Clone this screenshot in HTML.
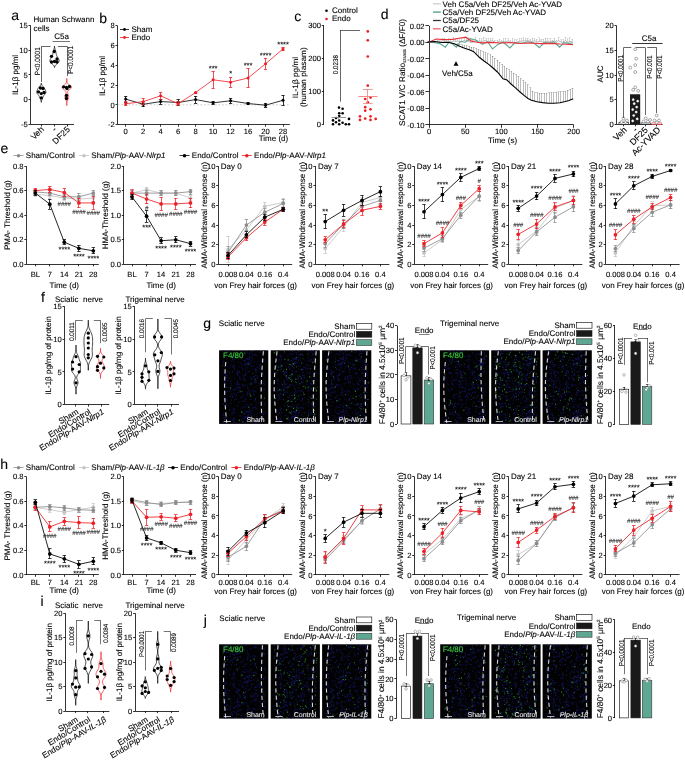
<!DOCTYPE html>
<html><head><meta charset="utf-8"><title>Figure</title>
<style>
html,body{margin:0;padding:0;background:#fff;}
body{width:685px;height:763px;overflow:hidden;}
svg{display:block;font-family:"Liberation Sans",sans-serif;will-change:transform;text-rendering:geometricPrecision;}
text{stroke-width:0.1px;}
</style></head><body>
<svg width="685" height="763" viewBox="0 0 685 763">
<rect width="685" height="763" fill="#fff"/>
<defs><pattern id="nz" width="47" height="53" patternUnits="userSpaceOnUse"><path d="M18.99 10.6h1v1h-1zM11.68 40.27h1v1h-1zM44.1 25.93h1v1h-1zM36.4 24.86h1v1h-1zM12.66 0.4h1v1h-1zM46.51 28.32h1v1h-1zM1.74 1.24h1v1h-1zM38.52 4.3h1v1h-1zM4.04 16.42h1v1h-1zM15.5 27.74h1v1h-1zM37 2.94h1v1h-1zM35.12 32.23h1v1h-1zM4.53 7.61h1v1h-1zM8.35 7.71h1v1h-1zM8.74 3.84h1v1h-1zM27.53 2.53h1v1h-1zM18.76 43.59h1v1h-1zM19.46 19.66h1v1h-1zM18.73 23.53h1v1h-1zM30.75 34.63h1v1h-1zM41.09 38.2h1v1h-1zM38.04 35.74h1v1h-1zM13.93 39.83h1v1h-1zM20.58 51.08h1v1h-1zM12.07 46.72h1v1h-1zM30.94 32.38h1v1h-1zM31.34 23.32h1v1h-1zM32.63 51.13h1v1h-1zM10.87 45.61h1v1h-1zM36.14 10.62h1v1h-1zM45.17 22.09h1v1h-1zM37.3 21.12h1v1h-1zM21.66 6.81h1v1h-1zM19.65 50.58h1v1h-1zM41.8 25.25h1v1h-1zM3.51 12.7h1v1h-1zM0.72 17.48h1v1h-1zM2.23 1.92h1v1h-1zM10.81 40.04h1v1h-1zM20.64 36.86h1v1h-1zM37.85 6.21h1v1h-1zM30.67 43.21h1v1h-1zM28.72 18.02h1v1h-1zM16.09 33.13h1v1h-1zM8.44 5.89h1v1h-1zM45.43 38.73h1v1h-1zM17.71 36.15h1v1h-1zM37.36 12.47h1v1h-1zM37.27 46.33h1v1h-1zM36.38 19.78h1v1h-1zM2.14 21.02h1v1h-1zM38.06 15.67h1v1h-1zM20.09 3.83h1v1h-1zM28.5 16.82h1v1h-1zM15.37 43.94h1v1h-1zM7.7 30.06h1v1h-1zM26.58 1.52h1v1h-1zM42.33 9.53h1v1h-1zM3.48 31.18h1v1h-1zM6.21 48.6h1v1h-1zM9.79 45.3h1v1h-1zM9.48 42.43h1v1h-1zM19.79 27.79h1v1h-1zM11.77 40.66h1v1h-1zM8.89 42.05h1v1h-1zM1.8 3.29h1v1h-1zM2.35 15.52h1v1h-1zM13.88 38.46h1v1h-1zM16.19 7.54h1v1h-1zM39.24 20.12h1v1h-1zM36.65 1.14h1v1h-1zM3.31 0.04h1v1h-1zM36.08 47.93h1v1h-1zM33.47 42.85h1v1h-1zM11.44 49.31h1v1h-1zM29.2 12.88h1v1h-1zM25.13 46.19h1v1h-1zM13.47 41.08h1v1h-1zM43.49 24.05h1v1h-1zM46.82 4.51h1v1h-1zM18.15 5.1h1v1h-1zM7.44 14.53h1v1h-1zM35.18 43.91h1v1h-1zM29.82 24.35h1v1h-1zM28.84 31.9h1v1h-1zM15.87 41.63h1v1h-1zM37.29 0.56h1v1h-1zM21.52 4.43h1v1h-1zM43.86 41.16h1v1h-1zM4.18 5.91h1v1h-1zM39.36 15.78h1v1h-1zM2.01 34.38h1v1h-1zM25.49 18.52h1v1h-1zM16.17 6.8h1v1h-1zM39.2 9.17h1v1h-1zM13.89 35.4h1v1h-1zM9.34 8.35h1v1h-1zM46.14 18.64h1v1h-1zM32.01 48.71h1v1h-1zM14.73 12.56h1v1h-1zM25.76 28.36h1v1h-1zM19.33 29.28h1v1h-1zM16.24 47.5h1v1h-1zM30.61 26.49h1v1h-1zM36.64 52.41h1v1h-1zM38.13 3.7h1v1h-1zM10.18 2.37h1v1h-1zM33.95 1.73h1v1h-1zM1.53 13.21h1v1h-1zM32.5 1.69h1v1h-1zM38.7 28.42h1v1h-1zM19.5 35.86h1v1h-1zM11.94 44.56h1v1h-1zM14.26 0.01h1v1h-1zM45.85 37.23h1v1h-1zM0.84 28.01h1v1h-1zM12.02 20.85h1v1h-1zM41.56 19.85h1v1h-1zM7.32 24.57h1v1h-1zM7.21 50.73h1v1h-1zM36.34 28.19h1v1h-1zM10.13 3.41h1v1h-1zM7.37 12.96h1v1h-1zM44.83 18.08h1v1h-1zM34.06 4.57h1v1h-1zM10.12 51.72h1v1h-1zM32.48 7.2h1v1h-1zM28.89 41.29h1v1h-1zM45.35 47.82h1v1h-1zM5.7 25.96h1v1h-1zM41.77 16.66h1v1h-1zM9.18 46.53h1v1h-1zM35.47 45.98h1v1h-1zM36.26 13.45h1v1h-1zM9.71 27.4h1v1h-1zM16.3 47.71h1v1h-1zM0.82 23.95h1v1h-1zM13.27 43.19h1v1h-1zM8.75 35.85h1v1h-1zM32.43 49.1h1v1h-1zM17.52 19.37h1v1h-1zM44.62 48.87h1v1h-1zM28.34 12.23h1v1h-1zM42.84 28.54h1v1h-1zM5.24 20.6h1v1h-1zM26.01 42.56h1v1h-1zM39.58 0.38h1v1h-1zM41.16 1.21h1v1h-1zM1.55 52.31h1v1h-1zM2.81 15.24h1v1h-1zM12.17 16.7h1v1h-1zM11.67 22.87h1v1h-1zM28.12 42.78h1v1h-1zM29.94 36.35h1v1h-1zM45.98 41.16h1v1h-1zM20.12 27.01h1v1h-1zM45.27 46.54h1v1h-1zM12.79 44.97h1v1h-1zM4.09 0.83h1v1h-1zM36.62 9.23h1v1h-1zM2.2 9.52h1v1h-1zM21.77 48.94h1v1h-1zM32.38 34.95h1v1h-1zM2.01 11.47h1v1h-1zM19.57 11.2h1v1h-1zM9.48 9.08h1v1h-1zM30.19 9.08h1v1h-1zM35.74 15.43h1v1h-1z" fill="#16167c"/><path d="M18 36.27h1v1h-1zM28.82 11.48h1v1h-1zM17.58 20.57h1v1h-1zM7.16 35.01h1v1h-1zM15.92 50.18h1v1h-1zM42.31 32.09h1v1h-1zM16.8 11.44h1v1h-1zM7.56 41.97h1v1h-1zM46.2 50.03h1v1h-1zM12.11 21.42h1v1h-1zM16.63 36.83h1v1h-1zM6.15 45.79h1v1h-1zM26.37 40.84h1v1h-1zM39.77 6.21h1v1h-1zM41.34 48.92h1v1h-1zM23.65 48.08h1v1h-1zM37.05 28.26h1v1h-1zM31.88 32.03h1v1h-1zM41.71 18.31h1v1h-1zM31.26 9.1h1v1h-1zM30.89 39.38h1v1h-1zM18.8 5.95h1v1h-1zM0.06 16.46h1v1h-1zM35.13 8.87h1v1h-1zM20.87 10.88h1v1h-1zM34.73 24.81h1v1h-1zM29.13 33.48h1v1h-1zM4.94 16.3h1v1h-1zM26.19 50.26h1v1h-1zM13.87 40.1h1v1h-1zM20.99 45.06h1v1h-1zM11.76 14.5h1v1h-1zM41.82 20.28h1v1h-1zM44.04 25.4h1v1h-1zM15.78 38.89h1v1h-1zM25.05 33.58h1v1h-1zM19.46 8.8h1v1h-1zM12.95 19.35h1v1h-1zM9.32 29.63h1v1h-1zM31.86 38.41h1v1h-1zM7.06 4.58h1v1h-1zM30.39 8.83h1v1h-1zM33.7 32.59h1v1h-1zM38.41 46.4h1v1h-1zM7.46 50.01h1v1h-1zM38.25 32.34h1v1h-1zM32.6 0.98h1v1h-1zM13.57 21.18h1v1h-1zM42.36 12.07h1v1h-1zM46.61 11.24h1v1h-1zM46.49 13.49h1v1h-1zM20.24 0.17h1v1h-1zM23.64 49.66h1v1h-1zM23.59 12.33h1v1h-1zM34.69 13.17h1v1h-1zM12.06 34.53h1v1h-1zM23.71 46.15h1v1h-1zM11.03 27.8h1v1h-1zM43.39 13.51h1v1h-1zM12.24 23.98h1v1h-1zM1.28 12.27h1v1h-1zM14.94 19.89h1v1h-1zM10.44 32.9h1v1h-1zM20.48 36.67h1v1h-1zM17.38 22.46h1v1h-1zM15.32 5.43h1v1h-1zM20.9 0.89h1v1h-1zM3.65 20.32h1v1h-1zM13.27 40.52h1v1h-1zM33.09 22.57h1v1h-1zM15.08 52.81h1v1h-1zM26.47 33.61h1v1h-1zM9.04 46.81h1v1h-1zM27.2 1.04h1v1h-1zM10.25 35.39h1v1h-1zM0.6 22.77h1v1h-1zM13.48 44.41h1v1h-1zM32.46 52.91h1v1h-1zM4.92 44.62h1v1h-1zM24.74 13.26h1v1h-1zM18.38 47.09h1v1h-1zM10.22 52.83h1v1h-1zM14.41 23.74h1v1h-1zM15.47 6.82h1v1h-1zM26.12 41.41h1v1h-1zM5.38 38.76h1v1h-1zM8.14 29.41h1v1h-1zM2.02 17.23h1v1h-1zM44.33 48.44h1v1h-1zM38.12 33.29h1v1h-1zM33.76 50.91h1v1h-1zM26.2 38.61h1v1h-1zM25.09 1.09h1v1h-1zM25.09 50.62h1v1h-1zM44.9 36.5h1v1h-1zM4.35 20.72h1v1h-1zM25.61 19.75h1v1h-1zM43.34 13.73h1v1h-1zM31.21 15.33h1v1h-1zM19.17 6.83h1v1h-1zM46.13 6.87h1v1h-1zM31.09 40.69h1v1h-1zM20.41 20.35h1v1h-1zM44.98 51.15h1v1h-1zM16.7 39.24h1v1h-1zM3.04 43.9h1v1h-1zM43.81 23.9h1v1h-1zM35.81 26.32h1v1h-1zM46.31 22.87h1v1h-1zM45.6 48.59h1v1h-1zM13.56 32.27h1v1h-1zM17.46 40.27h1v1h-1zM13.36 18.48h1v1h-1zM19.39 52.45h1v1h-1zM42.5 46.48h1v1h-1zM39.45 33.38h1v1h-1zM8.34 30.04h1v1h-1zM2.27 21.14h1v1h-1zM5.53 36.45h1v1h-1zM29.55 13.11h1v1h-1zM23.77 50.67h1v1h-1zM46.65 22.72h1v1h-1zM20.42 14.68h1v1h-1zM29.28 7.6h1v1h-1zM20.87 9.71h1v1h-1zM22.9 31.58h1v1h-1zM42.75 22.77h1v1h-1zM27.67 10.01h1v1h-1zM45.86 50.78h1v1h-1zM1.83 11.65h1v1h-1zM21.68 25.24h1v1h-1zM44.89 43.57h1v1h-1zM10.03 46.37h1v1h-1zM14.18 34.16h1v1h-1zM0.68 1.52h1v1h-1zM4.24 5.73h1v1h-1zM44.74 37.72h1v1h-1zM12.67 16.96h1v1h-1zM22.64 41.82h1v1h-1zM10.38 13.02h1v1h-1zM8.96 14.23h1v1h-1zM8.4 46.53h1v1h-1zM18.07 7.41h1v1h-1zM10.66 39.89h1v1h-1zM33.6 46.35h1v1h-1zM36.89 10.88h1v1h-1zM33.73 9.26h1v1h-1zM3.5 4.19h1v1h-1zM43.27 42.25h1v1h-1zM24.22 16.76h1v1h-1zM28.77 5.87h1v1h-1zM22.58 6.32h1v1h-1zM3.64 48.22h1v1h-1zM3.78 12.83h1v1h-1zM36.09 28.39h1v1h-1zM20.71 32.24h1v1h-1zM34.97 51.51h1v1h-1zM6.11 40.84h1v1h-1zM25.25 49.49h1v1h-1zM35.28 42.02h1v1h-1zM5.11 7.16h1v1h-1zM41.11 6.64h1v1h-1z" fill="#0c0c4a"/></pattern></defs>
<text x="11.2" y="20.2" font-size="14" text-anchor="start" fill="#000" stroke="#000">a</text>
<text x="33.5" y="22.2" font-size="8" text-anchor="start" fill="#000" stroke="#000">Human Schwann</text>
<text x="33.5" y="30.8" font-size="8" text-anchor="start" fill="#000" stroke="#000">cells</text>
<line x1="30.5" y1="25.3" x2="30.5" y2="124.5" stroke="#000" stroke-width="0.8"/>
<line x1="28.5" y1="25.5" x2="30.5" y2="25.5" stroke="#000" stroke-width="0.8"/>
<text x="27.7" y="28.04" font-size="7.6" text-anchor="end" fill="#000" stroke="#000">15</text>
<line x1="28.5" y1="50.5" x2="30.5" y2="50.5" stroke="#000" stroke-width="0.8"/>
<text x="27.7" y="52.84" font-size="7.6" text-anchor="end" fill="#000" stroke="#000">10</text>
<line x1="28.5" y1="74.5" x2="30.5" y2="74.5" stroke="#000" stroke-width="0.8"/>
<text x="27.7" y="77.64" font-size="7.6" text-anchor="end" fill="#000" stroke="#000">5</text>
<line x1="28.5" y1="99.5" x2="30.5" y2="99.5" stroke="#000" stroke-width="0.8"/>
<text x="27.7" y="102.44" font-size="7.6" text-anchor="end" fill="#000" stroke="#000">0</text>
<line x1="28.5" y1="124.5" x2="30.5" y2="124.5" stroke="#000" stroke-width="0.8"/>
<text x="27.7" y="127.24" font-size="7.6" text-anchor="end" fill="#000" stroke="#000">-5</text>
<line x1="30.5" y1="124.5" x2="74" y2="124.5" stroke="#000" stroke-width="0.8"/>
<line x1="41.5" y1="124.5" x2="41.5" y2="126.5" stroke="#000" stroke-width="0.8"/>
<line x1="54.5" y1="124.5" x2="54.5" y2="126.5" stroke="#000" stroke-width="0.8"/>
<line x1="67.5" y1="124.5" x2="67.5" y2="126.5" stroke="#000" stroke-width="0.8"/>
<text x="17.8" y="75" font-size="8" text-anchor="middle" fill="#000" stroke="#000" transform="rotate(-90 17.8 75)">IL-1β pg/ml</text>
<text x="61.5" y="39.2" font-size="8" text-anchor="middle" fill="#000" stroke="#000">C5a</text>
<line x1="52.5" y1="41.5" x2="70" y2="41.5" stroke="#666" stroke-width="0.9"/>
<line x1="41.3" y1="46.5" x2="50.5" y2="46.5" stroke="#000" stroke-width="0.6"/>
<line x1="58" y1="46.5" x2="67.2" y2="46.5" stroke="#000" stroke-width="0.6"/>
<line x1="41.5" y1="46.4" x2="41.5" y2="82" stroke="#000" stroke-width="0.6"/>
<line x1="67.5" y1="46.4" x2="67.5" y2="76" stroke="#000" stroke-width="0.6"/>
<text x="0" y="0" font-size="7.5" text-anchor="middle" fill="#000" stroke="#000" transform="translate(39.7 61.3) rotate(-90) scale(0.87 1)">P&lt;0.0001</text>
<text x="0" y="0" font-size="7.5" text-anchor="middle" fill="#000" stroke="#000" transform="translate(73.3 60) rotate(-90) scale(0.87 1)">P&lt;0.0001</text>
<polyline points="41.3,83.1 41.23,83.58 41.12,84.06 40.95,84.55 40.72,85.03 40.41,85.51 40.05,85.99 39.64,86.48 39.21,86.96 38.79,87.44 38.41,87.92 38.07,88.41 37.78,88.89 37.54,89.37 37.32,89.86 37.13,90.34 36.95,90.82 36.81,91.3 36.72,91.78 36.72,92.27 36.82,92.75 37.03,93.23 37.34,93.72 37.71,94.2 38.11,94.68 38.49,95.16 38.83,95.64 39.12,96.13 39.36,96.61 39.57,97.09 39.75,97.58 39.94,98.06 40.14,98.54 40.34,99.02 40.55,99.5 40.75,99.99 40.92,100.47 41.07,100.95 41.18,101.44 41.26,101.92 41.3,102.4 41.3,102.4 41.34,101.92 41.42,101.44 41.53,100.95 41.68,100.47 41.85,99.99 42.05,99.5 42.26,99.02 42.46,98.54 42.66,98.06 42.85,97.58 43.03,97.09 43.24,96.61 43.48,96.13 43.77,95.64 44.11,95.16 44.49,94.68 44.89,94.2 45.26,93.72 45.57,93.23 45.78,92.75 45.88,92.27 45.88,91.78 45.79,91.3 45.65,90.82 45.47,90.34 45.28,89.86 45.06,89.37 44.82,88.89 44.53,88.41 44.19,87.92 43.81,87.44 43.39,86.96 42.96,86.48 42.55,85.99 42.19,85.51 41.88,85.03 41.65,84.55 41.48,84.06 41.37,83.58 41.3,83.1 41.3,83.1" stroke="#000" stroke-width="0.7" fill="#fff"/>
<circle cx="40.4" cy="88" r="1.65" fill="#000" stroke="none" stroke-width="0.6"/>
<circle cx="43" cy="88.5" r="1.65" fill="#000" stroke="none" stroke-width="0.6"/>
<circle cx="38.5" cy="91.8" r="1.65" fill="#000" stroke="none" stroke-width="0.6"/>
<circle cx="44" cy="92.5" r="1.65" fill="#000" stroke="none" stroke-width="0.6"/>
<circle cx="41.3" cy="93.6" r="1.65" fill="#000" stroke="none" stroke-width="0.6"/>
<circle cx="41.3" cy="97.8" r="1.65" fill="#000" stroke="none" stroke-width="0.6"/>
<polyline points="54.5,46 54.47,46.54 54.41,47.08 54.33,47.61 54.21,48.15 54.06,48.69 53.88,49.23 53.69,49.76 53.51,50.3 53.34,50.84 53.19,51.38 53.09,51.91 53,52.45 52.93,52.99 52.86,53.52 52.77,54.06 52.64,54.6 52.47,55.14 52.26,55.67 52.02,56.21 51.76,56.75 51.47,57.29 51.16,57.83 50.83,58.36 50.51,58.9 50.22,59.44 49.99,59.98 49.85,60.51 49.86,61.05 50.02,61.59 50.34,62.12 50.81,62.66 51.38,63.2 51.99,63.74 52.59,64.28 53.13,64.81 53.58,65.35 53.93,65.89 54.19,66.42 54.36,66.96 54.5,67.5 54.5,67.5 54.64,66.96 54.81,66.42 55.07,65.89 55.42,65.35 55.87,64.81 56.41,64.28 57.01,63.74 57.62,63.2 58.19,62.66 58.66,62.12 58.98,61.59 59.14,61.05 59.15,60.51 59.01,59.98 58.78,59.44 58.49,58.9 58.17,58.36 57.84,57.83 57.53,57.29 57.24,56.75 56.98,56.21 56.74,55.67 56.53,55.14 56.36,54.6 56.23,54.06 56.14,53.52 56.07,52.99 56,52.45 55.91,51.91 55.81,51.38 55.66,50.84 55.49,50.3 55.31,49.76 55.12,49.23 54.94,48.69 54.79,48.15 54.67,47.61 54.59,47.08 54.53,46.54 54.5,46 54.5,46" stroke="#000" stroke-width="0.7" fill="#fff"/>
<circle cx="54.3" cy="51.5" r="1.65" fill="#000" stroke="none" stroke-width="0.6"/>
<circle cx="51.5" cy="56.3" r="1.65" fill="#000" stroke="none" stroke-width="0.6"/>
<circle cx="57" cy="59" r="1.65" fill="#000" stroke="none" stroke-width="0.6"/>
<circle cx="51.5" cy="62" r="1.65" fill="#000" stroke="none" stroke-width="0.6"/>
<circle cx="54.5" cy="61.5" r="1.65" fill="#000" stroke="none" stroke-width="0.6"/>
<circle cx="57" cy="62" r="1.65" fill="#000" stroke="none" stroke-width="0.6"/>
<polyline points="66.8,78.5 66.8,79.18 66.8,79.86 66.78,80.53 66.75,81.21 66.66,81.89 66.48,82.56 66.15,83.24 65.61,83.92 64.86,84.6 63.96,85.28 63.06,85.95 62.37,86.63 62.07,87.31 62.24,87.98 62.82,88.66 63.65,89.34 64.52,90.02 65.27,90.69 65.79,91.37 66.04,92.05 66.05,92.73 65.88,93.41 65.61,94.08 65.33,94.76 65.09,95.44 64.94,96.11 64.89,96.79 64.94,97.47 65.09,98.15 65.33,98.82 65.63,99.5 65.94,100.18 66.24,100.86 66.47,101.53 66.63,102.21 66.72,102.89 66.77,103.57 66.79,104.24 66.8,104.92 66.8,105.6 66.8,105.6 66.8,104.92 66.81,104.24 66.83,103.57 66.88,102.89 66.97,102.21 67.13,101.53 67.36,100.86 67.66,100.18 67.97,99.5 68.27,98.82 68.51,98.15 68.66,97.47 68.71,96.79 68.66,96.11 68.51,95.44 68.27,94.76 67.99,94.08 67.72,93.41 67.55,92.73 67.56,92.05 67.81,91.37 68.33,90.69 69.08,90.02 69.95,89.34 70.78,88.66 71.36,87.98 71.53,87.31 71.23,86.63 70.54,85.95 69.64,85.28 68.74,84.6 67.99,83.92 67.45,83.24 67.12,82.56 66.94,81.89 66.85,81.21 66.82,80.53 66.8,79.86 66.8,79.18 66.8,78.5 66.8,78.5" stroke="#ec1f26" stroke-width="0.7" fill="#fff"/>
<circle cx="63.6" cy="86.8" r="1.65" fill="#000" stroke="none" stroke-width="0.6"/>
<circle cx="66.5" cy="87.5" r="1.65" fill="#000" stroke="none" stroke-width="0.6"/>
<circle cx="69.5" cy="86.5" r="1.65" fill="#000" stroke="none" stroke-width="0.6"/>
<circle cx="67" cy="88.5" r="1.65" fill="#000" stroke="none" stroke-width="0.6"/>
<circle cx="66.5" cy="95.5" r="1.65" fill="#000" stroke="none" stroke-width="0.6"/>
<circle cx="66.5" cy="98.5" r="1.65" fill="#000" stroke="none" stroke-width="0.6"/>
<text x="44.5" y="130" font-size="8.5" text-anchor="end" fill="#000" stroke="#000" transform="rotate(-45 44.5 130)">Veh</text>
<text x="57" y="130" font-size="8.5" text-anchor="end" fill="#000" stroke="#000" transform="rotate(-45 57 130)">-</text>
<text x="70.5" y="130" font-size="8.5" text-anchor="end" fill="#000" stroke="#000" transform="rotate(-45 70.5 130)">DF25</text>
<text x="99.2" y="22.5" font-size="14" text-anchor="start" fill="#000" stroke="#000">b</text>
<line x1="117.5" y1="25.7" x2="117.5" y2="124.7" stroke="#000" stroke-width="0.8"/>
<line x1="115.5" y1="25.5" x2="117.5" y2="25.5" stroke="#000" stroke-width="0.8"/>
<text x="114.7" y="28.44" font-size="7.6" text-anchor="end" fill="#000" stroke="#000">8</text>
<line x1="115.5" y1="45.5" x2="117.5" y2="45.5" stroke="#000" stroke-width="0.8"/>
<text x="114.7" y="48.21" font-size="7.6" text-anchor="end" fill="#000" stroke="#000">6</text>
<line x1="115.5" y1="65.5" x2="117.5" y2="65.5" stroke="#000" stroke-width="0.8"/>
<text x="114.7" y="67.99" font-size="7.6" text-anchor="end" fill="#000" stroke="#000">4</text>
<line x1="115.5" y1="85.5" x2="117.5" y2="85.5" stroke="#000" stroke-width="0.8"/>
<text x="114.7" y="87.76" font-size="7.6" text-anchor="end" fill="#000" stroke="#000">2</text>
<line x1="115.5" y1="104.5" x2="117.5" y2="104.5" stroke="#000" stroke-width="0.8"/>
<text x="114.7" y="107.54" font-size="7.6" text-anchor="end" fill="#000" stroke="#000">0</text>
<line x1="115.5" y1="124.5" x2="117.5" y2="124.5" stroke="#000" stroke-width="0.8"/>
<text x="114.7" y="127.31" font-size="7.6" text-anchor="end" fill="#000" stroke="#000">-2</text>
<line x1="117.5" y1="124.5" x2="289.8" y2="124.5" stroke="#000" stroke-width="0.8"/>
<line x1="125.5" y1="124.7" x2="125.5" y2="126.7" stroke="#000" stroke-width="0.8"/>
<line x1="143.5" y1="124.7" x2="143.5" y2="126.7" stroke="#000" stroke-width="0.8"/>
<line x1="160.5" y1="124.7" x2="160.5" y2="126.7" stroke="#000" stroke-width="0.8"/>
<line x1="178.5" y1="124.7" x2="178.5" y2="126.7" stroke="#000" stroke-width="0.8"/>
<line x1="195.5" y1="124.7" x2="195.5" y2="126.7" stroke="#000" stroke-width="0.8"/>
<line x1="213.5" y1="124.7" x2="213.5" y2="126.7" stroke="#000" stroke-width="0.8"/>
<line x1="230.5" y1="124.7" x2="230.5" y2="126.7" stroke="#000" stroke-width="0.8"/>
<line x1="248.5" y1="124.7" x2="248.5" y2="126.7" stroke="#000" stroke-width="0.8"/>
<line x1="265.5" y1="124.7" x2="265.5" y2="126.7" stroke="#000" stroke-width="0.8"/>
<line x1="283.5" y1="124.7" x2="283.5" y2="126.7" stroke="#000" stroke-width="0.8"/>
<text x="125.7" y="134.2" font-size="7.6" text-anchor="middle" fill="#000" stroke="#000">0</text>
<text x="143.18" y="134.2" font-size="7.6" text-anchor="middle" fill="#000" stroke="#000">2</text>
<text x="160.66" y="134.2" font-size="7.6" text-anchor="middle" fill="#000" stroke="#000">4</text>
<text x="178.14" y="134.2" font-size="7.6" text-anchor="middle" fill="#000" stroke="#000">6</text>
<text x="195.62" y="134.2" font-size="7.6" text-anchor="middle" fill="#000" stroke="#000">8</text>
<text x="213.1" y="134.2" font-size="7.6" text-anchor="middle" fill="#000" stroke="#000">10</text>
<text x="230.58" y="134.2" font-size="7.6" text-anchor="middle" fill="#000" stroke="#000">12</text>
<text x="248.06" y="134.2" font-size="7.6" text-anchor="middle" fill="#000" stroke="#000">16</text>
<text x="265.54" y="134.2" font-size="7.6" text-anchor="middle" fill="#000" stroke="#000">20</text>
<text x="283.02" y="134.2" font-size="7.6" text-anchor="middle" fill="#000" stroke="#000">28</text>
<text x="273.5" y="141" font-size="8" text-anchor="middle" fill="#000" stroke="#000">Time (d)</text>
<text x="105.3" y="76" font-size="8" text-anchor="middle" fill="#000" stroke="#000" transform="rotate(-90 105.3 76)">IL-1β pg/ml</text>
<line x1="117.5" y1="104.8" x2="289.8" y2="104.8" stroke="#bdbdbd" stroke-width="0.7" stroke-dasharray="2,1.6"/>
<line x1="125.5" y1="96.11" x2="125.5" y2="102.04" stroke="#000" stroke-width="0.8"/>
<line x1="124.1" y1="96.5" x2="127.3" y2="96.5" stroke="#000" stroke-width="0.8"/>
<line x1="124.1" y1="102.5" x2="127.3" y2="102.5" stroke="#000" stroke-width="0.8"/>
<line x1="143.5" y1="101.84" x2="143.5" y2="106.79" stroke="#000" stroke-width="0.8"/>
<line x1="141.58" y1="101.5" x2="144.78" y2="101.5" stroke="#000" stroke-width="0.8"/>
<line x1="141.58" y1="106.5" x2="144.78" y2="106.5" stroke="#000" stroke-width="0.8"/>
<line x1="160.5" y1="99.07" x2="160.5" y2="104.02" stroke="#000" stroke-width="0.8"/>
<line x1="159.06" y1="99.5" x2="162.26" y2="99.5" stroke="#000" stroke-width="0.8"/>
<line x1="159.06" y1="104.5" x2="162.26" y2="104.5" stroke="#000" stroke-width="0.8"/>
<line x1="178.5" y1="99.57" x2="178.5" y2="105.5" stroke="#000" stroke-width="0.8"/>
<line x1="176.54" y1="99.5" x2="179.74" y2="99.5" stroke="#000" stroke-width="0.8"/>
<line x1="176.54" y1="105.5" x2="179.74" y2="105.5" stroke="#000" stroke-width="0.8"/>
<line x1="195.5" y1="96.11" x2="195.5" y2="103.03" stroke="#000" stroke-width="0.8"/>
<line x1="194.02" y1="96.5" x2="197.22" y2="96.5" stroke="#000" stroke-width="0.8"/>
<line x1="194.02" y1="103.5" x2="197.22" y2="103.5" stroke="#000" stroke-width="0.8"/>
<line x1="213.5" y1="101.64" x2="213.5" y2="104.02" stroke="#000" stroke-width="0.8"/>
<line x1="211.5" y1="101.5" x2="214.7" y2="101.5" stroke="#000" stroke-width="0.8"/>
<line x1="211.5" y1="104.5" x2="214.7" y2="104.5" stroke="#000" stroke-width="0.8"/>
<line x1="230.5" y1="98.28" x2="230.5" y2="103.23" stroke="#000" stroke-width="0.8"/>
<line x1="228.98" y1="98.5" x2="232.18" y2="98.5" stroke="#000" stroke-width="0.8"/>
<line x1="228.98" y1="103.5" x2="232.18" y2="103.5" stroke="#000" stroke-width="0.8"/>
<line x1="248.5" y1="102.73" x2="248.5" y2="104.31" stroke="#000" stroke-width="0.8"/>
<line x1="246.46" y1="102.5" x2="249.66" y2="102.5" stroke="#000" stroke-width="0.8"/>
<line x1="246.46" y1="104.5" x2="249.66" y2="104.5" stroke="#000" stroke-width="0.8"/>
<line x1="265.5" y1="103.23" x2="265.5" y2="107.18" stroke="#000" stroke-width="0.8"/>
<line x1="263.94" y1="103.5" x2="267.14" y2="103.5" stroke="#000" stroke-width="0.8"/>
<line x1="263.94" y1="107.5" x2="267.14" y2="107.5" stroke="#000" stroke-width="0.8"/>
<line x1="283.5" y1="95.32" x2="283.5" y2="105.2" stroke="#000" stroke-width="0.8"/>
<line x1="281.42" y1="95.5" x2="284.62" y2="95.5" stroke="#000" stroke-width="0.8"/>
<line x1="281.42" y1="105.5" x2="284.62" y2="105.5" stroke="#000" stroke-width="0.8"/>
<polyline points="125.7,99.07 143.18,104.31 160.66,101.55 178.14,102.53 195.62,99.57 213.1,102.83 230.58,100.75 248.06,103.52 265.54,105.2 283.02,100.26" stroke="#000" stroke-width="0.8" fill="none"/>
<circle cx="125.7" cy="99.07" r="1.5" fill="#000" stroke="none" stroke-width="0.6"/>
<circle cx="143.18" cy="104.31" r="1.5" fill="#000" stroke="none" stroke-width="0.6"/>
<circle cx="160.66" cy="101.55" r="1.5" fill="#000" stroke="none" stroke-width="0.6"/>
<circle cx="178.14" cy="102.53" r="1.5" fill="#000" stroke="none" stroke-width="0.6"/>
<circle cx="195.62" cy="99.57" r="1.5" fill="#000" stroke="none" stroke-width="0.6"/>
<circle cx="213.1" cy="102.83" r="1.5" fill="#000" stroke="none" stroke-width="0.6"/>
<circle cx="230.58" cy="100.75" r="1.5" fill="#000" stroke="none" stroke-width="0.6"/>
<circle cx="248.06" cy="103.52" r="1.5" fill="#000" stroke="none" stroke-width="0.6"/>
<circle cx="265.54" cy="105.2" r="1.5" fill="#000" stroke="none" stroke-width="0.6"/>
<circle cx="283.02" cy="100.26" r="1.5" fill="#000" stroke="none" stroke-width="0.6"/>
<line x1="125.5" y1="101.74" x2="125.5" y2="105.7" stroke="#ec1f26" stroke-width="0.8"/>
<line x1="124.1" y1="101.5" x2="127.3" y2="101.5" stroke="#ec1f26" stroke-width="0.8"/>
<line x1="124.1" y1="105.5" x2="127.3" y2="105.5" stroke="#ec1f26" stroke-width="0.8"/>
<line x1="143.5" y1="98.68" x2="143.5" y2="104.61" stroke="#ec1f26" stroke-width="0.8"/>
<line x1="141.58" y1="98.5" x2="144.78" y2="98.5" stroke="#ec1f26" stroke-width="0.8"/>
<line x1="141.58" y1="104.5" x2="144.78" y2="104.5" stroke="#ec1f26" stroke-width="0.8"/>
<line x1="160.5" y1="92.35" x2="160.5" y2="99.27" stroke="#ec1f26" stroke-width="0.8"/>
<line x1="159.06" y1="92.5" x2="162.26" y2="92.5" stroke="#ec1f26" stroke-width="0.8"/>
<line x1="159.06" y1="99.5" x2="162.26" y2="99.5" stroke="#ec1f26" stroke-width="0.8"/>
<line x1="178.5" y1="101.74" x2="178.5" y2="105.7" stroke="#ec1f26" stroke-width="0.8"/>
<line x1="176.54" y1="101.5" x2="179.74" y2="101.5" stroke="#ec1f26" stroke-width="0.8"/>
<line x1="176.54" y1="105.5" x2="179.74" y2="105.5" stroke="#ec1f26" stroke-width="0.8"/>
<line x1="195.5" y1="92.05" x2="195.5" y2="93.04" stroke="#ec1f26" stroke-width="0.8"/>
<line x1="194.02" y1="92.5" x2="197.22" y2="92.5" stroke="#ec1f26" stroke-width="0.8"/>
<line x1="194.02" y1="93.5" x2="197.22" y2="93.5" stroke="#ec1f26" stroke-width="0.8"/>
<line x1="213.5" y1="71.39" x2="213.5" y2="88.2" stroke="#ec1f26" stroke-width="0.8"/>
<line x1="211.5" y1="71.5" x2="214.7" y2="71.5" stroke="#ec1f26" stroke-width="0.8"/>
<line x1="211.5" y1="88.5" x2="214.7" y2="88.5" stroke="#ec1f26" stroke-width="0.8"/>
<line x1="230.5" y1="77.22" x2="230.5" y2="87.11" stroke="#ec1f26" stroke-width="0.8"/>
<line x1="228.98" y1="77.5" x2="232.18" y2="77.5" stroke="#ec1f26" stroke-width="0.8"/>
<line x1="228.98" y1="87.5" x2="232.18" y2="87.5" stroke="#ec1f26" stroke-width="0.8"/>
<line x1="248.5" y1="68.62" x2="248.5" y2="87.41" stroke="#ec1f26" stroke-width="0.8"/>
<line x1="246.46" y1="68.5" x2="249.66" y2="68.5" stroke="#ec1f26" stroke-width="0.8"/>
<line x1="246.46" y1="87.5" x2="249.66" y2="87.5" stroke="#ec1f26" stroke-width="0.8"/>
<line x1="265.5" y1="58.34" x2="265.5" y2="69.21" stroke="#ec1f26" stroke-width="0.8"/>
<line x1="263.94" y1="58.5" x2="267.14" y2="58.5" stroke="#ec1f26" stroke-width="0.8"/>
<line x1="263.94" y1="69.5" x2="267.14" y2="69.5" stroke="#ec1f26" stroke-width="0.8"/>
<line x1="283.5" y1="47.46" x2="283.5" y2="50.43" stroke="#ec1f26" stroke-width="0.8"/>
<line x1="281.42" y1="47.5" x2="284.62" y2="47.5" stroke="#ec1f26" stroke-width="0.8"/>
<line x1="281.42" y1="50.5" x2="284.62" y2="50.5" stroke="#ec1f26" stroke-width="0.8"/>
<polyline points="125.7,103.72 143.18,101.64 160.66,95.81 178.14,103.72 195.62,92.55 213.1,79.79 230.58,82.17 248.06,78.01 265.54,63.77 283.02,48.94" stroke="#ec1f26" stroke-width="0.8" fill="none"/>
<circle cx="125.7" cy="103.72" r="1.5" fill="#ec1f26" stroke="none" stroke-width="0.6"/>
<circle cx="143.18" cy="101.64" r="1.5" fill="#ec1f26" stroke="none" stroke-width="0.6"/>
<circle cx="160.66" cy="95.81" r="1.5" fill="#ec1f26" stroke="none" stroke-width="0.6"/>
<circle cx="178.14" cy="103.72" r="1.5" fill="#ec1f26" stroke="none" stroke-width="0.6"/>
<circle cx="195.62" cy="92.55" r="1.5" fill="#ec1f26" stroke="none" stroke-width="0.6"/>
<circle cx="213.1" cy="79.79" r="1.5" fill="#ec1f26" stroke="none" stroke-width="0.6"/>
<circle cx="230.58" cy="82.17" r="1.5" fill="#ec1f26" stroke="none" stroke-width="0.6"/>
<circle cx="248.06" cy="78.01" r="1.5" fill="#ec1f26" stroke="none" stroke-width="0.6"/>
<circle cx="265.54" cy="63.77" r="1.5" fill="#ec1f26" stroke="none" stroke-width="0.6"/>
<circle cx="283.02" cy="48.94" r="1.5" fill="#ec1f26" stroke="none" stroke-width="0.6"/>
<text x="213.1" y="70.56" font-size="7.4" text-anchor="middle" fill="#000" stroke="#000">***</text>
<text x="230.58" y="76.4" font-size="7.4" text-anchor="middle" fill="#000" stroke="#000">*</text>
<text x="248.06" y="67.79" font-size="7.4" text-anchor="middle" fill="#000" stroke="#000">***</text>
<text x="265.54" y="57.51" font-size="7.4" text-anchor="middle" fill="#000" stroke="#000">****</text>
<text x="283.02" y="46.63" font-size="7.4" text-anchor="middle" fill="#000" stroke="#000">****</text>
<line x1="120" y1="29.5" x2="129" y2="29.5" stroke="#000" stroke-width="0.8"/>
<circle cx="124.5" cy="29.5" r="1.4" fill="#000" stroke="none" stroke-width="0.6"/>
<text x="131.5" y="31.8" font-size="8" text-anchor="start" fill="#000" stroke="#000">Sham</text>
<line x1="120" y1="37.5" x2="129" y2="37.5" stroke="#ec1f26" stroke-width="0.8"/>
<circle cx="124.5" cy="37.5" r="1.4" fill="#ec1f26" stroke="none" stroke-width="0.6"/>
<text x="131.5" y="39.8" font-size="8" text-anchor="start" fill="#000" stroke="#000">Endo</text>
<text x="294.3" y="21.2" font-size="14" text-anchor="start" fill="#000" stroke="#000">c</text>
<line x1="323.5" y1="25.3" x2="323.5" y2="124.5" stroke="#000" stroke-width="0.8"/>
<line x1="321.8" y1="25.5" x2="323.8" y2="25.5" stroke="#000" stroke-width="0.8"/>
<text x="321" y="28.04" font-size="7.6" text-anchor="end" fill="#000" stroke="#000">300</text>
<line x1="321.8" y1="58.5" x2="323.8" y2="58.5" stroke="#000" stroke-width="0.8"/>
<text x="321" y="61.1" font-size="7.6" text-anchor="end" fill="#000" stroke="#000">200</text>
<line x1="321.8" y1="91.5" x2="323.8" y2="91.5" stroke="#000" stroke-width="0.8"/>
<text x="321" y="94.17" font-size="7.6" text-anchor="end" fill="#000" stroke="#000">100</text>
<line x1="321.8" y1="124.5" x2="323.8" y2="124.5" stroke="#000" stroke-width="0.8"/>
<text x="321" y="127.24" font-size="7.6" text-anchor="end" fill="#000" stroke="#000">0</text>
<text x="0" y="0" font-size="7.8" text-anchor="middle" fill="#000" stroke="#000" transform="translate(298.1 77.6) rotate(-90) scale(1.06 1)">IL-1β pg/ml</text>
<text x="0" y="0" font-size="7.8" text-anchor="middle" fill="#000" stroke="#000" transform="translate(305.5 77.2) rotate(-90) scale(1.06 1)">(human plasam)</text>
<circle cx="326.5" cy="10.8" r="1.3" fill="#000" stroke="none" stroke-width="0.6"/>
<text x="332" y="13.2" font-size="8" text-anchor="start" fill="#000" stroke="#000">Control</text>
<circle cx="326.5" cy="19" r="1.3" fill="#ec1f26" stroke="none" stroke-width="0.6"/>
<text x="332" y="21.4" font-size="8" text-anchor="start" fill="#000" stroke="#000">Endo</text>
<line x1="340.5" y1="30" x2="340.5" y2="101.7" stroke="#000" stroke-width="0.6"/>
<line x1="340.4" y1="30.5" x2="360" y2="30.5" stroke="#000" stroke-width="0.6"/>
<text x="0" y="0" font-size="7.2" text-anchor="middle" fill="#000" stroke="#000" transform="translate(337.7 64.6) rotate(-90) scale(0.86 1)">0.0238</text>
<circle cx="339" cy="107.6" r="1.3" fill="#000" stroke="none" stroke-width="0.6"/>
<circle cx="342.6" cy="108.8" r="1.3" fill="#000" stroke="none" stroke-width="0.6"/>
<circle cx="339.2" cy="113.2" r="1.3" fill="#000" stroke="none" stroke-width="0.6"/>
<circle cx="342.6" cy="113.2" r="1.3" fill="#000" stroke="none" stroke-width="0.6"/>
<circle cx="339.2" cy="116" r="1.3" fill="#000" stroke="none" stroke-width="0.6"/>
<circle cx="336" cy="118" r="1.3" fill="#000" stroke="none" stroke-width="0.6"/>
<circle cx="349" cy="118.9" r="1.3" fill="#000" stroke="none" stroke-width="0.6"/>
<circle cx="333" cy="120.4" r="1.3" fill="#000" stroke="none" stroke-width="0.6"/>
<circle cx="339.2" cy="120.5" r="1.3" fill="#000" stroke="none" stroke-width="0.6"/>
<circle cx="336" cy="122.3" r="1.3" fill="#000" stroke="none" stroke-width="0.6"/>
<circle cx="342.6" cy="122.7" r="1.3" fill="#000" stroke="none" stroke-width="0.6"/>
<circle cx="333" cy="124.3" r="1.3" fill="#000" stroke="none" stroke-width="0.6"/>
<circle cx="339.2" cy="124.3" r="1.3" fill="#000" stroke="none" stroke-width="0.6"/>
<circle cx="345.8" cy="124.3" r="1.3" fill="#000" stroke="none" stroke-width="0.6"/>
<circle cx="349" cy="124.3" r="1.3" fill="#000" stroke="none" stroke-width="0.6"/>
<line x1="331.6" y1="117.5" x2="346" y2="117.5" stroke="#888" stroke-width="0.9"/>
<line x1="338.5" y1="116.2" x2="338.5" y2="119.4" stroke="#888" stroke-width="0.6"/>
<circle cx="367.8" cy="31.4" r="1.35" fill="#ec1f26" stroke="none" stroke-width="0.6"/>
<circle cx="367.8" cy="40.3" r="1.35" fill="#ec1f26" stroke="none" stroke-width="0.6"/>
<circle cx="367.8" cy="56.5" r="1.35" fill="#ec1f26" stroke="none" stroke-width="0.6"/>
<circle cx="367.8" cy="85.7" r="1.35" fill="#ec1f26" stroke="none" stroke-width="0.6"/>
<circle cx="365.2" cy="99" r="1.35" fill="#ec1f26" stroke="none" stroke-width="0.6"/>
<circle cx="370.5" cy="97.6" r="1.35" fill="#ec1f26" stroke="none" stroke-width="0.6"/>
<circle cx="367.8" cy="102.3" r="1.35" fill="#ec1f26" stroke="none" stroke-width="0.6"/>
<circle cx="365.2" cy="107.2" r="1.35" fill="#ec1f26" stroke="none" stroke-width="0.6"/>
<circle cx="365.2" cy="110.7" r="1.35" fill="#ec1f26" stroke="none" stroke-width="0.6"/>
<circle cx="370.5" cy="109.3" r="1.35" fill="#ec1f26" stroke="none" stroke-width="0.6"/>
<circle cx="360" cy="116.3" r="1.35" fill="#ec1f26" stroke="none" stroke-width="0.6"/>
<circle cx="360" cy="119.9" r="1.35" fill="#ec1f26" stroke="none" stroke-width="0.6"/>
<circle cx="365.2" cy="118.6" r="1.35" fill="#ec1f26" stroke="none" stroke-width="0.6"/>
<circle cx="370.5" cy="116.3" r="1.35" fill="#ec1f26" stroke="none" stroke-width="0.6"/>
<circle cx="370.5" cy="119.9" r="1.35" fill="#ec1f26" stroke="none" stroke-width="0.6"/>
<circle cx="375.7" cy="118.9" r="1.35" fill="#ec1f26" stroke="none" stroke-width="0.6"/>
<line x1="358.3" y1="96.5" x2="377.5" y2="96.5" stroke="#f08080" stroke-width="0.9"/>
<line x1="367.5" y1="89.2" x2="367.5" y2="103.8" stroke="#f08080" stroke-width="0.8"/>
<line x1="363" y1="89.5" x2="372.7" y2="89.5" stroke="#f08080" stroke-width="0.8"/>
<line x1="363" y1="103.5" x2="372.7" y2="103.5" stroke="#f08080" stroke-width="0.8"/>
<text x="380.8" y="19.3" font-size="14" text-anchor="start" fill="#000" stroke="#000">d</text>
<line x1="429.5" y1="25.8" x2="429.5" y2="124.8" stroke="#000" stroke-width="0.8"/>
<line x1="425.4" y1="25.5" x2="429" y2="25.5" stroke="#000" stroke-width="0.8"/>
<text x="424.6" y="28.54" font-size="7.6" text-anchor="end" fill="#000" stroke="#000">0.02</text>
<line x1="425.4" y1="42.5" x2="429" y2="42.5" stroke="#000" stroke-width="0.8"/>
<text x="424.6" y="45.04" font-size="7.6" text-anchor="end" fill="#000" stroke="#000">0.00</text>
<line x1="425.4" y1="58.5" x2="429" y2="58.5" stroke="#000" stroke-width="0.8"/>
<text x="424.6" y="61.54" font-size="7.6" text-anchor="end" fill="#000" stroke="#000">-0.02</text>
<line x1="425.4" y1="75.5" x2="429" y2="75.5" stroke="#000" stroke-width="0.8"/>
<text x="424.6" y="78.04" font-size="7.6" text-anchor="end" fill="#000" stroke="#000">-0.04</text>
<line x1="425.4" y1="91.5" x2="429" y2="91.5" stroke="#000" stroke-width="0.8"/>
<text x="424.6" y="94.54" font-size="7.6" text-anchor="end" fill="#000" stroke="#000">-0.06</text>
<line x1="425.4" y1="108.5" x2="429" y2="108.5" stroke="#000" stroke-width="0.8"/>
<text x="424.6" y="111.04" font-size="7.6" text-anchor="end" fill="#000" stroke="#000">-0.08</text>
<line x1="425.4" y1="124.5" x2="429" y2="124.5" stroke="#000" stroke-width="0.8"/>
<text x="424.6" y="127.54" font-size="7.6" text-anchor="end" fill="#000" stroke="#000">-0.10</text>
<line x1="429" y1="124.5" x2="573.7" y2="124.5" stroke="#000" stroke-width="0.8"/>
<line x1="429.5" y1="124.8" x2="429.5" y2="127.8" stroke="#000" stroke-width="0.8"/>
<line x1="465.5" y1="124.8" x2="465.5" y2="127.8" stroke="#000" stroke-width="0.8"/>
<line x1="501.5" y1="124.8" x2="501.5" y2="127.8" stroke="#000" stroke-width="0.8"/>
<line x1="537.5" y1="124.8" x2="537.5" y2="127.8" stroke="#000" stroke-width="0.8"/>
<line x1="573.5" y1="124.8" x2="573.5" y2="127.8" stroke="#000" stroke-width="0.8"/>
<text x="429" y="134" font-size="7.6" text-anchor="middle" fill="#000" stroke="#000">0</text>
<text x="465.18" y="134" font-size="7.6" text-anchor="middle" fill="#000" stroke="#000">50</text>
<text x="501.35" y="134" font-size="7.6" text-anchor="middle" fill="#000" stroke="#000">100</text>
<text x="537.52" y="134" font-size="7.6" text-anchor="middle" fill="#000" stroke="#000">150</text>
<text x="573.7" y="134" font-size="7.6" text-anchor="middle" fill="#000" stroke="#000">200</text>
<text x="502.6" y="143" font-size="8" text-anchor="middle" fill="#000" stroke="#000">Time (s)</text>
<text x="405.0" y="72.5" font-size="8.2" stroke="#000" text-anchor="middle" transform="rotate(-90 405.0 72.5)">SCAT1 V/C Ratio<tspan font-size="3.8" dy="1.3">525/435</tspan><tspan dy="-1.3"> (ΔF/F0)</tspan></text>
<line x1="433" y1="3.8" x2="440.8" y2="3.8" stroke="#cfcfcf" stroke-width="1.3"/>
<text x="442.6" y="6.6" font-size="8" text-anchor="start" fill="#000" stroke="#000">Veh C5a/Veh DF25/Veh Ac-YVAD</text>
<line x1="433" y1="12.1" x2="440.8" y2="12.1" stroke="#4a9e86" stroke-width="1.3"/>
<text x="442.6" y="14.9" font-size="8" text-anchor="start" fill="#000" stroke="#000">C5a/Veh DF25/Veh Ac-YVAD</text>
<line x1="433" y1="20.5" x2="440.8" y2="20.5" stroke="#333" stroke-width="1.3"/>
<text x="442.6" y="23.3" font-size="8" text-anchor="start" fill="#000" stroke="#000">C5a/DF25</text>
<line x1="433" y1="28.8" x2="440.8" y2="28.8" stroke="#f0606c" stroke-width="1.3"/>
<text x="442.6" y="31.6" font-size="8" text-anchor="start" fill="#000" stroke="#000">C5a/Ac-YVAD</text>
<line x1="457.5" y1="45.21" x2="457.5" y2="43.99" stroke="#444" stroke-width="0.35"/>
<line x1="456.55" y1="43.5" x2="458.15" y2="43.5" stroke="#444" stroke-width="0.35"/>
<line x1="459.5" y1="46.29" x2="459.5" y2="44.48" stroke="#444" stroke-width="0.35"/>
<line x1="458.9" y1="44.5" x2="460.5" y2="44.5" stroke="#444" stroke-width="0.35"/>
<line x1="462.5" y1="47.25" x2="462.5" y2="44.97" stroke="#444" stroke-width="0.35"/>
<line x1="461.25" y1="44.5" x2="462.85" y2="44.5" stroke="#444" stroke-width="0.35"/>
<line x1="464.5" y1="48.22" x2="464.5" y2="45.47" stroke="#444" stroke-width="0.35"/>
<line x1="463.6" y1="45.5" x2="465.2" y2="45.5" stroke="#444" stroke-width="0.35"/>
<line x1="466.5" y1="48.98" x2="466.5" y2="45.96" stroke="#444" stroke-width="0.35"/>
<line x1="465.95" y1="45.5" x2="467.55" y2="45.5" stroke="#444" stroke-width="0.35"/>
<line x1="469.5" y1="49.72" x2="469.5" y2="46.45" stroke="#444" stroke-width="0.35"/>
<line x1="468.3" y1="46.5" x2="469.9" y2="46.5" stroke="#444" stroke-width="0.35"/>
<line x1="471.5" y1="50.67" x2="471.5" y2="47.09" stroke="#444" stroke-width="0.35"/>
<line x1="470.65" y1="47.5" x2="472.25" y2="47.5" stroke="#444" stroke-width="0.35"/>
<line x1="473.5" y1="51.8" x2="473.5" y2="47.89" stroke="#444" stroke-width="0.35"/>
<line x1="473" y1="47.5" x2="474.6" y2="47.5" stroke="#444" stroke-width="0.35"/>
<line x1="476.5" y1="54.15" x2="476.5" y2="48.69" stroke="#444" stroke-width="0.35"/>
<line x1="475.35" y1="48.5" x2="476.95" y2="48.5" stroke="#444" stroke-width="0.35"/>
<line x1="478.5" y1="56.5" x2="478.5" y2="49.49" stroke="#444" stroke-width="0.35"/>
<line x1="477.7" y1="49.5" x2="479.3" y2="49.5" stroke="#444" stroke-width="0.35"/>
<line x1="480.5" y1="58.52" x2="480.5" y2="50.41" stroke="#444" stroke-width="0.35"/>
<line x1="480.05" y1="50.5" x2="481.65" y2="50.5" stroke="#444" stroke-width="0.35"/>
<line x1="483.5" y1="60.37" x2="483.5" y2="51.54" stroke="#444" stroke-width="0.35"/>
<line x1="482.4" y1="51.5" x2="484" y2="51.5" stroke="#444" stroke-width="0.35"/>
<line x1="485.5" y1="62.09" x2="485.5" y2="52.67" stroke="#444" stroke-width="0.35"/>
<line x1="484.75" y1="52.5" x2="486.35" y2="52.5" stroke="#444" stroke-width="0.35"/>
<line x1="487.5" y1="63.75" x2="487.5" y2="53.8" stroke="#444" stroke-width="0.35"/>
<line x1="487.1" y1="53.5" x2="488.7" y2="53.5" stroke="#444" stroke-width="0.35"/>
<line x1="490.5" y1="65.67" x2="490.5" y2="54.93" stroke="#444" stroke-width="0.35"/>
<line x1="489.45" y1="54.5" x2="491.05" y2="54.5" stroke="#444" stroke-width="0.35"/>
<line x1="492.5" y1="67.66" x2="492.5" y2="56.06" stroke="#444" stroke-width="0.35"/>
<line x1="491.8" y1="56.5" x2="493.4" y2="56.5" stroke="#444" stroke-width="0.35"/>
<line x1="494.5" y1="69.77" x2="494.5" y2="58.05" stroke="#444" stroke-width="0.35"/>
<line x1="494.15" y1="58.5" x2="495.75" y2="58.5" stroke="#444" stroke-width="0.35"/>
<line x1="497.5" y1="71.91" x2="497.5" y2="60.17" stroke="#444" stroke-width="0.35"/>
<line x1="496.5" y1="60.5" x2="498.1" y2="60.5" stroke="#444" stroke-width="0.35"/>
<line x1="499.5" y1="74.73" x2="499.5" y2="62.29" stroke="#444" stroke-width="0.35"/>
<line x1="498.85" y1="62.5" x2="500.45" y2="62.5" stroke="#444" stroke-width="0.35"/>
<line x1="502.5" y1="77.59" x2="502.5" y2="64.41" stroke="#444" stroke-width="0.35"/>
<line x1="501.2" y1="64.5" x2="502.8" y2="64.5" stroke="#444" stroke-width="0.35"/>
<line x1="504.5" y1="79.21" x2="504.5" y2="66.5" stroke="#444" stroke-width="0.35"/>
<line x1="503.55" y1="66.5" x2="505.15" y2="66.5" stroke="#444" stroke-width="0.35"/>
<line x1="506.5" y1="79.91" x2="506.5" y2="68.15" stroke="#444" stroke-width="0.35"/>
<line x1="505.9" y1="68.5" x2="507.5" y2="68.5" stroke="#444" stroke-width="0.35"/>
<line x1="509.5" y1="82.05" x2="509.5" y2="69.79" stroke="#444" stroke-width="0.35"/>
<line x1="508.25" y1="69.5" x2="509.85" y2="69.5" stroke="#444" stroke-width="0.35"/>
<line x1="511.5" y1="84.35" x2="511.5" y2="71.43" stroke="#444" stroke-width="0.35"/>
<line x1="510.6" y1="71.5" x2="512.2" y2="71.5" stroke="#444" stroke-width="0.35"/>
<line x1="513.5" y1="86.38" x2="513.5" y2="73.08" stroke="#444" stroke-width="0.35"/>
<line x1="512.95" y1="73.5" x2="514.55" y2="73.5" stroke="#444" stroke-width="0.35"/>
<line x1="516.5" y1="88.45" x2="516.5" y2="74.78" stroke="#444" stroke-width="0.35"/>
<line x1="515.3" y1="74.5" x2="516.9" y2="74.5" stroke="#444" stroke-width="0.35"/>
<line x1="518.5" y1="90.59" x2="518.5" y2="76.68" stroke="#444" stroke-width="0.35"/>
<line x1="517.65" y1="76.5" x2="519.25" y2="76.5" stroke="#444" stroke-width="0.35"/>
<line x1="520.5" y1="92.66" x2="520.5" y2="78.57" stroke="#444" stroke-width="0.35"/>
<line x1="520" y1="78.5" x2="521.6" y2="78.5" stroke="#444" stroke-width="0.35"/>
<line x1="523.5" y1="94.6" x2="523.5" y2="80.46" stroke="#444" stroke-width="0.35"/>
<line x1="522.35" y1="80.5" x2="523.95" y2="80.5" stroke="#444" stroke-width="0.35"/>
<line x1="525.5" y1="96.51" x2="525.5" y2="82.35" stroke="#444" stroke-width="0.35"/>
<line x1="524.7" y1="82.5" x2="526.3" y2="82.5" stroke="#444" stroke-width="0.35"/>
<line x1="527.5" y1="98.38" x2="527.5" y2="84.79" stroke="#444" stroke-width="0.35"/>
<line x1="527.05" y1="84.5" x2="528.65" y2="84.5" stroke="#444" stroke-width="0.35"/>
<line x1="530.5" y1="99.66" x2="530.5" y2="87.9" stroke="#444" stroke-width="0.35"/>
<line x1="529.4" y1="87.5" x2="531" y2="87.5" stroke="#444" stroke-width="0.35"/>
<line x1="532.5" y1="100.61" x2="532.5" y2="91.01" stroke="#444" stroke-width="0.35"/>
<line x1="531.75" y1="91.5" x2="533.35" y2="91.5" stroke="#444" stroke-width="0.35"/>
<line x1="534.5" y1="101.24" x2="534.5" y2="92.56" stroke="#444" stroke-width="0.35"/>
<line x1="534.1" y1="92.5" x2="535.7" y2="92.5" stroke="#444" stroke-width="0.35"/>
<line x1="537.5" y1="101.84" x2="537.5" y2="92.84" stroke="#444" stroke-width="0.35"/>
<line x1="536.45" y1="92.5" x2="538.05" y2="92.5" stroke="#444" stroke-width="0.35"/>
<line x1="539.5" y1="102.16" x2="539.5" y2="93.13" stroke="#444" stroke-width="0.35"/>
<line x1="538.8" y1="93.5" x2="540.4" y2="93.5" stroke="#444" stroke-width="0.35"/>
<line x1="541.5" y1="102.49" x2="541.5" y2="93.41" stroke="#444" stroke-width="0.35"/>
<line x1="541.15" y1="93.5" x2="542.75" y2="93.5" stroke="#444" stroke-width="0.35"/>
<line x1="544.5" y1="102.78" x2="544.5" y2="93.34" stroke="#444" stroke-width="0.35"/>
<line x1="543.5" y1="93.5" x2="545.1" y2="93.5" stroke="#444" stroke-width="0.35"/>
<line x1="546.5" y1="103.05" x2="546.5" y2="93.12" stroke="#444" stroke-width="0.35"/>
<line x1="545.85" y1="93.5" x2="547.45" y2="93.5" stroke="#444" stroke-width="0.35"/>
<line x1="549.5" y1="103.22" x2="549.5" y2="92.89" stroke="#444" stroke-width="0.35"/>
<line x1="548.2" y1="92.5" x2="549.8" y2="92.5" stroke="#444" stroke-width="0.35"/>
<line x1="551.5" y1="103.26" x2="551.5" y2="92.66" stroke="#444" stroke-width="0.35"/>
<line x1="550.55" y1="92.5" x2="552.15" y2="92.5" stroke="#444" stroke-width="0.35"/>
<line x1="553.5" y1="103.3" x2="553.5" y2="92.43" stroke="#444" stroke-width="0.35"/>
<line x1="552.9" y1="92.5" x2="554.5" y2="92.5" stroke="#444" stroke-width="0.35"/>
<line x1="556.5" y1="103.13" x2="556.5" y2="92.2" stroke="#444" stroke-width="0.35"/>
<line x1="555.25" y1="92.5" x2="556.85" y2="92.5" stroke="#444" stroke-width="0.35"/>
<line x1="558.5" y1="102.93" x2="558.5" y2="91.97" stroke="#444" stroke-width="0.35"/>
<line x1="557.6" y1="91.5" x2="559.2" y2="91.5" stroke="#444" stroke-width="0.35"/>
<line x1="560.5" y1="102.62" x2="560.5" y2="91.74" stroke="#444" stroke-width="0.35"/>
<line x1="559.95" y1="91.5" x2="561.55" y2="91.5" stroke="#444" stroke-width="0.35"/>
<line x1="563.5" y1="102.04" x2="563.5" y2="91.51" stroke="#444" stroke-width="0.35"/>
<line x1="562.3" y1="91.5" x2="563.9" y2="91.5" stroke="#444" stroke-width="0.35"/>
<line x1="565.5" y1="101.46" x2="565.5" y2="91.24" stroke="#444" stroke-width="0.35"/>
<line x1="564.65" y1="91.5" x2="566.25" y2="91.5" stroke="#444" stroke-width="0.35"/>
<line x1="567.5" y1="100.82" x2="567.5" y2="90.22" stroke="#444" stroke-width="0.35"/>
<line x1="567" y1="90.5" x2="568.6" y2="90.5" stroke="#444" stroke-width="0.35"/>
<line x1="570.5" y1="100.03" x2="570.5" y2="89.21" stroke="#444" stroke-width="0.35"/>
<line x1="569.35" y1="89.5" x2="570.95" y2="89.5" stroke="#444" stroke-width="0.35"/>
<line x1="572.5" y1="99.08" x2="572.5" y2="88.2" stroke="#444" stroke-width="0.35"/>
<line x1="571.7" y1="88.5" x2="573.3" y2="88.5" stroke="#444" stroke-width="0.35"/>
<line x1="437.5" y1="42.08" x2="437.5" y2="40.26" stroke="#8a8a8a" stroke-width="0.35"/>
<line x1="437.1" y1="40.5" x2="438.5" y2="40.5" stroke="#8a8a8a" stroke-width="0.35"/>
<line x1="439.5" y1="42.44" x2="439.5" y2="40.56" stroke="#8a8a8a" stroke-width="0.35"/>
<line x1="439.3" y1="40.5" x2="440.7" y2="40.5" stroke="#8a8a8a" stroke-width="0.35"/>
<line x1="442.5" y1="40.66" x2="442.5" y2="38.53" stroke="#8a8a8a" stroke-width="0.35"/>
<line x1="441.5" y1="38.5" x2="442.9" y2="38.5" stroke="#8a8a8a" stroke-width="0.35"/>
<line x1="444.5" y1="41.53" x2="444.5" y2="38.01" stroke="#8a8a8a" stroke-width="0.35"/>
<line x1="443.7" y1="38.5" x2="445.1" y2="38.5" stroke="#8a8a8a" stroke-width="0.35"/>
<line x1="446.5" y1="42.49" x2="446.5" y2="40.33" stroke="#8a8a8a" stroke-width="0.35"/>
<line x1="445.9" y1="40.5" x2="447.3" y2="40.5" stroke="#8a8a8a" stroke-width="0.35"/>
<line x1="448.5" y1="41.9" x2="448.5" y2="38.74" stroke="#8a8a8a" stroke-width="0.35"/>
<line x1="448.1" y1="38.5" x2="449.5" y2="38.5" stroke="#8a8a8a" stroke-width="0.35"/>
<line x1="450.5" y1="42.4" x2="450.5" y2="38.93" stroke="#8a8a8a" stroke-width="0.35"/>
<line x1="450.3" y1="38.5" x2="451.7" y2="38.5" stroke="#8a8a8a" stroke-width="0.35"/>
<line x1="453.5" y1="40.83" x2="453.5" y2="37.33" stroke="#8a8a8a" stroke-width="0.35"/>
<line x1="452.5" y1="37.5" x2="453.9" y2="37.5" stroke="#8a8a8a" stroke-width="0.35"/>
<line x1="455.5" y1="41.54" x2="455.5" y2="39.12" stroke="#8a8a8a" stroke-width="0.35"/>
<line x1="454.7" y1="39.5" x2="456.1" y2="39.5" stroke="#8a8a8a" stroke-width="0.35"/>
<line x1="457.5" y1="41.09" x2="457.5" y2="38.65" stroke="#8a8a8a" stroke-width="0.35"/>
<line x1="456.9" y1="38.5" x2="458.3" y2="38.5" stroke="#8a8a8a" stroke-width="0.35"/>
<line x1="459.5" y1="41.69" x2="459.5" y2="38.94" stroke="#8a8a8a" stroke-width="0.35"/>
<line x1="459.1" y1="38.5" x2="460.5" y2="38.5" stroke="#8a8a8a" stroke-width="0.35"/>
<line x1="461.5" y1="41.75" x2="461.5" y2="38.55" stroke="#8a8a8a" stroke-width="0.35"/>
<line x1="461.3" y1="38.5" x2="462.7" y2="38.5" stroke="#8a8a8a" stroke-width="0.35"/>
<line x1="464.5" y1="40.63" x2="464.5" y2="38.63" stroke="#8a8a8a" stroke-width="0.35"/>
<line x1="463.5" y1="38.5" x2="464.9" y2="38.5" stroke="#8a8a8a" stroke-width="0.35"/>
<line x1="466.5" y1="41.03" x2="466.5" y2="37.89" stroke="#8a8a8a" stroke-width="0.35"/>
<line x1="465.7" y1="37.5" x2="467.1" y2="37.5" stroke="#8a8a8a" stroke-width="0.35"/>
<line x1="468.5" y1="41.16" x2="468.5" y2="37.92" stroke="#8a8a8a" stroke-width="0.35"/>
<line x1="467.9" y1="37.5" x2="469.3" y2="37.5" stroke="#8a8a8a" stroke-width="0.35"/>
<line x1="470.5" y1="42.43" x2="470.5" y2="39.09" stroke="#8a8a8a" stroke-width="0.35"/>
<line x1="470.1" y1="39.5" x2="471.5" y2="39.5" stroke="#8a8a8a" stroke-width="0.35"/>
<line x1="472.5" y1="42.13" x2="472.5" y2="40.27" stroke="#8a8a8a" stroke-width="0.35"/>
<line x1="472.3" y1="40.5" x2="473.7" y2="40.5" stroke="#8a8a8a" stroke-width="0.35"/>
<line x1="475.5" y1="40.92" x2="475.5" y2="37.42" stroke="#8a8a8a" stroke-width="0.35"/>
<line x1="474.5" y1="37.5" x2="475.9" y2="37.5" stroke="#8a8a8a" stroke-width="0.35"/>
<line x1="477.5" y1="42.19" x2="477.5" y2="40.23" stroke="#8a8a8a" stroke-width="0.35"/>
<line x1="476.7" y1="40.5" x2="478.1" y2="40.5" stroke="#8a8a8a" stroke-width="0.35"/>
<line x1="479.5" y1="40.88" x2="479.5" y2="38.46" stroke="#8a8a8a" stroke-width="0.35"/>
<line x1="478.9" y1="38.5" x2="480.3" y2="38.5" stroke="#8a8a8a" stroke-width="0.35"/>
<line x1="481.5" y1="41.83" x2="481.5" y2="38.94" stroke="#8a8a8a" stroke-width="0.35"/>
<line x1="481.1" y1="38.5" x2="482.5" y2="38.5" stroke="#8a8a8a" stroke-width="0.35"/>
<line x1="483.5" y1="40.85" x2="483.5" y2="37.4" stroke="#8a8a8a" stroke-width="0.35"/>
<line x1="483.3" y1="37.5" x2="484.7" y2="37.5" stroke="#8a8a8a" stroke-width="0.35"/>
<line x1="486.5" y1="40.6" x2="486.5" y2="38.19" stroke="#8a8a8a" stroke-width="0.35"/>
<line x1="485.5" y1="38.5" x2="486.9" y2="38.5" stroke="#8a8a8a" stroke-width="0.35"/>
<line x1="488.5" y1="42.34" x2="488.5" y2="38.88" stroke="#8a8a8a" stroke-width="0.35"/>
<line x1="487.7" y1="38.5" x2="489.1" y2="38.5" stroke="#8a8a8a" stroke-width="0.35"/>
<line x1="490.5" y1="41.02" x2="490.5" y2="38.24" stroke="#8a8a8a" stroke-width="0.35"/>
<line x1="489.9" y1="38.5" x2="491.3" y2="38.5" stroke="#8a8a8a" stroke-width="0.35"/>
<line x1="492.5" y1="41.03" x2="492.5" y2="38.67" stroke="#8a8a8a" stroke-width="0.35"/>
<line x1="492.1" y1="38.5" x2="493.5" y2="38.5" stroke="#8a8a8a" stroke-width="0.35"/>
<line x1="494.5" y1="42.56" x2="494.5" y2="40.19" stroke="#8a8a8a" stroke-width="0.35"/>
<line x1="494.3" y1="40.5" x2="495.7" y2="40.5" stroke="#8a8a8a" stroke-width="0.35"/>
<line x1="497.5" y1="42.34" x2="497.5" y2="40.23" stroke="#8a8a8a" stroke-width="0.35"/>
<line x1="496.5" y1="40.5" x2="497.9" y2="40.5" stroke="#8a8a8a" stroke-width="0.35"/>
<line x1="499.5" y1="41.18" x2="499.5" y2="39.24" stroke="#8a8a8a" stroke-width="0.35"/>
<line x1="498.7" y1="39.5" x2="500.1" y2="39.5" stroke="#8a8a8a" stroke-width="0.35"/>
<line x1="501.5" y1="42.52" x2="501.5" y2="40.45" stroke="#8a8a8a" stroke-width="0.35"/>
<line x1="500.9" y1="40.5" x2="502.3" y2="40.5" stroke="#8a8a8a" stroke-width="0.35"/>
<line x1="503.5" y1="41.68" x2="503.5" y2="38.64" stroke="#8a8a8a" stroke-width="0.35"/>
<line x1="503.1" y1="38.5" x2="504.5" y2="38.5" stroke="#8a8a8a" stroke-width="0.35"/>
<line x1="505.5" y1="41.96" x2="505.5" y2="38.36" stroke="#8a8a8a" stroke-width="0.35"/>
<line x1="505.3" y1="38.5" x2="506.7" y2="38.5" stroke="#8a8a8a" stroke-width="0.35"/>
<line x1="508.5" y1="41.01" x2="508.5" y2="38.92" stroke="#8a8a8a" stroke-width="0.35"/>
<line x1="507.5" y1="38.5" x2="508.9" y2="38.5" stroke="#8a8a8a" stroke-width="0.35"/>
<line x1="510.5" y1="42.48" x2="510.5" y2="40.59" stroke="#8a8a8a" stroke-width="0.35"/>
<line x1="509.7" y1="40.5" x2="511.1" y2="40.5" stroke="#8a8a8a" stroke-width="0.35"/>
<line x1="512.5" y1="41.98" x2="512.5" y2="38.41" stroke="#8a8a8a" stroke-width="0.35"/>
<line x1="511.9" y1="38.5" x2="513.3" y2="38.5" stroke="#8a8a8a" stroke-width="0.35"/>
<line x1="514.5" y1="42.53" x2="514.5" y2="39.77" stroke="#8a8a8a" stroke-width="0.35"/>
<line x1="514.1" y1="39.5" x2="515.5" y2="39.5" stroke="#8a8a8a" stroke-width="0.35"/>
<line x1="516.5" y1="42.39" x2="516.5" y2="39.86" stroke="#8a8a8a" stroke-width="0.35"/>
<line x1="516.3" y1="39.5" x2="517.7" y2="39.5" stroke="#8a8a8a" stroke-width="0.35"/>
<line x1="519.5" y1="41.2" x2="519.5" y2="38.97" stroke="#8a8a8a" stroke-width="0.35"/>
<line x1="518.5" y1="38.5" x2="519.9" y2="38.5" stroke="#8a8a8a" stroke-width="0.35"/>
<line x1="521.5" y1="41.32" x2="521.5" y2="38.45" stroke="#8a8a8a" stroke-width="0.35"/>
<line x1="520.7" y1="38.5" x2="522.1" y2="38.5" stroke="#8a8a8a" stroke-width="0.35"/>
<line x1="523.5" y1="40.93" x2="523.5" y2="37.64" stroke="#8a8a8a" stroke-width="0.35"/>
<line x1="522.9" y1="37.5" x2="524.3" y2="37.5" stroke="#8a8a8a" stroke-width="0.35"/>
<line x1="525.5" y1="40.89" x2="525.5" y2="38.27" stroke="#8a8a8a" stroke-width="0.35"/>
<line x1="525.1" y1="38.5" x2="526.5" y2="38.5" stroke="#8a8a8a" stroke-width="0.35"/>
<line x1="527.5" y1="40.73" x2="527.5" y2="38.17" stroke="#8a8a8a" stroke-width="0.35"/>
<line x1="527.3" y1="38.5" x2="528.7" y2="38.5" stroke="#8a8a8a" stroke-width="0.35"/>
<line x1="530.5" y1="41.2" x2="530.5" y2="39.3" stroke="#8a8a8a" stroke-width="0.35"/>
<line x1="529.5" y1="39.5" x2="530.9" y2="39.5" stroke="#8a8a8a" stroke-width="0.35"/>
<line x1="532.5" y1="41.81" x2="532.5" y2="38.36" stroke="#8a8a8a" stroke-width="0.35"/>
<line x1="531.7" y1="38.5" x2="533.1" y2="38.5" stroke="#8a8a8a" stroke-width="0.35"/>
<line x1="534.5" y1="40.61" x2="534.5" y2="38.75" stroke="#8a8a8a" stroke-width="0.35"/>
<line x1="533.9" y1="38.5" x2="535.3" y2="38.5" stroke="#8a8a8a" stroke-width="0.35"/>
<line x1="536.5" y1="41.96" x2="536.5" y2="39.27" stroke="#8a8a8a" stroke-width="0.35"/>
<line x1="536.1" y1="39.5" x2="537.5" y2="39.5" stroke="#8a8a8a" stroke-width="0.35"/>
<line x1="539.5" y1="41.28" x2="539.5" y2="37.97" stroke="#8a8a8a" stroke-width="0.35"/>
<line x1="538.3" y1="37.5" x2="539.7" y2="37.5" stroke="#8a8a8a" stroke-width="0.35"/>
<line x1="541.5" y1="41.22" x2="541.5" y2="39.18" stroke="#8a8a8a" stroke-width="0.35"/>
<line x1="540.5" y1="39.5" x2="541.9" y2="39.5" stroke="#8a8a8a" stroke-width="0.35"/>
<line x1="543.5" y1="42.24" x2="543.5" y2="39.12" stroke="#8a8a8a" stroke-width="0.35"/>
<line x1="542.7" y1="39.5" x2="544.1" y2="39.5" stroke="#8a8a8a" stroke-width="0.35"/>
<line x1="545.5" y1="41.56" x2="545.5" y2="38.05" stroke="#8a8a8a" stroke-width="0.35"/>
<line x1="544.9" y1="38.5" x2="546.3" y2="38.5" stroke="#8a8a8a" stroke-width="0.35"/>
<line x1="547.5" y1="41.23" x2="547.5" y2="38.3" stroke="#8a8a8a" stroke-width="0.35"/>
<line x1="547.1" y1="38.5" x2="548.5" y2="38.5" stroke="#8a8a8a" stroke-width="0.35"/>
<line x1="550.5" y1="41.56" x2="550.5" y2="38.34" stroke="#8a8a8a" stroke-width="0.35"/>
<line x1="549.3" y1="38.5" x2="550.7" y2="38.5" stroke="#8a8a8a" stroke-width="0.35"/>
<line x1="552.5" y1="42.01" x2="552.5" y2="40.02" stroke="#8a8a8a" stroke-width="0.35"/>
<line x1="551.5" y1="40.5" x2="552.9" y2="40.5" stroke="#8a8a8a" stroke-width="0.35"/>
<line x1="554.5" y1="40.71" x2="554.5" y2="38.13" stroke="#8a8a8a" stroke-width="0.35"/>
<line x1="553.7" y1="38.5" x2="555.1" y2="38.5" stroke="#8a8a8a" stroke-width="0.35"/>
<line x1="556.5" y1="42.55" x2="556.5" y2="40.48" stroke="#8a8a8a" stroke-width="0.35"/>
<line x1="555.9" y1="40.5" x2="557.3" y2="40.5" stroke="#8a8a8a" stroke-width="0.35"/>
<line x1="558.5" y1="40.65" x2="558.5" y2="37.33" stroke="#8a8a8a" stroke-width="0.35"/>
<line x1="558.1" y1="37.5" x2="559.5" y2="37.5" stroke="#8a8a8a" stroke-width="0.35"/>
<line x1="561.5" y1="42.1" x2="561.5" y2="39.77" stroke="#8a8a8a" stroke-width="0.35"/>
<line x1="560.3" y1="39.5" x2="561.7" y2="39.5" stroke="#8a8a8a" stroke-width="0.35"/>
<line x1="563.5" y1="42.29" x2="563.5" y2="39.67" stroke="#8a8a8a" stroke-width="0.35"/>
<line x1="562.5" y1="39.5" x2="563.9" y2="39.5" stroke="#8a8a8a" stroke-width="0.35"/>
<line x1="565.5" y1="40.64" x2="565.5" y2="37.04" stroke="#8a8a8a" stroke-width="0.35"/>
<line x1="564.7" y1="37.5" x2="566.1" y2="37.5" stroke="#8a8a8a" stroke-width="0.35"/>
<line x1="567.5" y1="42.18" x2="567.5" y2="38.84" stroke="#8a8a8a" stroke-width="0.35"/>
<line x1="566.9" y1="38.5" x2="568.3" y2="38.5" stroke="#8a8a8a" stroke-width="0.35"/>
<line x1="569.5" y1="41.33" x2="569.5" y2="37.78" stroke="#8a8a8a" stroke-width="0.35"/>
<line x1="569.1" y1="37.5" x2="570.5" y2="37.5" stroke="#8a8a8a" stroke-width="0.35"/>
<line x1="572.5" y1="41.76" x2="572.5" y2="39.14" stroke="#8a8a8a" stroke-width="0.35"/>
<line x1="571.3" y1="39.5" x2="572.7" y2="39.5" stroke="#8a8a8a" stroke-width="0.35"/>
<polyline points="429,41.85 431.2,42.08 433.4,42.19 435.6,42.48 437.8,42.08 440,42.44 442.2,40.66 444.4,41.53 446.6,42.49 448.8,41.9 451,42.4 453.2,40.83 455.4,41.54 457.6,41.09 459.8,41.69 462,41.75 464.2,40.63 466.4,41.03 468.6,41.16 470.8,42.43 473,42.13 475.2,40.92 477.4,42.19 479.6,40.88 481.8,41.83 484,40.85 486.2,40.6 488.4,42.34 490.6,41.02 492.8,41.03 495,42.56 497.2,42.34 499.4,41.18 501.6,42.52 503.8,41.68 506,41.96 508.2,41.01 510.4,42.48 512.6,41.98 514.8,42.53 517,42.39 519.2,41.2 521.4,41.32 523.6,40.93 525.8,40.89 528,40.73 530.2,41.2 532.4,41.81 534.6,40.61 536.8,41.96 539,41.28 541.2,41.22 543.4,42.24 545.6,41.56 547.8,41.23 550,41.56 552.2,42.01 554.4,40.71 556.6,42.55 558.8,40.65 561,42.1 563.2,42.29 565.4,40.64 567.6,42.18 569.8,41.33 572,41.76" stroke="#9a9a9a" stroke-width="0.7" fill="none"/>
<polyline points="429,42.3 435,42.8 440,43.6 445.3,47.2 449.2,42 452,43.5 456.4,47.2 460.3,41.5 465.3,42.2 470.3,38.6 475.8,40 482.5,44.4 487.5,41.5 492.5,49 498,44.4 503,42 509.9,48 515,42.5 522,43.2 528,41.8 534,43 539.3,47.8 544,42.5 550,43 554,42 559.6,47.2 564,42.6 569,43.4 573,42.8" stroke="#5ea893" stroke-width="1.15" fill="none"/>
<polyline points="429,42.3 436,39 444,39.6 452.5,39.4 459,38.2 465.8,37.2 471.4,41.1 477,42.2 482.5,42.8 490,42.4 500,43 510,42.6 520,43.5 530,43 540,43.6 550,43.4 560,44 566,44.2 573,44.6" stroke="#e8323a" stroke-width="1.15" fill="none"/>
<polyline points="427.3,42 435,41.5 442,42.5 448,42.2 454.4,43.8 459,46 464.6,48.3 470,50 473.7,51.7 479.3,57.3 484,61 488.4,64.1 493,68 497.4,72 503,78.8 507,80 511,84 515.5,87.9 520,92 524.6,95.8 528,98.5 531.4,100.3 537,101.8 542.7,102.6 548,103.2 554,103.3 560,102.8 565.3,101.5 569,100.5 573.2,98.8" stroke="#000" stroke-width="1.1" fill="none"/>
<polygon points="456,61.2 458.5,65.8 453.5,65.8" fill="#000"/>
<text x="457.4" y="76" font-size="8" text-anchor="middle" fill="#000" stroke="#000">Veh/C5a</text>
<line x1="616.5" y1="25.6" x2="616.5" y2="124.4" stroke="#000" stroke-width="0.8"/>
<line x1="614.5" y1="25.5" x2="616.5" y2="25.5" stroke="#000" stroke-width="0.8"/>
<text x="613.7" y="28.34" font-size="7.6" text-anchor="end" fill="#000" stroke="#000">20</text>
<line x1="614.5" y1="50.5" x2="616.5" y2="50.5" stroke="#000" stroke-width="0.8"/>
<text x="613.7" y="53.04" font-size="7.6" text-anchor="end" fill="#000" stroke="#000">15</text>
<line x1="614.5" y1="75.5" x2="616.5" y2="75.5" stroke="#000" stroke-width="0.8"/>
<text x="613.7" y="77.74" font-size="7.6" text-anchor="end" fill="#000" stroke="#000">10</text>
<line x1="614.5" y1="99.5" x2="616.5" y2="99.5" stroke="#000" stroke-width="0.8"/>
<text x="613.7" y="102.44" font-size="7.6" text-anchor="end" fill="#000" stroke="#000">5</text>
<line x1="614.5" y1="124.5" x2="616.5" y2="124.5" stroke="#000" stroke-width="0.8"/>
<text x="613.7" y="127.14" font-size="7.6" text-anchor="end" fill="#000" stroke="#000">0</text>
<line x1="616.5" y1="124.5" x2="662.6" y2="124.5" stroke="#000" stroke-width="0.8"/>
<line x1="623.5" y1="124.4" x2="623.5" y2="126.4" stroke="#000" stroke-width="0.8"/>
<line x1="635.5" y1="124.4" x2="635.5" y2="126.4" stroke="#000" stroke-width="0.8"/>
<line x1="645.5" y1="124.4" x2="645.5" y2="126.4" stroke="#000" stroke-width="0.8"/>
<line x1="656.5" y1="124.4" x2="656.5" y2="126.4" stroke="#000" stroke-width="0.8"/>
<text x="603" y="74" font-size="8" text-anchor="middle" fill="#000" stroke="#000" transform="rotate(-90 603 74)">AUC</text>
<text x="649" y="41" font-size="8" text-anchor="middle" fill="#000" stroke="#000">C5a</text>
<line x1="632.2" y1="43.5" x2="662.6" y2="43.5" stroke="#000" stroke-width="0.8"/>
<rect x="619" y="122.42" width="9.4" height="1.98" fill="#fff" stroke="#000" stroke-width="0.6"/>
<rect x="630" y="94.27" width="10.2" height="30.13" fill="#1a1a1a" stroke="none" stroke-width="0.8"/>
<rect x="641" y="122.92" width="9.6" height="1.48" fill="#fff" stroke="#000" stroke-width="0.6"/>
<rect x="651.8" y="122.92" width="9.8" height="1.48" fill="#fff" stroke="#ec1f26" stroke-width="0.6"/>
<circle cx="623.5" cy="118.5" r="1.45" fill="#fff" stroke="#666" stroke-width="0.55"/>
<circle cx="621.5" cy="122" r="1.45" fill="#fff" stroke="#666" stroke-width="0.55"/>
<circle cx="625.5" cy="122" r="1.45" fill="#fff" stroke="#666" stroke-width="0.55"/>
<circle cx="627" cy="120.5" r="1.45" fill="#fff" stroke="#666" stroke-width="0.55"/>
<circle cx="635.2" cy="49.31" r="1.45" fill="#fff" stroke="#666" stroke-width="0.55"/>
<circle cx="636.2" cy="58.7" r="1.45" fill="#fff" stroke="#666" stroke-width="0.55"/>
<circle cx="635.2" cy="65.12" r="1.45" fill="#fff" stroke="#666" stroke-width="0.55"/>
<circle cx="630.2" cy="67.59" r="1.45" fill="#fff" stroke="#666" stroke-width="0.55"/>
<circle cx="635.2" cy="72.04" r="1.45" fill="#fff" stroke="#666" stroke-width="0.55"/>
<circle cx="635.2" cy="87.35" r="1.45" fill="#fff" stroke="#666" stroke-width="0.55"/>
<circle cx="633.2" cy="89.82" r="1.45" fill="#fff" stroke="#666" stroke-width="0.55"/>
<circle cx="638.2" cy="90.81" r="1.45" fill="#fff" stroke="#666" stroke-width="0.55"/>
<circle cx="633.2" cy="99.7" r="1.1" fill="#fff" stroke="#fff" stroke-width="0.4"/>
<circle cx="637.7" cy="101.18" r="1.1" fill="#fff" stroke="#fff" stroke-width="0.4"/>
<circle cx="634.2" cy="103.65" r="1.1" fill="#fff" stroke="#fff" stroke-width="0.4"/>
<circle cx="636.7" cy="107.11" r="1.1" fill="#fff" stroke="#fff" stroke-width="0.4"/>
<circle cx="632.7" cy="109.58" r="1.1" fill="#fff" stroke="#fff" stroke-width="0.4"/>
<circle cx="636.2" cy="112.05" r="1.1" fill="#fff" stroke="#fff" stroke-width="0.4"/>
<circle cx="633.7" cy="115.51" r="1.1" fill="#fff" stroke="#fff" stroke-width="0.4"/>
<circle cx="637.2" cy="118.97" r="1.1" fill="#fff" stroke="#fff" stroke-width="0.4"/>
<circle cx="632.7" cy="120.94" r="1.1" fill="#fff" stroke="#fff" stroke-width="0.4"/>
<circle cx="645.8" cy="118.3" r="1.45" fill="#fff" stroke="#666" stroke-width="0.55"/>
<circle cx="643.5" cy="121.5" r="1.45" fill="#fff" stroke="#666" stroke-width="0.55"/>
<circle cx="648" cy="121.5" r="1.45" fill="#fff" stroke="#666" stroke-width="0.55"/>
<circle cx="650" cy="120" r="1.45" fill="#fff" stroke="#666" stroke-width="0.55"/>
<circle cx="656.7" cy="115.5" r="1.45" fill="#fff" stroke="#666" stroke-width="0.55"/>
<circle cx="654.5" cy="120.5" r="1.45" fill="#fff" stroke="#666" stroke-width="0.55"/>
<circle cx="659" cy="120.5" r="1.45" fill="#fff" stroke="#666" stroke-width="0.55"/>
<circle cx="656.7" cy="122.5" r="1.45" fill="#fff" stroke="#666" stroke-width="0.55"/>
<line x1="623.7" y1="47.5" x2="631.3" y2="47.5" stroke="#000" stroke-width="0.6"/>
<line x1="623.5" y1="47.5" x2="623.5" y2="118" stroke="#000" stroke-width="0.6"/>
<line x1="635.7" y1="47.5" x2="645.1" y2="47.5" stroke="#000" stroke-width="0.6"/>
<line x1="645.5" y1="47.5" x2="645.5" y2="115" stroke="#000" stroke-width="0.6"/>
<line x1="647.2" y1="47.5" x2="656.6" y2="47.5" stroke="#000" stroke-width="0.6"/>
<line x1="656.5" y1="47.5" x2="656.5" y2="113" stroke="#000" stroke-width="0.6"/>
<text x="0" y="0" font-size="7.2" text-anchor="middle" fill="#000" stroke="#000" transform="translate(622.6 68.4) rotate(-90) scale(0.86 1)">P&lt;0.0001</text>
<text x="0" y="0" font-size="7.2" text-anchor="middle" fill="#000" stroke="#000" transform="translate(651.7 67.1) rotate(-90) scale(0.86 1)">P&lt;0.001</text>
<text x="0" y="0" font-size="7.2" text-anchor="middle" fill="#000" stroke="#000" transform="translate(662.3 67.1) rotate(-90) scale(0.86 1)">P&lt;0.001</text>
<text x="627.5" y="130.5" font-size="8.8" text-anchor="end" fill="#000" stroke="#000" transform="rotate(-45 627.5 130.5)">Veh</text>
<text x="638" y="130.5" font-size="8.8" text-anchor="end" fill="#000" stroke="#000" transform="rotate(-45 638 130.5)">-</text>
<text x="648.5" y="130.5" font-size="8.8" text-anchor="end" fill="#000" stroke="#000" transform="rotate(-45 648.5 130.5)">DF25</text>
<text x="661" y="130.5" font-size="8.8" text-anchor="end" fill="#000" stroke="#000" transform="rotate(-45 661 130.5)">Ac-YVAD</text>
<text x="0.6" y="152.6" font-size="14" text-anchor="start" fill="#000" stroke="#000">e</text>
<line x1="13.5" y1="155.5" x2="23.5" y2="155.5" stroke="#8c8c8c" stroke-width="0.8"/>
<circle cx="18.5" cy="155.8" r="1.75" fill="#8c8c8c" stroke="none" stroke-width="0.6"/>
<text x="25.8" y="158.3" font-size="8" text-anchor="start" fill="#000" stroke="#000">Sham/Control</text>
<line x1="79" y1="155.5" x2="89" y2="155.5" stroke="#c4c4c4" stroke-width="0.8"/>
<circle cx="84" cy="155.8" r="1.75" fill="#c4c4c4" stroke="none" stroke-width="0.6"/>
<text x="91.3" y="158.3" font-size="8" text-anchor="start" fill="#000" stroke="#000">Sham/<tspan font-style="italic">Plp</tspan>-AAV-<tspan font-style="italic">Nlrp1</tspan></text>
<line x1="179.5" y1="155.5" x2="189.5" y2="155.5" stroke="#000" stroke-width="0.8"/>
<circle cx="184.5" cy="155.8" r="1.75" fill="#000" stroke="none" stroke-width="0.6"/>
<text x="191.8" y="158.3" font-size="8" text-anchor="start" fill="#000" stroke="#000">Endo/Control</text>
<line x1="241.8" y1="155.5" x2="251.8" y2="155.5" stroke="#ec1f26" stroke-width="0.8"/>
<circle cx="246.8" cy="155.8" r="1.75" fill="#ec1f26" stroke="none" stroke-width="0.6"/>
<text x="254.1" y="158.3" font-size="8" text-anchor="start" fill="#000" stroke="#000">Endo/<tspan font-style="italic">Plp</tspan>-AAV-<tspan font-style="italic">Nlrp1</tspan></text>
<line x1="26.5" y1="166.1" x2="26.5" y2="264.3" stroke="#000" stroke-width="0.8"/>
<line x1="24.3" y1="166.5" x2="26.3" y2="166.5" stroke="#000" stroke-width="0.8"/>
<text x="23.5" y="168.84" font-size="7.6" text-anchor="end" fill="#000" stroke="#000">0.8</text>
<line x1="24.3" y1="190.5" x2="26.3" y2="190.5" stroke="#000" stroke-width="0.8"/>
<text x="23.5" y="193.39" font-size="7.6" text-anchor="end" fill="#000" stroke="#000">0.6</text>
<line x1="24.3" y1="215.5" x2="26.3" y2="215.5" stroke="#000" stroke-width="0.8"/>
<text x="23.5" y="217.94" font-size="7.6" text-anchor="end" fill="#000" stroke="#000">0.4</text>
<line x1="24.3" y1="239.5" x2="26.3" y2="239.5" stroke="#000" stroke-width="0.8"/>
<text x="23.5" y="242.49" font-size="7.6" text-anchor="end" fill="#000" stroke="#000">0.2</text>
<line x1="24.3" y1="264.5" x2="26.3" y2="264.5" stroke="#000" stroke-width="0.8"/>
<text x="23.5" y="267.04" font-size="7.6" text-anchor="end" fill="#000" stroke="#000">0.0</text>
<line x1="26.3" y1="264.5" x2="98.8" y2="264.5" stroke="#000" stroke-width="0.8"/>
<line x1="35.5" y1="264.3" x2="35.5" y2="266.3" stroke="#000" stroke-width="0.8"/>
<line x1="49.5" y1="264.3" x2="49.5" y2="266.3" stroke="#000" stroke-width="0.8"/>
<line x1="64.5" y1="264.3" x2="64.5" y2="266.3" stroke="#000" stroke-width="0.8"/>
<line x1="78.5" y1="264.3" x2="78.5" y2="266.3" stroke="#000" stroke-width="0.8"/>
<line x1="93.5" y1="264.3" x2="93.5" y2="266.3" stroke="#000" stroke-width="0.8"/>
<text x="35.3" y="276.6" font-size="7.6" text-anchor="middle" fill="#000" stroke="#000">BL</text>
<text x="49.8" y="276.6" font-size="7.6" text-anchor="middle" fill="#000" stroke="#000">7</text>
<text x="64.3" y="276.6" font-size="7.6" text-anchor="middle" fill="#000" stroke="#000">14</text>
<text x="78.9" y="276.6" font-size="7.6" text-anchor="middle" fill="#000" stroke="#000">21</text>
<text x="93.3" y="276.6" font-size="7.6" text-anchor="middle" fill="#000" stroke="#000">28</text>
<text x="64.3" y="288.4" font-size="8" text-anchor="middle" fill="#000" stroke="#000">Time (d)</text>
<text x="10.1" y="215.2" font-size="8" text-anchor="middle" fill="#000" stroke="#000" transform="rotate(-90 10.1 215.2)">PMA- Threshold (g)</text>
<line x1="35.5" y1="191.88" x2="35.5" y2="196.79" stroke="#c4c4c4" stroke-width="0.75"/>
<line x1="33.6" y1="191.5" x2="37" y2="191.5" stroke="#c4c4c4" stroke-width="0.75"/>
<line x1="33.6" y1="196.5" x2="37" y2="196.5" stroke="#c4c4c4" stroke-width="0.75"/>
<line x1="49.5" y1="193.1" x2="49.5" y2="198.01" stroke="#c4c4c4" stroke-width="0.75"/>
<line x1="48.1" y1="193.5" x2="51.5" y2="193.5" stroke="#c4c4c4" stroke-width="0.75"/>
<line x1="48.1" y1="198.5" x2="51.5" y2="198.5" stroke="#c4c4c4" stroke-width="0.75"/>
<line x1="64.5" y1="195.56" x2="64.5" y2="200.47" stroke="#c4c4c4" stroke-width="0.75"/>
<line x1="62.6" y1="195.5" x2="66" y2="195.5" stroke="#c4c4c4" stroke-width="0.75"/>
<line x1="62.6" y1="200.5" x2="66" y2="200.5" stroke="#c4c4c4" stroke-width="0.75"/>
<line x1="78.5" y1="195.56" x2="78.5" y2="202.93" stroke="#c4c4c4" stroke-width="0.75"/>
<line x1="77.2" y1="195.5" x2="80.6" y2="195.5" stroke="#c4c4c4" stroke-width="0.75"/>
<line x1="77.2" y1="202.5" x2="80.6" y2="202.5" stroke="#c4c4c4" stroke-width="0.75"/>
<line x1="93.5" y1="194.33" x2="93.5" y2="201.7" stroke="#c4c4c4" stroke-width="0.75"/>
<line x1="91.6" y1="194.5" x2="95" y2="194.5" stroke="#c4c4c4" stroke-width="0.75"/>
<line x1="91.6" y1="201.5" x2="95" y2="201.5" stroke="#c4c4c4" stroke-width="0.75"/>
<polyline points="35.3,194.33 49.8,195.56 64.3,198.01 78.9,199.24 93.3,198.01" stroke="#c4c4c4" stroke-width="0.85" fill="none"/>
<circle cx="35.3" cy="194.33" r="1.85" fill="#c4c4c4" stroke="none" stroke-width="0.6"/>
<circle cx="49.8" cy="195.56" r="1.85" fill="#c4c4c4" stroke="none" stroke-width="0.6"/>
<circle cx="64.3" cy="198.01" r="1.85" fill="#c4c4c4" stroke="none" stroke-width="0.6"/>
<circle cx="78.9" cy="199.24" r="1.85" fill="#c4c4c4" stroke="none" stroke-width="0.6"/>
<circle cx="93.3" cy="198.01" r="1.85" fill="#c4c4c4" stroke="none" stroke-width="0.6"/>
<line x1="35.5" y1="189.42" x2="35.5" y2="194.33" stroke="#8c8c8c" stroke-width="0.75"/>
<line x1="33.6" y1="189.5" x2="37" y2="189.5" stroke="#8c8c8c" stroke-width="0.75"/>
<line x1="33.6" y1="194.5" x2="37" y2="194.5" stroke="#8c8c8c" stroke-width="0.75"/>
<line x1="49.5" y1="190.65" x2="49.5" y2="195.56" stroke="#8c8c8c" stroke-width="0.75"/>
<line x1="48.1" y1="190.5" x2="51.5" y2="190.5" stroke="#8c8c8c" stroke-width="0.75"/>
<line x1="48.1" y1="195.5" x2="51.5" y2="195.5" stroke="#8c8c8c" stroke-width="0.75"/>
<line x1="64.5" y1="194.33" x2="64.5" y2="199.24" stroke="#8c8c8c" stroke-width="0.75"/>
<line x1="62.6" y1="194.5" x2="66" y2="194.5" stroke="#8c8c8c" stroke-width="0.75"/>
<line x1="62.6" y1="199.5" x2="66" y2="199.5" stroke="#8c8c8c" stroke-width="0.75"/>
<line x1="78.5" y1="193.1" x2="78.5" y2="200.47" stroke="#8c8c8c" stroke-width="0.75"/>
<line x1="77.2" y1="193.5" x2="80.6" y2="193.5" stroke="#8c8c8c" stroke-width="0.75"/>
<line x1="77.2" y1="200.5" x2="80.6" y2="200.5" stroke="#8c8c8c" stroke-width="0.75"/>
<line x1="93.5" y1="190.65" x2="93.5" y2="195.56" stroke="#8c8c8c" stroke-width="0.75"/>
<line x1="91.6" y1="190.5" x2="95" y2="190.5" stroke="#8c8c8c" stroke-width="0.75"/>
<line x1="91.6" y1="195.5" x2="95" y2="195.5" stroke="#8c8c8c" stroke-width="0.75"/>
<polyline points="35.3,191.88 49.8,193.11 64.3,196.79 78.9,196.79 93.3,193.11" stroke="#8c8c8c" stroke-width="0.85" fill="none"/>
<circle cx="35.3" cy="191.88" r="1.85" fill="#8c8c8c" stroke="none" stroke-width="0.6"/>
<circle cx="49.8" cy="193.11" r="1.85" fill="#8c8c8c" stroke="none" stroke-width="0.6"/>
<circle cx="64.3" cy="196.79" r="1.85" fill="#8c8c8c" stroke="none" stroke-width="0.6"/>
<circle cx="78.9" cy="196.79" r="1.85" fill="#8c8c8c" stroke="none" stroke-width="0.6"/>
<circle cx="93.3" cy="193.11" r="1.85" fill="#8c8c8c" stroke="none" stroke-width="0.6"/>
<line x1="35.5" y1="188.19" x2="35.5" y2="193.11" stroke="#ec1f26" stroke-width="0.75"/>
<line x1="33.6" y1="188.5" x2="37" y2="188.5" stroke="#ec1f26" stroke-width="0.75"/>
<line x1="33.6" y1="193.5" x2="37" y2="193.5" stroke="#ec1f26" stroke-width="0.75"/>
<line x1="49.5" y1="186.35" x2="49.5" y2="192.49" stroke="#ec1f26" stroke-width="0.75"/>
<line x1="48.1" y1="186.5" x2="51.5" y2="186.5" stroke="#ec1f26" stroke-width="0.75"/>
<line x1="48.1" y1="192.5" x2="51.5" y2="192.5" stroke="#ec1f26" stroke-width="0.75"/>
<line x1="64.5" y1="188.81" x2="64.5" y2="196.17" stroke="#ec1f26" stroke-width="0.75"/>
<line x1="62.6" y1="188.5" x2="66" y2="188.5" stroke="#ec1f26" stroke-width="0.75"/>
<line x1="62.6" y1="196.5" x2="66" y2="196.5" stroke="#ec1f26" stroke-width="0.75"/>
<line x1="78.5" y1="198.01" x2="78.5" y2="207.84" stroke="#ec1f26" stroke-width="0.75"/>
<line x1="77.2" y1="198.5" x2="80.6" y2="198.5" stroke="#ec1f26" stroke-width="0.75"/>
<line x1="77.2" y1="207.5" x2="80.6" y2="207.5" stroke="#ec1f26" stroke-width="0.75"/>
<line x1="93.5" y1="196.79" x2="93.5" y2="209.06" stroke="#ec1f26" stroke-width="0.75"/>
<line x1="91.6" y1="196.5" x2="95" y2="196.5" stroke="#ec1f26" stroke-width="0.75"/>
<line x1="91.6" y1="209.5" x2="95" y2="209.5" stroke="#ec1f26" stroke-width="0.75"/>
<polyline points="35.3,190.65 49.8,189.42 64.3,192.49 78.9,202.93 93.3,202.93" stroke="#ec1f26" stroke-width="0.85" fill="none"/>
<circle cx="35.3" cy="190.65" r="1.85" fill="#ec1f26" stroke="none" stroke-width="0.6"/>
<circle cx="49.8" cy="189.42" r="1.85" fill="#ec1f26" stroke="none" stroke-width="0.6"/>
<circle cx="64.3" cy="192.49" r="1.85" fill="#ec1f26" stroke="none" stroke-width="0.6"/>
<circle cx="78.9" cy="202.93" r="1.85" fill="#ec1f26" stroke="none" stroke-width="0.6"/>
<circle cx="93.3" cy="202.93" r="1.85" fill="#ec1f26" stroke="none" stroke-width="0.6"/>
<line x1="35.5" y1="190.65" x2="35.5" y2="195.56" stroke="#000" stroke-width="0.75"/>
<line x1="33.6" y1="190.5" x2="37" y2="190.5" stroke="#000" stroke-width="0.75"/>
<line x1="33.6" y1="195.5" x2="37" y2="195.5" stroke="#000" stroke-width="0.75"/>
<line x1="49.5" y1="199.24" x2="49.5" y2="209.06" stroke="#000" stroke-width="0.75"/>
<line x1="48.1" y1="199.5" x2="51.5" y2="199.5" stroke="#000" stroke-width="0.75"/>
<line x1="48.1" y1="209.5" x2="51.5" y2="209.5" stroke="#000" stroke-width="0.75"/>
<line x1="64.5" y1="239.75" x2="64.5" y2="244.66" stroke="#000" stroke-width="0.75"/>
<line x1="62.6" y1="239.5" x2="66" y2="239.5" stroke="#000" stroke-width="0.75"/>
<line x1="62.6" y1="244.5" x2="66" y2="244.5" stroke="#000" stroke-width="0.75"/>
<line x1="78.5" y1="245.27" x2="78.5" y2="251.41" stroke="#000" stroke-width="0.75"/>
<line x1="77.2" y1="245.5" x2="80.6" y2="245.5" stroke="#000" stroke-width="0.75"/>
<line x1="77.2" y1="251.5" x2="80.6" y2="251.5" stroke="#000" stroke-width="0.75"/>
<line x1="93.5" y1="247.73" x2="93.5" y2="253.87" stroke="#000" stroke-width="0.75"/>
<line x1="91.6" y1="247.5" x2="95" y2="247.5" stroke="#000" stroke-width="0.75"/>
<line x1="91.6" y1="253.5" x2="95" y2="253.5" stroke="#000" stroke-width="0.75"/>
<polyline points="35.3,193.11 49.8,204.15 64.3,242.21 78.9,248.34 93.3,250.8" stroke="#000" stroke-width="0.85" fill="none"/>
<circle cx="35.3" cy="193.11" r="1.85" fill="#000" stroke="none" stroke-width="0.6"/>
<circle cx="49.8" cy="204.15" r="1.85" fill="#000" stroke="none" stroke-width="0.6"/>
<circle cx="64.3" cy="242.21" r="1.85" fill="#000" stroke="none" stroke-width="0.6"/>
<circle cx="78.9" cy="248.34" r="1.85" fill="#000" stroke="none" stroke-width="0.6"/>
<circle cx="93.3" cy="250.8" r="1.85" fill="#000" stroke="none" stroke-width="0.6"/>
<text x="64.3" y="252.23" font-size="7.4" text-anchor="middle" fill="#000" stroke="#000">****</text>
<text x="78.9" y="258.99" font-size="7.4" text-anchor="middle" fill="#000" stroke="#000">****</text>
<text x="93.3" y="261.44" font-size="7.4" text-anchor="middle" fill="#000" stroke="#000">****</text>
<text x="64.3" y="206.32" font-size="6" text-anchor="middle" fill="#333" stroke="#333" font-style="italic">####</text>
<text x="78.9" y="213.69" font-size="6" text-anchor="middle" fill="#333" stroke="#333" font-style="italic">####</text>
<text x="93.3" y="214.91" font-size="6" text-anchor="middle" fill="#333" stroke="#333" font-style="italic">####</text>
<line x1="123.5" y1="166.1" x2="123.5" y2="264.3" stroke="#000" stroke-width="0.8"/>
<line x1="121.8" y1="166.5" x2="123.8" y2="166.5" stroke="#000" stroke-width="0.8"/>
<text x="121" y="168.84" font-size="7.6" text-anchor="end" fill="#000" stroke="#000">2.0</text>
<line x1="121.8" y1="190.5" x2="123.8" y2="190.5" stroke="#000" stroke-width="0.8"/>
<text x="121" y="193.39" font-size="7.6" text-anchor="end" fill="#000" stroke="#000">1.5</text>
<line x1="121.8" y1="215.5" x2="123.8" y2="215.5" stroke="#000" stroke-width="0.8"/>
<text x="121" y="217.94" font-size="7.6" text-anchor="end" fill="#000" stroke="#000">1.0</text>
<line x1="121.8" y1="239.5" x2="123.8" y2="239.5" stroke="#000" stroke-width="0.8"/>
<text x="121" y="242.49" font-size="7.6" text-anchor="end" fill="#000" stroke="#000">0.5</text>
<line x1="121.8" y1="264.5" x2="123.8" y2="264.5" stroke="#000" stroke-width="0.8"/>
<text x="121" y="267.04" font-size="7.6" text-anchor="end" fill="#000" stroke="#000">0.0</text>
<line x1="123.8" y1="264.5" x2="196" y2="264.5" stroke="#000" stroke-width="0.8"/>
<line x1="132.5" y1="264.3" x2="132.5" y2="266.3" stroke="#000" stroke-width="0.8"/>
<line x1="146.5" y1="264.3" x2="146.5" y2="266.3" stroke="#000" stroke-width="0.8"/>
<line x1="161.5" y1="264.3" x2="161.5" y2="266.3" stroke="#000" stroke-width="0.8"/>
<line x1="175.5" y1="264.3" x2="175.5" y2="266.3" stroke="#000" stroke-width="0.8"/>
<line x1="190.5" y1="264.3" x2="190.5" y2="266.3" stroke="#000" stroke-width="0.8"/>
<text x="132" y="276.6" font-size="7.6" text-anchor="middle" fill="#000" stroke="#000">BL</text>
<text x="146.6" y="276.6" font-size="7.6" text-anchor="middle" fill="#000" stroke="#000">7</text>
<text x="161.1" y="276.6" font-size="7.6" text-anchor="middle" fill="#000" stroke="#000">14</text>
<text x="175.8" y="276.6" font-size="7.6" text-anchor="middle" fill="#000" stroke="#000">21</text>
<text x="190.5" y="276.6" font-size="7.6" text-anchor="middle" fill="#000" stroke="#000">28</text>
<text x="161.25" y="288.4" font-size="8" text-anchor="middle" fill="#000" stroke="#000">Time (d)</text>
<text x="107.6" y="215.2" font-size="8" text-anchor="middle" fill="#000" stroke="#000" transform="rotate(-90 107.6 215.2)">HMA-Threshold (g)</text>
<line x1="132.5" y1="190.65" x2="132.5" y2="195.56" stroke="#c4c4c4" stroke-width="0.75"/>
<line x1="130.3" y1="190.5" x2="133.7" y2="190.5" stroke="#c4c4c4" stroke-width="0.75"/>
<line x1="130.3" y1="195.5" x2="133.7" y2="195.5" stroke="#c4c4c4" stroke-width="0.75"/>
<line x1="146.5" y1="187.21" x2="146.5" y2="192.12" stroke="#c4c4c4" stroke-width="0.75"/>
<line x1="144.9" y1="187.5" x2="148.3" y2="187.5" stroke="#c4c4c4" stroke-width="0.75"/>
<line x1="144.9" y1="192.5" x2="148.3" y2="192.5" stroke="#c4c4c4" stroke-width="0.75"/>
<line x1="161.5" y1="190.65" x2="161.5" y2="195.56" stroke="#c4c4c4" stroke-width="0.75"/>
<line x1="159.4" y1="190.5" x2="162.8" y2="190.5" stroke="#c4c4c4" stroke-width="0.75"/>
<line x1="159.4" y1="195.5" x2="162.8" y2="195.5" stroke="#c4c4c4" stroke-width="0.75"/>
<line x1="175.5" y1="190.65" x2="175.5" y2="195.56" stroke="#c4c4c4" stroke-width="0.75"/>
<line x1="174.1" y1="190.5" x2="177.5" y2="190.5" stroke="#c4c4c4" stroke-width="0.75"/>
<line x1="174.1" y1="195.5" x2="177.5" y2="195.5" stroke="#c4c4c4" stroke-width="0.75"/>
<line x1="190.5" y1="195.56" x2="190.5" y2="200.47" stroke="#c4c4c4" stroke-width="0.75"/>
<line x1="188.8" y1="195.5" x2="192.2" y2="195.5" stroke="#c4c4c4" stroke-width="0.75"/>
<line x1="188.8" y1="200.5" x2="192.2" y2="200.5" stroke="#c4c4c4" stroke-width="0.75"/>
<polyline points="132,193.11 146.6,189.67 161.1,193.11 175.8,193.11 190.5,198.01" stroke="#c4c4c4" stroke-width="0.85" fill="none"/>
<circle cx="132" cy="193.11" r="1.85" fill="#c4c4c4" stroke="none" stroke-width="0.6"/>
<circle cx="146.6" cy="189.67" r="1.85" fill="#c4c4c4" stroke="none" stroke-width="0.6"/>
<circle cx="161.1" cy="193.11" r="1.85" fill="#c4c4c4" stroke="none" stroke-width="0.6"/>
<circle cx="175.8" cy="193.11" r="1.85" fill="#c4c4c4" stroke="none" stroke-width="0.6"/>
<circle cx="190.5" cy="198.01" r="1.85" fill="#c4c4c4" stroke="none" stroke-width="0.6"/>
<line x1="132.5" y1="190.65" x2="132.5" y2="195.56" stroke="#8c8c8c" stroke-width="0.75"/>
<line x1="130.3" y1="190.5" x2="133.7" y2="190.5" stroke="#8c8c8c" stroke-width="0.75"/>
<line x1="130.3" y1="195.5" x2="133.7" y2="195.5" stroke="#8c8c8c" stroke-width="0.75"/>
<line x1="146.5" y1="190.65" x2="146.5" y2="195.56" stroke="#8c8c8c" stroke-width="0.75"/>
<line x1="144.9" y1="190.5" x2="148.3" y2="190.5" stroke="#8c8c8c" stroke-width="0.75"/>
<line x1="144.9" y1="195.5" x2="148.3" y2="195.5" stroke="#8c8c8c" stroke-width="0.75"/>
<line x1="161.5" y1="190.65" x2="161.5" y2="195.56" stroke="#8c8c8c" stroke-width="0.75"/>
<line x1="159.4" y1="190.5" x2="162.8" y2="190.5" stroke="#8c8c8c" stroke-width="0.75"/>
<line x1="159.4" y1="195.5" x2="162.8" y2="195.5" stroke="#8c8c8c" stroke-width="0.75"/>
<line x1="175.5" y1="190.65" x2="175.5" y2="195.56" stroke="#8c8c8c" stroke-width="0.75"/>
<line x1="174.1" y1="190.5" x2="177.5" y2="190.5" stroke="#8c8c8c" stroke-width="0.75"/>
<line x1="174.1" y1="195.5" x2="177.5" y2="195.5" stroke="#8c8c8c" stroke-width="0.75"/>
<line x1="190.5" y1="189.18" x2="190.5" y2="194.09" stroke="#8c8c8c" stroke-width="0.75"/>
<line x1="188.8" y1="189.5" x2="192.2" y2="189.5" stroke="#8c8c8c" stroke-width="0.75"/>
<line x1="188.8" y1="194.5" x2="192.2" y2="194.5" stroke="#8c8c8c" stroke-width="0.75"/>
<polyline points="132,193.11 146.6,193.11 161.1,193.11 175.8,193.11 190.5,191.63" stroke="#8c8c8c" stroke-width="0.85" fill="none"/>
<circle cx="132" cy="193.11" r="1.85" fill="#8c8c8c" stroke="none" stroke-width="0.6"/>
<circle cx="146.6" cy="193.11" r="1.85" fill="#8c8c8c" stroke="none" stroke-width="0.6"/>
<circle cx="161.1" cy="193.11" r="1.85" fill="#8c8c8c" stroke="none" stroke-width="0.6"/>
<circle cx="175.8" cy="193.11" r="1.85" fill="#8c8c8c" stroke="none" stroke-width="0.6"/>
<circle cx="190.5" cy="191.63" r="1.85" fill="#8c8c8c" stroke="none" stroke-width="0.6"/>
<line x1="132.5" y1="189.67" x2="132.5" y2="196.54" stroke="#ec1f26" stroke-width="0.75"/>
<line x1="130.3" y1="189.5" x2="133.7" y2="189.5" stroke="#ec1f26" stroke-width="0.75"/>
<line x1="130.3" y1="196.5" x2="133.7" y2="196.5" stroke="#ec1f26" stroke-width="0.75"/>
<line x1="146.5" y1="194.09" x2="146.5" y2="203.91" stroke="#ec1f26" stroke-width="0.75"/>
<line x1="144.9" y1="194.5" x2="148.3" y2="194.5" stroke="#ec1f26" stroke-width="0.75"/>
<line x1="144.9" y1="203.5" x2="148.3" y2="203.5" stroke="#ec1f26" stroke-width="0.75"/>
<line x1="161.5" y1="197.03" x2="161.5" y2="210.78" stroke="#ec1f26" stroke-width="0.75"/>
<line x1="159.4" y1="197.5" x2="162.8" y2="197.5" stroke="#ec1f26" stroke-width="0.75"/>
<line x1="159.4" y1="210.5" x2="162.8" y2="210.5" stroke="#ec1f26" stroke-width="0.75"/>
<line x1="175.5" y1="198.01" x2="175.5" y2="209.8" stroke="#ec1f26" stroke-width="0.75"/>
<line x1="174.1" y1="198.5" x2="177.5" y2="198.5" stroke="#ec1f26" stroke-width="0.75"/>
<line x1="174.1" y1="209.5" x2="177.5" y2="209.5" stroke="#ec1f26" stroke-width="0.75"/>
<line x1="190.5" y1="198.01" x2="190.5" y2="207.84" stroke="#ec1f26" stroke-width="0.75"/>
<line x1="188.8" y1="198.5" x2="192.2" y2="198.5" stroke="#ec1f26" stroke-width="0.75"/>
<line x1="188.8" y1="207.5" x2="192.2" y2="207.5" stroke="#ec1f26" stroke-width="0.75"/>
<polyline points="132,193.11 146.6,199 161.1,203.91 175.8,203.91 190.5,202.93" stroke="#ec1f26" stroke-width="0.85" fill="none"/>
<circle cx="132" cy="193.11" r="1.85" fill="#ec1f26" stroke="none" stroke-width="0.6"/>
<circle cx="146.6" cy="199" r="1.85" fill="#ec1f26" stroke="none" stroke-width="0.6"/>
<circle cx="161.1" cy="203.91" r="1.85" fill="#ec1f26" stroke="none" stroke-width="0.6"/>
<circle cx="175.8" cy="203.91" r="1.85" fill="#ec1f26" stroke="none" stroke-width="0.6"/>
<circle cx="190.5" cy="202.93" r="1.85" fill="#ec1f26" stroke="none" stroke-width="0.6"/>
<line x1="132.5" y1="194.09" x2="132.5" y2="199.98" stroke="#000" stroke-width="0.75"/>
<line x1="130.3" y1="194.5" x2="133.7" y2="194.5" stroke="#000" stroke-width="0.75"/>
<line x1="130.3" y1="199.5" x2="133.7" y2="199.5" stroke="#000" stroke-width="0.75"/>
<line x1="146.5" y1="210.29" x2="146.5" y2="222.07" stroke="#000" stroke-width="0.75"/>
<line x1="144.9" y1="210.5" x2="148.3" y2="210.5" stroke="#000" stroke-width="0.75"/>
<line x1="144.9" y1="222.5" x2="148.3" y2="222.5" stroke="#000" stroke-width="0.75"/>
<line x1="161.5" y1="237.79" x2="161.5" y2="243.68" stroke="#000" stroke-width="0.75"/>
<line x1="159.4" y1="237.5" x2="162.8" y2="237.5" stroke="#000" stroke-width="0.75"/>
<line x1="159.4" y1="243.5" x2="162.8" y2="243.5" stroke="#000" stroke-width="0.75"/>
<line x1="175.5" y1="236.8" x2="175.5" y2="242.7" stroke="#000" stroke-width="0.75"/>
<line x1="174.1" y1="236.5" x2="177.5" y2="236.5" stroke="#000" stroke-width="0.75"/>
<line x1="174.1" y1="242.5" x2="177.5" y2="242.5" stroke="#000" stroke-width="0.75"/>
<line x1="190.5" y1="241.22" x2="190.5" y2="246.13" stroke="#000" stroke-width="0.75"/>
<line x1="188.8" y1="241.5" x2="192.2" y2="241.5" stroke="#000" stroke-width="0.75"/>
<line x1="188.8" y1="246.5" x2="192.2" y2="246.5" stroke="#000" stroke-width="0.75"/>
<polyline points="132,197.03 146.6,216.18 161.1,240.73 175.8,239.75 190.5,243.68" stroke="#000" stroke-width="0.85" fill="none"/>
<circle cx="132" cy="197.03" r="1.85" fill="#000" stroke="none" stroke-width="0.6"/>
<circle cx="146.6" cy="216.18" r="1.85" fill="#000" stroke="none" stroke-width="0.6"/>
<circle cx="161.1" cy="240.73" r="1.85" fill="#000" stroke="none" stroke-width="0.6"/>
<circle cx="175.8" cy="239.75" r="1.85" fill="#000" stroke="none" stroke-width="0.6"/>
<circle cx="190.5" cy="243.68" r="1.85" fill="#000" stroke="none" stroke-width="0.6"/>
<text x="146.6" y="229.65" font-size="7.4" text-anchor="middle" fill="#000" stroke="#000">***</text>
<text x="161.1" y="251.25" font-size="7.4" text-anchor="middle" fill="#000" stroke="#000">****</text>
<text x="175.8" y="250.27" font-size="7.4" text-anchor="middle" fill="#000" stroke="#000">****</text>
<text x="190.5" y="253.71" font-size="7.4" text-anchor="middle" fill="#000" stroke="#000">****</text>
<text x="146.6" y="209.76" font-size="6" text-anchor="middle" fill="#333" stroke="#333" font-style="italic">#</text>
<text x="161.1" y="216.63" font-size="6" text-anchor="middle" fill="#333" stroke="#333" font-style="italic">####</text>
<text x="175.8" y="215.65" font-size="6" text-anchor="middle" fill="#333" stroke="#333" font-style="italic">####</text>
<text x="190.5" y="213.69" font-size="6" text-anchor="middle" fill="#333" stroke="#333" font-style="italic">####</text>
<line x1="218.5" y1="166.1" x2="218.5" y2="264.3" stroke="#000" stroke-width="0.8"/>
<line x1="216.2" y1="166.5" x2="218.2" y2="166.5" stroke="#000" stroke-width="0.8"/>
<text x="215.4" y="168.84" font-size="7.6" text-anchor="end" fill="#000" stroke="#000">10</text>
<line x1="216.2" y1="185.5" x2="218.2" y2="185.5" stroke="#000" stroke-width="0.8"/>
<text x="215.4" y="188.48" font-size="7.6" text-anchor="end" fill="#000" stroke="#000">8</text>
<line x1="216.2" y1="205.5" x2="218.2" y2="205.5" stroke="#000" stroke-width="0.8"/>
<text x="215.4" y="208.12" font-size="7.6" text-anchor="end" fill="#000" stroke="#000">6</text>
<line x1="216.2" y1="225.5" x2="218.2" y2="225.5" stroke="#000" stroke-width="0.8"/>
<text x="215.4" y="227.76" font-size="7.6" text-anchor="end" fill="#000" stroke="#000">4</text>
<line x1="216.2" y1="244.5" x2="218.2" y2="244.5" stroke="#000" stroke-width="0.8"/>
<text x="215.4" y="247.4" font-size="7.6" text-anchor="end" fill="#000" stroke="#000">2</text>
<line x1="216.2" y1="264.5" x2="218.2" y2="264.5" stroke="#000" stroke-width="0.8"/>
<text x="215.4" y="267.04" font-size="7.6" text-anchor="end" fill="#000" stroke="#000">0</text>
<line x1="218.2" y1="264.5" x2="292.2" y2="264.5" stroke="#000" stroke-width="0.8"/>
<line x1="228.5" y1="264.3" x2="228.5" y2="266.3" stroke="#000" stroke-width="0.8"/>
<line x1="246.5" y1="264.3" x2="246.5" y2="266.3" stroke="#000" stroke-width="0.8"/>
<line x1="264.5" y1="264.3" x2="264.5" y2="266.3" stroke="#000" stroke-width="0.8"/>
<line x1="283.5" y1="264.3" x2="283.5" y2="266.3" stroke="#000" stroke-width="0.8"/>
<text x="228" y="276.8" font-size="7.6" text-anchor="middle" fill="#000" stroke="#000">0.008</text>
<text x="246.4" y="276.8" font-size="7.6" text-anchor="middle" fill="#000" stroke="#000">0.04</text>
<text x="264.8" y="276.8" font-size="7.6" text-anchor="middle" fill="#000" stroke="#000">0.16</text>
<text x="283.2" y="276.8" font-size="7.6" text-anchor="middle" fill="#000" stroke="#000">0.4</text>
<text x="255.7" y="288.4" font-size="8" text-anchor="middle" fill="#000" stroke="#000">von Frey hair forces (g)</text>
<text x="207.4" y="215.2" font-size="8" text-anchor="middle" fill="#000" stroke="#000" transform="rotate(-90 207.4 215.2)">AMA-Withdrawal response (n)</text>
<text x="220.7" y="168.9" font-size="8" text-anchor="start" fill="#000" stroke="#000">Day 0</text>
<line x1="228.5" y1="236.8" x2="228.5" y2="262.34" stroke="#c4c4c4" stroke-width="0.75"/>
<line x1="226.3" y1="236.5" x2="229.7" y2="236.5" stroke="#c4c4c4" stroke-width="0.75"/>
<line x1="226.3" y1="262.5" x2="229.7" y2="262.5" stroke="#c4c4c4" stroke-width="0.75"/>
<line x1="246.5" y1="224.04" x2="246.5" y2="235.82" stroke="#c4c4c4" stroke-width="0.75"/>
<line x1="244.7" y1="224.5" x2="248.1" y2="224.5" stroke="#c4c4c4" stroke-width="0.75"/>
<line x1="244.7" y1="235.5" x2="248.1" y2="235.5" stroke="#c4c4c4" stroke-width="0.75"/>
<line x1="264.5" y1="202.43" x2="264.5" y2="210.29" stroke="#c4c4c4" stroke-width="0.75"/>
<line x1="263.1" y1="202.5" x2="266.5" y2="202.5" stroke="#c4c4c4" stroke-width="0.75"/>
<line x1="263.1" y1="210.5" x2="266.5" y2="210.5" stroke="#c4c4c4" stroke-width="0.75"/>
<line x1="283.5" y1="198.51" x2="283.5" y2="206.36" stroke="#c4c4c4" stroke-width="0.75"/>
<line x1="281.5" y1="198.5" x2="284.9" y2="198.5" stroke="#c4c4c4" stroke-width="0.75"/>
<line x1="281.5" y1="206.5" x2="284.9" y2="206.5" stroke="#c4c4c4" stroke-width="0.75"/>
<polyline points="228,249.57 246.4,229.93 264.8,206.36 283.2,202.43" stroke="#c4c4c4" stroke-width="0.85" fill="none"/>
<circle cx="228" cy="249.57" r="1.85" fill="#c4c4c4" stroke="none" stroke-width="0.6"/>
<circle cx="246.4" cy="229.93" r="1.85" fill="#c4c4c4" stroke="none" stroke-width="0.6"/>
<circle cx="264.8" cy="206.36" r="1.85" fill="#c4c4c4" stroke="none" stroke-width="0.6"/>
<circle cx="283.2" cy="202.43" r="1.85" fill="#c4c4c4" stroke="none" stroke-width="0.6"/>
<line x1="228.5" y1="246.62" x2="228.5" y2="258.41" stroke="#8c8c8c" stroke-width="0.75"/>
<line x1="226.3" y1="246.5" x2="229.7" y2="246.5" stroke="#8c8c8c" stroke-width="0.75"/>
<line x1="226.3" y1="258.5" x2="229.7" y2="258.5" stroke="#8c8c8c" stroke-width="0.75"/>
<line x1="246.5" y1="219.13" x2="246.5" y2="230.91" stroke="#8c8c8c" stroke-width="0.75"/>
<line x1="244.7" y1="219.5" x2="248.1" y2="219.5" stroke="#8c8c8c" stroke-width="0.75"/>
<line x1="244.7" y1="230.5" x2="248.1" y2="230.5" stroke="#8c8c8c" stroke-width="0.75"/>
<line x1="264.5" y1="208.33" x2="264.5" y2="216.18" stroke="#8c8c8c" stroke-width="0.75"/>
<line x1="263.1" y1="208.5" x2="266.5" y2="208.5" stroke="#8c8c8c" stroke-width="0.75"/>
<line x1="263.1" y1="216.5" x2="266.5" y2="216.5" stroke="#8c8c8c" stroke-width="0.75"/>
<line x1="283.5" y1="199.49" x2="283.5" y2="207.34" stroke="#8c8c8c" stroke-width="0.75"/>
<line x1="281.5" y1="199.5" x2="284.9" y2="199.5" stroke="#8c8c8c" stroke-width="0.75"/>
<line x1="281.5" y1="207.5" x2="284.9" y2="207.5" stroke="#8c8c8c" stroke-width="0.75"/>
<polyline points="228,252.52 246.4,225.02 264.8,212.25 283.2,203.42" stroke="#8c8c8c" stroke-width="0.85" fill="none"/>
<circle cx="228" cy="252.52" r="1.85" fill="#8c8c8c" stroke="none" stroke-width="0.6"/>
<circle cx="246.4" cy="225.02" r="1.85" fill="#8c8c8c" stroke="none" stroke-width="0.6"/>
<circle cx="264.8" cy="212.25" r="1.85" fill="#8c8c8c" stroke="none" stroke-width="0.6"/>
<circle cx="283.2" cy="203.42" r="1.85" fill="#8c8c8c" stroke="none" stroke-width="0.6"/>
<line x1="228.5" y1="253.99" x2="228.5" y2="259.88" stroke="#ec1f26" stroke-width="0.75"/>
<line x1="226.3" y1="253.5" x2="229.7" y2="253.5" stroke="#ec1f26" stroke-width="0.75"/>
<line x1="226.3" y1="259.5" x2="229.7" y2="259.5" stroke="#ec1f26" stroke-width="0.75"/>
<line x1="246.5" y1="234.84" x2="246.5" y2="240.73" stroke="#ec1f26" stroke-width="0.75"/>
<line x1="244.7" y1="234.5" x2="248.1" y2="234.5" stroke="#ec1f26" stroke-width="0.75"/>
<line x1="244.7" y1="240.5" x2="248.1" y2="240.5" stroke="#ec1f26" stroke-width="0.75"/>
<line x1="264.5" y1="219.13" x2="264.5" y2="225.02" stroke="#ec1f26" stroke-width="0.75"/>
<line x1="263.1" y1="219.5" x2="266.5" y2="219.5" stroke="#ec1f26" stroke-width="0.75"/>
<line x1="263.1" y1="225.5" x2="266.5" y2="225.5" stroke="#ec1f26" stroke-width="0.75"/>
<line x1="283.5" y1="207.34" x2="283.5" y2="211.27" stroke="#ec1f26" stroke-width="0.75"/>
<line x1="281.5" y1="207.5" x2="284.9" y2="207.5" stroke="#ec1f26" stroke-width="0.75"/>
<line x1="281.5" y1="211.5" x2="284.9" y2="211.5" stroke="#ec1f26" stroke-width="0.75"/>
<polyline points="228,256.94 246.4,237.79 264.8,222.07 283.2,209.31" stroke="#ec1f26" stroke-width="0.85" fill="none"/>
<circle cx="228" cy="256.94" r="1.85" fill="#ec1f26" stroke="none" stroke-width="0.6"/>
<circle cx="246.4" cy="237.79" r="1.85" fill="#ec1f26" stroke="none" stroke-width="0.6"/>
<circle cx="264.8" cy="222.07" r="1.85" fill="#ec1f26" stroke="none" stroke-width="0.6"/>
<circle cx="283.2" cy="209.31" r="1.85" fill="#ec1f26" stroke="none" stroke-width="0.6"/>
<line x1="228.5" y1="252.52" x2="228.5" y2="258.41" stroke="#000" stroke-width="0.75"/>
<line x1="226.3" y1="252.5" x2="229.7" y2="252.5" stroke="#000" stroke-width="0.75"/>
<line x1="226.3" y1="258.5" x2="229.7" y2="258.5" stroke="#000" stroke-width="0.75"/>
<line x1="246.5" y1="231.89" x2="246.5" y2="237.79" stroke="#000" stroke-width="0.75"/>
<line x1="244.7" y1="231.5" x2="248.1" y2="231.5" stroke="#000" stroke-width="0.75"/>
<line x1="244.7" y1="237.5" x2="248.1" y2="237.5" stroke="#000" stroke-width="0.75"/>
<line x1="264.5" y1="214.22" x2="264.5" y2="220.11" stroke="#000" stroke-width="0.75"/>
<line x1="263.1" y1="214.5" x2="266.5" y2="214.5" stroke="#000" stroke-width="0.75"/>
<line x1="263.1" y1="220.5" x2="266.5" y2="220.5" stroke="#000" stroke-width="0.75"/>
<line x1="283.5" y1="207.34" x2="283.5" y2="211.27" stroke="#000" stroke-width="0.75"/>
<line x1="281.5" y1="207.5" x2="284.9" y2="207.5" stroke="#000" stroke-width="0.75"/>
<line x1="281.5" y1="211.5" x2="284.9" y2="211.5" stroke="#000" stroke-width="0.75"/>
<polyline points="228,255.46 246.4,234.84 264.8,217.16 283.2,209.31" stroke="#000" stroke-width="0.85" fill="none"/>
<circle cx="228" cy="255.46" r="1.85" fill="#000" stroke="none" stroke-width="0.6"/>
<circle cx="246.4" cy="234.84" r="1.85" fill="#000" stroke="none" stroke-width="0.6"/>
<circle cx="264.8" cy="217.16" r="1.85" fill="#000" stroke="none" stroke-width="0.6"/>
<circle cx="283.2" cy="209.31" r="1.85" fill="#000" stroke="none" stroke-width="0.6"/>
<line x1="315.5" y1="166.1" x2="315.5" y2="264.3" stroke="#000" stroke-width="0.8"/>
<line x1="313.4" y1="166.5" x2="315.4" y2="166.5" stroke="#000" stroke-width="0.8"/>
<text x="312.6" y="168.84" font-size="7.6" text-anchor="end" fill="#000" stroke="#000">10</text>
<line x1="313.4" y1="185.5" x2="315.4" y2="185.5" stroke="#000" stroke-width="0.8"/>
<text x="312.6" y="188.48" font-size="7.6" text-anchor="end" fill="#000" stroke="#000">8</text>
<line x1="313.4" y1="205.5" x2="315.4" y2="205.5" stroke="#000" stroke-width="0.8"/>
<text x="312.6" y="208.12" font-size="7.6" text-anchor="end" fill="#000" stroke="#000">6</text>
<line x1="313.4" y1="225.5" x2="315.4" y2="225.5" stroke="#000" stroke-width="0.8"/>
<text x="312.6" y="227.76" font-size="7.6" text-anchor="end" fill="#000" stroke="#000">4</text>
<line x1="313.4" y1="244.5" x2="315.4" y2="244.5" stroke="#000" stroke-width="0.8"/>
<text x="312.6" y="247.4" font-size="7.6" text-anchor="end" fill="#000" stroke="#000">2</text>
<line x1="313.4" y1="264.5" x2="315.4" y2="264.5" stroke="#000" stroke-width="0.8"/>
<text x="312.6" y="267.04" font-size="7.6" text-anchor="end" fill="#000" stroke="#000">0</text>
<line x1="315.4" y1="264.5" x2="389.4" y2="264.5" stroke="#000" stroke-width="0.8"/>
<line x1="325.5" y1="264.3" x2="325.5" y2="266.3" stroke="#000" stroke-width="0.8"/>
<line x1="343.5" y1="264.3" x2="343.5" y2="266.3" stroke="#000" stroke-width="0.8"/>
<line x1="362.5" y1="264.3" x2="362.5" y2="266.3" stroke="#000" stroke-width="0.8"/>
<line x1="380.5" y1="264.3" x2="380.5" y2="266.3" stroke="#000" stroke-width="0.8"/>
<text x="325.2" y="276.8" font-size="7.6" text-anchor="middle" fill="#000" stroke="#000">0.008</text>
<text x="343.6" y="276.8" font-size="7.6" text-anchor="middle" fill="#000" stroke="#000">0.04</text>
<text x="362" y="276.8" font-size="7.6" text-anchor="middle" fill="#000" stroke="#000">0.16</text>
<text x="380.4" y="276.8" font-size="7.6" text-anchor="middle" fill="#000" stroke="#000">0.4</text>
<text x="352.9" y="288.4" font-size="8" text-anchor="middle" fill="#000" stroke="#000">von Frey hair forces (g)</text>
<text x="304.6" y="215.2" font-size="8" text-anchor="middle" fill="#000" stroke="#000" transform="rotate(-90 304.6 215.2)">AMA-Withdrawal response (n)</text>
<text x="317.9" y="168.9" font-size="8" text-anchor="start" fill="#000" stroke="#000">Day 7</text>
<line x1="325.5" y1="243.68" x2="325.5" y2="253.5" stroke="#c4c4c4" stroke-width="0.75"/>
<line x1="323.5" y1="243.5" x2="326.9" y2="243.5" stroke="#c4c4c4" stroke-width="0.75"/>
<line x1="323.5" y1="253.5" x2="326.9" y2="253.5" stroke="#c4c4c4" stroke-width="0.75"/>
<line x1="343.5" y1="222.07" x2="343.5" y2="231.89" stroke="#c4c4c4" stroke-width="0.75"/>
<line x1="341.9" y1="222.5" x2="345.3" y2="222.5" stroke="#c4c4c4" stroke-width="0.75"/>
<line x1="341.9" y1="231.5" x2="345.3" y2="231.5" stroke="#c4c4c4" stroke-width="0.75"/>
<line x1="362.5" y1="197.52" x2="362.5" y2="207.34" stroke="#c4c4c4" stroke-width="0.75"/>
<line x1="360.3" y1="197.5" x2="363.7" y2="197.5" stroke="#c4c4c4" stroke-width="0.75"/>
<line x1="360.3" y1="207.5" x2="363.7" y2="207.5" stroke="#c4c4c4" stroke-width="0.75"/>
<line x1="380.5" y1="193.6" x2="380.5" y2="201.45" stroke="#c4c4c4" stroke-width="0.75"/>
<line x1="378.7" y1="193.5" x2="382.1" y2="193.5" stroke="#c4c4c4" stroke-width="0.75"/>
<line x1="378.7" y1="201.5" x2="382.1" y2="201.5" stroke="#c4c4c4" stroke-width="0.75"/>
<polyline points="325.2,248.59 343.6,226.98 362,202.43 380.4,197.52" stroke="#c4c4c4" stroke-width="0.85" fill="none"/>
<circle cx="325.2" cy="248.59" r="1.85" fill="#c4c4c4" stroke="none" stroke-width="0.6"/>
<circle cx="343.6" cy="226.98" r="1.85" fill="#c4c4c4" stroke="none" stroke-width="0.6"/>
<circle cx="362" cy="202.43" r="1.85" fill="#c4c4c4" stroke="none" stroke-width="0.6"/>
<circle cx="380.4" cy="197.52" r="1.85" fill="#c4c4c4" stroke="none" stroke-width="0.6"/>
<line x1="325.5" y1="239.75" x2="325.5" y2="247.61" stroke="#8c8c8c" stroke-width="0.75"/>
<line x1="323.5" y1="239.5" x2="326.9" y2="239.5" stroke="#8c8c8c" stroke-width="0.75"/>
<line x1="323.5" y1="247.5" x2="326.9" y2="247.5" stroke="#8c8c8c" stroke-width="0.75"/>
<line x1="343.5" y1="219.13" x2="343.5" y2="228.95" stroke="#8c8c8c" stroke-width="0.75"/>
<line x1="341.9" y1="219.5" x2="345.3" y2="219.5" stroke="#8c8c8c" stroke-width="0.75"/>
<line x1="341.9" y1="228.5" x2="345.3" y2="228.5" stroke="#8c8c8c" stroke-width="0.75"/>
<line x1="362.5" y1="201.45" x2="362.5" y2="211.27" stroke="#8c8c8c" stroke-width="0.75"/>
<line x1="360.3" y1="201.5" x2="363.7" y2="201.5" stroke="#8c8c8c" stroke-width="0.75"/>
<line x1="360.3" y1="211.5" x2="363.7" y2="211.5" stroke="#8c8c8c" stroke-width="0.75"/>
<line x1="380.5" y1="196.54" x2="380.5" y2="204.4" stroke="#8c8c8c" stroke-width="0.75"/>
<line x1="378.7" y1="196.5" x2="382.1" y2="196.5" stroke="#8c8c8c" stroke-width="0.75"/>
<line x1="378.7" y1="204.5" x2="382.1" y2="204.5" stroke="#8c8c8c" stroke-width="0.75"/>
<polyline points="325.2,243.68 343.6,224.04 362,206.36 380.4,200.47" stroke="#8c8c8c" stroke-width="0.85" fill="none"/>
<circle cx="325.2" cy="243.68" r="1.85" fill="#8c8c8c" stroke="none" stroke-width="0.6"/>
<circle cx="343.6" cy="224.04" r="1.85" fill="#8c8c8c" stroke="none" stroke-width="0.6"/>
<circle cx="362" cy="206.36" r="1.85" fill="#8c8c8c" stroke="none" stroke-width="0.6"/>
<circle cx="380.4" cy="200.47" r="1.85" fill="#8c8c8c" stroke="none" stroke-width="0.6"/>
<line x1="325.5" y1="236.8" x2="325.5" y2="242.7" stroke="#ec1f26" stroke-width="0.75"/>
<line x1="323.5" y1="236.5" x2="326.9" y2="236.5" stroke="#ec1f26" stroke-width="0.75"/>
<line x1="323.5" y1="242.5" x2="326.9" y2="242.5" stroke="#ec1f26" stroke-width="0.75"/>
<line x1="343.5" y1="220.11" x2="343.5" y2="227.97" stroke="#ec1f26" stroke-width="0.75"/>
<line x1="341.9" y1="220.5" x2="345.3" y2="220.5" stroke="#ec1f26" stroke-width="0.75"/>
<line x1="341.9" y1="227.5" x2="345.3" y2="227.5" stroke="#ec1f26" stroke-width="0.75"/>
<line x1="362.5" y1="205.38" x2="362.5" y2="215.2" stroke="#ec1f26" stroke-width="0.75"/>
<line x1="360.3" y1="205.5" x2="363.7" y2="205.5" stroke="#ec1f26" stroke-width="0.75"/>
<line x1="360.3" y1="215.5" x2="363.7" y2="215.5" stroke="#ec1f26" stroke-width="0.75"/>
<line x1="380.5" y1="203.42" x2="380.5" y2="209.31" stroke="#ec1f26" stroke-width="0.75"/>
<line x1="378.7" y1="203.5" x2="382.1" y2="203.5" stroke="#ec1f26" stroke-width="0.75"/>
<line x1="378.7" y1="209.5" x2="382.1" y2="209.5" stroke="#ec1f26" stroke-width="0.75"/>
<polyline points="325.2,239.75 343.6,224.04 362,210.29 380.4,206.36" stroke="#ec1f26" stroke-width="0.85" fill="none"/>
<circle cx="325.2" cy="239.75" r="1.85" fill="#ec1f26" stroke="none" stroke-width="0.6"/>
<circle cx="343.6" cy="224.04" r="1.85" fill="#ec1f26" stroke="none" stroke-width="0.6"/>
<circle cx="362" cy="210.29" r="1.85" fill="#ec1f26" stroke="none" stroke-width="0.6"/>
<circle cx="380.4" cy="206.36" r="1.85" fill="#ec1f26" stroke="none" stroke-width="0.6"/>
<line x1="325.5" y1="214.71" x2="325.5" y2="228.46" stroke="#000" stroke-width="0.75"/>
<line x1="323.5" y1="214.5" x2="326.9" y2="214.5" stroke="#000" stroke-width="0.75"/>
<line x1="323.5" y1="228.5" x2="326.9" y2="228.5" stroke="#000" stroke-width="0.75"/>
<line x1="343.5" y1="204.4" x2="343.5" y2="216.18" stroke="#000" stroke-width="0.75"/>
<line x1="341.9" y1="204.5" x2="345.3" y2="204.5" stroke="#000" stroke-width="0.75"/>
<line x1="341.9" y1="216.5" x2="345.3" y2="216.5" stroke="#000" stroke-width="0.75"/>
<line x1="362.5" y1="195.56" x2="362.5" y2="205.38" stroke="#000" stroke-width="0.75"/>
<line x1="360.3" y1="195.5" x2="363.7" y2="195.5" stroke="#000" stroke-width="0.75"/>
<line x1="360.3" y1="205.5" x2="363.7" y2="205.5" stroke="#000" stroke-width="0.75"/>
<line x1="380.5" y1="186.72" x2="380.5" y2="196.54" stroke="#000" stroke-width="0.75"/>
<line x1="378.7" y1="186.5" x2="382.1" y2="186.5" stroke="#000" stroke-width="0.75"/>
<line x1="378.7" y1="196.5" x2="382.1" y2="196.5" stroke="#000" stroke-width="0.75"/>
<polyline points="325.2,221.58 343.6,210.29 362,200.47 380.4,191.63" stroke="#000" stroke-width="0.85" fill="none"/>
<circle cx="325.2" cy="221.58" r="1.85" fill="#000" stroke="none" stroke-width="0.6"/>
<circle cx="343.6" cy="210.29" r="1.85" fill="#000" stroke="none" stroke-width="0.6"/>
<circle cx="362" cy="200.47" r="1.85" fill="#000" stroke="none" stroke-width="0.6"/>
<circle cx="380.4" cy="191.63" r="1.85" fill="#000" stroke="none" stroke-width="0.6"/>
<text x="325.2" y="213.88" font-size="7.4" text-anchor="middle" fill="#000" stroke="#000">**</text>
<line x1="414.5" y1="166.1" x2="414.5" y2="264.3" stroke="#000" stroke-width="0.8"/>
<line x1="412.2" y1="166.5" x2="414.2" y2="166.5" stroke="#000" stroke-width="0.8"/>
<text x="411.4" y="168.84" font-size="7.6" text-anchor="end" fill="#000" stroke="#000">10</text>
<line x1="412.2" y1="185.5" x2="414.2" y2="185.5" stroke="#000" stroke-width="0.8"/>
<text x="411.4" y="188.48" font-size="7.6" text-anchor="end" fill="#000" stroke="#000">8</text>
<line x1="412.2" y1="205.5" x2="414.2" y2="205.5" stroke="#000" stroke-width="0.8"/>
<text x="411.4" y="208.12" font-size="7.6" text-anchor="end" fill="#000" stroke="#000">6</text>
<line x1="412.2" y1="225.5" x2="414.2" y2="225.5" stroke="#000" stroke-width="0.8"/>
<text x="411.4" y="227.76" font-size="7.6" text-anchor="end" fill="#000" stroke="#000">4</text>
<line x1="412.2" y1="244.5" x2="414.2" y2="244.5" stroke="#000" stroke-width="0.8"/>
<text x="411.4" y="247.4" font-size="7.6" text-anchor="end" fill="#000" stroke="#000">2</text>
<line x1="412.2" y1="264.5" x2="414.2" y2="264.5" stroke="#000" stroke-width="0.8"/>
<text x="411.4" y="267.04" font-size="7.6" text-anchor="end" fill="#000" stroke="#000">0</text>
<line x1="414.2" y1="264.5" x2="488.2" y2="264.5" stroke="#000" stroke-width="0.8"/>
<line x1="424.5" y1="264.3" x2="424.5" y2="266.3" stroke="#000" stroke-width="0.8"/>
<line x1="442.5" y1="264.3" x2="442.5" y2="266.3" stroke="#000" stroke-width="0.8"/>
<line x1="460.5" y1="264.3" x2="460.5" y2="266.3" stroke="#000" stroke-width="0.8"/>
<line x1="479.5" y1="264.3" x2="479.5" y2="266.3" stroke="#000" stroke-width="0.8"/>
<text x="424" y="276.8" font-size="7.6" text-anchor="middle" fill="#000" stroke="#000">0.008</text>
<text x="442.4" y="276.8" font-size="7.6" text-anchor="middle" fill="#000" stroke="#000">0.04</text>
<text x="460.8" y="276.8" font-size="7.6" text-anchor="middle" fill="#000" stroke="#000">0.16</text>
<text x="479.2" y="276.8" font-size="7.6" text-anchor="middle" fill="#000" stroke="#000">0.4</text>
<text x="451.7" y="288.4" font-size="8" text-anchor="middle" fill="#000" stroke="#000">von Frey hair forces (g)</text>
<text x="403.4" y="215.2" font-size="8" text-anchor="middle" fill="#000" stroke="#000" transform="rotate(-90 403.4 215.2)">AMA-Withdrawal response (n)</text>
<text x="416.7" y="168.9" font-size="8" text-anchor="start" fill="#000" stroke="#000">Day 14</text>
<line x1="424.5" y1="249.08" x2="424.5" y2="256.94" stroke="#c4c4c4" stroke-width="0.75"/>
<line x1="422.3" y1="249.5" x2="425.7" y2="249.5" stroke="#c4c4c4" stroke-width="0.75"/>
<line x1="422.3" y1="256.5" x2="425.7" y2="256.5" stroke="#c4c4c4" stroke-width="0.75"/>
<line x1="442.5" y1="236.8" x2="442.5" y2="242.7" stroke="#c4c4c4" stroke-width="0.75"/>
<line x1="440.7" y1="236.5" x2="444.1" y2="236.5" stroke="#c4c4c4" stroke-width="0.75"/>
<line x1="440.7" y1="242.5" x2="444.1" y2="242.5" stroke="#c4c4c4" stroke-width="0.75"/>
<line x1="460.5" y1="205.38" x2="460.5" y2="213.24" stroke="#c4c4c4" stroke-width="0.75"/>
<line x1="459.1" y1="205.5" x2="462.5" y2="205.5" stroke="#c4c4c4" stroke-width="0.75"/>
<line x1="459.1" y1="213.5" x2="462.5" y2="213.5" stroke="#c4c4c4" stroke-width="0.75"/>
<line x1="479.5" y1="191.63" x2="479.5" y2="201.45" stroke="#c4c4c4" stroke-width="0.75"/>
<line x1="477.5" y1="191.5" x2="480.9" y2="191.5" stroke="#c4c4c4" stroke-width="0.75"/>
<line x1="477.5" y1="201.5" x2="480.9" y2="201.5" stroke="#c4c4c4" stroke-width="0.75"/>
<polyline points="424,253.01 442.4,239.75 460.8,209.31 479.2,196.54" stroke="#c4c4c4" stroke-width="0.85" fill="none"/>
<circle cx="424" cy="253.01" r="1.85" fill="#c4c4c4" stroke="none" stroke-width="0.6"/>
<circle cx="442.4" cy="239.75" r="1.85" fill="#c4c4c4" stroke="none" stroke-width="0.6"/>
<circle cx="460.8" cy="209.31" r="1.85" fill="#c4c4c4" stroke="none" stroke-width="0.6"/>
<circle cx="479.2" cy="196.54" r="1.85" fill="#c4c4c4" stroke="none" stroke-width="0.6"/>
<line x1="424.5" y1="245.15" x2="424.5" y2="251.04" stroke="#8c8c8c" stroke-width="0.75"/>
<line x1="422.3" y1="245.5" x2="425.7" y2="245.5" stroke="#8c8c8c" stroke-width="0.75"/>
<line x1="422.3" y1="251.5" x2="425.7" y2="251.5" stroke="#8c8c8c" stroke-width="0.75"/>
<line x1="442.5" y1="235.82" x2="442.5" y2="241.71" stroke="#8c8c8c" stroke-width="0.75"/>
<line x1="440.7" y1="235.5" x2="444.1" y2="235.5" stroke="#8c8c8c" stroke-width="0.75"/>
<line x1="440.7" y1="241.5" x2="444.1" y2="241.5" stroke="#8c8c8c" stroke-width="0.75"/>
<line x1="460.5" y1="212.25" x2="460.5" y2="218.15" stroke="#8c8c8c" stroke-width="0.75"/>
<line x1="459.1" y1="212.5" x2="462.5" y2="212.5" stroke="#8c8c8c" stroke-width="0.75"/>
<line x1="459.1" y1="218.5" x2="462.5" y2="218.5" stroke="#8c8c8c" stroke-width="0.75"/>
<line x1="479.5" y1="191.14" x2="479.5" y2="200.96" stroke="#8c8c8c" stroke-width="0.75"/>
<line x1="477.5" y1="191.5" x2="480.9" y2="191.5" stroke="#8c8c8c" stroke-width="0.75"/>
<line x1="477.5" y1="200.5" x2="480.9" y2="200.5" stroke="#8c8c8c" stroke-width="0.75"/>
<polyline points="424,248.1 442.4,238.77 460.8,215.2 479.2,196.05" stroke="#8c8c8c" stroke-width="0.85" fill="none"/>
<circle cx="424" cy="248.1" r="1.85" fill="#8c8c8c" stroke="none" stroke-width="0.6"/>
<circle cx="442.4" cy="238.77" r="1.85" fill="#8c8c8c" stroke="none" stroke-width="0.6"/>
<circle cx="460.8" cy="215.2" r="1.85" fill="#8c8c8c" stroke="none" stroke-width="0.6"/>
<circle cx="479.2" cy="196.05" r="1.85" fill="#8c8c8c" stroke="none" stroke-width="0.6"/>
<line x1="424.5" y1="240.73" x2="424.5" y2="246.62" stroke="#ec1f26" stroke-width="0.75"/>
<line x1="422.3" y1="240.5" x2="425.7" y2="240.5" stroke="#ec1f26" stroke-width="0.75"/>
<line x1="422.3" y1="246.5" x2="425.7" y2="246.5" stroke="#ec1f26" stroke-width="0.75"/>
<line x1="442.5" y1="227.97" x2="442.5" y2="237.79" stroke="#ec1f26" stroke-width="0.75"/>
<line x1="440.7" y1="227.5" x2="444.1" y2="227.5" stroke="#ec1f26" stroke-width="0.75"/>
<line x1="440.7" y1="237.5" x2="444.1" y2="237.5" stroke="#ec1f26" stroke-width="0.75"/>
<line x1="460.5" y1="202.43" x2="460.5" y2="208.33" stroke="#ec1f26" stroke-width="0.75"/>
<line x1="459.1" y1="202.5" x2="462.5" y2="202.5" stroke="#ec1f26" stroke-width="0.75"/>
<line x1="459.1" y1="208.5" x2="462.5" y2="208.5" stroke="#ec1f26" stroke-width="0.75"/>
<line x1="479.5" y1="185.74" x2="479.5" y2="191.63" stroke="#ec1f26" stroke-width="0.75"/>
<line x1="477.5" y1="185.5" x2="480.9" y2="185.5" stroke="#ec1f26" stroke-width="0.75"/>
<line x1="477.5" y1="191.5" x2="480.9" y2="191.5" stroke="#ec1f26" stroke-width="0.75"/>
<polyline points="424,243.68 442.4,232.88 460.8,205.38 479.2,188.69" stroke="#ec1f26" stroke-width="0.85" fill="none"/>
<circle cx="424" cy="243.68" r="1.85" fill="#ec1f26" stroke="none" stroke-width="0.6"/>
<circle cx="442.4" cy="232.88" r="1.85" fill="#ec1f26" stroke="none" stroke-width="0.6"/>
<circle cx="460.8" cy="205.38" r="1.85" fill="#ec1f26" stroke="none" stroke-width="0.6"/>
<circle cx="479.2" cy="188.69" r="1.85" fill="#ec1f26" stroke="none" stroke-width="0.6"/>
<line x1="424.5" y1="204.89" x2="424.5" y2="218.64" stroke="#000" stroke-width="0.75"/>
<line x1="422.3" y1="204.5" x2="425.7" y2="204.5" stroke="#000" stroke-width="0.75"/>
<line x1="422.3" y1="218.5" x2="425.7" y2="218.5" stroke="#000" stroke-width="0.75"/>
<line x1="442.5" y1="187.7" x2="442.5" y2="201.45" stroke="#000" stroke-width="0.75"/>
<line x1="440.7" y1="187.5" x2="444.1" y2="187.5" stroke="#000" stroke-width="0.75"/>
<line x1="440.7" y1="201.5" x2="444.1" y2="201.5" stroke="#000" stroke-width="0.75"/>
<line x1="460.5" y1="173.47" x2="460.5" y2="181.32" stroke="#000" stroke-width="0.75"/>
<line x1="459.1" y1="173.5" x2="462.5" y2="173.5" stroke="#000" stroke-width="0.75"/>
<line x1="459.1" y1="181.5" x2="462.5" y2="181.5" stroke="#000" stroke-width="0.75"/>
<line x1="479.5" y1="166.59" x2="479.5" y2="170.52" stroke="#000" stroke-width="0.75"/>
<line x1="477.5" y1="166.5" x2="480.9" y2="166.5" stroke="#000" stroke-width="0.75"/>
<line x1="477.5" y1="170.5" x2="480.9" y2="170.5" stroke="#000" stroke-width="0.75"/>
<polyline points="424,211.76 442.4,194.58 460.8,177.39 479.2,168.56" stroke="#000" stroke-width="0.85" fill="none"/>
<circle cx="424" cy="211.76" r="1.85" fill="#000" stroke="none" stroke-width="0.6"/>
<circle cx="442.4" cy="194.58" r="1.85" fill="#000" stroke="none" stroke-width="0.6"/>
<circle cx="460.8" cy="177.39" r="1.85" fill="#000" stroke="none" stroke-width="0.6"/>
<circle cx="479.2" cy="168.56" r="1.85" fill="#000" stroke="none" stroke-width="0.6"/>
<text x="424" y="204.06" font-size="7.4" text-anchor="middle" fill="#000" stroke="#000">****</text>
<text x="442.4" y="186.88" font-size="7.4" text-anchor="middle" fill="#000" stroke="#000">****</text>
<text x="460.8" y="172.64" font-size="7.4" text-anchor="middle" fill="#000" stroke="#000">****</text>
<text x="479.2" y="165.77" font-size="7.4" text-anchor="middle" fill="#000" stroke="#000">***</text>
<text x="424" y="238.18" font-size="6" text-anchor="middle" fill="#333" stroke="#333" font-style="italic">####</text>
<text x="442.4" y="225.42" font-size="6" text-anchor="middle" fill="#333" stroke="#333" font-style="italic">####</text>
<text x="460.8" y="199.89" font-size="6" text-anchor="middle" fill="#333" stroke="#333" font-style="italic">###</text>
<text x="479.2" y="183.19" font-size="6" text-anchor="middle" fill="#333" stroke="#333" font-style="italic">#</text>
<line x1="508.5" y1="166.1" x2="508.5" y2="264.3" stroke="#000" stroke-width="0.8"/>
<line x1="506.4" y1="166.5" x2="508.4" y2="166.5" stroke="#000" stroke-width="0.8"/>
<text x="505.6" y="168.84" font-size="7.6" text-anchor="end" fill="#000" stroke="#000">10</text>
<line x1="506.4" y1="185.5" x2="508.4" y2="185.5" stroke="#000" stroke-width="0.8"/>
<text x="505.6" y="188.48" font-size="7.6" text-anchor="end" fill="#000" stroke="#000">8</text>
<line x1="506.4" y1="205.5" x2="508.4" y2="205.5" stroke="#000" stroke-width="0.8"/>
<text x="505.6" y="208.12" font-size="7.6" text-anchor="end" fill="#000" stroke="#000">6</text>
<line x1="506.4" y1="225.5" x2="508.4" y2="225.5" stroke="#000" stroke-width="0.8"/>
<text x="505.6" y="227.76" font-size="7.6" text-anchor="end" fill="#000" stroke="#000">4</text>
<line x1="506.4" y1="244.5" x2="508.4" y2="244.5" stroke="#000" stroke-width="0.8"/>
<text x="505.6" y="247.4" font-size="7.6" text-anchor="end" fill="#000" stroke="#000">2</text>
<line x1="506.4" y1="264.5" x2="508.4" y2="264.5" stroke="#000" stroke-width="0.8"/>
<text x="505.6" y="267.04" font-size="7.6" text-anchor="end" fill="#000" stroke="#000">0</text>
<line x1="508.4" y1="264.5" x2="582.4" y2="264.5" stroke="#000" stroke-width="0.8"/>
<line x1="518.5" y1="264.3" x2="518.5" y2="266.3" stroke="#000" stroke-width="0.8"/>
<line x1="536.5" y1="264.3" x2="536.5" y2="266.3" stroke="#000" stroke-width="0.8"/>
<line x1="554.5" y1="264.3" x2="554.5" y2="266.3" stroke="#000" stroke-width="0.8"/>
<line x1="573.5" y1="264.3" x2="573.5" y2="266.3" stroke="#000" stroke-width="0.8"/>
<text x="518.2" y="276.8" font-size="7.6" text-anchor="middle" fill="#000" stroke="#000">0.008</text>
<text x="536.6" y="276.8" font-size="7.6" text-anchor="middle" fill="#000" stroke="#000">0.04</text>
<text x="555" y="276.8" font-size="7.6" text-anchor="middle" fill="#000" stroke="#000">0.16</text>
<text x="573.4" y="276.8" font-size="7.6" text-anchor="middle" fill="#000" stroke="#000">0.4</text>
<text x="545.9" y="288.4" font-size="8" text-anchor="middle" fill="#000" stroke="#000">von Frey hair forces (g)</text>
<text x="497.6" y="215.2" font-size="8" text-anchor="middle" fill="#000" stroke="#000" transform="rotate(-90 497.6 215.2)">AMA-Withdrawal response (n)</text>
<text x="510.9" y="168.9" font-size="8" text-anchor="start" fill="#000" stroke="#000">Day 21</text>
<line x1="518.5" y1="240.73" x2="518.5" y2="248.59" stroke="#c4c4c4" stroke-width="0.75"/>
<line x1="516.5" y1="240.5" x2="519.9" y2="240.5" stroke="#c4c4c4" stroke-width="0.75"/>
<line x1="516.5" y1="248.5" x2="519.9" y2="248.5" stroke="#c4c4c4" stroke-width="0.75"/>
<line x1="536.5" y1="226.98" x2="536.5" y2="234.84" stroke="#c4c4c4" stroke-width="0.75"/>
<line x1="534.9" y1="226.5" x2="538.3" y2="226.5" stroke="#c4c4c4" stroke-width="0.75"/>
<line x1="534.9" y1="234.5" x2="538.3" y2="234.5" stroke="#c4c4c4" stroke-width="0.75"/>
<line x1="554.5" y1="203.42" x2="554.5" y2="213.24" stroke="#c4c4c4" stroke-width="0.75"/>
<line x1="553.3" y1="203.5" x2="556.7" y2="203.5" stroke="#c4c4c4" stroke-width="0.75"/>
<line x1="553.3" y1="213.5" x2="556.7" y2="213.5" stroke="#c4c4c4" stroke-width="0.75"/>
<line x1="573.5" y1="195.56" x2="573.5" y2="205.38" stroke="#c4c4c4" stroke-width="0.75"/>
<line x1="571.7" y1="195.5" x2="575.1" y2="195.5" stroke="#c4c4c4" stroke-width="0.75"/>
<line x1="571.7" y1="205.5" x2="575.1" y2="205.5" stroke="#c4c4c4" stroke-width="0.75"/>
<polyline points="518.2,244.66 536.6,230.91 555,208.33 573.4,200.47" stroke="#c4c4c4" stroke-width="0.85" fill="none"/>
<circle cx="518.2" cy="244.66" r="1.85" fill="#c4c4c4" stroke="none" stroke-width="0.6"/>
<circle cx="536.6" cy="230.91" r="1.85" fill="#c4c4c4" stroke="none" stroke-width="0.6"/>
<circle cx="555" cy="208.33" r="1.85" fill="#c4c4c4" stroke="none" stroke-width="0.6"/>
<circle cx="573.4" cy="200.47" r="1.85" fill="#c4c4c4" stroke="none" stroke-width="0.6"/>
<line x1="518.5" y1="247.61" x2="518.5" y2="253.5" stroke="#8c8c8c" stroke-width="0.75"/>
<line x1="516.5" y1="247.5" x2="519.9" y2="247.5" stroke="#8c8c8c" stroke-width="0.75"/>
<line x1="516.5" y1="253.5" x2="519.9" y2="253.5" stroke="#8c8c8c" stroke-width="0.75"/>
<line x1="536.5" y1="227.97" x2="536.5" y2="235.82" stroke="#8c8c8c" stroke-width="0.75"/>
<line x1="534.9" y1="227.5" x2="538.3" y2="227.5" stroke="#8c8c8c" stroke-width="0.75"/>
<line x1="534.9" y1="235.5" x2="538.3" y2="235.5" stroke="#8c8c8c" stroke-width="0.75"/>
<line x1="554.5" y1="212.25" x2="554.5" y2="222.07" stroke="#8c8c8c" stroke-width="0.75"/>
<line x1="553.3" y1="212.5" x2="556.7" y2="212.5" stroke="#8c8c8c" stroke-width="0.75"/>
<line x1="553.3" y1="222.5" x2="556.7" y2="222.5" stroke="#8c8c8c" stroke-width="0.75"/>
<line x1="573.5" y1="201.94" x2="573.5" y2="211.76" stroke="#8c8c8c" stroke-width="0.75"/>
<line x1="571.7" y1="201.5" x2="575.1" y2="201.5" stroke="#8c8c8c" stroke-width="0.75"/>
<line x1="571.7" y1="211.5" x2="575.1" y2="211.5" stroke="#8c8c8c" stroke-width="0.75"/>
<polyline points="518.2,250.55 536.6,231.89 555,217.16 573.4,206.85" stroke="#8c8c8c" stroke-width="0.85" fill="none"/>
<circle cx="518.2" cy="250.55" r="1.85" fill="#8c8c8c" stroke="none" stroke-width="0.6"/>
<circle cx="536.6" cy="231.89" r="1.85" fill="#8c8c8c" stroke="none" stroke-width="0.6"/>
<circle cx="555" cy="217.16" r="1.85" fill="#8c8c8c" stroke="none" stroke-width="0.6"/>
<circle cx="573.4" cy="206.85" r="1.85" fill="#8c8c8c" stroke="none" stroke-width="0.6"/>
<line x1="518.5" y1="229.44" x2="518.5" y2="239.26" stroke="#ec1f26" stroke-width="0.75"/>
<line x1="516.5" y1="229.5" x2="519.9" y2="229.5" stroke="#ec1f26" stroke-width="0.75"/>
<line x1="516.5" y1="239.5" x2="519.9" y2="239.5" stroke="#ec1f26" stroke-width="0.75"/>
<line x1="536.5" y1="219.13" x2="536.5" y2="228.95" stroke="#ec1f26" stroke-width="0.75"/>
<line x1="534.9" y1="219.5" x2="538.3" y2="219.5" stroke="#ec1f26" stroke-width="0.75"/>
<line x1="534.9" y1="228.5" x2="538.3" y2="228.5" stroke="#ec1f26" stroke-width="0.75"/>
<line x1="554.5" y1="202.93" x2="554.5" y2="210.78" stroke="#ec1f26" stroke-width="0.75"/>
<line x1="553.3" y1="202.5" x2="556.7" y2="202.5" stroke="#ec1f26" stroke-width="0.75"/>
<line x1="553.3" y1="210.5" x2="556.7" y2="210.5" stroke="#ec1f26" stroke-width="0.75"/>
<line x1="573.5" y1="196.54" x2="573.5" y2="204.4" stroke="#ec1f26" stroke-width="0.75"/>
<line x1="571.7" y1="196.5" x2="575.1" y2="196.5" stroke="#ec1f26" stroke-width="0.75"/>
<line x1="571.7" y1="204.5" x2="575.1" y2="204.5" stroke="#ec1f26" stroke-width="0.75"/>
<polyline points="518.2,234.35 536.6,224.04 555,206.85 573.4,200.47" stroke="#ec1f26" stroke-width="0.85" fill="none"/>
<circle cx="518.2" cy="234.35" r="1.85" fill="#ec1f26" stroke="none" stroke-width="0.6"/>
<circle cx="536.6" cy="224.04" r="1.85" fill="#ec1f26" stroke="none" stroke-width="0.6"/>
<circle cx="555" cy="206.85" r="1.85" fill="#ec1f26" stroke="none" stroke-width="0.6"/>
<circle cx="573.4" cy="200.47" r="1.85" fill="#ec1f26" stroke="none" stroke-width="0.6"/>
<line x1="518.5" y1="205.38" x2="518.5" y2="211.27" stroke="#000" stroke-width="0.75"/>
<line x1="516.5" y1="205.5" x2="519.9" y2="205.5" stroke="#000" stroke-width="0.75"/>
<line x1="516.5" y1="211.5" x2="519.9" y2="211.5" stroke="#000" stroke-width="0.75"/>
<line x1="536.5" y1="192.12" x2="536.5" y2="199.98" stroke="#000" stroke-width="0.75"/>
<line x1="534.9" y1="192.5" x2="538.3" y2="192.5" stroke="#000" stroke-width="0.75"/>
<line x1="534.9" y1="199.5" x2="538.3" y2="199.5" stroke="#000" stroke-width="0.75"/>
<line x1="554.5" y1="174.45" x2="554.5" y2="182.3" stroke="#000" stroke-width="0.75"/>
<line x1="553.3" y1="174.5" x2="556.7" y2="174.5" stroke="#000" stroke-width="0.75"/>
<line x1="553.3" y1="182.5" x2="556.7" y2="182.5" stroke="#000" stroke-width="0.75"/>
<line x1="573.5" y1="171.01" x2="573.5" y2="176.9" stroke="#000" stroke-width="0.75"/>
<line x1="571.7" y1="171.5" x2="575.1" y2="171.5" stroke="#000" stroke-width="0.75"/>
<line x1="571.7" y1="176.5" x2="575.1" y2="176.5" stroke="#000" stroke-width="0.75"/>
<polyline points="518.2,208.33 536.6,196.05 555,178.38 573.4,173.96" stroke="#000" stroke-width="0.85" fill="none"/>
<circle cx="518.2" cy="208.33" r="1.85" fill="#000" stroke="none" stroke-width="0.6"/>
<circle cx="536.6" cy="196.05" r="1.85" fill="#000" stroke="none" stroke-width="0.6"/>
<circle cx="555" cy="178.38" r="1.85" fill="#000" stroke="none" stroke-width="0.6"/>
<circle cx="573.4" cy="173.96" r="1.85" fill="#000" stroke="none" stroke-width="0.6"/>
<text x="518.2" y="204.55" font-size="7.4" text-anchor="middle" fill="#000" stroke="#000">****</text>
<text x="536.6" y="191.3" font-size="7.4" text-anchor="middle" fill="#000" stroke="#000">****</text>
<text x="555" y="173.62" font-size="7.4" text-anchor="middle" fill="#000" stroke="#000">****</text>
<text x="573.4" y="170.18" font-size="7.4" text-anchor="middle" fill="#000" stroke="#000">****</text>
<text x="518.2" y="226.89" font-size="6" text-anchor="middle" fill="#333" stroke="#333" font-style="italic">###</text>
<text x="536.6" y="216.58" font-size="6" text-anchor="middle" fill="#333" stroke="#333" font-style="italic">####</text>
<text x="555" y="200.38" font-size="6" text-anchor="middle" fill="#333" stroke="#333" font-style="italic">####</text>
<text x="573.4" y="193.01" font-size="6" text-anchor="middle" fill="#333" stroke="#333" font-style="italic">###</text>
<line x1="605.5" y1="166.1" x2="605.5" y2="264.3" stroke="#000" stroke-width="0.8"/>
<line x1="603.6" y1="166.5" x2="605.6" y2="166.5" stroke="#000" stroke-width="0.8"/>
<text x="602.8" y="168.84" font-size="7.6" text-anchor="end" fill="#000" stroke="#000">10</text>
<line x1="603.6" y1="185.5" x2="605.6" y2="185.5" stroke="#000" stroke-width="0.8"/>
<text x="602.8" y="188.48" font-size="7.6" text-anchor="end" fill="#000" stroke="#000">8</text>
<line x1="603.6" y1="205.5" x2="605.6" y2="205.5" stroke="#000" stroke-width="0.8"/>
<text x="602.8" y="208.12" font-size="7.6" text-anchor="end" fill="#000" stroke="#000">6</text>
<line x1="603.6" y1="225.5" x2="605.6" y2="225.5" stroke="#000" stroke-width="0.8"/>
<text x="602.8" y="227.76" font-size="7.6" text-anchor="end" fill="#000" stroke="#000">4</text>
<line x1="603.6" y1="244.5" x2="605.6" y2="244.5" stroke="#000" stroke-width="0.8"/>
<text x="602.8" y="247.4" font-size="7.6" text-anchor="end" fill="#000" stroke="#000">2</text>
<line x1="603.6" y1="264.5" x2="605.6" y2="264.5" stroke="#000" stroke-width="0.8"/>
<text x="602.8" y="267.04" font-size="7.6" text-anchor="end" fill="#000" stroke="#000">0</text>
<line x1="605.6" y1="264.5" x2="679.6" y2="264.5" stroke="#000" stroke-width="0.8"/>
<line x1="615.5" y1="264.3" x2="615.5" y2="266.3" stroke="#000" stroke-width="0.8"/>
<line x1="633.5" y1="264.3" x2="633.5" y2="266.3" stroke="#000" stroke-width="0.8"/>
<line x1="652.5" y1="264.3" x2="652.5" y2="266.3" stroke="#000" stroke-width="0.8"/>
<line x1="670.5" y1="264.3" x2="670.5" y2="266.3" stroke="#000" stroke-width="0.8"/>
<text x="615.4" y="276.8" font-size="7.6" text-anchor="middle" fill="#000" stroke="#000">0.008</text>
<text x="633.8" y="276.8" font-size="7.6" text-anchor="middle" fill="#000" stroke="#000">0.04</text>
<text x="652.2" y="276.8" font-size="7.6" text-anchor="middle" fill="#000" stroke="#000">0.16</text>
<text x="670.6" y="276.8" font-size="7.6" text-anchor="middle" fill="#000" stroke="#000">0.4</text>
<text x="643.1" y="288.4" font-size="8" text-anchor="middle" fill="#000" stroke="#000">von Frey hair forces (g)</text>
<text x="594.8" y="215.2" font-size="8" text-anchor="middle" fill="#000" stroke="#000" transform="rotate(-90 594.8 215.2)">AMA-Withdrawal response (n)</text>
<text x="608.1" y="168.9" font-size="8" text-anchor="start" fill="#000" stroke="#000">Day 28</text>
<line x1="615.5" y1="249.08" x2="615.5" y2="256.94" stroke="#c4c4c4" stroke-width="0.75"/>
<line x1="613.7" y1="249.5" x2="617.1" y2="249.5" stroke="#c4c4c4" stroke-width="0.75"/>
<line x1="613.7" y1="256.5" x2="617.1" y2="256.5" stroke="#c4c4c4" stroke-width="0.75"/>
<line x1="633.5" y1="221.58" x2="633.5" y2="229.44" stroke="#c4c4c4" stroke-width="0.75"/>
<line x1="632.1" y1="221.5" x2="635.5" y2="221.5" stroke="#c4c4c4" stroke-width="0.75"/>
<line x1="632.1" y1="229.5" x2="635.5" y2="229.5" stroke="#c4c4c4" stroke-width="0.75"/>
<line x1="652.5" y1="201.94" x2="652.5" y2="209.8" stroke="#c4c4c4" stroke-width="0.75"/>
<line x1="650.5" y1="201.5" x2="653.9" y2="201.5" stroke="#c4c4c4" stroke-width="0.75"/>
<line x1="650.5" y1="209.5" x2="653.9" y2="209.5" stroke="#c4c4c4" stroke-width="0.75"/>
<line x1="670.5" y1="200.96" x2="670.5" y2="208.82" stroke="#c4c4c4" stroke-width="0.75"/>
<line x1="668.9" y1="200.5" x2="672.3" y2="200.5" stroke="#c4c4c4" stroke-width="0.75"/>
<line x1="668.9" y1="208.5" x2="672.3" y2="208.5" stroke="#c4c4c4" stroke-width="0.75"/>
<polyline points="615.4,253.01 633.8,225.51 652.2,205.87 670.6,204.89" stroke="#c4c4c4" stroke-width="0.85" fill="none"/>
<circle cx="615.4" cy="253.01" r="1.85" fill="#c4c4c4" stroke="none" stroke-width="0.6"/>
<circle cx="633.8" cy="225.51" r="1.85" fill="#c4c4c4" stroke="none" stroke-width="0.6"/>
<circle cx="652.2" cy="205.87" r="1.85" fill="#c4c4c4" stroke="none" stroke-width="0.6"/>
<circle cx="670.6" cy="204.89" r="1.85" fill="#c4c4c4" stroke="none" stroke-width="0.6"/>
<line x1="615.5" y1="245.64" x2="615.5" y2="251.53" stroke="#8c8c8c" stroke-width="0.75"/>
<line x1="613.7" y1="245.5" x2="617.1" y2="245.5" stroke="#8c8c8c" stroke-width="0.75"/>
<line x1="613.7" y1="251.5" x2="617.1" y2="251.5" stroke="#8c8c8c" stroke-width="0.75"/>
<line x1="633.5" y1="224.53" x2="633.5" y2="232.39" stroke="#8c8c8c" stroke-width="0.75"/>
<line x1="632.1" y1="224.5" x2="635.5" y2="224.5" stroke="#8c8c8c" stroke-width="0.75"/>
<line x1="632.1" y1="232.5" x2="635.5" y2="232.5" stroke="#8c8c8c" stroke-width="0.75"/>
<line x1="652.5" y1="208.33" x2="652.5" y2="216.18" stroke="#8c8c8c" stroke-width="0.75"/>
<line x1="650.5" y1="208.5" x2="653.9" y2="208.5" stroke="#8c8c8c" stroke-width="0.75"/>
<line x1="650.5" y1="216.5" x2="653.9" y2="216.5" stroke="#8c8c8c" stroke-width="0.75"/>
<line x1="670.5" y1="200.96" x2="670.5" y2="208.82" stroke="#8c8c8c" stroke-width="0.75"/>
<line x1="668.9" y1="200.5" x2="672.3" y2="200.5" stroke="#8c8c8c" stroke-width="0.75"/>
<line x1="668.9" y1="208.5" x2="672.3" y2="208.5" stroke="#8c8c8c" stroke-width="0.75"/>
<polyline points="615.4,248.59 633.8,228.46 652.2,212.25 670.6,204.89" stroke="#8c8c8c" stroke-width="0.85" fill="none"/>
<circle cx="615.4" cy="248.59" r="1.85" fill="#8c8c8c" stroke="none" stroke-width="0.6"/>
<circle cx="633.8" cy="228.46" r="1.85" fill="#8c8c8c" stroke="none" stroke-width="0.6"/>
<circle cx="652.2" cy="212.25" r="1.85" fill="#8c8c8c" stroke="none" stroke-width="0.6"/>
<circle cx="670.6" cy="204.89" r="1.85" fill="#8c8c8c" stroke="none" stroke-width="0.6"/>
<line x1="615.5" y1="229.93" x2="615.5" y2="239.75" stroke="#ec1f26" stroke-width="0.75"/>
<line x1="613.7" y1="229.5" x2="617.1" y2="229.5" stroke="#ec1f26" stroke-width="0.75"/>
<line x1="613.7" y1="239.5" x2="617.1" y2="239.5" stroke="#ec1f26" stroke-width="0.75"/>
<line x1="633.5" y1="215.2" x2="633.5" y2="223.06" stroke="#ec1f26" stroke-width="0.75"/>
<line x1="632.1" y1="215.5" x2="635.5" y2="215.5" stroke="#ec1f26" stroke-width="0.75"/>
<line x1="632.1" y1="223.5" x2="635.5" y2="223.5" stroke="#ec1f26" stroke-width="0.75"/>
<line x1="652.5" y1="203.91" x2="652.5" y2="209.8" stroke="#ec1f26" stroke-width="0.75"/>
<line x1="650.5" y1="203.5" x2="653.9" y2="203.5" stroke="#ec1f26" stroke-width="0.75"/>
<line x1="650.5" y1="209.5" x2="653.9" y2="209.5" stroke="#ec1f26" stroke-width="0.75"/>
<line x1="670.5" y1="194.58" x2="670.5" y2="200.47" stroke="#ec1f26" stroke-width="0.75"/>
<line x1="668.9" y1="194.5" x2="672.3" y2="194.5" stroke="#ec1f26" stroke-width="0.75"/>
<line x1="668.9" y1="200.5" x2="672.3" y2="200.5" stroke="#ec1f26" stroke-width="0.75"/>
<polyline points="615.4,234.84 633.8,219.13 652.2,206.85 670.6,197.52" stroke="#ec1f26" stroke-width="0.85" fill="none"/>
<circle cx="615.4" cy="234.84" r="1.85" fill="#ec1f26" stroke="none" stroke-width="0.6"/>
<circle cx="633.8" cy="219.13" r="1.85" fill="#ec1f26" stroke="none" stroke-width="0.6"/>
<circle cx="652.2" cy="206.85" r="1.85" fill="#ec1f26" stroke="none" stroke-width="0.6"/>
<circle cx="670.6" cy="197.52" r="1.85" fill="#ec1f26" stroke="none" stroke-width="0.6"/>
<line x1="615.5" y1="199" x2="615.5" y2="208.82" stroke="#000" stroke-width="0.75"/>
<line x1="613.7" y1="198.5" x2="617.1" y2="198.5" stroke="#000" stroke-width="0.75"/>
<line x1="613.7" y1="208.5" x2="617.1" y2="208.5" stroke="#000" stroke-width="0.75"/>
<line x1="633.5" y1="181.81" x2="633.5" y2="189.67" stroke="#000" stroke-width="0.75"/>
<line x1="632.1" y1="181.5" x2="635.5" y2="181.5" stroke="#000" stroke-width="0.75"/>
<line x1="632.1" y1="189.5" x2="635.5" y2="189.5" stroke="#000" stroke-width="0.75"/>
<line x1="652.5" y1="174.45" x2="652.5" y2="178.38" stroke="#000" stroke-width="0.75"/>
<line x1="650.5" y1="174.5" x2="653.9" y2="174.5" stroke="#000" stroke-width="0.75"/>
<line x1="650.5" y1="178.5" x2="653.9" y2="178.5" stroke="#000" stroke-width="0.75"/>
<line x1="670.5" y1="169.54" x2="670.5" y2="171.5" stroke="#000" stroke-width="0.75"/>
<line x1="668.9" y1="169.5" x2="672.3" y2="169.5" stroke="#000" stroke-width="0.75"/>
<line x1="668.9" y1="171.5" x2="672.3" y2="171.5" stroke="#000" stroke-width="0.75"/>
<polyline points="615.4,203.91 633.8,185.74 652.2,176.41 670.6,170.52" stroke="#000" stroke-width="0.85" fill="none"/>
<circle cx="615.4" cy="203.91" r="1.85" fill="#000" stroke="none" stroke-width="0.6"/>
<circle cx="633.8" cy="185.74" r="1.85" fill="#000" stroke="none" stroke-width="0.6"/>
<circle cx="652.2" cy="176.41" r="1.85" fill="#000" stroke="none" stroke-width="0.6"/>
<circle cx="670.6" cy="170.52" r="1.85" fill="#000" stroke="none" stroke-width="0.6"/>
<text x="615.4" y="198.17" font-size="7.4" text-anchor="middle" fill="#000" stroke="#000">****</text>
<text x="633.8" y="180.99" font-size="7.4" text-anchor="middle" fill="#000" stroke="#000">****</text>
<text x="652.2" y="173.62" font-size="7.4" text-anchor="middle" fill="#000" stroke="#000">****</text>
<text x="670.6" y="168.71" font-size="7.4" text-anchor="middle" fill="#000" stroke="#000">****</text>
<text x="615.4" y="227.38" font-size="6" text-anchor="middle" fill="#333" stroke="#333" font-style="italic">####</text>
<text x="633.8" y="212.65" font-size="6" text-anchor="middle" fill="#333" stroke="#333" font-style="italic">####</text>
<text x="652.2" y="199.39" font-size="6" text-anchor="middle" fill="#333" stroke="#333" font-style="italic">####</text>
<text x="670.6" y="192.03" font-size="6" text-anchor="middle" fill="#333" stroke="#333" font-style="italic">####</text>
<text x="41" y="302.3" font-size="14" text-anchor="start" fill="#000" stroke="#000">f</text>
<text x="55" y="301.6" font-size="8" text-anchor="start" fill="#000" stroke="#000">Sciatic&#160; nerve</text>
<text x="125.5" y="302" font-size="8" text-anchor="start" fill="#000" stroke="#000">Trigeminal nerve</text>
<line x1="64.5" y1="306.3" x2="64.5" y2="404.6" stroke="#000" stroke-width="0.8"/>
<line x1="62.5" y1="306.5" x2="64.5" y2="306.5" stroke="#000" stroke-width="0.8"/>
<text x="61.7" y="309.04" font-size="7.6" text-anchor="end" fill="#000" stroke="#000">15</text>
<line x1="62.5" y1="339.5" x2="64.5" y2="339.5" stroke="#000" stroke-width="0.8"/>
<text x="61.7" y="341.8" font-size="7.6" text-anchor="end" fill="#000" stroke="#000">10</text>
<line x1="62.5" y1="371.5" x2="64.5" y2="371.5" stroke="#000" stroke-width="0.8"/>
<text x="61.7" y="374.57" font-size="7.6" text-anchor="end" fill="#000" stroke="#000">5</text>
<line x1="62.5" y1="404.5" x2="64.5" y2="404.5" stroke="#000" stroke-width="0.8"/>
<text x="61.7" y="407.34" font-size="7.6" text-anchor="end" fill="#000" stroke="#000">0</text>
<line x1="64.5" y1="404.5" x2="109.2" y2="404.5" stroke="#000" stroke-width="0.8"/>
<line x1="75.5" y1="404.6" x2="75.5" y2="406.6" stroke="#000" stroke-width="0.8"/>
<line x1="88.5" y1="404.6" x2="88.5" y2="406.6" stroke="#000" stroke-width="0.8"/>
<line x1="101.5" y1="404.6" x2="101.5" y2="406.6" stroke="#000" stroke-width="0.8"/>
<text x="51.3" y="355.45" font-size="8" text-anchor="middle" fill="#000" stroke="#000" transform="rotate(-90 51.3 355.45)">IL-1β pg/mg of protein</text>
<text x="79.1" y="413.2" font-size="8.2" text-anchor="end" fill="#000" stroke="#000" transform="rotate(-31 79.1 413.2)">Sham</text>
<text x="91.4" y="413.2" font-size="8.2" text-anchor="end" fill="#000" stroke="#000" transform="rotate(-31 91.4 413.2)">Endo/Control</text>
<text x="104.7" y="413.2" font-size="8.2" text-anchor="end" fill="#000" stroke="#000" transform="rotate(-31 104.7 413.2)">Endo/<tspan font-style="italic">Plp</tspan>-AAV-<tspan font-style="italic">Nlrp1</tspan></text>
<polyline points="76,345.1 76,346.33 75.99,347.56 75.97,348.78 75.91,350.01 75.75,351.24 75.43,352.47 74.93,353.69 74.32,354.92 73.77,356.15 73.37,357.38 73.06,358.6 72.67,359.83 72.17,361.06 71.68,362.29 71.43,363.51 71.46,364.74 71.61,365.97 71.66,367.19 71.55,368.42 71.47,369.65 71.68,370.88 72.3,372.11 73.24,373.33 74.2,374.56 74.94,375.79 75.29,377.01 75.24,378.24 74.87,379.47 74.38,380.7 74.02,381.93 74,383.15 74.34,384.38 74.87,385.61 75.37,386.83 75.71,388.06 75.89,389.29 75.97,390.52 75.99,391.75 76,392.97 76,394.2 76,394.2 76,392.97 76.01,391.75 76.03,390.52 76.11,389.29 76.29,388.06 76.63,386.83 77.13,385.61 77.66,384.38 78,383.15 77.98,381.93 77.62,380.7 77.13,379.47 76.76,378.24 76.71,377.01 77.06,375.79 77.8,374.56 78.76,373.33 79.7,372.11 80.32,370.88 80.53,369.65 80.45,368.42 80.34,367.19 80.39,365.97 80.54,364.74 80.57,363.51 80.32,362.29 79.83,361.06 79.33,359.83 78.94,358.6 78.63,357.38 78.23,356.15 77.68,354.92 77.07,353.69 76.57,352.47 76.25,351.24 76.09,350.01 76.03,348.78 76.01,347.56 76,346.33 76,345.1 76,345.1" stroke="#000" stroke-width="0.7" fill="#fff"/>
<circle cx="76" cy="356.7" r="1.6" fill="#000" stroke="none" stroke-width="0.6"/>
<circle cx="72.6" cy="362" r="1.6" fill="#000" stroke="none" stroke-width="0.6"/>
<circle cx="79.2" cy="364.5" r="1.6" fill="#000" stroke="none" stroke-width="0.6"/>
<circle cx="72.6" cy="369.1" r="1.6" fill="#000" stroke="none" stroke-width="0.6"/>
<circle cx="79.2" cy="371.8" r="1.6" fill="#000" stroke="none" stroke-width="0.6"/>
<circle cx="76" cy="382.8" r="1.6" fill="#000" stroke="none" stroke-width="0.6"/>
<polyline points="88.3,320.2 88.29,321.45 88.27,322.7 88.21,323.96 88.1,325.21 87.9,326.46 87.59,327.71 87.16,328.97 86.62,330.22 86.03,331.47 85.45,332.73 84.94,333.98 84.55,335.23 84.28,336.48 84.11,337.74 84.03,338.99 83.98,340.24 83.97,341.49 83.98,342.75 84.02,344 84.09,345.25 84.19,346.5 84.31,347.75 84.4,349.01 84.43,350.26 84.38,351.51 84.27,352.76 84.19,354.02 84.21,355.27 84.43,356.52 84.86,357.77 85.46,359.03 86.14,360.28 86.79,361.53 87.34,362.79 87.75,364.04 88.02,365.29 88.17,366.54 88.25,367.8 88.29,369.05 88.3,370.3 88.3,370.3 88.31,369.05 88.35,367.8 88.43,366.54 88.58,365.29 88.85,364.04 89.26,362.79 89.81,361.53 90.46,360.28 91.14,359.03 91.74,357.77 92.17,356.52 92.39,355.27 92.41,354.02 92.33,352.76 92.22,351.51 92.17,350.26 92.2,349.01 92.29,347.75 92.41,346.5 92.51,345.25 92.58,344 92.62,342.75 92.63,341.49 92.62,340.24 92.57,338.99 92.49,337.74 92.32,336.48 92.05,335.23 91.66,333.98 91.15,332.73 90.57,331.47 89.98,330.22 89.44,328.97 89.01,327.71 88.7,326.46 88.5,325.21 88.39,323.96 88.33,322.7 88.31,321.45 88.3,320.2 88.3,320.2" stroke="#000" stroke-width="0.7" fill="#fff"/>
<circle cx="88.3" cy="333.2" r="1.6" fill="#000" stroke="none" stroke-width="0.6"/>
<circle cx="88.3" cy="337.9" r="1.6" fill="#000" stroke="none" stroke-width="0.6"/>
<circle cx="88.3" cy="343" r="1.6" fill="#000" stroke="none" stroke-width="0.6"/>
<circle cx="88.3" cy="348" r="1.6" fill="#000" stroke="none" stroke-width="0.6"/>
<circle cx="88.3" cy="354.5" r="1.6" fill="#000" stroke="none" stroke-width="0.6"/>
<circle cx="88.3" cy="357.8" r="1.6" fill="#000" stroke="none" stroke-width="0.6"/>
<polyline points="100.5,348.3 100.5,349.06 100.48,349.81 100.45,350.56 100.37,351.32 100.21,352.07 99.91,352.83 99.46,353.59 98.86,354.34 98.22,355.1 97.69,355.85 97.41,356.61 97.47,357.36 97.81,358.12 98.29,358.87 98.7,359.62 98.91,360.38 98.89,361.13 98.67,361.89 98.34,362.64 97.98,363.4 97.62,364.16 97.25,364.91 96.88,365.67 96.56,366.42 96.37,367.18 96.37,367.93 96.6,368.69 97.03,369.44 97.6,370.19 98.23,370.95 98.86,371.7 99.41,372.46 99.84,373.22 100.14,373.97 100.33,374.73 100.43,375.48 100.47,376.24 100.49,376.99 100.5,377.75 100.5,378.5 100.5,378.5 100.5,377.75 100.51,376.99 100.53,376.24 100.57,375.48 100.67,374.73 100.86,373.97 101.16,373.22 101.59,372.46 102.14,371.7 102.77,370.95 103.4,370.19 103.97,369.44 104.4,368.69 104.63,367.93 104.63,367.18 104.44,366.42 104.12,365.67 103.75,364.91 103.38,364.16 103.02,363.4 102.66,362.64 102.33,361.89 102.11,361.13 102.09,360.38 102.3,359.62 102.71,358.87 103.19,358.12 103.53,357.36 103.59,356.61 103.31,355.85 102.78,355.1 102.14,354.34 101.54,353.59 101.09,352.83 100.79,352.07 100.63,351.32 100.55,350.56 100.52,349.81 100.5,349.06 100.5,348.3 100.5,348.3" stroke="#ec1f26" stroke-width="0.7" fill="#fff"/>
<circle cx="97.5" cy="356.3" r="1.6" fill="#000" stroke="none" stroke-width="0.6"/>
<circle cx="103.8" cy="357" r="1.6" fill="#000" stroke="none" stroke-width="0.6"/>
<circle cx="100.5" cy="363.2" r="1.6" fill="#000" stroke="none" stroke-width="0.6"/>
<circle cx="97.5" cy="366.7" r="1.6" fill="#000" stroke="none" stroke-width="0.6"/>
<circle cx="103.8" cy="367.9" r="1.6" fill="#000" stroke="none" stroke-width="0.6"/>
<circle cx="97.5" cy="370.3" r="1.6" fill="#000" stroke="none" stroke-width="0.6"/>
<line x1="75.5" y1="320.2" x2="75.5" y2="340.3" stroke="#000" stroke-width="0.55"/>
<line x1="75.9" y1="320.5" x2="82.8" y2="320.5" stroke="#000" stroke-width="0.55"/>
<line x1="93.8" y1="320.5" x2="100.3" y2="320.5" stroke="#000" stroke-width="0.55"/>
<line x1="100.5" y1="320.2" x2="100.5" y2="343.2" stroke="#000" stroke-width="0.55"/>
<text x="0" y="0" font-size="6.6" text-anchor="middle" fill="#000" stroke="#000" transform="translate(73.7 331.5) rotate(-90) scale(0.95 1)">0.0011</text>
<text x="0" y="0" font-size="6.6" text-anchor="middle" fill="#000" stroke="#000" transform="translate(106.9 332) rotate(-90) scale(0.95 1)">0.0065</text>
<line x1="134.5" y1="306.3" x2="134.5" y2="404.6" stroke="#000" stroke-width="0.8"/>
<line x1="132.6" y1="306.5" x2="134.6" y2="306.5" stroke="#000" stroke-width="0.8"/>
<text x="131.8" y="309.04" font-size="7.6" text-anchor="end" fill="#000" stroke="#000">15</text>
<line x1="132.6" y1="339.5" x2="134.6" y2="339.5" stroke="#000" stroke-width="0.8"/>
<text x="131.8" y="341.8" font-size="7.6" text-anchor="end" fill="#000" stroke="#000">10</text>
<line x1="132.6" y1="371.5" x2="134.6" y2="371.5" stroke="#000" stroke-width="0.8"/>
<text x="131.8" y="374.57" font-size="7.6" text-anchor="end" fill="#000" stroke="#000">5</text>
<line x1="132.6" y1="404.5" x2="134.6" y2="404.5" stroke="#000" stroke-width="0.8"/>
<text x="131.8" y="407.34" font-size="7.6" text-anchor="end" fill="#000" stroke="#000">0</text>
<line x1="134.6" y1="404.5" x2="179" y2="404.5" stroke="#000" stroke-width="0.8"/>
<line x1="145.5" y1="404.6" x2="145.5" y2="406.6" stroke="#000" stroke-width="0.8"/>
<line x1="157.5" y1="404.6" x2="157.5" y2="406.6" stroke="#000" stroke-width="0.8"/>
<line x1="171.5" y1="404.6" x2="171.5" y2="406.6" stroke="#000" stroke-width="0.8"/>
<text x="121.4" y="355.45" font-size="8" text-anchor="middle" fill="#000" stroke="#000" transform="rotate(-90 121.4 355.45)">IL-1β pg/mg of protein</text>
<text x="148.7" y="413.2" font-size="8.2" text-anchor="end" fill="#000" stroke="#000" transform="rotate(-31 148.7 413.2)">Sham</text>
<text x="161" y="413.2" font-size="8.2" text-anchor="end" fill="#000" stroke="#000" transform="rotate(-31 161 413.2)">Endo/Control</text>
<text x="174.2" y="413.2" font-size="8.2" text-anchor="end" fill="#000" stroke="#000" transform="rotate(-31 174.2 413.2)">Endo/<tspan font-style="italic">Plp</tspan>-AAV-<tspan font-style="italic">Nlrp1</tspan></text>
<polyline points="145.5,358.1 145.49,358.88 145.46,359.65 145.4,360.43 145.29,361.2 145.13,361.98 144.91,362.75 144.65,363.53 144.38,364.3 144.15,365.08 144,365.85 143.92,366.62 143.88,367.4 143.82,368.18 143.68,368.95 143.43,369.73 143.09,370.5 142.72,371.28 142.38,372.05 142.15,372.83 142.02,373.6 141.99,374.38 142.01,375.15 142.02,375.93 141.98,376.7 141.89,377.48 141.79,378.25 141.73,379.03 141.79,379.8 142,380.58 142.38,381.35 142.9,382.12 143.5,382.9 144.08,383.68 144.57,384.45 144.95,385.23 145.21,386 145.36,386.78 145.45,387.55 145.48,388.33 145.5,389.1 145.5,389.1 145.52,388.33 145.55,387.55 145.64,386.78 145.79,386 146.05,385.23 146.43,384.45 146.92,383.68 147.5,382.9 148.1,382.12 148.62,381.35 149,380.58 149.21,379.8 149.27,379.03 149.21,378.25 149.11,377.48 149.02,376.7 148.98,375.93 148.99,375.15 149.01,374.38 148.98,373.6 148.85,372.83 148.62,372.05 148.28,371.28 147.91,370.5 147.57,369.73 147.32,368.95 147.18,368.18 147.12,367.4 147.08,366.62 147,365.85 146.85,365.08 146.62,364.3 146.35,363.53 146.09,362.75 145.87,361.98 145.71,361.2 145.6,360.43 145.54,359.65 145.51,358.88 145.5,358.1 145.5,358.1" stroke="#000" stroke-width="0.7" fill="#fff"/>
<circle cx="145.5" cy="365.8" r="1.6" fill="#000" stroke="none" stroke-width="0.6"/>
<circle cx="148.8" cy="371.8" r="1.6" fill="#000" stroke="none" stroke-width="0.6"/>
<circle cx="142" cy="373.8" r="1.6" fill="#000" stroke="none" stroke-width="0.6"/>
<circle cx="142" cy="377.3" r="1.6" fill="#000" stroke="none" stroke-width="0.6"/>
<circle cx="148.8" cy="380.3" r="1.6" fill="#000" stroke="none" stroke-width="0.6"/>
<circle cx="142" cy="381.3" r="1.6" fill="#000" stroke="none" stroke-width="0.6"/>
<polyline points="157.9,318.9 157.9,320.64 157.9,322.39 157.9,324.13 157.89,325.88 157.85,327.62 157.68,329.37 157.18,331.11 156.16,332.86 154.8,334.6 153.84,336.35 153.95,338.09 155.06,339.84 156.39,341.58 157.27,343.33 157.56,345.07 157.31,346.82 156.51,348.56 155.23,350.31 153.94,352.06 153.3,353.8 153.51,355.54 154.13,357.29 154.65,359.03 155.12,360.78 155.75,362.52 156.44,364.27 156.78,366.01 156.56,367.76 156.07,369.5 155.83,371.25 156.13,373 156.78,374.74 157.38,376.49 157.72,378.23 157.85,379.97 157.89,381.72 157.9,383.46 157.9,385.21 157.9,386.95 157.9,388.7 157.9,388.7 157.9,386.95 157.9,385.21 157.9,383.46 157.91,381.72 157.95,379.97 158.08,378.23 158.42,376.49 159.02,374.74 159.67,373 159.97,371.25 159.73,369.5 159.24,367.76 159.02,366.01 159.36,364.27 160.05,362.52 160.68,360.78 161.15,359.03 161.67,357.29 162.29,355.54 162.5,353.8 161.86,352.06 160.57,350.31 159.29,348.56 158.49,346.82 158.24,345.07 158.53,343.33 159.41,341.58 160.74,339.84 161.85,338.09 161.96,336.35 161,334.6 159.64,332.86 158.62,331.11 158.12,329.37 157.95,327.62 157.91,325.88 157.9,324.13 157.9,322.39 157.9,320.64 157.9,318.9 157.9,318.9" stroke="#000" stroke-width="0.7" fill="#fff"/>
<circle cx="154.6" cy="336.9" r="1.6" fill="#000" stroke="none" stroke-width="0.6"/>
<circle cx="161.6" cy="336.9" r="1.6" fill="#000" stroke="none" stroke-width="0.6"/>
<circle cx="154.8" cy="354.8" r="1.6" fill="#000" stroke="none" stroke-width="0.6"/>
<circle cx="161.3" cy="352.6" r="1.6" fill="#000" stroke="none" stroke-width="0.6"/>
<circle cx="157.9" cy="360.8" r="1.6" fill="#000" stroke="none" stroke-width="0.6"/>
<circle cx="157.9" cy="371.4" r="1.6" fill="#000" stroke="none" stroke-width="0.6"/>
<polyline points="170.5,361.2 170.45,361.85 170.37,362.5 170.22,363.15 169.98,363.8 169.63,364.45 169.17,365.1 168.62,365.75 168.03,366.4 167.49,367.05 167.08,367.7 166.87,368.35 166.86,369 167.02,369.65 167.28,370.3 167.54,370.95 167.73,371.6 167.81,372.25 167.8,372.9 167.76,373.55 167.73,374.2 167.78,374.85 167.92,375.5 168.14,376.15 168.38,376.8 168.61,377.45 168.78,378.1 168.91,378.75 169,379.4 169.09,380.05 169.2,380.7 169.37,381.35 169.57,382 169.79,382.65 169.99,383.3 170.17,383.95 170.31,384.6 170.4,385.25 170.46,385.9 170.49,386.55 170.5,387.2 170.5,387.2 170.51,386.55 170.54,385.9 170.6,385.25 170.69,384.6 170.83,383.95 171.01,383.3 171.21,382.65 171.43,382 171.63,381.35 171.8,380.7 171.91,380.05 172,379.4 172.09,378.75 172.22,378.1 172.39,377.45 172.62,376.8 172.86,376.15 173.08,375.5 173.22,374.85 173.27,374.2 173.24,373.55 173.2,372.9 173.19,372.25 173.27,371.6 173.46,370.95 173.72,370.3 173.98,369.65 174.14,369 174.13,368.35 173.92,367.7 173.51,367.05 172.97,366.4 172.38,365.75 171.83,365.1 171.37,364.45 171.02,363.8 170.78,363.15 170.63,362.5 170.55,361.85 170.5,361.2 170.5,361.2" stroke="#ec1f26" stroke-width="0.7" fill="#fff"/>
<circle cx="167" cy="367.5" r="1.6" fill="#000" stroke="none" stroke-width="0.6"/>
<circle cx="170.5" cy="369.1" r="1.6" fill="#000" stroke="none" stroke-width="0.6"/>
<circle cx="174" cy="368.1" r="1.6" fill="#000" stroke="none" stroke-width="0.6"/>
<circle cx="170.5" cy="375.4" r="1.6" fill="#000" stroke="none" stroke-width="0.6"/>
<circle cx="174" cy="373.8" r="1.6" fill="#000" stroke="none" stroke-width="0.6"/>
<circle cx="170.5" cy="380.5" r="1.6" fill="#000" stroke="none" stroke-width="0.6"/>
<line x1="145.5" y1="318.9" x2="145.5" y2="352.3" stroke="#000" stroke-width="0.55"/>
<line x1="145.5" y1="318.5" x2="152.8" y2="318.5" stroke="#000" stroke-width="0.55"/>
<line x1="164.5" y1="318.5" x2="171.8" y2="318.5" stroke="#000" stroke-width="0.55"/>
<line x1="171.5" y1="318.9" x2="171.5" y2="354.5" stroke="#000" stroke-width="0.55"/>
<text x="0" y="0" font-size="6.6" text-anchor="middle" fill="#000" stroke="#000" transform="translate(143.7 328.7) rotate(-90) scale(0.95 1)">0.0016</text>
<text x="0" y="0" font-size="6.6" text-anchor="middle" fill="#000" stroke="#000" transform="translate(178 328.7) rotate(-90) scale(0.95 1)">0.0045</text>
<text x="203.3" y="327.5" font-size="14" text-anchor="start" fill="#000" stroke="#000">g</text>
<text x="218.8" y="326.4" font-size="8" text-anchor="start" fill="#000" stroke="#000">Sciatic nerve</text>
<text x="440" y="326.4" font-size="8" text-anchor="start" fill="#000" stroke="#000">Trigeminal nerve</text>
<rect x="356.4" y="323.4" width="15.4" height="5.8" fill="#fff" stroke="#000" stroke-width="0.6"/>
<text x="355.2" y="329" font-size="8" text-anchor="end" fill="#000" stroke="#000">Sham</text>
<rect x="356.4" y="331.4" width="15.4" height="5.8" fill="#1a1a1a" stroke="#1a1a1a" stroke-width="0.6"/>
<text x="355.2" y="337" font-size="8" text-anchor="end" fill="#000" stroke="#000">Endo/Control</text>
<rect x="356.4" y="339.7" width="15.4" height="5.8" fill="#5ea893" stroke="#333" stroke-width="0.6"/>
<text x="355.2" y="345.3" font-size="8" text-anchor="end" fill="#000" stroke="#000">Endo/<tspan font-style="italic">Plp</tspan>-AAV-<tspan font-style="italic">Nlrp1</tspan></text>
<rect x="576.6" y="322.4" width="15.4" height="5.8" fill="#fff" stroke="#000" stroke-width="0.6"/>
<text x="575.4" y="328" font-size="8" text-anchor="end" fill="#000" stroke="#000">Sham</text>
<rect x="576.6" y="330.6" width="15.4" height="5.8" fill="#1a1a1a" stroke="#1a1a1a" stroke-width="0.6"/>
<text x="575.4" y="336.2" font-size="8" text-anchor="end" fill="#000" stroke="#000">Endo/Control</text>
<rect x="576.6" y="338.8" width="15.4" height="5.8" fill="#5ea893" stroke="#333" stroke-width="0.6"/>
<text x="575.4" y="344.4" font-size="8" text-anchor="end" fill="#000" stroke="#000">Endo/<tspan font-style="italic">Plp</tspan>-AAV-<tspan font-style="italic">Nlrp1</tspan></text>
<rect x="219.1" y="350.3" width="49.2" height="73.6" fill="#020203" stroke="none" stroke-width="0.8"/>
<rect x="222.6" y="350.3" width="42.2" height="73.6" fill="url(#nz)" stroke="none" stroke-width="0.8"/>
<path d="M241.64 390.94h0.9v0.9h-0.9zM241.62 412.38h0.7v0.7h-0.7zM230.08 387.46h1.1v1.1h-1.1zM248.62 363.82h0.9v0.9h-0.9zM235.21 356.88h1.1v1.1h-1.1zM249.51 393.53h0.9v0.9h-0.9zM263.78 397.77h1.1v1.1h-1.1zM250.18 395.54h1.1v1.1h-1.1zM224.83 352.89h0.7v0.7h-0.7zM248 406.79h0.9v0.9h-0.9zM241.13 411.46h1.1v1.1h-1.1zM232.19 371.66h0.7v0.7h-0.7zM250.72 383.5h0.9v0.9h-0.9zM239.67 390.32h0.7v0.7h-0.7zM252.68 373.19h0.7v0.7h-0.7zM244.26 352.46h1.1v1.1h-1.1zM255.2 379.37h0.9v0.9h-0.9zM238.8 419.85h1.1v1.1h-1.1zM222.12 365.53h0.7v0.7h-0.7zM242.4 421.47h0.9v0.9h-0.9zM240.23 391.41h0.7v0.7h-0.7zM255.73 369.89h0.7v0.7h-0.7z" fill="#2c8c2c"/>
<polyline points="225.76,362.04 225.47,365.62 225.21,369.2 224.99,372.78 224.82,376.36 224.69,379.94 224.61,383.52 224.58,387.1 224.61,390.68 224.69,394.26 224.82,397.84 224.99,401.42 225.21,405 225.47,408.58 225.76,412.16 226.07,415.74 226.39,419.32 226.73,422.9" stroke="#d4d4d4" stroke-width="1.1" fill="none" stroke-dasharray="4.2,3"/>
<polyline points="263.41,351.3 263.11,354.88 262.81,358.46 262.53,362.04 262.26,365.62 262.01,369.2 261.79,372.78 261.59,376.36 261.43,379.94 261.31,383.52 261.22,387.1 261.17,390.68 261.16,394.26 261.18,397.84 261.23,401.42 261.32,405 261.43,408.58 261.56,412.16 261.71,415.74 261.87,419.32 262.03,422.9" stroke="#d4d4d4" stroke-width="1.1" fill="none" stroke-dasharray="4.2,3"/>
<line x1="223.7" y1="421.5" x2="230.9" y2="421.5" stroke="#e0e0e0" stroke-width="0.8"/>
<text x="264.7" y="422.1" font-size="7" text-anchor="end" fill="#e8e8e8" stroke="#e8e8e8">Sham</text>
<rect x="270.7" y="350.3" width="49.2" height="73.6" fill="#020203" stroke="none" stroke-width="0.8"/>
<rect x="274.2" y="350.3" width="42.2" height="73.6" fill="url(#nz)" stroke="none" stroke-width="0.8"/>
<path d="M294.2 398.03h1.1v1.1h-1.1zM288.81 378.01h0.9v0.9h-0.9zM294.55 397.01h0.9v0.9h-0.9zM303.53 393.97h1.1v1.1h-1.1zM273.77 395.62h0.9v0.9h-0.9zM289.58 374.96h0.7v0.7h-0.7zM276.24 409.75h0.7v0.7h-0.7zM295.88 409.78h1.1v1.1h-1.1zM291.18 411.46h0.7v0.7h-0.7zM313.4 409.81h1.1v1.1h-1.1zM295.69 356.91h0.9v0.9h-0.9zM314.6 358.47h0.9v0.9h-0.9zM315.66 389.47h1.1v1.1h-1.1zM297.81 421.17h0.7v0.7h-0.7zM297.68 387.13h0.7v0.7h-0.7zM291 380.71h1.1v1.1h-1.1zM293.99 394.53h1.1v1.1h-1.1zM275.02 403.03h0.7v0.7h-0.7zM315.88 398.48h0.9v0.9h-0.9zM314.35 413.18h0.9v0.9h-0.9zM302.81 358.56h0.7v0.7h-0.7zM288.18 377.25h1.1v1.1h-1.1zM308.7 386.6h0.7v0.7h-0.7zM290.16 412.67h0.7v0.7h-0.7zM296.12 366.43h0.9v0.9h-0.9zM275.58 365.14h1.1v1.1h-1.1zM278.13 390.23h0.7v0.7h-0.7zM277.07 370.18h0.9v0.9h-0.9zM285.65 375.29h1.1v1.1h-1.1zM305.06 387.62h0.9v0.9h-0.9zM282.72 370.77h0.9v0.9h-0.9zM303.81 412.41h0.7v0.7h-0.7zM314.99 362.47h1.1v1.1h-1.1zM289.43 364.04h1.1v1.1h-1.1zM283.2 394.36h0.9v0.9h-0.9zM313.25 408.48h0.7v0.7h-0.7zM284.14 350.93h0.7v0.7h-0.7zM284.39 358.73h0.9v0.9h-0.9zM316.83 386.86h0.7v0.7h-0.7zM313.77 414.33h1.1v1.1h-1.1zM309.64 396.72h0.7v0.7h-0.7zM307.58 386.76h0.9v0.9h-0.9zM300.79 369.37h0.9v0.9h-0.9zM312.33 362.07h0.9v0.9h-0.9zM300.35 353.64h0.9v0.9h-0.9zM314.48 387.7h1.1v1.1h-1.1zM292.93 407.81h1.1v1.1h-1.1zM286.01 368.81h1.1v1.1h-1.1zM273.86 352.28h1.1v1.1h-1.1zM311.99 380.82h0.7v0.7h-0.7zM282.35 384.55h0.7v0.7h-0.7zM297.89 395.66h0.9v0.9h-0.9zM306.55 380.62h1.1v1.1h-1.1zM277.71 379.68h0.7v0.7h-0.7zM298.76 375.53h0.9v0.9h-0.9zM301.26 378.25h0.7v0.7h-0.7zM274.44 401.86h0.7v0.7h-0.7zM308.16 415.46h0.9v0.9h-0.9zM296.81 407.59h0.9v0.9h-0.9zM307.93 401.87h0.7v0.7h-0.7zM287.18 418.11h1.1v1.1h-1.1zM303.36 386h1.1v1.1h-1.1zM279.09 389.09h1.1v1.1h-1.1zM303.04 392.46h0.7v0.7h-0.7zM291.28 373.79h1.1v1.1h-1.1zM288.06 400.14h1.1v1.1h-1.1zM287.2 400.81h1.1v1.1h-1.1zM302.19 418.16h0.9v0.9h-0.9zM281.29 365.48h1.1v1.1h-1.1zM292.87 363.32h1.1v1.1h-1.1zM299.37 383.47h0.9v0.9h-0.9zM277.89 366.59h0.9v0.9h-0.9zM289.53 411.92h1.1v1.1h-1.1zM292.38 366.3h0.7v0.7h-0.7zM295.34 400.98h0.7v0.7h-0.7zM295.33 378.53h1.1v1.1h-1.1zM310.11 368.44h0.9v0.9h-0.9zM307.63 353.87h0.7v0.7h-0.7zM291.31 401.04h0.9v0.9h-0.9zM296.22 382.24h0.7v0.7h-0.7zM315.71 390.51h1.1v1.1h-1.1zM287.18 405.62h0.7v0.7h-0.7zM287.62 386.59h0.9v0.9h-0.9zM301.03 362.67h0.9v0.9h-0.9zM283.45 389.82h0.9v0.9h-0.9zM295.07 381.45h0.9v0.9h-0.9zM286.04 418.26h1.1v1.1h-1.1zM285.92 409.32h1.1v1.1h-1.1zM287.57 359.44h1.1v1.1h-1.1zM275.11 398.09h0.9v0.9h-0.9zM291.52 395.15h0.9v0.9h-0.9zM288.38 406.11h0.9v0.9h-0.9zM290.32 379.31h0.7v0.7h-0.7zM281.04 365.19h0.9v0.9h-0.9zM278.44 369.75h0.7v0.7h-0.7zM311.21 397.71h1.1v1.1h-1.1zM309.17 376.35h1.1v1.1h-1.1zM313.23 406.26h0.9v0.9h-0.9zM309.69 365.63h0.7v0.7h-0.7z" fill="#2c8c2c"/>
<polyline points="277.1,351.3 276.64,354.88 276.2,358.46 275.77,362.04 275.38,365.62 275.03,369.2 274.73,372.78 274.5,376.36 274.32,379.94 274.21,383.52 274.18,387.1 274.21,390.68 274.32,394.26 274.5,397.84 274.73,401.42 275.03,405 275.38,408.58 275.77,412.16 276.2,415.74 276.64,419.32 277.1,422.9" stroke="#d4d4d4" stroke-width="1.1" fill="none" stroke-dasharray="4.2,3"/>
<polyline points="316.24,351.3 315.88,354.88 315.53,358.46 315.19,362.04 314.87,365.62 314.57,369.2 314.3,372.78 314.05,376.36 313.84,379.94 313.66,383.52 313.52,387.1 313.42,390.68 313.35,394.26 313.32,397.84 313.32,401.42 313.36,405 313.41,408.58 313.49,412.16 313.59,415.74 313.7,419.32 313.81,422.9" stroke="#d4d4d4" stroke-width="1.1" fill="none" stroke-dasharray="4.2,3"/>
<line x1="275.3" y1="421.5" x2="282.5" y2="421.5" stroke="#e0e0e0" stroke-width="0.8"/>
<text x="316.3" y="422.1" font-size="7" text-anchor="end" fill="#e8e8e8" stroke="#e8e8e8">Control</text>
<rect x="322.1" y="350.3" width="49.2" height="73.6" fill="#020203" stroke="none" stroke-width="0.8"/>
<rect x="325.6" y="350.3" width="42.2" height="73.6" fill="url(#nz)" stroke="none" stroke-width="0.8"/>
<path d="M336.29 400.05h1.1v1.1h-1.1zM359.75 414.91h1.1v1.1h-1.1zM335.06 360.98h0.7v0.7h-0.7zM352.79 363.9h0.7v0.7h-0.7zM348.05 365.83h0.9v0.9h-0.9zM326.39 359.47h1.1v1.1h-1.1zM351.38 351.35h0.9v0.9h-0.9zM361.15 356.47h0.9v0.9h-0.9zM360.8 404.37h0.7v0.7h-0.7zM359.39 368.94h0.7v0.7h-0.7zM346.13 405.11h1.1v1.1h-1.1zM367.5 398.99h0.9v0.9h-0.9zM352.69 397.87h0.9v0.9h-0.9zM360.51 408.25h0.9v0.9h-0.9zM354.95 390.54h1.1v1.1h-1.1zM367.75 382.27h1.1v1.1h-1.1zM344.25 363.12h0.7v0.7h-0.7zM332.85 376.16h0.9v0.9h-0.9zM344.95 394.26h0.9v0.9h-0.9zM363.52 392.2h1.1v1.1h-1.1zM335.27 367.41h0.7v0.7h-0.7zM355.41 359.82h0.9v0.9h-0.9zM353.23 419.54h0.9v0.9h-0.9zM325.19 381.11h0.7v0.7h-0.7zM334.82 386.46h1.1v1.1h-1.1zM361.31 396.7h0.7v0.7h-0.7zM356.77 403.75h0.9v0.9h-0.9zM363.38 408.61h0.7v0.7h-0.7zM355.57 396.07h1.1v1.1h-1.1zM356.05 360.25h1.1v1.1h-1.1zM351.17 402.77h0.7v0.7h-0.7z" fill="#2c8c2c"/>
<polyline points="328.94,351.3 328.5,354.88 328.06,358.46 327.65,362.04 327.27,365.62 326.93,369.2 326.64,372.78 326.41,376.36 326.23,379.94 326.13,383.52 326.09,387.1 326.13,390.68 326.23,394.26 326.41,397.84 326.64,401.42 326.93,405 327.27,408.58 327.65,412.16 328.06,415.74 328.5,419.32 328.94,422.9" stroke="#d4d4d4" stroke-width="1.1" fill="none" stroke-dasharray="4.2,3"/>
<polyline points="366.96,351.3 366.7,354.88 366.45,358.46 366.2,362.04 365.97,365.62 365.77,369.2 365.59,372.78 365.44,376.36 365.32,379.94 365.24,383.52 365.2,387.1 365.19,390.68 365.22,394.26 365.28,397.84 365.38,401.42 365.5,405 365.65,408.58 365.83,412.16 366.02,415.74 366.22,419.32 366.43,422.9" stroke="#d4d4d4" stroke-width="1.1" fill="none" stroke-dasharray="4.2,3"/>
<line x1="326.7" y1="421.5" x2="333.9" y2="421.5" stroke="#e0e0e0" stroke-width="0.8"/>
<text x="367.7" y="422.1" font-size="7" text-anchor="end" fill="#e8e8e8" stroke="#e8e8e8"><tspan font-style="italic">Plp-Nlrp1</tspan></text>
<rect x="439.9" y="350.3" width="49.2" height="73.6" fill="#020203" stroke="none" stroke-width="0.8"/>
<rect x="443.4" y="350.3" width="42.2" height="73.6" fill="url(#nz)" stroke="none" stroke-width="0.8"/>
<path d="M450.03 400.38h1.1v1.1h-1.1zM455.05 411.52h0.9v0.9h-0.9zM477.8 387.5h1.1v1.1h-1.1zM465.69 407.54h0.7v0.7h-0.7zM458.93 392.8h0.7v0.7h-0.7zM449.16 404.85h0.7v0.7h-0.7zM472.88 382.02h1.1v1.1h-1.1zM476.19 379.83h0.9v0.9h-0.9zM444.37 374.18h0.9v0.9h-0.9zM472.88 397.4h0.9v0.9h-0.9zM443.9 404.1h0.7v0.7h-0.7zM448.29 417.67h0.9v0.9h-0.9zM449.86 403.19h0.9v0.9h-0.9zM463.84 363.87h0.7v0.7h-0.7zM463.2 409.84h0.7v0.7h-0.7zM476.61 365.44h1.1v1.1h-1.1zM475.51 405.68h1.1v1.1h-1.1zM485.62 355.45h1.1v1.1h-1.1zM463.48 410.34h0.7v0.7h-0.7zM457.64 360.91h1.1v1.1h-1.1zM460.59 376.82h0.9v0.9h-0.9zM464.56 373.38h0.9v0.9h-0.9zM459.6 352.25h0.7v0.7h-0.7zM449.77 402.28h0.9v0.9h-0.9zM443.02 355.39h1.1v1.1h-1.1zM475.22 366.42h1.1v1.1h-1.1zM456.67 421.45h0.7v0.7h-0.7zM450.71 362.65h0.9v0.9h-0.9zM478.91 374.43h1.1v1.1h-1.1zM483.06 368.14h0.7v0.7h-0.7zM445.74 409.37h0.9v0.9h-0.9z" fill="#2c8c2c"/>
<polyline points="445.37,362.04 444.97,365.62 444.62,369.2 444.32,372.78 444.07,376.36 443.9,379.94 443.79,383.52 443.75,387.1 443.79,390.68 443.9,394.26 444.07,397.84 444.32,401.42 444.62,405 444.97,408.58 445.37,412.16 445.79,415.74 446.24,419.32 446.71,422.9" stroke="#d4d4d4" stroke-width="1.1" fill="none" stroke-dasharray="4.2,3"/>
<polyline points="481.38,351.3 481.28,354.88 481.19,358.46 481.11,362.04 481.05,365.62 481.01,369.2 480.99,372.78 481.01,376.36 481.06,379.94 481.14,383.52 481.26,387.1 481.42,390.68 481.61,394.26 481.84,397.84 482.1,401.42 482.39,405 482.71,408.58 483.05,412.16 483.4,415.74 483.77,419.32 484.14,422.9" stroke="#d4d4d4" stroke-width="1.1" fill="none" stroke-dasharray="4.2,3"/>
<line x1="444.5" y1="421.5" x2="451.7" y2="421.5" stroke="#e0e0e0" stroke-width="0.8"/>
<text x="485.5" y="422.1" font-size="7" text-anchor="end" fill="#e8e8e8" stroke="#e8e8e8">Sham</text>
<rect x="491.2" y="350.3" width="49.2" height="73.6" fill="#020203" stroke="none" stroke-width="0.8"/>
<rect x="494.7" y="350.3" width="42.2" height="73.6" fill="url(#nz)" stroke="none" stroke-width="0.8"/>
<path d="M535.59 360.49h0.7v0.7h-0.7zM520.69 382.76h1.1v1.1h-1.1zM499.41 397.59h0.9v0.9h-0.9zM528.44 356.08h0.9v0.9h-0.9zM535.65 373.49h1.1v1.1h-1.1zM501.94 390.38h1.1v1.1h-1.1zM534.11 401.71h0.7v0.7h-0.7zM519.13 351.85h0.9v0.9h-0.9zM507.62 364.1h0.7v0.7h-0.7zM519.38 418.4h1.1v1.1h-1.1zM496.84 374h0.9v0.9h-0.9zM505.36 419.76h0.9v0.9h-0.9zM533.11 413.51h1.1v1.1h-1.1zM516.46 370.59h0.9v0.9h-0.9zM523.04 363.73h0.7v0.7h-0.7zM508.99 415.73h0.9v0.9h-0.9zM534.16 387.06h1.1v1.1h-1.1zM532.31 379.14h0.7v0.7h-0.7zM507.48 377.44h1.1v1.1h-1.1zM495.29 392.08h1.1v1.1h-1.1zM517.66 381.77h1.1v1.1h-1.1zM533.05 381.33h0.7v0.7h-0.7zM537.25 376.12h0.9v0.9h-0.9zM527.95 354.52h0.7v0.7h-0.7zM516.32 379.39h0.7v0.7h-0.7zM514.03 364.34h0.7v0.7h-0.7zM517.81 375.65h0.9v0.9h-0.9zM533.5 396h0.9v0.9h-0.9zM495.8 389.17h1.1v1.1h-1.1zM526.13 397.89h0.7v0.7h-0.7zM496.45 380.12h0.7v0.7h-0.7zM533.99 383.74h0.7v0.7h-0.7zM515.74 388.34h1.1v1.1h-1.1zM506.48 399.95h0.9v0.9h-0.9zM514.77 355.08h1.1v1.1h-1.1zM509.48 407.23h1.1v1.1h-1.1zM505.38 358.97h0.7v0.7h-0.7zM515.8 396.37h0.9v0.9h-0.9zM498.4 395.97h1.1v1.1h-1.1zM512.97 369.83h0.7v0.7h-0.7zM497.5 364.14h1.1v1.1h-1.1zM499.3 366.01h0.9v0.9h-0.9zM515.22 355.24h0.7v0.7h-0.7zM506.14 357.37h0.9v0.9h-0.9zM520.92 379.54h0.7v0.7h-0.7zM525.95 417.46h0.7v0.7h-0.7zM495.85 377.72h1.1v1.1h-1.1zM495.62 365.05h0.9v0.9h-0.9zM521.63 353.87h1.1v1.1h-1.1zM525.22 384.02h0.7v0.7h-0.7zM532.62 358.47h0.7v0.7h-0.7zM534.41 391.4h0.7v0.7h-0.7zM532.62 397.2h0.7v0.7h-0.7zM495.5 361.8h0.9v0.9h-0.9zM496.03 385.64h0.7v0.7h-0.7zM506.17 406.1h0.7v0.7h-0.7zM521.5 421.85h1.1v1.1h-1.1zM504.28 389.11h0.7v0.7h-0.7zM509.54 369.11h1.1v1.1h-1.1zM494.59 377.88h1.1v1.1h-1.1zM498.83 411.72h1.1v1.1h-1.1zM518.02 376.59h1.1v1.1h-1.1zM505.57 369.12h1.1v1.1h-1.1zM501.07 411.19h1.1v1.1h-1.1zM515.62 386.59h0.7v0.7h-0.7zM536.27 364.13h0.9v0.9h-0.9zM509.03 413.86h0.7v0.7h-0.7zM510.91 397.91h0.7v0.7h-0.7zM524.74 356.52h0.9v0.9h-0.9zM508.81 354.24h1.1v1.1h-1.1zM536.08 361.4h1.1v1.1h-1.1zM509.84 419.47h0.7v0.7h-0.7zM516.97 406.04h0.7v0.7h-0.7zM499.1 387.09h0.7v0.7h-0.7zM529.05 410.21h0.7v0.7h-0.7zM518.84 417.19h0.9v0.9h-0.9zM516.01 418.42h0.9v0.9h-0.9zM519.04 388.46h1.1v1.1h-1.1zM508.56 420.76h1.1v1.1h-1.1zM496.46 367.31h1.1v1.1h-1.1zM522.38 373.63h0.9v0.9h-0.9zM494.35 367.9h0.7v0.7h-0.7zM534.2 371.96h0.7v0.7h-0.7zM534.67 358.48h0.9v0.9h-0.9zM529.82 417.01h0.7v0.7h-0.7zM514.8 380.42h0.9v0.9h-0.9zM500.24 379.6h0.7v0.7h-0.7zM517.58 414.04h0.9v0.9h-0.9zM533.23 384.01h0.9v0.9h-0.9zM516.41 366.1h0.7v0.7h-0.7zM529.74 404.86h1.1v1.1h-1.1zM500.19 353.86h0.7v0.7h-0.7zM529.63 358.53h0.9v0.9h-0.9zM508.3 362.38h0.9v0.9h-0.9zM497.19 374.96h0.9v0.9h-0.9zM499.91 398.73h0.9v0.9h-0.9zM512.95 389.41h0.9v0.9h-0.9zM523.84 408.96h1.1v1.1h-1.1zM513.22 365.45h1.1v1.1h-1.1zM494.64 356.25h0.7v0.7h-0.7zM530.63 405.02h0.7v0.7h-0.7zM503.58 384.59h1.1v1.1h-1.1zM505.75 359.39h0.7v0.7h-0.7zM519.48 372.32h0.7v0.7h-0.7zM519.53 364.7h0.9v0.9h-0.9zM526.1 382.9h1.1v1.1h-1.1zM501.76 379.77h0.9v0.9h-0.9zM518.24 410.05h0.9v0.9h-0.9zM527.79 365.41h0.7v0.7h-0.7zM503.94 388.78h1.1v1.1h-1.1zM506.78 353.65h0.7v0.7h-0.7zM520.59 367.83h0.9v0.9h-0.9zM528.67 377.36h0.7v0.7h-0.7zM519.28 366.83h0.9v0.9h-0.9zM510.37 420.39h0.7v0.7h-0.7zM496.18 394.22h0.9v0.9h-0.9zM522.34 358.19h1.1v1.1h-1.1zM516.19 416.94h0.9v0.9h-0.9zM499.83 377.35h1.1v1.1h-1.1zM526.23 351.22h0.7v0.7h-0.7zM513.27 409.01h0.7v0.7h-0.7zM515.09 362.18h1.1v1.1h-1.1zM501.14 357.56h0.9v0.9h-0.9zM499.43 362.64h1.1v1.1h-1.1zM497.83 386.69h0.9v0.9h-0.9zM523.84 389.35h0.9v0.9h-0.9zM524.32 392.23h0.7v0.7h-0.7zM530.8 404.32h1.1v1.1h-1.1zM496.38 359.24h0.7v0.7h-0.7zM494.63 388.77h0.9v0.9h-0.9zM521.25 374.65h0.9v0.9h-0.9zM527.32 357.15h0.9v0.9h-0.9zM505.6 391.64h1.1v1.1h-1.1zM518.4 360.94h0.9v0.9h-0.9zM534.21 387.42h0.7v0.7h-0.7zM524.01 389.36h0.7v0.7h-0.7zM513.35 409.44h0.7v0.7h-0.7zM513.73 378.24h0.7v0.7h-0.7zM509.78 352.3h0.9v0.9h-0.9zM511 371.26h1.1v1.1h-1.1zM518.48 415.91h0.9v0.9h-0.9zM537.38 358.26h0.9v0.9h-0.9zM529.49 373.21h0.7v0.7h-0.7zM513.85 362.32h0.7v0.7h-0.7z" fill="#2c8c2c"/>
<polyline points="498.36,351.3 497.92,354.88 497.49,358.46 497.09,362.04 496.71,365.62 496.38,369.2 496.09,372.78 495.86,376.36 495.69,379.94 495.59,383.52 495.55,387.1 495.59,390.68 495.69,394.26 495.86,397.84 496.09,401.42 496.38,405 496.71,408.58 497.09,412.16 497.49,415.74 497.92,419.32 498.36,422.9" stroke="#d4d4d4" stroke-width="1.1" fill="none" stroke-dasharray="4.2,3"/>
<polyline points="535.56,351.3 535.18,354.88 534.81,358.46 534.44,362.04 534.1,365.62 533.77,369.2 533.48,372.78 533.21,376.36 532.97,379.94 532.77,383.52 532.61,387.1 532.48,390.68 532.39,394.26 532.34,397.84 532.32,401.42 532.33,405 532.36,408.58 532.42,412.16 532.49,415.74 532.57,419.32 532.66,422.9" stroke="#d4d4d4" stroke-width="1.1" fill="none" stroke-dasharray="4.2,3"/>
<line x1="495.8" y1="421.5" x2="503" y2="421.5" stroke="#e0e0e0" stroke-width="0.8"/>
<text x="536.8" y="422.1" font-size="7" text-anchor="end" fill="#e8e8e8" stroke="#e8e8e8">Control</text>
<rect x="542.6" y="350.3" width="49.2" height="73.6" fill="#020203" stroke="none" stroke-width="0.8"/>
<rect x="546.1" y="350.3" width="42.2" height="73.6" fill="url(#nz)" stroke="none" stroke-width="0.8"/>
<path d="M585.55 419.17h0.7v0.7h-0.7zM546.34 372.57h0.9v0.9h-0.9zM568.5 359.76h0.7v0.7h-0.7zM557.15 351.32h1.1v1.1h-1.1zM565.26 352.1h0.7v0.7h-0.7zM587.99 386.47h0.7v0.7h-0.7zM567.75 403.6h0.9v0.9h-0.9zM578.9 365.23h0.7v0.7h-0.7zM571.05 398.06h1.1v1.1h-1.1zM554.93 403.68h1.1v1.1h-1.1zM578.42 377.07h1.1v1.1h-1.1zM557.75 421.06h1.1v1.1h-1.1zM549.3 384.72h1.1v1.1h-1.1zM566.47 407.76h1.1v1.1h-1.1zM573.35 363.52h0.7v0.7h-0.7zM568.65 399.19h1.1v1.1h-1.1zM554.05 358.6h0.7v0.7h-0.7zM564.01 391.54h1.1v1.1h-1.1zM557.72 393.13h0.7v0.7h-0.7zM561.57 371.24h0.9v0.9h-0.9zM584.24 383.31h0.7v0.7h-0.7zM556.76 358.08h0.7v0.7h-0.7zM576.15 410.45h0.7v0.7h-0.7zM559.78 360.64h1.1v1.1h-1.1zM571.2 418.94h0.7v0.7h-0.7zM565.01 352.75h1.1v1.1h-1.1zM563.58 352h0.7v0.7h-0.7zM575.29 420.99h1.1v1.1h-1.1zM586.59 389.4h0.9v0.9h-0.9zM577.96 375.43h0.9v0.9h-0.9zM566.79 352.99h0.9v0.9h-0.9zM565.73 364.58h0.9v0.9h-0.9zM586.66 365.98h0.7v0.7h-0.7zM569.63 397.45h1.1v1.1h-1.1zM569.09 409.31h0.9v0.9h-0.9zM549.92 362.27h0.7v0.7h-0.7zM564.81 375.19h0.9v0.9h-0.9zM580.75 415.29h1.1v1.1h-1.1zM580.61 355.35h1.1v1.1h-1.1zM577.82 389.92h0.9v0.9h-0.9zM563.3 406.32h1.1v1.1h-1.1zM571.94 354.04h0.9v0.9h-0.9zM550.28 396.13h0.9v0.9h-0.9zM587.29 403.21h0.9v0.9h-0.9zM556.33 419.38h0.7v0.7h-0.7zM560.2 400.29h0.7v0.7h-0.7zM555.76 391.02h0.9v0.9h-0.9zM580.14 422.05h0.9v0.9h-0.9zM545.77 377.68h0.7v0.7h-0.7zM577.96 379.47h1.1v1.1h-1.1zM546.9 397.83h1.1v1.1h-1.1zM563.85 356.24h1.1v1.1h-1.1zM557.58 393.67h1.1v1.1h-1.1zM576.72 363.2h1.1v1.1h-1.1zM558.46 415.55h0.7v0.7h-0.7zM555.38 354.82h0.9v0.9h-0.9zM561.9 351.6h0.9v0.9h-0.9zM571.74 371.47h0.9v0.9h-0.9zM563.2 408.72h0.9v0.9h-0.9zM587.06 375.08h0.9v0.9h-0.9zM547.45 414.69h1.1v1.1h-1.1zM566.24 390.5h0.9v0.9h-0.9zM568.88 400.47h0.9v0.9h-0.9z" fill="#2c8c2c"/>
<polyline points="548.71,351.3 548.18,354.88 547.67,358.46 547.18,362.04 546.74,365.62 546.34,369.2 545.99,372.78 545.72,376.36 545.52,379.94 545.39,383.52 545.35,387.1 545.39,390.68 545.52,394.26 545.72,397.84 545.99,401.42 546.34,405 546.74,408.58 547.18,412.16 547.67,415.74 548.18,419.32 548.71,422.9" stroke="#d4d4d4" stroke-width="1.1" fill="none" stroke-dasharray="4.2,3"/>
<polyline points="586.21,351.3 586.06,354.88 585.92,358.46 585.79,362.04 585.68,365.62 585.59,369.2 585.53,372.78 585.5,376.36 585.5,379.94 585.53,383.52 585.6,387.1 585.71,390.68 585.85,394.26 586.03,397.84 586.24,401.42 586.49,405 586.75,408.58 587.04,412.16 587.35,415.74 587.67,419.32 587.99,422.9" stroke="#d4d4d4" stroke-width="1.1" fill="none" stroke-dasharray="4.2,3"/>
<line x1="547.2" y1="421.5" x2="554.4" y2="421.5" stroke="#e0e0e0" stroke-width="0.8"/>
<text x="588.2" y="422.1" font-size="7" text-anchor="end" fill="#e8e8e8" stroke="#e8e8e8"><tspan font-style="italic">Plp-Nlrp1</tspan></text>
<text x="223" y="358" font-size="8" text-anchor="start" fill="#3ad23a" stroke="#3ad23a">F4/80</text>
<text x="442.9" y="358.1" font-size="8" text-anchor="start" fill="#3ad23a" stroke="#3ad23a">F4/80</text>
<line x1="397.5" y1="325.7" x2="397.5" y2="424" stroke="#000" stroke-width="0.8"/>
<line x1="395" y1="325.5" x2="397" y2="325.5" stroke="#000" stroke-width="0.8"/>
<text x="394.2" y="328.44" font-size="7.6" text-anchor="end" fill="#000" stroke="#000">40</text>
<line x1="395" y1="350.5" x2="397" y2="350.5" stroke="#000" stroke-width="0.8"/>
<text x="394.2" y="353.01" font-size="7.6" text-anchor="end" fill="#000" stroke="#000">30</text>
<line x1="395" y1="374.5" x2="397" y2="374.5" stroke="#000" stroke-width="0.8"/>
<text x="394.2" y="377.59" font-size="7.6" text-anchor="end" fill="#000" stroke="#000">20</text>
<line x1="395" y1="399.5" x2="397" y2="399.5" stroke="#000" stroke-width="0.8"/>
<text x="394.2" y="402.16" font-size="7.6" text-anchor="end" fill="#000" stroke="#000">10</text>
<line x1="395" y1="424.5" x2="397" y2="424.5" stroke="#000" stroke-width="0.8"/>
<text x="394.2" y="426.74" font-size="7.6" text-anchor="end" fill="#000" stroke="#000">0</text>
<rect x="401.1" y="375.83" width="9.8" height="48.17" fill="#fff" stroke="#000" stroke-width="0.6"/>
<line x1="406.5" y1="372.88" x2="406.5" y2="375.83" stroke="#000" stroke-width="0.6"/>
<line x1="404.8" y1="372.5" x2="407.2" y2="372.5" stroke="#000" stroke-width="0.6"/>
<line x1="404.8" y1="375.5" x2="407.2" y2="375.5" stroke="#000" stroke-width="0.6"/>
<circle cx="404" cy="375.34" r="1.3" fill="#fff" stroke="#777" stroke-width="0.5"/>
<circle cx="408" cy="376.82" r="1.3" fill="#fff" stroke="#777" stroke-width="0.5"/>
<circle cx="406" cy="379.76" r="1.3" fill="#fff" stroke="#777" stroke-width="0.5"/>
<rect x="412.8" y="347.82" width="9.4" height="76.18" fill="#1a1a1a" stroke="#1a1a1a" stroke-width="0.6"/>
<line x1="417.5" y1="344.87" x2="417.5" y2="347.82" stroke="#000" stroke-width="0.6"/>
<line x1="416.3" y1="344.5" x2="418.7" y2="344.5" stroke="#000" stroke-width="0.6"/>
<line x1="416.3" y1="347.5" x2="418.7" y2="347.5" stroke="#000" stroke-width="0.6"/>
<circle cx="415.5" cy="345.36" r="1.3" fill="#fff" stroke="#777" stroke-width="0.5"/>
<circle cx="419.5" cy="346.59" r="1.3" fill="#fff" stroke="#777" stroke-width="0.5"/>
<circle cx="417.5" cy="352.73" r="1.3" fill="#fff" stroke="#777" stroke-width="0.5"/>
<rect x="424.2" y="380.01" width="9.5" height="43.99" fill="#5ea893" stroke="#333" stroke-width="0.6"/>
<line x1="428.5" y1="377.06" x2="428.5" y2="380.01" stroke="#000" stroke-width="0.6"/>
<line x1="427.75" y1="377.5" x2="430.15" y2="377.5" stroke="#000" stroke-width="0.6"/>
<line x1="427.75" y1="380.5" x2="430.15" y2="380.5" stroke="#000" stroke-width="0.6"/>
<circle cx="426.95" cy="377.8" r="1.3" fill="#fff" stroke="#777" stroke-width="0.5"/>
<circle cx="430.95" cy="379.27" r="1.3" fill="#fff" stroke="#777" stroke-width="0.5"/>
<circle cx="428.95" cy="383.45" r="1.3" fill="#fff" stroke="#777" stroke-width="0.5"/>
<text x="385" y="374.85" font-size="8.4" stroke="#000" text-anchor="middle" transform="rotate(-90 385 374.85)">F4/80<tspan font-size="4.6" dy="-2.8">+</tspan><tspan dy="2.8"> cells in 4.5x10</tspan><tspan font-size="4.6" dy="-2.8">5</tspan><tspan dy="2.8"> μm</tspan><tspan font-size="4.6" dy="-2.8">2</tspan></text>
<text x="424.2" y="332.8" font-size="8" text-anchor="middle" fill="#000" stroke="#000">Endo</text>
<line x1="418.9" y1="334.5" x2="429.5" y2="334.5" stroke="#000" stroke-width="0.5"/>
<line x1="405.5" y1="346.5" x2="405.5" y2="372.1" stroke="#000" stroke-width="0.55"/>
<line x1="405.8" y1="346.5" x2="414" y2="346.5" stroke="#000" stroke-width="0.55"/>
<line x1="421" y1="346.5" x2="428.5" y2="346.5" stroke="#000" stroke-width="0.55"/>
<line x1="428.5" y1="346.5" x2="428.5" y2="374.5" stroke="#000" stroke-width="0.55"/>
<text x="0" y="0" font-size="7.2" text-anchor="middle" fill="#000" stroke="#000" transform="translate(404.4 350.8) rotate(-90) scale(0.86 1)">P&lt;0.0001</text>
<text x="0" y="0" font-size="7.2" text-anchor="middle" fill="#000" stroke="#000" transform="translate(434.6 358) rotate(-90) scale(0.86 1)">P&lt;0.001</text>
<line x1="614.5" y1="325.4" x2="614.5" y2="424.3" stroke="#000" stroke-width="0.8"/>
<line x1="612.9" y1="325.5" x2="614.9" y2="325.5" stroke="#000" stroke-width="0.8"/>
<text x="612.1" y="328.14" font-size="7.6" text-anchor="end" fill="#000" stroke="#000">60</text>
<line x1="612.9" y1="358.5" x2="614.9" y2="358.5" stroke="#000" stroke-width="0.8"/>
<text x="612.1" y="361.1" font-size="7.6" text-anchor="end" fill="#000" stroke="#000">40</text>
<line x1="612.9" y1="391.5" x2="614.9" y2="391.5" stroke="#000" stroke-width="0.8"/>
<text x="612.1" y="394.07" font-size="7.6" text-anchor="end" fill="#000" stroke="#000">20</text>
<line x1="612.9" y1="424.5" x2="614.9" y2="424.5" stroke="#000" stroke-width="0.8"/>
<text x="612.1" y="427.04" font-size="7.6" text-anchor="end" fill="#000" stroke="#000">0</text>
<rect x="619.3" y="389.19" width="9.4" height="35.11" fill="#fff" stroke="#000" stroke-width="0.6"/>
<line x1="624.5" y1="387.21" x2="624.5" y2="389.19" stroke="#000" stroke-width="0.6"/>
<line x1="622.8" y1="387.5" x2="625.2" y2="387.5" stroke="#000" stroke-width="0.6"/>
<line x1="622.8" y1="389.5" x2="625.2" y2="389.5" stroke="#000" stroke-width="0.6"/>
<circle cx="624" cy="374.85" r="1.3" fill="#fff" stroke="#777" stroke-width="0.5"/>
<circle cx="622" cy="391.33" r="1.3" fill="#fff" stroke="#777" stroke-width="0.5"/>
<circle cx="626" cy="392.16" r="1.3" fill="#fff" stroke="#777" stroke-width="0.5"/>
<rect x="630.9" y="341.88" width="9.4" height="82.42" fill="#1a1a1a" stroke="#1a1a1a" stroke-width="0.6"/>
<line x1="635.5" y1="339.91" x2="635.5" y2="341.88" stroke="#000" stroke-width="0.6"/>
<line x1="634.4" y1="339.5" x2="636.8" y2="339.5" stroke="#000" stroke-width="0.6"/>
<line x1="634.4" y1="341.5" x2="636.8" y2="341.5" stroke="#000" stroke-width="0.6"/>
<circle cx="635.6" cy="335.29" r="1.3" fill="#fff" stroke="#777" stroke-width="0.5"/>
<circle cx="635.6" cy="353.42" r="1.3" fill="#fff" stroke="#777" stroke-width="0.5"/>
<circle cx="637.6" cy="340.24" r="1.3" fill="#fff" stroke="#777" stroke-width="0.5"/>
<rect x="642.4" y="386.39" width="9.4" height="37.91" fill="#5ea893" stroke="#333" stroke-width="0.6"/>
<line x1="647.5" y1="384.41" x2="647.5" y2="386.39" stroke="#000" stroke-width="0.6"/>
<line x1="645.9" y1="384.5" x2="648.3" y2="384.5" stroke="#000" stroke-width="0.6"/>
<line x1="645.9" y1="386.5" x2="648.3" y2="386.5" stroke="#000" stroke-width="0.6"/>
<circle cx="647.1" cy="388.04" r="1.3" fill="#fff" stroke="#777" stroke-width="0.5"/>
<circle cx="646.1" cy="389.69" r="1.3" fill="#fff" stroke="#777" stroke-width="0.5"/>
<circle cx="649.1" cy="385.56" r="1.3" fill="#fff" stroke="#777" stroke-width="0.5"/>
<text x="602.9" y="374.85" font-size="8.4" stroke="#000" text-anchor="middle" transform="rotate(-90 602.9 374.85)">F4/80<tspan font-size="4.6" dy="-2.8">+</tspan><tspan dy="2.8"> cells in 4.5x10</tspan><tspan font-size="4.6" dy="-2.8">5</tspan><tspan dy="2.8"> μm</tspan><tspan font-size="4.6" dy="-2.8">2</tspan></text>
<text x="642.4" y="328.6" font-size="8" text-anchor="middle" fill="#000" stroke="#000">Endo</text>
<line x1="637.1" y1="329.5" x2="647.7" y2="329.5" stroke="#000" stroke-width="0.5"/>
<line x1="624.5" y1="338" x2="624.5" y2="365" stroke="#000" stroke-width="0.55"/>
<line x1="624.3" y1="338.5" x2="632" y2="338.5" stroke="#000" stroke-width="0.55"/>
<line x1="638" y1="338.5" x2="647.9" y2="338.5" stroke="#000" stroke-width="0.55"/>
<line x1="647.5" y1="338" x2="647.5" y2="382.3" stroke="#000" stroke-width="0.55"/>
<text x="0" y="0" font-size="7.2" text-anchor="middle" fill="#000" stroke="#000" transform="translate(623.2 350.9) rotate(-90) scale(0.86 1)">P&lt;0.0001</text>
<text x="0" y="0" font-size="7.2" text-anchor="middle" fill="#000" stroke="#000" transform="translate(654.1 353.2) rotate(-90) scale(0.86 1)">P&lt;0.001</text>
<text x="0.2" y="468.9" font-size="14" text-anchor="start" fill="#000" stroke="#000">h</text>
<line x1="13.5" y1="467.5" x2="23.5" y2="467.5" stroke="#8c8c8c" stroke-width="0.8"/>
<circle cx="18.5" cy="467.8" r="1.75" fill="#8c8c8c" stroke="none" stroke-width="0.6"/>
<text x="25.8" y="470.3" font-size="8" text-anchor="start" fill="#000" stroke="#000">Sham/Control</text>
<line x1="79" y1="467.5" x2="89" y2="467.5" stroke="#c4c4c4" stroke-width="0.8"/>
<circle cx="84" cy="467.8" r="1.75" fill="#c4c4c4" stroke="none" stroke-width="0.6"/>
<text x="91.3" y="470.3" font-size="8" text-anchor="start" fill="#000" stroke="#000">Sham/<tspan font-style="italic">Plp</tspan>-AAV-<tspan font-style="italic">IL-1β</tspan></text>
<line x1="168" y1="467.5" x2="178" y2="467.5" stroke="#000" stroke-width="0.8"/>
<circle cx="173" cy="467.8" r="1.75" fill="#000" stroke="none" stroke-width="0.6"/>
<text x="180.3" y="470.3" font-size="8" text-anchor="start" fill="#000" stroke="#000">Endo/Control</text>
<line x1="231.4" y1="467.5" x2="241.4" y2="467.5" stroke="#ec1f26" stroke-width="0.8"/>
<circle cx="236.4" cy="467.8" r="1.75" fill="#ec1f26" stroke="none" stroke-width="0.6"/>
<text x="243.7" y="470.3" font-size="8" text-anchor="start" fill="#000" stroke="#000">Endo/<tspan font-style="italic">Plp</tspan>-AAV-<tspan font-style="italic">IL-1β</tspan></text>
<line x1="26.5" y1="476.5" x2="26.5" y2="574.8" stroke="#000" stroke-width="0.8"/>
<line x1="24.3" y1="476.5" x2="26.3" y2="476.5" stroke="#000" stroke-width="0.8"/>
<text x="23.5" y="479.24" font-size="7.6" text-anchor="end" fill="#000" stroke="#000">0.8</text>
<line x1="24.3" y1="501.5" x2="26.3" y2="501.5" stroke="#000" stroke-width="0.8"/>
<text x="23.5" y="503.81" font-size="7.6" text-anchor="end" fill="#000" stroke="#000">0.6</text>
<line x1="24.3" y1="525.5" x2="26.3" y2="525.5" stroke="#000" stroke-width="0.8"/>
<text x="23.5" y="528.39" font-size="7.6" text-anchor="end" fill="#000" stroke="#000">0.4</text>
<line x1="24.3" y1="550.5" x2="26.3" y2="550.5" stroke="#000" stroke-width="0.8"/>
<text x="23.5" y="552.96" font-size="7.6" text-anchor="end" fill="#000" stroke="#000">0.2</text>
<line x1="24.3" y1="574.5" x2="26.3" y2="574.5" stroke="#000" stroke-width="0.8"/>
<text x="23.5" y="577.54" font-size="7.6" text-anchor="end" fill="#000" stroke="#000">0.0</text>
<line x1="26.3" y1="574.5" x2="98.8" y2="574.5" stroke="#000" stroke-width="0.8"/>
<line x1="35.5" y1="574.8" x2="35.5" y2="576.8" stroke="#000" stroke-width="0.8"/>
<line x1="49.5" y1="574.8" x2="49.5" y2="576.8" stroke="#000" stroke-width="0.8"/>
<line x1="64.5" y1="574.8" x2="64.5" y2="576.8" stroke="#000" stroke-width="0.8"/>
<line x1="78.5" y1="574.8" x2="78.5" y2="576.8" stroke="#000" stroke-width="0.8"/>
<line x1="93.5" y1="574.8" x2="93.5" y2="576.8" stroke="#000" stroke-width="0.8"/>
<text x="35.3" y="584.6" font-size="7.6" text-anchor="middle" fill="#000" stroke="#000">BL</text>
<text x="49.8" y="584.6" font-size="7.6" text-anchor="middle" fill="#000" stroke="#000">7</text>
<text x="64.3" y="584.6" font-size="7.6" text-anchor="middle" fill="#000" stroke="#000">14</text>
<text x="78.9" y="584.6" font-size="7.6" text-anchor="middle" fill="#000" stroke="#000">21</text>
<text x="93.3" y="584.6" font-size="7.6" text-anchor="middle" fill="#000" stroke="#000">28</text>
<text x="64.3" y="593.2" font-size="8" text-anchor="middle" fill="#000" stroke="#000">Time (d)</text>
<text x="10.1" y="525.65" font-size="8" text-anchor="middle" fill="#000" stroke="#000" transform="rotate(-90 10.1 525.65)">PMA- Threshold (g)</text>
<line x1="35.5" y1="504.76" x2="35.5" y2="509.68" stroke="#c4c4c4" stroke-width="0.75"/>
<line x1="33.6" y1="504.5" x2="37" y2="504.5" stroke="#c4c4c4" stroke-width="0.75"/>
<line x1="33.6" y1="509.5" x2="37" y2="509.5" stroke="#c4c4c4" stroke-width="0.75"/>
<line x1="49.5" y1="507.22" x2="49.5" y2="512.13" stroke="#c4c4c4" stroke-width="0.75"/>
<line x1="48.1" y1="507.5" x2="51.5" y2="507.5" stroke="#c4c4c4" stroke-width="0.75"/>
<line x1="48.1" y1="512.5" x2="51.5" y2="512.5" stroke="#c4c4c4" stroke-width="0.75"/>
<line x1="64.5" y1="509.68" x2="64.5" y2="514.59" stroke="#c4c4c4" stroke-width="0.75"/>
<line x1="62.6" y1="509.5" x2="66" y2="509.5" stroke="#c4c4c4" stroke-width="0.75"/>
<line x1="62.6" y1="514.5" x2="66" y2="514.5" stroke="#c4c4c4" stroke-width="0.75"/>
<line x1="78.5" y1="507.22" x2="78.5" y2="512.13" stroke="#c4c4c4" stroke-width="0.75"/>
<line x1="77.2" y1="507.5" x2="80.6" y2="507.5" stroke="#c4c4c4" stroke-width="0.75"/>
<line x1="77.2" y1="512.5" x2="80.6" y2="512.5" stroke="#c4c4c4" stroke-width="0.75"/>
<line x1="93.5" y1="503.53" x2="93.5" y2="510.9" stroke="#c4c4c4" stroke-width="0.75"/>
<line x1="91.6" y1="503.5" x2="95" y2="503.5" stroke="#c4c4c4" stroke-width="0.75"/>
<line x1="91.6" y1="510.5" x2="95" y2="510.5" stroke="#c4c4c4" stroke-width="0.75"/>
<polyline points="35.3,507.22 49.8,509.68 64.3,512.13 78.9,509.68 93.3,507.22" stroke="#c4c4c4" stroke-width="0.85" fill="none"/>
<circle cx="35.3" cy="507.22" r="1.85" fill="#c4c4c4" stroke="none" stroke-width="0.6"/>
<circle cx="49.8" cy="509.68" r="1.85" fill="#c4c4c4" stroke="none" stroke-width="0.6"/>
<circle cx="64.3" cy="512.13" r="1.85" fill="#c4c4c4" stroke="none" stroke-width="0.6"/>
<circle cx="78.9" cy="509.68" r="1.85" fill="#c4c4c4" stroke="none" stroke-width="0.6"/>
<circle cx="93.3" cy="507.22" r="1.85" fill="#c4c4c4" stroke="none" stroke-width="0.6"/>
<line x1="35.5" y1="504.76" x2="35.5" y2="509.68" stroke="#8c8c8c" stroke-width="0.75"/>
<line x1="33.6" y1="504.5" x2="37" y2="504.5" stroke="#8c8c8c" stroke-width="0.75"/>
<line x1="33.6" y1="509.5" x2="37" y2="509.5" stroke="#8c8c8c" stroke-width="0.75"/>
<line x1="49.5" y1="504.15" x2="49.5" y2="509.06" stroke="#8c8c8c" stroke-width="0.75"/>
<line x1="48.1" y1="504.5" x2="51.5" y2="504.5" stroke="#8c8c8c" stroke-width="0.75"/>
<line x1="48.1" y1="509.5" x2="51.5" y2="509.5" stroke="#8c8c8c" stroke-width="0.75"/>
<line x1="64.5" y1="505.38" x2="64.5" y2="510.29" stroke="#8c8c8c" stroke-width="0.75"/>
<line x1="62.6" y1="505.5" x2="66" y2="505.5" stroke="#8c8c8c" stroke-width="0.75"/>
<line x1="62.6" y1="510.5" x2="66" y2="510.5" stroke="#8c8c8c" stroke-width="0.75"/>
<line x1="78.5" y1="507.22" x2="78.5" y2="512.13" stroke="#8c8c8c" stroke-width="0.75"/>
<line x1="77.2" y1="507.5" x2="80.6" y2="507.5" stroke="#8c8c8c" stroke-width="0.75"/>
<line x1="77.2" y1="512.5" x2="80.6" y2="512.5" stroke="#8c8c8c" stroke-width="0.75"/>
<line x1="93.5" y1="507.83" x2="93.5" y2="512.75" stroke="#8c8c8c" stroke-width="0.75"/>
<line x1="91.6" y1="507.5" x2="95" y2="507.5" stroke="#8c8c8c" stroke-width="0.75"/>
<line x1="91.6" y1="512.5" x2="95" y2="512.5" stroke="#8c8c8c" stroke-width="0.75"/>
<polyline points="35.3,507.22 49.8,506.6 64.3,507.83 78.9,509.68 93.3,510.29" stroke="#8c8c8c" stroke-width="0.85" fill="none"/>
<circle cx="35.3" cy="507.22" r="1.85" fill="#8c8c8c" stroke="none" stroke-width="0.6"/>
<circle cx="49.8" cy="506.6" r="1.85" fill="#8c8c8c" stroke="none" stroke-width="0.6"/>
<circle cx="64.3" cy="507.83" r="1.85" fill="#8c8c8c" stroke="none" stroke-width="0.6"/>
<circle cx="78.9" cy="509.68" r="1.85" fill="#8c8c8c" stroke="none" stroke-width="0.6"/>
<circle cx="93.3" cy="510.29" r="1.85" fill="#8c8c8c" stroke="none" stroke-width="0.6"/>
<line x1="35.5" y1="503.53" x2="35.5" y2="510.9" stroke="#ec1f26" stroke-width="0.75"/>
<line x1="33.6" y1="503.5" x2="37" y2="503.5" stroke="#ec1f26" stroke-width="0.75"/>
<line x1="33.6" y1="510.5" x2="37" y2="510.5" stroke="#ec1f26" stroke-width="0.75"/>
<line x1="49.5" y1="521.96" x2="49.5" y2="531.79" stroke="#ec1f26" stroke-width="0.75"/>
<line x1="48.1" y1="521.5" x2="51.5" y2="521.5" stroke="#ec1f26" stroke-width="0.75"/>
<line x1="48.1" y1="531.5" x2="51.5" y2="531.5" stroke="#ec1f26" stroke-width="0.75"/>
<line x1="64.5" y1="517.66" x2="64.5" y2="525.04" stroke="#ec1f26" stroke-width="0.75"/>
<line x1="62.6" y1="517.5" x2="66" y2="517.5" stroke="#ec1f26" stroke-width="0.75"/>
<line x1="62.6" y1="525.5" x2="66" y2="525.5" stroke="#ec1f26" stroke-width="0.75"/>
<line x1="78.5" y1="516.43" x2="78.5" y2="528.72" stroke="#ec1f26" stroke-width="0.75"/>
<line x1="77.2" y1="516.5" x2="80.6" y2="516.5" stroke="#ec1f26" stroke-width="0.75"/>
<line x1="77.2" y1="528.5" x2="80.6" y2="528.5" stroke="#ec1f26" stroke-width="0.75"/>
<line x1="93.5" y1="518.28" x2="93.5" y2="528.11" stroke="#ec1f26" stroke-width="0.75"/>
<line x1="91.6" y1="518.5" x2="95" y2="518.5" stroke="#ec1f26" stroke-width="0.75"/>
<line x1="91.6" y1="528.5" x2="95" y2="528.5" stroke="#ec1f26" stroke-width="0.75"/>
<polyline points="35.3,507.22 49.8,526.88 64.3,521.35 78.9,522.58 93.3,523.19" stroke="#ec1f26" stroke-width="0.85" fill="none"/>
<circle cx="35.3" cy="507.22" r="1.85" fill="#ec1f26" stroke="none" stroke-width="0.6"/>
<circle cx="49.8" cy="526.88" r="1.85" fill="#ec1f26" stroke="none" stroke-width="0.6"/>
<circle cx="64.3" cy="521.35" r="1.85" fill="#ec1f26" stroke="none" stroke-width="0.6"/>
<circle cx="78.9" cy="522.58" r="1.85" fill="#ec1f26" stroke="none" stroke-width="0.6"/>
<circle cx="93.3" cy="523.19" r="1.85" fill="#ec1f26" stroke="none" stroke-width="0.6"/>
<line x1="35.5" y1="499.85" x2="35.5" y2="504.76" stroke="#000" stroke-width="0.75"/>
<line x1="33.6" y1="499.5" x2="37" y2="499.5" stroke="#000" stroke-width="0.75"/>
<line x1="33.6" y1="504.5" x2="37" y2="504.5" stroke="#000" stroke-width="0.75"/>
<line x1="49.5" y1="549" x2="49.5" y2="558.83" stroke="#000" stroke-width="0.75"/>
<line x1="48.1" y1="548.5" x2="51.5" y2="548.5" stroke="#000" stroke-width="0.75"/>
<line x1="48.1" y1="558.5" x2="51.5" y2="558.5" stroke="#000" stroke-width="0.75"/>
<line x1="64.5" y1="555.14" x2="64.5" y2="562.51" stroke="#000" stroke-width="0.75"/>
<line x1="62.6" y1="555.5" x2="66" y2="555.5" stroke="#000" stroke-width="0.75"/>
<line x1="62.6" y1="562.5" x2="66" y2="562.5" stroke="#000" stroke-width="0.75"/>
<line x1="78.5" y1="560.67" x2="78.5" y2="568.04" stroke="#000" stroke-width="0.75"/>
<line x1="77.2" y1="560.5" x2="80.6" y2="560.5" stroke="#000" stroke-width="0.75"/>
<line x1="77.2" y1="568.5" x2="80.6" y2="568.5" stroke="#000" stroke-width="0.75"/>
<line x1="93.5" y1="557.6" x2="93.5" y2="564.97" stroke="#000" stroke-width="0.75"/>
<line x1="91.6" y1="557.5" x2="95" y2="557.5" stroke="#000" stroke-width="0.75"/>
<line x1="91.6" y1="564.5" x2="95" y2="564.5" stroke="#000" stroke-width="0.75"/>
<polyline points="35.3,502.3 49.8,553.91 64.3,558.83 78.9,564.36 93.3,561.28" stroke="#000" stroke-width="0.85" fill="none"/>
<circle cx="35.3" cy="502.3" r="1.85" fill="#000" stroke="none" stroke-width="0.6"/>
<circle cx="49.8" cy="553.91" r="1.85" fill="#000" stroke="none" stroke-width="0.6"/>
<circle cx="64.3" cy="558.83" r="1.85" fill="#000" stroke="none" stroke-width="0.6"/>
<circle cx="78.9" cy="564.36" r="1.85" fill="#000" stroke="none" stroke-width="0.6"/>
<circle cx="93.3" cy="561.28" r="1.85" fill="#000" stroke="none" stroke-width="0.6"/>
<text x="49.8" y="566.4" font-size="7.4" text-anchor="middle" fill="#000" stroke="#000">****</text>
<text x="64.3" y="570.09" font-size="7.4" text-anchor="middle" fill="#000" stroke="#000">****</text>
<text x="78.9" y="575.62" font-size="7.4" text-anchor="middle" fill="#000" stroke="#000">****</text>
<text x="93.3" y="572.54" font-size="7.4" text-anchor="middle" fill="#000" stroke="#000">****</text>
<text x="49.8" y="537.65" font-size="6" text-anchor="middle" fill="#333" stroke="#333" font-style="italic">####</text>
<text x="64.3" y="530.89" font-size="6" text-anchor="middle" fill="#333" stroke="#333" font-style="italic">####</text>
<text x="78.9" y="534.57" font-size="6" text-anchor="middle" fill="#333" stroke="#333" font-style="italic">####</text>
<text x="93.3" y="533.96" font-size="6" text-anchor="middle" fill="#333" stroke="#333" font-style="italic">####</text>
<line x1="123.5" y1="476.5" x2="123.5" y2="574.8" stroke="#000" stroke-width="0.8"/>
<line x1="121.8" y1="476.5" x2="123.8" y2="476.5" stroke="#000" stroke-width="0.8"/>
<text x="121" y="479.24" font-size="7.6" text-anchor="end" fill="#000" stroke="#000">2.0</text>
<line x1="121.8" y1="501.5" x2="123.8" y2="501.5" stroke="#000" stroke-width="0.8"/>
<text x="121" y="503.81" font-size="7.6" text-anchor="end" fill="#000" stroke="#000">1.5</text>
<line x1="121.8" y1="525.5" x2="123.8" y2="525.5" stroke="#000" stroke-width="0.8"/>
<text x="121" y="528.39" font-size="7.6" text-anchor="end" fill="#000" stroke="#000">1.0</text>
<line x1="121.8" y1="550.5" x2="123.8" y2="550.5" stroke="#000" stroke-width="0.8"/>
<text x="121" y="552.96" font-size="7.6" text-anchor="end" fill="#000" stroke="#000">0.5</text>
<line x1="121.8" y1="574.5" x2="123.8" y2="574.5" stroke="#000" stroke-width="0.8"/>
<text x="121" y="577.54" font-size="7.6" text-anchor="end" fill="#000" stroke="#000">0.0</text>
<line x1="123.8" y1="574.5" x2="196" y2="574.5" stroke="#000" stroke-width="0.8"/>
<line x1="132.5" y1="574.8" x2="132.5" y2="576.8" stroke="#000" stroke-width="0.8"/>
<line x1="146.5" y1="574.8" x2="146.5" y2="576.8" stroke="#000" stroke-width="0.8"/>
<line x1="161.5" y1="574.8" x2="161.5" y2="576.8" stroke="#000" stroke-width="0.8"/>
<line x1="175.5" y1="574.8" x2="175.5" y2="576.8" stroke="#000" stroke-width="0.8"/>
<line x1="190.5" y1="574.8" x2="190.5" y2="576.8" stroke="#000" stroke-width="0.8"/>
<text x="132" y="584.6" font-size="7.6" text-anchor="middle" fill="#000" stroke="#000">BL</text>
<text x="146.6" y="584.6" font-size="7.6" text-anchor="middle" fill="#000" stroke="#000">7</text>
<text x="161.1" y="584.6" font-size="7.6" text-anchor="middle" fill="#000" stroke="#000">14</text>
<text x="175.8" y="584.6" font-size="7.6" text-anchor="middle" fill="#000" stroke="#000">21</text>
<text x="190.5" y="584.6" font-size="7.6" text-anchor="middle" fill="#000" stroke="#000">28</text>
<text x="161.25" y="593.2" font-size="8" text-anchor="middle" fill="#000" stroke="#000">Time (d)</text>
<text x="107.6" y="525.65" font-size="8" text-anchor="middle" fill="#000" stroke="#000" transform="rotate(-90 107.6 525.65)">HMA-Threshold (g)</text>
<line x1="132.5" y1="499.11" x2="132.5" y2="503.04" stroke="#c4c4c4" stroke-width="0.75"/>
<line x1="130.3" y1="499.5" x2="133.7" y2="499.5" stroke="#c4c4c4" stroke-width="0.75"/>
<line x1="130.3" y1="503.5" x2="133.7" y2="503.5" stroke="#c4c4c4" stroke-width="0.75"/>
<line x1="146.5" y1="501.57" x2="146.5" y2="505.5" stroke="#c4c4c4" stroke-width="0.75"/>
<line x1="144.9" y1="501.5" x2="148.3" y2="501.5" stroke="#c4c4c4" stroke-width="0.75"/>
<line x1="144.9" y1="505.5" x2="148.3" y2="505.5" stroke="#c4c4c4" stroke-width="0.75"/>
<line x1="161.5" y1="501.57" x2="161.5" y2="505.5" stroke="#c4c4c4" stroke-width="0.75"/>
<line x1="159.4" y1="501.5" x2="162.8" y2="501.5" stroke="#c4c4c4" stroke-width="0.75"/>
<line x1="159.4" y1="505.5" x2="162.8" y2="505.5" stroke="#c4c4c4" stroke-width="0.75"/>
<line x1="175.5" y1="500.58" x2="175.5" y2="504.52" stroke="#c4c4c4" stroke-width="0.75"/>
<line x1="174.1" y1="500.5" x2="177.5" y2="500.5" stroke="#c4c4c4" stroke-width="0.75"/>
<line x1="174.1" y1="504.5" x2="177.5" y2="504.5" stroke="#c4c4c4" stroke-width="0.75"/>
<line x1="190.5" y1="500.09" x2="190.5" y2="504.02" stroke="#c4c4c4" stroke-width="0.75"/>
<line x1="188.8" y1="500.5" x2="192.2" y2="500.5" stroke="#c4c4c4" stroke-width="0.75"/>
<line x1="188.8" y1="504.5" x2="192.2" y2="504.5" stroke="#c4c4c4" stroke-width="0.75"/>
<polyline points="132,501.07 146.6,503.53 161.1,503.53 175.8,502.55 190.5,502.06" stroke="#c4c4c4" stroke-width="0.85" fill="none"/>
<circle cx="132" cy="501.07" r="1.85" fill="#c4c4c4" stroke="none" stroke-width="0.6"/>
<circle cx="146.6" cy="503.53" r="1.85" fill="#c4c4c4" stroke="none" stroke-width="0.6"/>
<circle cx="161.1" cy="503.53" r="1.85" fill="#c4c4c4" stroke="none" stroke-width="0.6"/>
<circle cx="175.8" cy="502.55" r="1.85" fill="#c4c4c4" stroke="none" stroke-width="0.6"/>
<circle cx="190.5" cy="502.06" r="1.85" fill="#c4c4c4" stroke="none" stroke-width="0.6"/>
<line x1="132.5" y1="497.63" x2="132.5" y2="501.57" stroke="#8c8c8c" stroke-width="0.75"/>
<line x1="130.3" y1="497.5" x2="133.7" y2="497.5" stroke="#8c8c8c" stroke-width="0.75"/>
<line x1="130.3" y1="501.5" x2="133.7" y2="501.5" stroke="#8c8c8c" stroke-width="0.75"/>
<line x1="146.5" y1="500.09" x2="146.5" y2="505.01" stroke="#8c8c8c" stroke-width="0.75"/>
<line x1="144.9" y1="500.5" x2="148.3" y2="500.5" stroke="#8c8c8c" stroke-width="0.75"/>
<line x1="144.9" y1="505.5" x2="148.3" y2="505.5" stroke="#8c8c8c" stroke-width="0.75"/>
<line x1="161.5" y1="502.06" x2="161.5" y2="506.97" stroke="#8c8c8c" stroke-width="0.75"/>
<line x1="159.4" y1="502.5" x2="162.8" y2="502.5" stroke="#8c8c8c" stroke-width="0.75"/>
<line x1="159.4" y1="506.5" x2="162.8" y2="506.5" stroke="#8c8c8c" stroke-width="0.75"/>
<line x1="175.5" y1="500.58" x2="175.5" y2="504.52" stroke="#8c8c8c" stroke-width="0.75"/>
<line x1="174.1" y1="500.5" x2="177.5" y2="500.5" stroke="#8c8c8c" stroke-width="0.75"/>
<line x1="174.1" y1="504.5" x2="177.5" y2="504.5" stroke="#8c8c8c" stroke-width="0.75"/>
<line x1="190.5" y1="500.09" x2="190.5" y2="504.02" stroke="#8c8c8c" stroke-width="0.75"/>
<line x1="188.8" y1="500.5" x2="192.2" y2="500.5" stroke="#8c8c8c" stroke-width="0.75"/>
<line x1="188.8" y1="504.5" x2="192.2" y2="504.5" stroke="#8c8c8c" stroke-width="0.75"/>
<polyline points="132,499.6 146.6,502.55 161.1,504.52 175.8,502.55 190.5,502.06" stroke="#8c8c8c" stroke-width="0.85" fill="none"/>
<circle cx="132" cy="499.6" r="1.85" fill="#8c8c8c" stroke="none" stroke-width="0.6"/>
<circle cx="146.6" cy="502.55" r="1.85" fill="#8c8c8c" stroke="none" stroke-width="0.6"/>
<circle cx="161.1" cy="504.52" r="1.85" fill="#8c8c8c" stroke="none" stroke-width="0.6"/>
<circle cx="175.8" cy="502.55" r="1.85" fill="#8c8c8c" stroke="none" stroke-width="0.6"/>
<circle cx="190.5" cy="502.06" r="1.85" fill="#8c8c8c" stroke="none" stroke-width="0.6"/>
<line x1="132.5" y1="498.62" x2="132.5" y2="503.53" stroke="#ec1f26" stroke-width="0.75"/>
<line x1="130.3" y1="498.5" x2="133.7" y2="498.5" stroke="#ec1f26" stroke-width="0.75"/>
<line x1="130.3" y1="503.5" x2="133.7" y2="503.5" stroke="#ec1f26" stroke-width="0.75"/>
<line x1="146.5" y1="509.43" x2="146.5" y2="525.16" stroke="#ec1f26" stroke-width="0.75"/>
<line x1="144.9" y1="509.5" x2="148.3" y2="509.5" stroke="#ec1f26" stroke-width="0.75"/>
<line x1="144.9" y1="525.5" x2="148.3" y2="525.5" stroke="#ec1f26" stroke-width="0.75"/>
<line x1="161.5" y1="513.36" x2="161.5" y2="520.24" stroke="#ec1f26" stroke-width="0.75"/>
<line x1="159.4" y1="513.5" x2="162.8" y2="513.5" stroke="#ec1f26" stroke-width="0.75"/>
<line x1="159.4" y1="520.5" x2="162.8" y2="520.5" stroke="#ec1f26" stroke-width="0.75"/>
<line x1="175.5" y1="514.84" x2="175.5" y2="521.72" stroke="#ec1f26" stroke-width="0.75"/>
<line x1="174.1" y1="514.5" x2="177.5" y2="514.5" stroke="#ec1f26" stroke-width="0.75"/>
<line x1="174.1" y1="521.5" x2="177.5" y2="521.5" stroke="#ec1f26" stroke-width="0.75"/>
<line x1="190.5" y1="509.43" x2="190.5" y2="519.26" stroke="#ec1f26" stroke-width="0.75"/>
<line x1="188.8" y1="509.5" x2="192.2" y2="509.5" stroke="#ec1f26" stroke-width="0.75"/>
<line x1="188.8" y1="519.5" x2="192.2" y2="519.5" stroke="#ec1f26" stroke-width="0.75"/>
<polyline points="132,501.07 146.6,517.29 161.1,516.8 175.8,518.28 190.5,514.35" stroke="#ec1f26" stroke-width="0.85" fill="none"/>
<circle cx="132" cy="501.07" r="1.85" fill="#ec1f26" stroke="none" stroke-width="0.6"/>
<circle cx="146.6" cy="517.29" r="1.85" fill="#ec1f26" stroke="none" stroke-width="0.6"/>
<circle cx="161.1" cy="516.8" r="1.85" fill="#ec1f26" stroke="none" stroke-width="0.6"/>
<circle cx="175.8" cy="518.28" r="1.85" fill="#ec1f26" stroke="none" stroke-width="0.6"/>
<circle cx="190.5" cy="514.35" r="1.85" fill="#ec1f26" stroke="none" stroke-width="0.6"/>
<line x1="132.5" y1="498.13" x2="132.5" y2="502.06" stroke="#000" stroke-width="0.75"/>
<line x1="130.3" y1="498.5" x2="133.7" y2="498.5" stroke="#000" stroke-width="0.75"/>
<line x1="130.3" y1="502.5" x2="133.7" y2="502.5" stroke="#000" stroke-width="0.75"/>
<line x1="146.5" y1="535.48" x2="146.5" y2="540.39" stroke="#000" stroke-width="0.75"/>
<line x1="144.9" y1="535.5" x2="148.3" y2="535.5" stroke="#000" stroke-width="0.75"/>
<line x1="144.9" y1="540.5" x2="148.3" y2="540.5" stroke="#000" stroke-width="0.75"/>
<line x1="161.5" y1="541.38" x2="161.5" y2="544.33" stroke="#000" stroke-width="0.75"/>
<line x1="159.4" y1="541.5" x2="162.8" y2="541.5" stroke="#000" stroke-width="0.75"/>
<line x1="159.4" y1="544.5" x2="162.8" y2="544.5" stroke="#000" stroke-width="0.75"/>
<line x1="175.5" y1="548.26" x2="175.5" y2="552.19" stroke="#000" stroke-width="0.75"/>
<line x1="174.1" y1="548.5" x2="177.5" y2="548.5" stroke="#000" stroke-width="0.75"/>
<line x1="174.1" y1="552.5" x2="177.5" y2="552.5" stroke="#000" stroke-width="0.75"/>
<line x1="190.5" y1="550.72" x2="190.5" y2="554.65" stroke="#000" stroke-width="0.75"/>
<line x1="188.8" y1="550.5" x2="192.2" y2="550.5" stroke="#000" stroke-width="0.75"/>
<line x1="188.8" y1="554.5" x2="192.2" y2="554.5" stroke="#000" stroke-width="0.75"/>
<polyline points="132,500.09 146.6,537.94 161.1,542.85 175.8,550.22 190.5,552.68" stroke="#000" stroke-width="0.85" fill="none"/>
<circle cx="132" cy="500.09" r="1.85" fill="#000" stroke="none" stroke-width="0.6"/>
<circle cx="146.6" cy="537.94" r="1.85" fill="#000" stroke="none" stroke-width="0.6"/>
<circle cx="161.1" cy="542.85" r="1.85" fill="#000" stroke="none" stroke-width="0.6"/>
<circle cx="175.8" cy="550.22" r="1.85" fill="#000" stroke="none" stroke-width="0.6"/>
<circle cx="190.5" cy="552.68" r="1.85" fill="#000" stroke="none" stroke-width="0.6"/>
<text x="146.6" y="547.97" font-size="7.4" text-anchor="middle" fill="#000" stroke="#000">****</text>
<text x="161.1" y="551.9" font-size="7.4" text-anchor="middle" fill="#000" stroke="#000">****</text>
<text x="175.8" y="559.76" font-size="7.4" text-anchor="middle" fill="#000" stroke="#000">****</text>
<text x="190.5" y="562.22" font-size="7.4" text-anchor="middle" fill="#000" stroke="#000">****</text>
<text x="146.6" y="531.01" font-size="6" text-anchor="middle" fill="#333" stroke="#333" font-style="italic">####</text>
<text x="161.1" y="526.1" font-size="6" text-anchor="middle" fill="#333" stroke="#333" font-style="italic">####</text>
<text x="175.8" y="527.57" font-size="6" text-anchor="middle" fill="#333" stroke="#333" font-style="italic">####</text>
<text x="190.5" y="525.11" font-size="6" text-anchor="middle" fill="#333" stroke="#333" font-style="italic">####</text>
<line x1="218.5" y1="476.4" x2="218.5" y2="574.9" stroke="#000" stroke-width="0.8"/>
<line x1="216.2" y1="476.5" x2="218.2" y2="476.5" stroke="#000" stroke-width="0.8"/>
<text x="215.4" y="479.14" font-size="7.6" text-anchor="end" fill="#000" stroke="#000">10</text>
<line x1="216.2" y1="496.5" x2="218.2" y2="496.5" stroke="#000" stroke-width="0.8"/>
<text x="215.4" y="498.84" font-size="7.6" text-anchor="end" fill="#000" stroke="#000">8</text>
<line x1="216.2" y1="515.5" x2="218.2" y2="515.5" stroke="#000" stroke-width="0.8"/>
<text x="215.4" y="518.54" font-size="7.6" text-anchor="end" fill="#000" stroke="#000">6</text>
<line x1="216.2" y1="535.5" x2="218.2" y2="535.5" stroke="#000" stroke-width="0.8"/>
<text x="215.4" y="538.24" font-size="7.6" text-anchor="end" fill="#000" stroke="#000">4</text>
<line x1="216.2" y1="555.5" x2="218.2" y2="555.5" stroke="#000" stroke-width="0.8"/>
<text x="215.4" y="557.94" font-size="7.6" text-anchor="end" fill="#000" stroke="#000">2</text>
<line x1="216.2" y1="574.5" x2="218.2" y2="574.5" stroke="#000" stroke-width="0.8"/>
<text x="215.4" y="577.64" font-size="7.6" text-anchor="end" fill="#000" stroke="#000">0</text>
<line x1="218.2" y1="574.5" x2="292.2" y2="574.5" stroke="#000" stroke-width="0.8"/>
<line x1="228.5" y1="574.9" x2="228.5" y2="576.9" stroke="#000" stroke-width="0.8"/>
<line x1="246.5" y1="574.9" x2="246.5" y2="576.9" stroke="#000" stroke-width="0.8"/>
<line x1="264.5" y1="574.9" x2="264.5" y2="576.9" stroke="#000" stroke-width="0.8"/>
<line x1="283.5" y1="574.9" x2="283.5" y2="576.9" stroke="#000" stroke-width="0.8"/>
<text x="228" y="585" font-size="7.6" text-anchor="middle" fill="#000" stroke="#000">0.008</text>
<text x="246.4" y="585" font-size="7.6" text-anchor="middle" fill="#000" stroke="#000">0.04</text>
<text x="264.8" y="585" font-size="7.6" text-anchor="middle" fill="#000" stroke="#000">0.16</text>
<text x="283.2" y="585" font-size="7.6" text-anchor="middle" fill="#000" stroke="#000">0.4</text>
<text x="255.7" y="594.4" font-size="8" text-anchor="middle" fill="#000" stroke="#000">von Frey hair forces (g)</text>
<text x="207.4" y="525.65" font-size="8" text-anchor="middle" fill="#000" stroke="#000" transform="rotate(-90 207.4 525.65)">AMA-Withdrawal response (n)</text>
<text x="220.7" y="479.2" font-size="8" text-anchor="start" fill="#000" stroke="#000">Day 0</text>
<line x1="228.5" y1="556.18" x2="228.5" y2="564.06" stroke="#c4c4c4" stroke-width="0.75"/>
<line x1="226.3" y1="556.5" x2="229.7" y2="556.5" stroke="#c4c4c4" stroke-width="0.75"/>
<line x1="226.3" y1="564.5" x2="229.7" y2="564.5" stroke="#c4c4c4" stroke-width="0.75"/>
<line x1="246.5" y1="535.5" x2="246.5" y2="543.38" stroke="#c4c4c4" stroke-width="0.75"/>
<line x1="244.7" y1="535.5" x2="248.1" y2="535.5" stroke="#c4c4c4" stroke-width="0.75"/>
<line x1="244.7" y1="543.5" x2="248.1" y2="543.5" stroke="#c4c4c4" stroke-width="0.75"/>
<line x1="264.5" y1="515.8" x2="264.5" y2="523.68" stroke="#c4c4c4" stroke-width="0.75"/>
<line x1="263.1" y1="515.5" x2="266.5" y2="515.5" stroke="#c4c4c4" stroke-width="0.75"/>
<line x1="263.1" y1="523.5" x2="266.5" y2="523.5" stroke="#c4c4c4" stroke-width="0.75"/>
<line x1="283.5" y1="503.98" x2="283.5" y2="509.89" stroke="#c4c4c4" stroke-width="0.75"/>
<line x1="281.5" y1="503.5" x2="284.9" y2="503.5" stroke="#c4c4c4" stroke-width="0.75"/>
<line x1="281.5" y1="509.5" x2="284.9" y2="509.5" stroke="#c4c4c4" stroke-width="0.75"/>
<polyline points="228,560.12 246.4,539.44 264.8,519.74 283.2,506.93" stroke="#c4c4c4" stroke-width="0.85" fill="none"/>
<circle cx="228" cy="560.12" r="1.85" fill="#c4c4c4" stroke="none" stroke-width="0.6"/>
<circle cx="246.4" cy="539.44" r="1.85" fill="#c4c4c4" stroke="none" stroke-width="0.6"/>
<circle cx="264.8" cy="519.74" r="1.85" fill="#c4c4c4" stroke="none" stroke-width="0.6"/>
<circle cx="283.2" cy="506.93" r="1.85" fill="#c4c4c4" stroke="none" stroke-width="0.6"/>
<line x1="228.5" y1="553.23" x2="228.5" y2="561.11" stroke="#8c8c8c" stroke-width="0.75"/>
<line x1="226.3" y1="553.5" x2="229.7" y2="553.5" stroke="#8c8c8c" stroke-width="0.75"/>
<line x1="226.3" y1="561.5" x2="229.7" y2="561.5" stroke="#8c8c8c" stroke-width="0.75"/>
<line x1="246.5" y1="542.39" x2="246.5" y2="550.27" stroke="#8c8c8c" stroke-width="0.75"/>
<line x1="244.7" y1="542.5" x2="248.1" y2="542.5" stroke="#8c8c8c" stroke-width="0.75"/>
<line x1="244.7" y1="550.5" x2="248.1" y2="550.5" stroke="#8c8c8c" stroke-width="0.75"/>
<line x1="264.5" y1="514.81" x2="264.5" y2="522.69" stroke="#8c8c8c" stroke-width="0.75"/>
<line x1="263.1" y1="514.5" x2="266.5" y2="514.5" stroke="#8c8c8c" stroke-width="0.75"/>
<line x1="263.1" y1="522.5" x2="266.5" y2="522.5" stroke="#8c8c8c" stroke-width="0.75"/>
<line x1="283.5" y1="506.93" x2="283.5" y2="512.85" stroke="#8c8c8c" stroke-width="0.75"/>
<line x1="281.5" y1="506.5" x2="284.9" y2="506.5" stroke="#8c8c8c" stroke-width="0.75"/>
<line x1="281.5" y1="512.5" x2="284.9" y2="512.5" stroke="#8c8c8c" stroke-width="0.75"/>
<polyline points="228,557.17 246.4,546.34 264.8,518.75 283.2,509.89" stroke="#8c8c8c" stroke-width="0.85" fill="none"/>
<circle cx="228" cy="557.17" r="1.85" fill="#8c8c8c" stroke="none" stroke-width="0.6"/>
<circle cx="246.4" cy="546.34" r="1.85" fill="#8c8c8c" stroke="none" stroke-width="0.6"/>
<circle cx="264.8" cy="518.75" r="1.85" fill="#8c8c8c" stroke="none" stroke-width="0.6"/>
<circle cx="283.2" cy="509.89" r="1.85" fill="#8c8c8c" stroke="none" stroke-width="0.6"/>
<line x1="228.5" y1="550.27" x2="228.5" y2="556.18" stroke="#ec1f26" stroke-width="0.75"/>
<line x1="226.3" y1="550.5" x2="229.7" y2="550.5" stroke="#ec1f26" stroke-width="0.75"/>
<line x1="226.3" y1="556.5" x2="229.7" y2="556.5" stroke="#ec1f26" stroke-width="0.75"/>
<line x1="246.5" y1="532.54" x2="246.5" y2="540.42" stroke="#ec1f26" stroke-width="0.75"/>
<line x1="244.7" y1="532.5" x2="248.1" y2="532.5" stroke="#ec1f26" stroke-width="0.75"/>
<line x1="244.7" y1="540.5" x2="248.1" y2="540.5" stroke="#ec1f26" stroke-width="0.75"/>
<line x1="264.5" y1="514.81" x2="264.5" y2="522.69" stroke="#ec1f26" stroke-width="0.75"/>
<line x1="263.1" y1="514.5" x2="266.5" y2="514.5" stroke="#ec1f26" stroke-width="0.75"/>
<line x1="263.1" y1="522.5" x2="266.5" y2="522.5" stroke="#ec1f26" stroke-width="0.75"/>
<line x1="283.5" y1="507.92" x2="283.5" y2="513.83" stroke="#ec1f26" stroke-width="0.75"/>
<line x1="281.5" y1="507.5" x2="284.9" y2="507.5" stroke="#ec1f26" stroke-width="0.75"/>
<line x1="281.5" y1="513.5" x2="284.9" y2="513.5" stroke="#ec1f26" stroke-width="0.75"/>
<polyline points="228,553.23 246.4,536.49 264.8,518.75 283.2,510.88" stroke="#ec1f26" stroke-width="0.85" fill="none"/>
<circle cx="228" cy="553.23" r="1.85" fill="#ec1f26" stroke="none" stroke-width="0.6"/>
<circle cx="246.4" cy="536.49" r="1.85" fill="#ec1f26" stroke="none" stroke-width="0.6"/>
<circle cx="264.8" cy="518.75" r="1.85" fill="#ec1f26" stroke="none" stroke-width="0.6"/>
<circle cx="283.2" cy="510.88" r="1.85" fill="#ec1f26" stroke="none" stroke-width="0.6"/>
<line x1="228.5" y1="547.32" x2="228.5" y2="555.2" stroke="#000" stroke-width="0.75"/>
<line x1="226.3" y1="547.5" x2="229.7" y2="547.5" stroke="#000" stroke-width="0.75"/>
<line x1="226.3" y1="555.5" x2="229.7" y2="555.5" stroke="#000" stroke-width="0.75"/>
<line x1="246.5" y1="530.08" x2="246.5" y2="535.99" stroke="#000" stroke-width="0.75"/>
<line x1="244.7" y1="530.5" x2="248.1" y2="530.5" stroke="#000" stroke-width="0.75"/>
<line x1="244.7" y1="535.5" x2="248.1" y2="535.5" stroke="#000" stroke-width="0.75"/>
<line x1="264.5" y1="517.77" x2="264.5" y2="527.62" stroke="#000" stroke-width="0.75"/>
<line x1="263.1" y1="517.5" x2="266.5" y2="517.5" stroke="#000" stroke-width="0.75"/>
<line x1="263.1" y1="527.5" x2="266.5" y2="527.5" stroke="#000" stroke-width="0.75"/>
<line x1="283.5" y1="507.92" x2="283.5" y2="513.83" stroke="#000" stroke-width="0.75"/>
<line x1="281.5" y1="507.5" x2="284.9" y2="507.5" stroke="#000" stroke-width="0.75"/>
<line x1="281.5" y1="513.5" x2="284.9" y2="513.5" stroke="#000" stroke-width="0.75"/>
<polyline points="228,551.26 246.4,533.04 264.8,522.69 283.2,510.88" stroke="#000" stroke-width="0.85" fill="none"/>
<circle cx="228" cy="551.26" r="1.85" fill="#000" stroke="none" stroke-width="0.6"/>
<circle cx="246.4" cy="533.04" r="1.85" fill="#000" stroke="none" stroke-width="0.6"/>
<circle cx="264.8" cy="522.69" r="1.85" fill="#000" stroke="none" stroke-width="0.6"/>
<circle cx="283.2" cy="510.88" r="1.85" fill="#000" stroke="none" stroke-width="0.6"/>
<line x1="315.5" y1="476.4" x2="315.5" y2="574.9" stroke="#000" stroke-width="0.8"/>
<line x1="313.4" y1="476.5" x2="315.4" y2="476.5" stroke="#000" stroke-width="0.8"/>
<text x="312.6" y="479.14" font-size="7.6" text-anchor="end" fill="#000" stroke="#000">10</text>
<line x1="313.4" y1="496.5" x2="315.4" y2="496.5" stroke="#000" stroke-width="0.8"/>
<text x="312.6" y="498.84" font-size="7.6" text-anchor="end" fill="#000" stroke="#000">8</text>
<line x1="313.4" y1="515.5" x2="315.4" y2="515.5" stroke="#000" stroke-width="0.8"/>
<text x="312.6" y="518.54" font-size="7.6" text-anchor="end" fill="#000" stroke="#000">6</text>
<line x1="313.4" y1="535.5" x2="315.4" y2="535.5" stroke="#000" stroke-width="0.8"/>
<text x="312.6" y="538.24" font-size="7.6" text-anchor="end" fill="#000" stroke="#000">4</text>
<line x1="313.4" y1="555.5" x2="315.4" y2="555.5" stroke="#000" stroke-width="0.8"/>
<text x="312.6" y="557.94" font-size="7.6" text-anchor="end" fill="#000" stroke="#000">2</text>
<line x1="313.4" y1="574.5" x2="315.4" y2="574.5" stroke="#000" stroke-width="0.8"/>
<text x="312.6" y="577.64" font-size="7.6" text-anchor="end" fill="#000" stroke="#000">0</text>
<line x1="315.4" y1="574.5" x2="389.4" y2="574.5" stroke="#000" stroke-width="0.8"/>
<line x1="325.5" y1="574.9" x2="325.5" y2="576.9" stroke="#000" stroke-width="0.8"/>
<line x1="343.5" y1="574.9" x2="343.5" y2="576.9" stroke="#000" stroke-width="0.8"/>
<line x1="362.5" y1="574.9" x2="362.5" y2="576.9" stroke="#000" stroke-width="0.8"/>
<line x1="380.5" y1="574.9" x2="380.5" y2="576.9" stroke="#000" stroke-width="0.8"/>
<text x="325.2" y="585" font-size="7.6" text-anchor="middle" fill="#000" stroke="#000">0.008</text>
<text x="343.6" y="585" font-size="7.6" text-anchor="middle" fill="#000" stroke="#000">0.04</text>
<text x="362" y="585" font-size="7.6" text-anchor="middle" fill="#000" stroke="#000">0.16</text>
<text x="380.4" y="585" font-size="7.6" text-anchor="middle" fill="#000" stroke="#000">0.4</text>
<text x="352.9" y="594.4" font-size="8" text-anchor="middle" fill="#000" stroke="#000">von Frey hair forces (g)</text>
<text x="304.6" y="525.65" font-size="8" text-anchor="middle" fill="#000" stroke="#000" transform="rotate(-90 304.6 525.65)">AMA-Withdrawal response (n)</text>
<text x="317.9" y="479.2" font-size="8" text-anchor="start" fill="#000" stroke="#000">Day 7</text>
<line x1="325.5" y1="552.25" x2="325.5" y2="560.12" stroke="#c4c4c4" stroke-width="0.75"/>
<line x1="323.5" y1="552.5" x2="326.9" y2="552.5" stroke="#c4c4c4" stroke-width="0.75"/>
<line x1="323.5" y1="560.5" x2="326.9" y2="560.5" stroke="#c4c4c4" stroke-width="0.75"/>
<line x1="343.5" y1="535.5" x2="343.5" y2="543.38" stroke="#c4c4c4" stroke-width="0.75"/>
<line x1="341.9" y1="535.5" x2="345.3" y2="535.5" stroke="#c4c4c4" stroke-width="0.75"/>
<line x1="341.9" y1="543.5" x2="345.3" y2="543.5" stroke="#c4c4c4" stroke-width="0.75"/>
<line x1="362.5" y1="516.78" x2="362.5" y2="524.66" stroke="#c4c4c4" stroke-width="0.75"/>
<line x1="360.3" y1="516.5" x2="363.7" y2="516.5" stroke="#c4c4c4" stroke-width="0.75"/>
<line x1="360.3" y1="524.5" x2="363.7" y2="524.5" stroke="#c4c4c4" stroke-width="0.75"/>
<line x1="380.5" y1="504.96" x2="380.5" y2="512.85" stroke="#c4c4c4" stroke-width="0.75"/>
<line x1="378.7" y1="504.5" x2="382.1" y2="504.5" stroke="#c4c4c4" stroke-width="0.75"/>
<line x1="378.7" y1="512.5" x2="382.1" y2="512.5" stroke="#c4c4c4" stroke-width="0.75"/>
<polyline points="325.2,556.18 343.6,539.44 362,520.73 380.4,508.9" stroke="#c4c4c4" stroke-width="0.85" fill="none"/>
<circle cx="325.2" cy="556.18" r="1.85" fill="#c4c4c4" stroke="none" stroke-width="0.6"/>
<circle cx="343.6" cy="539.44" r="1.85" fill="#c4c4c4" stroke="none" stroke-width="0.6"/>
<circle cx="362" cy="520.73" r="1.85" fill="#c4c4c4" stroke="none" stroke-width="0.6"/>
<circle cx="380.4" cy="508.9" r="1.85" fill="#c4c4c4" stroke="none" stroke-width="0.6"/>
<line x1="325.5" y1="556.68" x2="325.5" y2="562.59" stroke="#8c8c8c" stroke-width="0.75"/>
<line x1="323.5" y1="556.5" x2="326.9" y2="556.5" stroke="#8c8c8c" stroke-width="0.75"/>
<line x1="323.5" y1="562.5" x2="326.9" y2="562.5" stroke="#8c8c8c" stroke-width="0.75"/>
<line x1="343.5" y1="537.96" x2="343.5" y2="543.87" stroke="#8c8c8c" stroke-width="0.75"/>
<line x1="341.9" y1="537.5" x2="345.3" y2="537.5" stroke="#8c8c8c" stroke-width="0.75"/>
<line x1="341.9" y1="543.5" x2="345.3" y2="543.5" stroke="#8c8c8c" stroke-width="0.75"/>
<line x1="362.5" y1="517.77" x2="362.5" y2="523.68" stroke="#8c8c8c" stroke-width="0.75"/>
<line x1="360.3" y1="517.5" x2="363.7" y2="517.5" stroke="#8c8c8c" stroke-width="0.75"/>
<line x1="360.3" y1="523.5" x2="363.7" y2="523.5" stroke="#8c8c8c" stroke-width="0.75"/>
<line x1="380.5" y1="505.95" x2="380.5" y2="511.86" stroke="#8c8c8c" stroke-width="0.75"/>
<line x1="378.7" y1="505.5" x2="382.1" y2="505.5" stroke="#8c8c8c" stroke-width="0.75"/>
<line x1="378.7" y1="511.5" x2="382.1" y2="511.5" stroke="#8c8c8c" stroke-width="0.75"/>
<polyline points="325.2,559.63 343.6,540.92 362,520.73 380.4,508.9" stroke="#8c8c8c" stroke-width="0.85" fill="none"/>
<circle cx="325.2" cy="559.63" r="1.85" fill="#8c8c8c" stroke="none" stroke-width="0.6"/>
<circle cx="343.6" cy="540.92" r="1.85" fill="#8c8c8c" stroke="none" stroke-width="0.6"/>
<circle cx="362" cy="520.73" r="1.85" fill="#8c8c8c" stroke="none" stroke-width="0.6"/>
<circle cx="380.4" cy="508.9" r="1.85" fill="#8c8c8c" stroke="none" stroke-width="0.6"/>
<line x1="325.5" y1="551.26" x2="325.5" y2="563.08" stroke="#ec1f26" stroke-width="0.75"/>
<line x1="323.5" y1="551.5" x2="326.9" y2="551.5" stroke="#ec1f26" stroke-width="0.75"/>
<line x1="323.5" y1="563.5" x2="326.9" y2="563.5" stroke="#ec1f26" stroke-width="0.75"/>
<line x1="343.5" y1="532.54" x2="343.5" y2="544.37" stroke="#ec1f26" stroke-width="0.75"/>
<line x1="341.9" y1="532.5" x2="345.3" y2="532.5" stroke="#ec1f26" stroke-width="0.75"/>
<line x1="341.9" y1="544.5" x2="345.3" y2="544.5" stroke="#ec1f26" stroke-width="0.75"/>
<line x1="362.5" y1="505.95" x2="362.5" y2="513.83" stroke="#ec1f26" stroke-width="0.75"/>
<line x1="360.3" y1="505.5" x2="363.7" y2="505.5" stroke="#ec1f26" stroke-width="0.75"/>
<line x1="360.3" y1="513.5" x2="363.7" y2="513.5" stroke="#ec1f26" stroke-width="0.75"/>
<line x1="380.5" y1="504.96" x2="380.5" y2="514.81" stroke="#ec1f26" stroke-width="0.75"/>
<line x1="378.7" y1="504.5" x2="382.1" y2="504.5" stroke="#ec1f26" stroke-width="0.75"/>
<line x1="378.7" y1="514.5" x2="382.1" y2="514.5" stroke="#ec1f26" stroke-width="0.75"/>
<polyline points="325.2,557.17 343.6,538.45 362,509.89 380.4,509.89" stroke="#ec1f26" stroke-width="0.85" fill="none"/>
<circle cx="325.2" cy="557.17" r="1.85" fill="#ec1f26" stroke="none" stroke-width="0.6"/>
<circle cx="343.6" cy="538.45" r="1.85" fill="#ec1f26" stroke="none" stroke-width="0.6"/>
<circle cx="362" cy="509.89" r="1.85" fill="#ec1f26" stroke="none" stroke-width="0.6"/>
<circle cx="380.4" cy="509.89" r="1.85" fill="#ec1f26" stroke="none" stroke-width="0.6"/>
<line x1="325.5" y1="534.51" x2="325.5" y2="542.39" stroke="#000" stroke-width="0.75"/>
<line x1="323.5" y1="534.5" x2="326.9" y2="534.5" stroke="#000" stroke-width="0.75"/>
<line x1="323.5" y1="542.5" x2="326.9" y2="542.5" stroke="#000" stroke-width="0.75"/>
<line x1="343.5" y1="517.28" x2="343.5" y2="527.13" stroke="#000" stroke-width="0.75"/>
<line x1="341.9" y1="517.5" x2="345.3" y2="517.5" stroke="#000" stroke-width="0.75"/>
<line x1="341.9" y1="527.5" x2="345.3" y2="527.5" stroke="#000" stroke-width="0.75"/>
<line x1="362.5" y1="509.4" x2="362.5" y2="517.28" stroke="#000" stroke-width="0.75"/>
<line x1="360.3" y1="509.5" x2="363.7" y2="509.5" stroke="#000" stroke-width="0.75"/>
<line x1="360.3" y1="517.5" x2="363.7" y2="517.5" stroke="#000" stroke-width="0.75"/>
<line x1="380.5" y1="509.4" x2="380.5" y2="517.28" stroke="#000" stroke-width="0.75"/>
<line x1="378.7" y1="509.5" x2="382.1" y2="509.5" stroke="#000" stroke-width="0.75"/>
<line x1="378.7" y1="517.5" x2="382.1" y2="517.5" stroke="#000" stroke-width="0.75"/>
<polyline points="325.2,538.45 343.6,522.2 362,513.34 380.4,513.34" stroke="#000" stroke-width="0.85" fill="none"/>
<circle cx="325.2" cy="538.45" r="1.85" fill="#000" stroke="none" stroke-width="0.6"/>
<circle cx="343.6" cy="522.2" r="1.85" fill="#000" stroke="none" stroke-width="0.6"/>
<circle cx="362" cy="513.34" r="1.85" fill="#000" stroke="none" stroke-width="0.6"/>
<circle cx="380.4" cy="513.34" r="1.85" fill="#000" stroke="none" stroke-width="0.6"/>
<text x="325.2" y="533.69" font-size="7.4" text-anchor="middle" fill="#000" stroke="#000">*</text>
<line x1="414.5" y1="476.4" x2="414.5" y2="574.9" stroke="#000" stroke-width="0.8"/>
<line x1="412.2" y1="476.5" x2="414.2" y2="476.5" stroke="#000" stroke-width="0.8"/>
<text x="411.4" y="479.14" font-size="7.6" text-anchor="end" fill="#000" stroke="#000">10</text>
<line x1="412.2" y1="496.5" x2="414.2" y2="496.5" stroke="#000" stroke-width="0.8"/>
<text x="411.4" y="498.84" font-size="7.6" text-anchor="end" fill="#000" stroke="#000">8</text>
<line x1="412.2" y1="515.5" x2="414.2" y2="515.5" stroke="#000" stroke-width="0.8"/>
<text x="411.4" y="518.54" font-size="7.6" text-anchor="end" fill="#000" stroke="#000">6</text>
<line x1="412.2" y1="535.5" x2="414.2" y2="535.5" stroke="#000" stroke-width="0.8"/>
<text x="411.4" y="538.24" font-size="7.6" text-anchor="end" fill="#000" stroke="#000">4</text>
<line x1="412.2" y1="555.5" x2="414.2" y2="555.5" stroke="#000" stroke-width="0.8"/>
<text x="411.4" y="557.94" font-size="7.6" text-anchor="end" fill="#000" stroke="#000">2</text>
<line x1="412.2" y1="574.5" x2="414.2" y2="574.5" stroke="#000" stroke-width="0.8"/>
<text x="411.4" y="577.64" font-size="7.6" text-anchor="end" fill="#000" stroke="#000">0</text>
<line x1="414.2" y1="574.5" x2="488.2" y2="574.5" stroke="#000" stroke-width="0.8"/>
<line x1="424.5" y1="574.9" x2="424.5" y2="576.9" stroke="#000" stroke-width="0.8"/>
<line x1="442.5" y1="574.9" x2="442.5" y2="576.9" stroke="#000" stroke-width="0.8"/>
<line x1="460.5" y1="574.9" x2="460.5" y2="576.9" stroke="#000" stroke-width="0.8"/>
<line x1="479.5" y1="574.9" x2="479.5" y2="576.9" stroke="#000" stroke-width="0.8"/>
<text x="424" y="585" font-size="7.6" text-anchor="middle" fill="#000" stroke="#000">0.008</text>
<text x="442.4" y="585" font-size="7.6" text-anchor="middle" fill="#000" stroke="#000">0.04</text>
<text x="460.8" y="585" font-size="7.6" text-anchor="middle" fill="#000" stroke="#000">0.16</text>
<text x="479.2" y="585" font-size="7.6" text-anchor="middle" fill="#000" stroke="#000">0.4</text>
<text x="451.7" y="594.4" font-size="8" text-anchor="middle" fill="#000" stroke="#000">von Frey hair forces (g)</text>
<text x="403.4" y="525.65" font-size="8" text-anchor="middle" fill="#000" stroke="#000" transform="rotate(-90 403.4 525.65)">AMA-Withdrawal response (n)</text>
<text x="416.7" y="479.2" font-size="8" text-anchor="start" fill="#000" stroke="#000">Day 14</text>
<line x1="424.5" y1="551.26" x2="424.5" y2="557.17" stroke="#c4c4c4" stroke-width="0.75"/>
<line x1="422.3" y1="551.5" x2="425.7" y2="551.5" stroke="#c4c4c4" stroke-width="0.75"/>
<line x1="422.3" y1="557.5" x2="425.7" y2="557.5" stroke="#c4c4c4" stroke-width="0.75"/>
<line x1="442.5" y1="536.49" x2="442.5" y2="542.39" stroke="#c4c4c4" stroke-width="0.75"/>
<line x1="440.7" y1="536.5" x2="444.1" y2="536.5" stroke="#c4c4c4" stroke-width="0.75"/>
<line x1="440.7" y1="542.5" x2="444.1" y2="542.5" stroke="#c4c4c4" stroke-width="0.75"/>
<line x1="460.5" y1="515.8" x2="460.5" y2="521.71" stroke="#c4c4c4" stroke-width="0.75"/>
<line x1="459.1" y1="515.5" x2="462.5" y2="515.5" stroke="#c4c4c4" stroke-width="0.75"/>
<line x1="459.1" y1="521.5" x2="462.5" y2="521.5" stroke="#c4c4c4" stroke-width="0.75"/>
<line x1="479.5" y1="506.93" x2="479.5" y2="512.85" stroke="#c4c4c4" stroke-width="0.75"/>
<line x1="477.5" y1="506.5" x2="480.9" y2="506.5" stroke="#c4c4c4" stroke-width="0.75"/>
<line x1="477.5" y1="512.5" x2="480.9" y2="512.5" stroke="#c4c4c4" stroke-width="0.75"/>
<polyline points="424,554.21 442.4,539.44 460.8,518.75 479.2,509.89" stroke="#c4c4c4" stroke-width="0.85" fill="none"/>
<circle cx="424" cy="554.21" r="1.85" fill="#c4c4c4" stroke="none" stroke-width="0.6"/>
<circle cx="442.4" cy="539.44" r="1.85" fill="#c4c4c4" stroke="none" stroke-width="0.6"/>
<circle cx="460.8" cy="518.75" r="1.85" fill="#c4c4c4" stroke="none" stroke-width="0.6"/>
<circle cx="479.2" cy="509.89" r="1.85" fill="#c4c4c4" stroke="none" stroke-width="0.6"/>
<line x1="424.5" y1="555.69" x2="424.5" y2="561.6" stroke="#8c8c8c" stroke-width="0.75"/>
<line x1="422.3" y1="555.5" x2="425.7" y2="555.5" stroke="#8c8c8c" stroke-width="0.75"/>
<line x1="422.3" y1="561.5" x2="425.7" y2="561.5" stroke="#8c8c8c" stroke-width="0.75"/>
<line x1="442.5" y1="538.95" x2="442.5" y2="544.86" stroke="#8c8c8c" stroke-width="0.75"/>
<line x1="440.7" y1="538.5" x2="444.1" y2="538.5" stroke="#8c8c8c" stroke-width="0.75"/>
<line x1="440.7" y1="544.5" x2="444.1" y2="544.5" stroke="#8c8c8c" stroke-width="0.75"/>
<line x1="460.5" y1="517.77" x2="460.5" y2="523.68" stroke="#8c8c8c" stroke-width="0.75"/>
<line x1="459.1" y1="517.5" x2="462.5" y2="517.5" stroke="#8c8c8c" stroke-width="0.75"/>
<line x1="459.1" y1="523.5" x2="462.5" y2="523.5" stroke="#8c8c8c" stroke-width="0.75"/>
<line x1="479.5" y1="506.93" x2="479.5" y2="512.85" stroke="#8c8c8c" stroke-width="0.75"/>
<line x1="477.5" y1="506.5" x2="480.9" y2="506.5" stroke="#8c8c8c" stroke-width="0.75"/>
<line x1="477.5" y1="512.5" x2="480.9" y2="512.5" stroke="#8c8c8c" stroke-width="0.75"/>
<polyline points="424,558.65 442.4,541.9 460.8,520.73 479.2,509.89" stroke="#8c8c8c" stroke-width="0.85" fill="none"/>
<circle cx="424" cy="558.65" r="1.85" fill="#8c8c8c" stroke="none" stroke-width="0.6"/>
<circle cx="442.4" cy="541.9" r="1.85" fill="#8c8c8c" stroke="none" stroke-width="0.6"/>
<circle cx="460.8" cy="520.73" r="1.85" fill="#8c8c8c" stroke="none" stroke-width="0.6"/>
<circle cx="479.2" cy="509.89" r="1.85" fill="#8c8c8c" stroke="none" stroke-width="0.6"/>
<line x1="424.5" y1="548.3" x2="424.5" y2="554.21" stroke="#ec1f26" stroke-width="0.75"/>
<line x1="422.3" y1="548.5" x2="425.7" y2="548.5" stroke="#ec1f26" stroke-width="0.75"/>
<line x1="422.3" y1="554.5" x2="425.7" y2="554.5" stroke="#ec1f26" stroke-width="0.75"/>
<line x1="442.5" y1="528.11" x2="442.5" y2="537.96" stroke="#ec1f26" stroke-width="0.75"/>
<line x1="440.7" y1="528.5" x2="444.1" y2="528.5" stroke="#ec1f26" stroke-width="0.75"/>
<line x1="440.7" y1="537.5" x2="444.1" y2="537.5" stroke="#ec1f26" stroke-width="0.75"/>
<line x1="460.5" y1="506.44" x2="460.5" y2="514.32" stroke="#ec1f26" stroke-width="0.75"/>
<line x1="459.1" y1="506.5" x2="462.5" y2="506.5" stroke="#ec1f26" stroke-width="0.75"/>
<line x1="459.1" y1="514.5" x2="462.5" y2="514.5" stroke="#ec1f26" stroke-width="0.75"/>
<line x1="479.5" y1="508.9" x2="479.5" y2="514.81" stroke="#ec1f26" stroke-width="0.75"/>
<line x1="477.5" y1="508.5" x2="480.9" y2="508.5" stroke="#ec1f26" stroke-width="0.75"/>
<line x1="477.5" y1="514.5" x2="480.9" y2="514.5" stroke="#ec1f26" stroke-width="0.75"/>
<polyline points="424,551.26 442.4,533.04 460.8,510.38 479.2,511.86" stroke="#ec1f26" stroke-width="0.85" fill="none"/>
<circle cx="424" cy="551.26" r="1.85" fill="#ec1f26" stroke="none" stroke-width="0.6"/>
<circle cx="442.4" cy="533.04" r="1.85" fill="#ec1f26" stroke="none" stroke-width="0.6"/>
<circle cx="460.8" cy="510.38" r="1.85" fill="#ec1f26" stroke="none" stroke-width="0.6"/>
<circle cx="479.2" cy="511.86" r="1.85" fill="#ec1f26" stroke="none" stroke-width="0.6"/>
<line x1="424.5" y1="523.68" x2="424.5" y2="529.59" stroke="#000" stroke-width="0.75"/>
<line x1="422.3" y1="523.5" x2="425.7" y2="523.5" stroke="#000" stroke-width="0.75"/>
<line x1="422.3" y1="529.5" x2="425.7" y2="529.5" stroke="#000" stroke-width="0.75"/>
<line x1="442.5" y1="507.43" x2="442.5" y2="513.34" stroke="#000" stroke-width="0.75"/>
<line x1="440.7" y1="507.5" x2="444.1" y2="507.5" stroke="#000" stroke-width="0.75"/>
<line x1="440.7" y1="513.5" x2="444.1" y2="513.5" stroke="#000" stroke-width="0.75"/>
<line x1="460.5" y1="493.14" x2="460.5" y2="503" stroke="#000" stroke-width="0.75"/>
<line x1="459.1" y1="493.5" x2="462.5" y2="493.5" stroke="#000" stroke-width="0.75"/>
<line x1="459.1" y1="502.5" x2="462.5" y2="502.5" stroke="#000" stroke-width="0.75"/>
<line x1="479.5" y1="488.71" x2="479.5" y2="494.62" stroke="#000" stroke-width="0.75"/>
<line x1="477.5" y1="488.5" x2="480.9" y2="488.5" stroke="#000" stroke-width="0.75"/>
<line x1="477.5" y1="494.5" x2="480.9" y2="494.5" stroke="#000" stroke-width="0.75"/>
<polyline points="424,526.63 442.4,510.38 460.8,498.07 479.2,491.67" stroke="#000" stroke-width="0.85" fill="none"/>
<circle cx="424" cy="526.63" r="1.85" fill="#000" stroke="none" stroke-width="0.6"/>
<circle cx="442.4" cy="510.38" r="1.85" fill="#000" stroke="none" stroke-width="0.6"/>
<circle cx="460.8" cy="498.07" r="1.85" fill="#000" stroke="none" stroke-width="0.6"/>
<circle cx="479.2" cy="491.67" r="1.85" fill="#000" stroke="none" stroke-width="0.6"/>
<text x="424" y="522.85" font-size="7.4" text-anchor="middle" fill="#000" stroke="#000">****</text>
<text x="442.4" y="506.6" font-size="7.4" text-anchor="middle" fill="#000" stroke="#000">****</text>
<text x="460.8" y="492.32" font-size="7.4" text-anchor="middle" fill="#000" stroke="#000">****</text>
<text x="479.2" y="487.89" font-size="7.4" text-anchor="middle" fill="#000" stroke="#000">****</text>
<text x="424" y="545.76" font-size="6" text-anchor="middle" fill="#333" stroke="#333" font-style="italic">####</text>
<text x="442.4" y="525.56" font-size="6" text-anchor="middle" fill="#333" stroke="#333" font-style="italic">###</text>
<text x="479.2" y="504.39" font-size="6" text-anchor="middle" fill="#333" stroke="#333" font-style="italic">###</text>
<line x1="508.5" y1="476.4" x2="508.5" y2="574.9" stroke="#000" stroke-width="0.8"/>
<line x1="506.4" y1="476.5" x2="508.4" y2="476.5" stroke="#000" stroke-width="0.8"/>
<text x="505.6" y="479.14" font-size="7.6" text-anchor="end" fill="#000" stroke="#000">10</text>
<line x1="506.4" y1="496.5" x2="508.4" y2="496.5" stroke="#000" stroke-width="0.8"/>
<text x="505.6" y="498.84" font-size="7.6" text-anchor="end" fill="#000" stroke="#000">8</text>
<line x1="506.4" y1="515.5" x2="508.4" y2="515.5" stroke="#000" stroke-width="0.8"/>
<text x="505.6" y="518.54" font-size="7.6" text-anchor="end" fill="#000" stroke="#000">6</text>
<line x1="506.4" y1="535.5" x2="508.4" y2="535.5" stroke="#000" stroke-width="0.8"/>
<text x="505.6" y="538.24" font-size="7.6" text-anchor="end" fill="#000" stroke="#000">4</text>
<line x1="506.4" y1="555.5" x2="508.4" y2="555.5" stroke="#000" stroke-width="0.8"/>
<text x="505.6" y="557.94" font-size="7.6" text-anchor="end" fill="#000" stroke="#000">2</text>
<line x1="506.4" y1="574.5" x2="508.4" y2="574.5" stroke="#000" stroke-width="0.8"/>
<text x="505.6" y="577.64" font-size="7.6" text-anchor="end" fill="#000" stroke="#000">0</text>
<line x1="508.4" y1="574.5" x2="582.4" y2="574.5" stroke="#000" stroke-width="0.8"/>
<line x1="518.5" y1="574.9" x2="518.5" y2="576.9" stroke="#000" stroke-width="0.8"/>
<line x1="536.5" y1="574.9" x2="536.5" y2="576.9" stroke="#000" stroke-width="0.8"/>
<line x1="554.5" y1="574.9" x2="554.5" y2="576.9" stroke="#000" stroke-width="0.8"/>
<line x1="573.5" y1="574.9" x2="573.5" y2="576.9" stroke="#000" stroke-width="0.8"/>
<text x="518.2" y="585" font-size="7.6" text-anchor="middle" fill="#000" stroke="#000">0.008</text>
<text x="536.6" y="585" font-size="7.6" text-anchor="middle" fill="#000" stroke="#000">0.04</text>
<text x="555" y="585" font-size="7.6" text-anchor="middle" fill="#000" stroke="#000">0.16</text>
<text x="573.4" y="585" font-size="7.6" text-anchor="middle" fill="#000" stroke="#000">0.4</text>
<text x="545.9" y="594.4" font-size="8" text-anchor="middle" fill="#000" stroke="#000">von Frey hair forces (g)</text>
<text x="497.6" y="525.65" font-size="8" text-anchor="middle" fill="#000" stroke="#000" transform="rotate(-90 497.6 525.65)">AMA-Withdrawal response (n)</text>
<text x="510.9" y="479.2" font-size="8" text-anchor="start" fill="#000" stroke="#000">Day 21</text>
<line x1="518.5" y1="550.77" x2="518.5" y2="558.65" stroke="#c4c4c4" stroke-width="0.75"/>
<line x1="516.5" y1="550.5" x2="519.9" y2="550.5" stroke="#c4c4c4" stroke-width="0.75"/>
<line x1="516.5" y1="558.5" x2="519.9" y2="558.5" stroke="#c4c4c4" stroke-width="0.75"/>
<line x1="536.5" y1="540.42" x2="536.5" y2="546.33" stroke="#c4c4c4" stroke-width="0.75"/>
<line x1="534.9" y1="540.5" x2="538.3" y2="540.5" stroke="#c4c4c4" stroke-width="0.75"/>
<line x1="534.9" y1="546.5" x2="538.3" y2="546.5" stroke="#c4c4c4" stroke-width="0.75"/>
<line x1="554.5" y1="514.81" x2="554.5" y2="520.73" stroke="#c4c4c4" stroke-width="0.75"/>
<line x1="553.3" y1="514.5" x2="556.7" y2="514.5" stroke="#c4c4c4" stroke-width="0.75"/>
<line x1="553.3" y1="520.5" x2="556.7" y2="520.5" stroke="#c4c4c4" stroke-width="0.75"/>
<line x1="573.5" y1="502.5" x2="573.5" y2="512.35" stroke="#c4c4c4" stroke-width="0.75"/>
<line x1="571.7" y1="502.5" x2="575.1" y2="502.5" stroke="#c4c4c4" stroke-width="0.75"/>
<line x1="571.7" y1="512.5" x2="575.1" y2="512.5" stroke="#c4c4c4" stroke-width="0.75"/>
<polyline points="518.2,554.71 536.6,543.38 555,517.77 573.4,507.43" stroke="#c4c4c4" stroke-width="0.85" fill="none"/>
<circle cx="518.2" cy="554.71" r="1.85" fill="#c4c4c4" stroke="none" stroke-width="0.6"/>
<circle cx="536.6" cy="543.38" r="1.85" fill="#c4c4c4" stroke="none" stroke-width="0.6"/>
<circle cx="555" cy="517.77" r="1.85" fill="#c4c4c4" stroke="none" stroke-width="0.6"/>
<circle cx="573.4" cy="507.43" r="1.85" fill="#c4c4c4" stroke="none" stroke-width="0.6"/>
<line x1="518.5" y1="556.68" x2="518.5" y2="564.56" stroke="#8c8c8c" stroke-width="0.75"/>
<line x1="516.5" y1="556.5" x2="519.9" y2="556.5" stroke="#8c8c8c" stroke-width="0.75"/>
<line x1="516.5" y1="564.5" x2="519.9" y2="564.5" stroke="#8c8c8c" stroke-width="0.75"/>
<line x1="536.5" y1="540.42" x2="536.5" y2="546.33" stroke="#8c8c8c" stroke-width="0.75"/>
<line x1="534.9" y1="540.5" x2="538.3" y2="540.5" stroke="#8c8c8c" stroke-width="0.75"/>
<line x1="534.9" y1="546.5" x2="538.3" y2="546.5" stroke="#8c8c8c" stroke-width="0.75"/>
<line x1="554.5" y1="514.32" x2="554.5" y2="520.23" stroke="#8c8c8c" stroke-width="0.75"/>
<line x1="553.3" y1="514.5" x2="556.7" y2="514.5" stroke="#8c8c8c" stroke-width="0.75"/>
<line x1="553.3" y1="520.5" x2="556.7" y2="520.5" stroke="#8c8c8c" stroke-width="0.75"/>
<line x1="573.5" y1="503.49" x2="573.5" y2="511.37" stroke="#8c8c8c" stroke-width="0.75"/>
<line x1="571.7" y1="503.5" x2="575.1" y2="503.5" stroke="#8c8c8c" stroke-width="0.75"/>
<line x1="571.7" y1="511.5" x2="575.1" y2="511.5" stroke="#8c8c8c" stroke-width="0.75"/>
<polyline points="518.2,560.62 536.6,543.38 555,517.28 573.4,507.43" stroke="#8c8c8c" stroke-width="0.85" fill="none"/>
<circle cx="518.2" cy="560.62" r="1.85" fill="#8c8c8c" stroke="none" stroke-width="0.6"/>
<circle cx="536.6" cy="543.38" r="1.85" fill="#8c8c8c" stroke="none" stroke-width="0.6"/>
<circle cx="555" cy="517.28" r="1.85" fill="#8c8c8c" stroke="none" stroke-width="0.6"/>
<circle cx="573.4" cy="507.43" r="1.85" fill="#8c8c8c" stroke="none" stroke-width="0.6"/>
<line x1="518.5" y1="537.47" x2="518.5" y2="547.32" stroke="#ec1f26" stroke-width="0.75"/>
<line x1="516.5" y1="537.5" x2="519.9" y2="537.5" stroke="#ec1f26" stroke-width="0.75"/>
<line x1="516.5" y1="547.5" x2="519.9" y2="547.5" stroke="#ec1f26" stroke-width="0.75"/>
<line x1="536.5" y1="527.13" x2="536.5" y2="533.04" stroke="#ec1f26" stroke-width="0.75"/>
<line x1="534.9" y1="527.5" x2="538.3" y2="527.5" stroke="#ec1f26" stroke-width="0.75"/>
<line x1="534.9" y1="533.5" x2="538.3" y2="533.5" stroke="#ec1f26" stroke-width="0.75"/>
<line x1="554.5" y1="513.34" x2="554.5" y2="519.25" stroke="#ec1f26" stroke-width="0.75"/>
<line x1="553.3" y1="513.5" x2="556.7" y2="513.5" stroke="#ec1f26" stroke-width="0.75"/>
<line x1="553.3" y1="519.5" x2="556.7" y2="519.5" stroke="#ec1f26" stroke-width="0.75"/>
<line x1="573.5" y1="503" x2="573.5" y2="512.85" stroke="#ec1f26" stroke-width="0.75"/>
<line x1="571.7" y1="502.5" x2="575.1" y2="502.5" stroke="#ec1f26" stroke-width="0.75"/>
<line x1="571.7" y1="512.5" x2="575.1" y2="512.5" stroke="#ec1f26" stroke-width="0.75"/>
<polyline points="518.2,542.39 536.6,530.08 555,516.29 573.4,507.92" stroke="#ec1f26" stroke-width="0.85" fill="none"/>
<circle cx="518.2" cy="542.39" r="1.85" fill="#ec1f26" stroke="none" stroke-width="0.6"/>
<circle cx="536.6" cy="530.08" r="1.85" fill="#ec1f26" stroke="none" stroke-width="0.6"/>
<circle cx="555" cy="516.29" r="1.85" fill="#ec1f26" stroke="none" stroke-width="0.6"/>
<circle cx="573.4" cy="507.92" r="1.85" fill="#ec1f26" stroke="none" stroke-width="0.6"/>
<line x1="518.5" y1="504.96" x2="518.5" y2="512.85" stroke="#000" stroke-width="0.75"/>
<line x1="516.5" y1="504.5" x2="519.9" y2="504.5" stroke="#000" stroke-width="0.75"/>
<line x1="516.5" y1="512.5" x2="519.9" y2="512.5" stroke="#000" stroke-width="0.75"/>
<line x1="536.5" y1="500.04" x2="536.5" y2="505.95" stroke="#000" stroke-width="0.75"/>
<line x1="534.9" y1="500.5" x2="538.3" y2="500.5" stroke="#000" stroke-width="0.75"/>
<line x1="534.9" y1="505.5" x2="538.3" y2="505.5" stroke="#000" stroke-width="0.75"/>
<line x1="554.5" y1="483.79" x2="554.5" y2="489.7" stroke="#000" stroke-width="0.75"/>
<line x1="553.3" y1="483.5" x2="556.7" y2="483.5" stroke="#000" stroke-width="0.75"/>
<line x1="553.3" y1="489.5" x2="556.7" y2="489.5" stroke="#000" stroke-width="0.75"/>
<line x1="573.5" y1="481.32" x2="573.5" y2="487.24" stroke="#000" stroke-width="0.75"/>
<line x1="571.7" y1="481.5" x2="575.1" y2="481.5" stroke="#000" stroke-width="0.75"/>
<line x1="571.7" y1="487.5" x2="575.1" y2="487.5" stroke="#000" stroke-width="0.75"/>
<polyline points="518.2,508.9 536.6,503 555,486.74 573.4,484.28" stroke="#000" stroke-width="0.85" fill="none"/>
<circle cx="518.2" cy="508.9" r="1.85" fill="#000" stroke="none" stroke-width="0.6"/>
<circle cx="536.6" cy="503" r="1.85" fill="#000" stroke="none" stroke-width="0.6"/>
<circle cx="555" cy="486.74" r="1.85" fill="#000" stroke="none" stroke-width="0.6"/>
<circle cx="573.4" cy="484.28" r="1.85" fill="#000" stroke="none" stroke-width="0.6"/>
<text x="518.2" y="504.14" font-size="7.4" text-anchor="middle" fill="#000" stroke="#000">****</text>
<text x="536.6" y="499.21" font-size="7.4" text-anchor="middle" fill="#000" stroke="#000">****</text>
<text x="555" y="482.96" font-size="7.4" text-anchor="middle" fill="#000" stroke="#000">****</text>
<text x="573.4" y="480.5" font-size="7.4" text-anchor="middle" fill="#000" stroke="#000">****</text>
<text x="518.2" y="534.92" font-size="6" text-anchor="middle" fill="#333" stroke="#333" font-style="italic">####</text>
<text x="536.6" y="524.58" font-size="6" text-anchor="middle" fill="#333" stroke="#333" font-style="italic">####</text>
<text x="555" y="510.79" font-size="6" text-anchor="middle" fill="#333" stroke="#333" font-style="italic">####</text>
<text x="573.4" y="499.95" font-size="6" text-anchor="middle" fill="#333" stroke="#333" font-style="italic">###</text>
<line x1="605.5" y1="476.4" x2="605.5" y2="574.9" stroke="#000" stroke-width="0.8"/>
<line x1="603.6" y1="476.5" x2="605.6" y2="476.5" stroke="#000" stroke-width="0.8"/>
<text x="602.8" y="479.14" font-size="7.6" text-anchor="end" fill="#000" stroke="#000">10</text>
<line x1="603.6" y1="496.5" x2="605.6" y2="496.5" stroke="#000" stroke-width="0.8"/>
<text x="602.8" y="498.84" font-size="7.6" text-anchor="end" fill="#000" stroke="#000">8</text>
<line x1="603.6" y1="515.5" x2="605.6" y2="515.5" stroke="#000" stroke-width="0.8"/>
<text x="602.8" y="518.54" font-size="7.6" text-anchor="end" fill="#000" stroke="#000">6</text>
<line x1="603.6" y1="535.5" x2="605.6" y2="535.5" stroke="#000" stroke-width="0.8"/>
<text x="602.8" y="538.24" font-size="7.6" text-anchor="end" fill="#000" stroke="#000">4</text>
<line x1="603.6" y1="555.5" x2="605.6" y2="555.5" stroke="#000" stroke-width="0.8"/>
<text x="602.8" y="557.94" font-size="7.6" text-anchor="end" fill="#000" stroke="#000">2</text>
<line x1="603.6" y1="574.5" x2="605.6" y2="574.5" stroke="#000" stroke-width="0.8"/>
<text x="602.8" y="577.64" font-size="7.6" text-anchor="end" fill="#000" stroke="#000">0</text>
<line x1="605.6" y1="574.5" x2="679.6" y2="574.5" stroke="#000" stroke-width="0.8"/>
<line x1="615.5" y1="574.9" x2="615.5" y2="576.9" stroke="#000" stroke-width="0.8"/>
<line x1="633.5" y1="574.9" x2="633.5" y2="576.9" stroke="#000" stroke-width="0.8"/>
<line x1="652.5" y1="574.9" x2="652.5" y2="576.9" stroke="#000" stroke-width="0.8"/>
<line x1="670.5" y1="574.9" x2="670.5" y2="576.9" stroke="#000" stroke-width="0.8"/>
<text x="615.4" y="585" font-size="7.6" text-anchor="middle" fill="#000" stroke="#000">0.008</text>
<text x="633.8" y="585" font-size="7.6" text-anchor="middle" fill="#000" stroke="#000">0.04</text>
<text x="652.2" y="585" font-size="7.6" text-anchor="middle" fill="#000" stroke="#000">0.16</text>
<text x="670.6" y="585" font-size="7.6" text-anchor="middle" fill="#000" stroke="#000">0.4</text>
<text x="643.1" y="594.4" font-size="8" text-anchor="middle" fill="#000" stroke="#000">von Frey hair forces (g)</text>
<text x="594.8" y="525.65" font-size="8" text-anchor="middle" fill="#000" stroke="#000" transform="rotate(-90 594.8 525.65)">AMA-Withdrawal response (n)</text>
<text x="608.1" y="479.2" font-size="8" text-anchor="start" fill="#000" stroke="#000">Day 28</text>
<line x1="615.5" y1="552.25" x2="615.5" y2="558.15" stroke="#c4c4c4" stroke-width="0.75"/>
<line x1="613.7" y1="552.5" x2="617.1" y2="552.5" stroke="#c4c4c4" stroke-width="0.75"/>
<line x1="613.7" y1="558.5" x2="617.1" y2="558.5" stroke="#c4c4c4" stroke-width="0.75"/>
<line x1="633.5" y1="533.04" x2="633.5" y2="540.92" stroke="#c4c4c4" stroke-width="0.75"/>
<line x1="632.1" y1="533.5" x2="635.5" y2="533.5" stroke="#c4c4c4" stroke-width="0.75"/>
<line x1="632.1" y1="540.5" x2="635.5" y2="540.5" stroke="#c4c4c4" stroke-width="0.75"/>
<line x1="652.5" y1="507.92" x2="652.5" y2="513.83" stroke="#c4c4c4" stroke-width="0.75"/>
<line x1="650.5" y1="507.5" x2="653.9" y2="507.5" stroke="#c4c4c4" stroke-width="0.75"/>
<line x1="650.5" y1="513.5" x2="653.9" y2="513.5" stroke="#c4c4c4" stroke-width="0.75"/>
<line x1="670.5" y1="503.49" x2="670.5" y2="509.4" stroke="#c4c4c4" stroke-width="0.75"/>
<line x1="668.9" y1="503.5" x2="672.3" y2="503.5" stroke="#c4c4c4" stroke-width="0.75"/>
<line x1="668.9" y1="509.5" x2="672.3" y2="509.5" stroke="#c4c4c4" stroke-width="0.75"/>
<polyline points="615.4,555.2 633.8,536.98 652.2,510.88 670.6,506.44" stroke="#c4c4c4" stroke-width="0.85" fill="none"/>
<circle cx="615.4" cy="555.2" r="1.85" fill="#c4c4c4" stroke="none" stroke-width="0.6"/>
<circle cx="633.8" cy="536.98" r="1.85" fill="#c4c4c4" stroke="none" stroke-width="0.6"/>
<circle cx="652.2" cy="510.88" r="1.85" fill="#c4c4c4" stroke="none" stroke-width="0.6"/>
<circle cx="670.6" cy="506.44" r="1.85" fill="#c4c4c4" stroke="none" stroke-width="0.6"/>
<line x1="615.5" y1="550.27" x2="615.5" y2="556.18" stroke="#8c8c8c" stroke-width="0.75"/>
<line x1="613.7" y1="550.5" x2="617.1" y2="550.5" stroke="#8c8c8c" stroke-width="0.75"/>
<line x1="613.7" y1="556.5" x2="617.1" y2="556.5" stroke="#8c8c8c" stroke-width="0.75"/>
<line x1="633.5" y1="538.95" x2="633.5" y2="546.83" stroke="#8c8c8c" stroke-width="0.75"/>
<line x1="632.1" y1="538.5" x2="635.5" y2="538.5" stroke="#8c8c8c" stroke-width="0.75"/>
<line x1="632.1" y1="546.5" x2="635.5" y2="546.5" stroke="#8c8c8c" stroke-width="0.75"/>
<line x1="652.5" y1="520.73" x2="652.5" y2="528.61" stroke="#8c8c8c" stroke-width="0.75"/>
<line x1="650.5" y1="520.5" x2="653.9" y2="520.5" stroke="#8c8c8c" stroke-width="0.75"/>
<line x1="650.5" y1="528.5" x2="653.9" y2="528.5" stroke="#8c8c8c" stroke-width="0.75"/>
<line x1="670.5" y1="505.95" x2="670.5" y2="511.86" stroke="#8c8c8c" stroke-width="0.75"/>
<line x1="668.9" y1="505.5" x2="672.3" y2="505.5" stroke="#8c8c8c" stroke-width="0.75"/>
<line x1="668.9" y1="511.5" x2="672.3" y2="511.5" stroke="#8c8c8c" stroke-width="0.75"/>
<polyline points="615.4,553.23 633.8,542.89 652.2,524.66 670.6,508.9" stroke="#8c8c8c" stroke-width="0.85" fill="none"/>
<circle cx="615.4" cy="553.23" r="1.85" fill="#8c8c8c" stroke="none" stroke-width="0.6"/>
<circle cx="633.8" cy="542.89" r="1.85" fill="#8c8c8c" stroke="none" stroke-width="0.6"/>
<circle cx="652.2" cy="524.66" r="1.85" fill="#8c8c8c" stroke="none" stroke-width="0.6"/>
<circle cx="670.6" cy="508.9" r="1.85" fill="#8c8c8c" stroke="none" stroke-width="0.6"/>
<line x1="615.5" y1="545.84" x2="615.5" y2="551.75" stroke="#ec1f26" stroke-width="0.75"/>
<line x1="613.7" y1="545.5" x2="617.1" y2="545.5" stroke="#ec1f26" stroke-width="0.75"/>
<line x1="613.7" y1="551.5" x2="617.1" y2="551.5" stroke="#ec1f26" stroke-width="0.75"/>
<line x1="633.5" y1="525.16" x2="633.5" y2="535.01" stroke="#ec1f26" stroke-width="0.75"/>
<line x1="632.1" y1="525.5" x2="635.5" y2="525.5" stroke="#ec1f26" stroke-width="0.75"/>
<line x1="632.1" y1="535.5" x2="635.5" y2="535.5" stroke="#ec1f26" stroke-width="0.75"/>
<line x1="652.5" y1="514.32" x2="652.5" y2="522.2" stroke="#ec1f26" stroke-width="0.75"/>
<line x1="650.5" y1="514.5" x2="653.9" y2="514.5" stroke="#ec1f26" stroke-width="0.75"/>
<line x1="650.5" y1="522.5" x2="653.9" y2="522.5" stroke="#ec1f26" stroke-width="0.75"/>
<line x1="670.5" y1="501.52" x2="670.5" y2="511.37" stroke="#ec1f26" stroke-width="0.75"/>
<line x1="668.9" y1="501.5" x2="672.3" y2="501.5" stroke="#ec1f26" stroke-width="0.75"/>
<line x1="668.9" y1="511.5" x2="672.3" y2="511.5" stroke="#ec1f26" stroke-width="0.75"/>
<polyline points="615.4,548.8 633.8,530.08 652.2,518.26 670.6,506.44" stroke="#ec1f26" stroke-width="0.85" fill="none"/>
<circle cx="615.4" cy="548.8" r="1.85" fill="#ec1f26" stroke="none" stroke-width="0.6"/>
<circle cx="633.8" cy="530.08" r="1.85" fill="#ec1f26" stroke="none" stroke-width="0.6"/>
<circle cx="652.2" cy="518.26" r="1.85" fill="#ec1f26" stroke="none" stroke-width="0.6"/>
<circle cx="670.6" cy="506.44" r="1.85" fill="#ec1f26" stroke="none" stroke-width="0.6"/>
<line x1="615.5" y1="499.55" x2="615.5" y2="507.43" stroke="#000" stroke-width="0.75"/>
<line x1="613.7" y1="499.5" x2="617.1" y2="499.5" stroke="#000" stroke-width="0.75"/>
<line x1="613.7" y1="507.5" x2="617.1" y2="507.5" stroke="#000" stroke-width="0.75"/>
<line x1="633.5" y1="491.17" x2="633.5" y2="501.02" stroke="#000" stroke-width="0.75"/>
<line x1="632.1" y1="491.5" x2="635.5" y2="491.5" stroke="#000" stroke-width="0.75"/>
<line x1="632.1" y1="501.5" x2="635.5" y2="501.5" stroke="#000" stroke-width="0.75"/>
<line x1="652.5" y1="482.8" x2="652.5" y2="486.74" stroke="#000" stroke-width="0.75"/>
<line x1="650.5" y1="482.5" x2="653.9" y2="482.5" stroke="#000" stroke-width="0.75"/>
<line x1="650.5" y1="486.5" x2="653.9" y2="486.5" stroke="#000" stroke-width="0.75"/>
<line x1="670.5" y1="481.82" x2="670.5" y2="485.76" stroke="#000" stroke-width="0.75"/>
<line x1="668.9" y1="481.5" x2="672.3" y2="481.5" stroke="#000" stroke-width="0.75"/>
<line x1="668.9" y1="485.5" x2="672.3" y2="485.5" stroke="#000" stroke-width="0.75"/>
<polyline points="615.4,503.49 633.8,496.1 652.2,484.77 670.6,483.79" stroke="#000" stroke-width="0.85" fill="none"/>
<circle cx="615.4" cy="503.49" r="1.85" fill="#000" stroke="none" stroke-width="0.6"/>
<circle cx="633.8" cy="496.1" r="1.85" fill="#000" stroke="none" stroke-width="0.6"/>
<circle cx="652.2" cy="484.77" r="1.85" fill="#000" stroke="none" stroke-width="0.6"/>
<circle cx="670.6" cy="483.79" r="1.85" fill="#000" stroke="none" stroke-width="0.6"/>
<text x="615.4" y="498.72" font-size="7.4" text-anchor="middle" fill="#000" stroke="#000">****</text>
<text x="633.8" y="490.35" font-size="7.4" text-anchor="middle" fill="#000" stroke="#000">****</text>
<text x="652.2" y="481.98" font-size="7.4" text-anchor="middle" fill="#000" stroke="#000">****</text>
<text x="670.6" y="480.99" font-size="7.4" text-anchor="middle" fill="#000" stroke="#000">****</text>
<text x="615.4" y="543.29" font-size="6" text-anchor="middle" fill="#333" stroke="#333" font-style="italic">####</text>
<text x="633.8" y="522.61" font-size="6" text-anchor="middle" fill="#333" stroke="#333" font-style="italic">####</text>
<text x="652.2" y="505.37" font-size="6" text-anchor="middle" fill="#333" stroke="#333" font-style="italic">####</text>
<text x="670.6" y="498.97" font-size="6" text-anchor="middle" fill="#333" stroke="#333" font-style="italic">##</text>
<text x="40.6" y="605.9" font-size="14" text-anchor="start" fill="#000" stroke="#000">i</text>
<text x="55" y="607.8" font-size="8" text-anchor="start" fill="#000" stroke="#000">Sciatic&#160; nerve</text>
<text x="125.5" y="607.8" font-size="8" text-anchor="start" fill="#000" stroke="#000">Trigeminal nerve</text>
<line x1="65.5" y1="613.2" x2="65.5" y2="711.1" stroke="#000" stroke-width="0.8"/>
<line x1="63.3" y1="613.5" x2="65.3" y2="613.5" stroke="#000" stroke-width="0.8"/>
<text x="62.5" y="615.94" font-size="7.6" text-anchor="end" fill="#000" stroke="#000">20</text>
<line x1="63.3" y1="637.5" x2="65.3" y2="637.5" stroke="#000" stroke-width="0.8"/>
<text x="62.5" y="640.41" font-size="7.6" text-anchor="end" fill="#000" stroke="#000">15</text>
<line x1="63.3" y1="662.5" x2="65.3" y2="662.5" stroke="#000" stroke-width="0.8"/>
<text x="62.5" y="664.89" font-size="7.6" text-anchor="end" fill="#000" stroke="#000">10</text>
<line x1="63.3" y1="686.5" x2="65.3" y2="686.5" stroke="#000" stroke-width="0.8"/>
<text x="62.5" y="689.36" font-size="7.6" text-anchor="end" fill="#000" stroke="#000">5</text>
<line x1="63.3" y1="711.5" x2="65.3" y2="711.5" stroke="#000" stroke-width="0.8"/>
<text x="62.5" y="713.84" font-size="7.6" text-anchor="end" fill="#000" stroke="#000">0</text>
<line x1="65.3" y1="711.5" x2="109.4" y2="711.5" stroke="#000" stroke-width="0.8"/>
<line x1="75.5" y1="711.1" x2="75.5" y2="713.1" stroke="#000" stroke-width="0.8"/>
<line x1="87.5" y1="711.1" x2="87.5" y2="713.1" stroke="#000" stroke-width="0.8"/>
<line x1="103.5" y1="711.1" x2="103.5" y2="713.1" stroke="#000" stroke-width="0.8"/>
<text x="52.1" y="662.15" font-size="8" text-anchor="middle" fill="#000" stroke="#000" transform="rotate(-90 52.1 662.15)">IL-1β pg/mg of protein</text>
<text x="78.7" y="721.1" font-size="8.2" text-anchor="end" fill="#000" stroke="#000" transform="rotate(-31 78.7 721.1)">Sham</text>
<text x="91" y="721.1" font-size="8.2" text-anchor="end" fill="#000" stroke="#000" transform="rotate(-31 91 721.1)">Endo/Control</text>
<text x="106.7" y="721.1" font-size="8.2" text-anchor="end" fill="#000" stroke="#000" transform="rotate(-31 106.7 721.1)">Endo/<tspan font-style="italic">Plp</tspan>-AAV-<tspan font-style="italic">IL-1β</tspan></text>
<polyline points="75.7,659.6 75.7,660.74 75.69,661.88 75.67,663.03 75.62,664.17 75.5,665.31 75.27,666.46 74.94,667.6 74.57,668.74 74.27,669.88 74.15,671.02 74.2,672.17 74.31,673.31 74.33,674.45 74.2,675.6 73.99,676.74 73.83,677.88 73.77,679.02 73.7,680.16 73.46,681.31 72.96,682.45 72.26,683.59 71.6,684.74 71.24,685.88 71.39,687.02 71.99,688.16 72.82,689.3 73.55,690.45 73.97,691.59 74.1,692.73 74.11,693.88 74.21,695.02 74.47,696.16 74.83,697.3 75.18,698.44 75.44,699.59 75.59,700.73 75.66,701.87 75.69,703.01 75.7,704.16 75.7,705.3 75.7,705.3 75.7,704.16 75.71,703.01 75.74,701.87 75.81,700.73 75.96,699.59 76.22,698.44 76.57,697.3 76.93,696.16 77.19,695.02 77.29,693.88 77.3,692.73 77.43,691.59 77.85,690.45 78.58,689.3 79.41,688.16 80.01,687.02 80.16,685.88 79.8,684.74 79.14,683.59 78.44,682.45 77.94,681.31 77.7,680.16 77.63,679.02 77.57,677.88 77.41,676.74 77.2,675.6 77.07,674.45 77.09,673.31 77.2,672.17 77.25,671.02 77.13,669.88 76.83,668.74 76.46,667.6 76.13,666.46 75.9,665.31 75.78,664.17 75.73,663.03 75.71,661.88 75.7,660.74 75.7,659.6 75.7,659.6" stroke="#000" stroke-width="0.7" fill="#fff"/>
<circle cx="75.7" cy="670.6" r="1.6" fill="#000" stroke="none" stroke-width="0.6"/>
<circle cx="75.7" cy="677.9" r="1.6" fill="#000" stroke="none" stroke-width="0.6"/>
<circle cx="72.5" cy="684.1" r="1.6" fill="#000" stroke="none" stroke-width="0.6"/>
<circle cx="75.7" cy="687.2" r="1.6" fill="#000" stroke="none" stroke-width="0.6"/>
<circle cx="79.2" cy="686.9" r="1.6" fill="#000" stroke="none" stroke-width="0.6"/>
<circle cx="75.7" cy="694.7" r="1.6" fill="#000" stroke="none" stroke-width="0.6"/>
<polyline points="88.3,621 88.3,622.56 88.3,624.12 88.29,625.68 88.25,627.24 88.14,628.8 87.9,630.36 87.51,631.92 87.05,633.48 86.71,635.04 86.67,636.6 86.95,638.16 87.39,639.72 87.81,641.28 88.07,642.84 88.16,644.4 88.06,645.96 87.7,647.52 86.99,649.08 85.95,650.64 84.81,652.2 83.97,653.76 83.72,655.32 84.04,656.88 84.69,658.44 85.38,660 85.82,661.56 85.82,663.12 85.44,664.68 85.01,666.24 84.96,667.8 85.46,669.36 86.32,670.92 87.17,672.48 87.78,674.04 88.1,675.6 88.24,677.16 88.29,678.72 88.3,680.28 88.3,681.84 88.3,683.4 88.3,683.4 88.3,681.84 88.3,680.28 88.31,678.72 88.36,677.16 88.5,675.6 88.82,674.04 89.43,672.48 90.28,670.92 91.14,669.36 91.64,667.8 91.59,666.24 91.16,664.68 90.78,663.12 90.78,661.56 91.22,660 91.91,658.44 92.56,656.88 92.88,655.32 92.63,653.76 91.79,652.2 90.65,650.64 89.61,649.08 88.9,647.52 88.54,645.96 88.44,644.4 88.53,642.84 88.79,641.28 89.21,639.72 89.65,638.16 89.93,636.6 89.89,635.04 89.55,633.48 89.09,631.92 88.7,630.36 88.46,628.8 88.35,627.24 88.31,625.68 88.3,624.12 88.3,622.56 88.3,621 88.3,621" stroke="#000" stroke-width="0.7" fill="#fff"/>
<circle cx="88.3" cy="635.8" r="1.6" fill="#000" stroke="none" stroke-width="0.6"/>
<circle cx="85" cy="653.7" r="1.6" fill="#000" stroke="none" stroke-width="0.6"/>
<circle cx="91.6" cy="654.5" r="1.6" fill="#000" stroke="none" stroke-width="0.6"/>
<circle cx="88.3" cy="659" r="1.6" fill="#000" stroke="none" stroke-width="0.6"/>
<circle cx="85" cy="668.4" r="1.6" fill="#000" stroke="none" stroke-width="0.6"/>
<circle cx="91.6" cy="666.9" r="1.6" fill="#000" stroke="none" stroke-width="0.6"/>
<polyline points="101,651.7 101,652.91 100.99,654.12 100.96,655.33 100.88,656.54 100.72,657.75 100.44,658.96 100.05,660.17 99.61,661.38 99.23,662.59 99,663.8 98.95,665.01 98.95,666.22 98.82,667.43 98.45,668.64 97.83,669.85 97.09,671.06 96.44,672.27 96.03,673.48 96.01,674.69 96.38,675.9 97.08,677.11 97.96,678.32 98.8,679.53 99.4,680.74 99.59,681.95 99.33,683.16 98.72,684.37 97.99,685.58 97.44,686.79 97.31,688 97.68,689.21 98.41,690.42 99.25,691.63 99.98,692.84 100.49,694.05 100.78,695.26 100.92,696.47 100.98,697.68 100.99,698.89 101,700.1 101,700.1 101.01,698.89 101.02,697.68 101.08,696.47 101.22,695.26 101.51,694.05 102.02,692.84 102.75,691.63 103.59,690.42 104.32,689.21 104.69,688 104.56,686.79 104.01,685.58 103.28,684.37 102.67,683.16 102.41,681.95 102.6,680.74 103.2,679.53 104.04,678.32 104.92,677.11 105.62,675.9 105.99,674.69 105.97,673.48 105.56,672.27 104.91,671.06 104.17,669.85 103.55,668.64 103.18,667.43 103.05,666.22 103.05,665.01 103,663.8 102.77,662.59 102.39,661.38 101.95,660.17 101.56,658.96 101.28,657.75 101.12,656.54 101.04,655.33 101.01,654.12 101,652.91 101,651.7 101,651.7" stroke="#ec1f26" stroke-width="0.7" fill="#fff"/>
<circle cx="101" cy="663.6" r="1.6" fill="#000" stroke="none" stroke-width="0.6"/>
<circle cx="101" cy="671.3" r="1.6" fill="#000" stroke="none" stroke-width="0.6"/>
<circle cx="97.5" cy="676.8" r="1.6" fill="#000" stroke="none" stroke-width="0.6"/>
<circle cx="104.5" cy="674.2" r="1.6" fill="#000" stroke="none" stroke-width="0.6"/>
<circle cx="97.5" cy="688.5" r="1.6" fill="#000" stroke="none" stroke-width="0.6"/>
<circle cx="104.5" cy="687.4" r="1.6" fill="#000" stroke="none" stroke-width="0.6"/>
<line x1="76.5" y1="620.5" x2="76.5" y2="652.9" stroke="#000" stroke-width="0.55"/>
<line x1="76.2" y1="620.5" x2="82.8" y2="620.5" stroke="#000" stroke-width="0.55"/>
<line x1="94.2" y1="620.5" x2="100.7" y2="620.5" stroke="#000" stroke-width="0.55"/>
<line x1="100.5" y1="620.5" x2="100.5" y2="644.2" stroke="#000" stroke-width="0.55"/>
<text x="0" y="0" font-size="6.6" text-anchor="middle" fill="#000" stroke="#000" transform="translate(73.8 636) rotate(-90) scale(0.95 1)">0.0008</text>
<text x="0" y="0" font-size="6.6" text-anchor="middle" fill="#000" stroke="#000" transform="translate(108 633.3) rotate(-90) scale(0.95 1)">0.0084</text>
<line x1="135.5" y1="613.2" x2="135.5" y2="711.1" stroke="#000" stroke-width="0.8"/>
<line x1="133.1" y1="613.5" x2="135.1" y2="613.5" stroke="#000" stroke-width="0.8"/>
<text x="132.3" y="615.94" font-size="7.6" text-anchor="end" fill="#000" stroke="#000">20</text>
<line x1="133.1" y1="637.5" x2="135.1" y2="637.5" stroke="#000" stroke-width="0.8"/>
<text x="132.3" y="640.41" font-size="7.6" text-anchor="end" fill="#000" stroke="#000">15</text>
<line x1="133.1" y1="662.5" x2="135.1" y2="662.5" stroke="#000" stroke-width="0.8"/>
<text x="132.3" y="664.89" font-size="7.6" text-anchor="end" fill="#000" stroke="#000">10</text>
<line x1="133.1" y1="686.5" x2="135.1" y2="686.5" stroke="#000" stroke-width="0.8"/>
<text x="132.3" y="689.36" font-size="7.6" text-anchor="end" fill="#000" stroke="#000">5</text>
<line x1="133.1" y1="711.5" x2="135.1" y2="711.5" stroke="#000" stroke-width="0.8"/>
<text x="132.3" y="713.84" font-size="7.6" text-anchor="end" fill="#000" stroke="#000">0</text>
<line x1="135.1" y1="711.5" x2="179" y2="711.5" stroke="#000" stroke-width="0.8"/>
<line x1="145.5" y1="711.1" x2="145.5" y2="713.1" stroke="#000" stroke-width="0.8"/>
<line x1="157.5" y1="711.1" x2="157.5" y2="713.1" stroke="#000" stroke-width="0.8"/>
<line x1="171.5" y1="711.1" x2="171.5" y2="713.1" stroke="#000" stroke-width="0.8"/>
<text x="121.9" y="662.15" font-size="8" text-anchor="middle" fill="#000" stroke="#000" transform="rotate(-90 121.9 662.15)">IL-1β pg/mg of protein</text>
<text x="148.5" y="721.1" font-size="8.2" text-anchor="end" fill="#000" stroke="#000" transform="rotate(-31 148.5 721.1)">Sham</text>
<text x="160.7" y="721.1" font-size="8.2" text-anchor="end" fill="#000" stroke="#000" transform="rotate(-31 160.7 721.1)">Endo/Control</text>
<text x="174.8" y="721.1" font-size="8.2" text-anchor="end" fill="#000" stroke="#000" transform="rotate(-31 174.8 721.1)">Endo/<tspan font-style="italic">Plp</tspan>-AAV-<tspan font-style="italic">IL-1β</tspan></text>
<polyline points="145.3,676.6 145.26,677.14 145.2,677.69 145.11,678.24 144.98,678.78 144.82,679.33 144.64,679.87 144.44,680.41 144.25,680.96 144.06,681.5 143.9,682.05 143.74,682.6 143.59,683.14 143.44,683.69 143.29,684.23 143.12,684.77 142.96,685.32 142.81,685.87 142.68,686.41 142.58,686.96 142.51,687.5 142.44,688.04 142.36,688.59 142.26,689.13 142.14,689.68 141.99,690.23 141.86,690.77 141.77,691.31 141.77,691.86 141.88,692.4 142.11,692.95 142.46,693.5 142.88,694.04 143.35,694.59 143.81,695.13 144.23,695.67 144.59,696.22 144.86,696.76 145.06,697.31 145.2,697.86 145.3,698.4 145.3,698.4 145.4,697.86 145.54,697.31 145.74,696.76 146.01,696.22 146.37,695.67 146.79,695.13 147.25,694.59 147.72,694.04 148.14,693.5 148.49,692.95 148.72,692.4 148.83,691.86 148.83,691.31 148.74,690.77 148.61,690.23 148.46,689.68 148.34,689.13 148.24,688.59 148.16,688.04 148.09,687.5 148.02,686.96 147.92,686.41 147.79,685.87 147.64,685.32 147.48,684.77 147.31,684.23 147.16,683.69 147.01,683.14 146.86,682.6 146.7,682.05 146.54,681.5 146.35,680.96 146.16,680.41 145.96,679.87 145.78,679.33 145.62,678.78 145.49,678.24 145.4,677.69 145.34,677.14 145.3,676.6 145.3,676.6" stroke="#000" stroke-width="0.7" fill="#fff"/>
<circle cx="145.3" cy="681.8" r="1.6" fill="#000" stroke="none" stroke-width="0.6"/>
<circle cx="142.1" cy="685.9" r="1.6" fill="#000" stroke="none" stroke-width="0.6"/>
<circle cx="145.3" cy="687.8" r="1.6" fill="#000" stroke="none" stroke-width="0.6"/>
<circle cx="145.3" cy="691.5" r="1.6" fill="#000" stroke="none" stroke-width="0.6"/>
<circle cx="148.6" cy="692.4" r="1.6" fill="#000" stroke="none" stroke-width="0.6"/>
<circle cx="142.1" cy="693.4" r="1.6" fill="#000" stroke="none" stroke-width="0.6"/>
<polyline points="157.7,631.4 157.7,632.7 157.7,634 157.69,635.3 157.67,636.6 157.6,637.9 157.46,639.2 157.23,640.5 156.92,641.8 156.65,643.1 156.53,644.4 156.62,645.7 156.88,647 157.18,648.3 157.42,649.6 157.55,650.9 157.54,652.2 157.41,653.5 157.15,654.8 156.82,656.1 156.5,657.4 156.35,658.7 156.38,660 156.48,661.3 156.43,662.6 156.03,663.9 155.26,665.2 154.32,666.5 153.57,667.8 153.34,669.1 153.75,670.4 154.64,671.7 155.69,673 156.58,674.3 157.18,675.6 157.5,676.9 157.64,678.2 157.68,679.5 157.7,680.8 157.7,682.1 157.7,683.4 157.7,683.4 157.7,682.1 157.7,680.8 157.72,679.5 157.76,678.2 157.9,676.9 158.22,675.6 158.82,674.3 159.71,673 160.76,671.7 161.65,670.4 162.06,669.1 161.83,667.8 161.08,666.5 160.14,665.2 159.37,663.9 158.97,662.6 158.92,661.3 159.02,660 159.05,658.7 158.9,657.4 158.58,656.1 158.25,654.8 157.99,653.5 157.86,652.2 157.85,650.9 157.98,649.6 158.22,648.3 158.52,647 158.78,645.7 158.87,644.4 158.75,643.1 158.48,641.8 158.17,640.5 157.94,639.2 157.8,637.9 157.73,636.6 157.71,635.3 157.7,634 157.7,632.7 157.7,631.4 157.7,631.4" stroke="#000" stroke-width="0.7" fill="#fff"/>
<circle cx="157.7" cy="644.3" r="1.6" fill="#000" stroke="none" stroke-width="0.6"/>
<circle cx="157.7" cy="658.8" r="1.6" fill="#000" stroke="none" stroke-width="0.6"/>
<circle cx="154.4" cy="670.4" r="1.6" fill="#000" stroke="none" stroke-width="0.6"/>
<circle cx="157.7" cy="668.3" r="1.6" fill="#000" stroke="none" stroke-width="0.6"/>
<circle cx="161.2" cy="667.3" r="1.6" fill="#000" stroke="none" stroke-width="0.6"/>
<circle cx="161.2" cy="670.4" r="1.6" fill="#000" stroke="none" stroke-width="0.6"/>
<polyline points="170.6,661 170.59,661.78 170.56,662.55 170.49,663.33 170.38,664.11 170.22,664.89 170.01,665.66 169.78,666.44 169.56,667.22 169.39,668 169.32,668.77 169.34,669.55 169.42,670.33 169.49,671.11 169.48,671.88 169.32,672.66 169,673.44 168.52,674.22 167.96,675 167.38,675.77 166.88,676.55 166.53,677.33 166.35,678.11 166.34,678.88 166.49,679.66 166.74,680.44 167.06,681.22 167.41,681.99 167.76,682.77 168.1,683.55 168.42,684.33 168.75,685.1 169.08,685.88 169.42,686.66 169.74,687.44 170.02,688.21 170.25,688.99 170.41,689.77 170.51,690.55 170.57,691.32 170.6,692.1 170.6,692.1 170.63,691.32 170.69,690.55 170.79,689.77 170.95,688.99 171.18,688.21 171.46,687.44 171.78,686.66 172.12,685.88 172.45,685.1 172.78,684.33 173.1,683.55 173.44,682.77 173.79,681.99 174.14,681.22 174.46,680.44 174.71,679.66 174.86,678.88 174.85,678.11 174.67,677.33 174.32,676.55 173.82,675.77 173.24,675 172.68,674.22 172.2,673.44 171.88,672.66 171.72,671.88 171.71,671.11 171.78,670.33 171.86,669.55 171.88,668.77 171.81,668 171.64,667.22 171.42,666.44 171.19,665.66 170.98,664.89 170.82,664.11 170.71,663.33 170.64,662.55 170.61,661.78 170.6,661 170.6,661" stroke="#ec1f26" stroke-width="0.7" fill="#fff"/>
<circle cx="170.6" cy="668.5" r="1.6" fill="#000" stroke="none" stroke-width="0.6"/>
<circle cx="167.2" cy="676" r="1.6" fill="#000" stroke="none" stroke-width="0.6"/>
<circle cx="174.1" cy="677.5" r="1.6" fill="#000" stroke="none" stroke-width="0.6"/>
<circle cx="167.2" cy="679.5" r="1.6" fill="#000" stroke="none" stroke-width="0.6"/>
<circle cx="174.1" cy="681.6" r="1.6" fill="#000" stroke="none" stroke-width="0.6"/>
<circle cx="170.6" cy="685.3" r="1.6" fill="#000" stroke="none" stroke-width="0.6"/>
<line x1="145.5" y1="631.4" x2="145.5" y2="670.4" stroke="#000" stroke-width="0.55"/>
<line x1="145.3" y1="631.5" x2="151.9" y2="631.5" stroke="#000" stroke-width="0.55"/>
<line x1="163.7" y1="631.5" x2="170.3" y2="631.5" stroke="#000" stroke-width="0.55"/>
<line x1="170.5" y1="631.4" x2="170.5" y2="651.7" stroke="#000" stroke-width="0.55"/>
<text x="0" y="0" font-size="7" text-anchor="middle" fill="#000" stroke="#000" transform="translate(144.4 644) rotate(-90) scale(0.86 1)">P&lt;0.0001</text>
<text x="0" y="0" font-size="6.6" text-anchor="middle" fill="#000" stroke="#000" transform="translate(176.2 642.5) rotate(-90) scale(0.95 1)">0.0089</text>
<text x="203.7" y="625" font-size="14" text-anchor="start" fill="#000" stroke="#000">j</text>
<text x="219.3" y="620.9" font-size="8" text-anchor="start" fill="#000" stroke="#000">Sciatic nerve</text>
<text x="456.9" y="620" font-size="8" text-anchor="start" fill="#000" stroke="#000">Trigeminal nerve</text>
<rect x="356.4" y="617" width="15.4" height="5.8" fill="#fff" stroke="#000" stroke-width="0.6"/>
<text x="355.2" y="622.6" font-size="8" text-anchor="end" fill="#000" stroke="#000">Sham</text>
<rect x="356.4" y="625.2" width="15.4" height="5.8" fill="#1a1a1a" stroke="#1a1a1a" stroke-width="0.6"/>
<text x="355.2" y="630.8" font-size="8" text-anchor="end" fill="#000" stroke="#000">Endo/Control</text>
<rect x="356.4" y="633.4" width="15.4" height="5.8" fill="#5ea893" stroke="#333" stroke-width="0.6"/>
<text x="355.2" y="639" font-size="8" text-anchor="end" fill="#000" stroke="#000">Endo/<tspan font-style="italic">Plp</tspan>-AAV-<tspan font-style="italic">IL-1β</tspan></text>
<rect x="576.6" y="614.6" width="15.4" height="5.8" fill="#fff" stroke="#000" stroke-width="0.6"/>
<text x="575.4" y="620.2" font-size="8" text-anchor="end" fill="#000" stroke="#000">Sham</text>
<rect x="576.6" y="623" width="15.4" height="5.8" fill="#1a1a1a" stroke="#1a1a1a" stroke-width="0.6"/>
<text x="575.4" y="628.6" font-size="8" text-anchor="end" fill="#000" stroke="#000">Endo/Control</text>
<rect x="576.6" y="631.4" width="15.4" height="5.8" fill="#5ea893" stroke="#333" stroke-width="0.6"/>
<text x="575.4" y="637" font-size="8" text-anchor="end" fill="#000" stroke="#000">Endo/<tspan font-style="italic">Plp</tspan>-AAV-<tspan font-style="italic">IL-1β</tspan></text>
<rect x="219.1" y="644.3" width="49.2" height="74.3" fill="#020203" stroke="none" stroke-width="0.8"/>
<rect x="222.6" y="644.3" width="42.2" height="74.3" fill="url(#nz)" stroke="none" stroke-width="0.8"/>
<path d="M222.63 652.54h0.9v0.9h-0.9zM228.18 647.47h0.7v0.7h-0.7zM245.22 696.45h0.7v0.7h-0.7zM228.47 698.59h1.1v1.1h-1.1zM224.72 661.24h1.1v1.1h-1.1zM241.44 674.54h1.1v1.1h-1.1zM226.12 645.79h0.9v0.9h-0.9zM236.85 659.39h0.9v0.9h-0.9zM237.86 714.31h0.7v0.7h-0.7zM253.38 674.82h1.1v1.1h-1.1zM245.75 714.21h0.7v0.7h-0.7zM237.46 659.24h0.9v0.9h-0.9zM223.41 698.18h0.9v0.9h-0.9zM250.23 660.31h0.9v0.9h-0.9zM253.63 658.51h1.1v1.1h-1.1zM257.47 679.64h0.9v0.9h-0.9zM236.62 668.81h0.9v0.9h-0.9zM242.91 692h0.9v0.9h-0.9zM263.63 715.87h0.7v0.7h-0.7zM256.22 666.75h0.7v0.7h-0.7zM246.29 712.91h1.1v1.1h-1.1zM234.85 657.02h0.7v0.7h-0.7zM261.89 688.38h1.1v1.1h-1.1zM263.44 693.38h0.9v0.9h-0.9zM261.42 691.9h0.7v0.7h-0.7zM227.02 659.15h0.9v0.9h-0.9zM241.31 702.13h1.1v1.1h-1.1z" fill="#2c8c2c"/>
<polyline points="224.72,656.14 224.43,659.76 224.17,663.38 223.95,666.99 223.77,670.6 223.64,674.22 223.56,677.83 223.54,681.45 223.56,685.06 223.64,688.68 223.77,692.29 223.95,695.91 224.17,699.52 224.43,703.14 224.72,706.75 225.03,710.37 225.36,713.98 225.7,717.6" stroke="#d4d4d4" stroke-width="1.1" fill="none" stroke-dasharray="4.2,3"/>
<polyline points="262.47,645.3 262.28,648.91 262.1,652.53 261.93,656.14 261.77,659.76 261.64,663.38 261.53,666.99 261.45,670.6 261.41,674.22 261.4,677.83 261.43,681.45 261.49,685.06 261.59,688.68 261.72,692.29 261.89,695.91 262.09,699.52 262.32,703.14 262.56,706.75 262.82,710.37 263.1,713.98 263.38,717.6" stroke="#d4d4d4" stroke-width="1.1" fill="none" stroke-dasharray="4.2,3"/>
<line x1="223.7" y1="716.5" x2="230.9" y2="716.5" stroke="#e0e0e0" stroke-width="0.8"/>
<text x="264.7" y="716.8" font-size="7" text-anchor="end" fill="#e8e8e8" stroke="#e8e8e8">Sham</text>
<rect x="270.7" y="644.3" width="49.2" height="74.3" fill="#020203" stroke="none" stroke-width="0.8"/>
<rect x="274.2" y="644.3" width="42.2" height="74.3" fill="url(#nz)" stroke="none" stroke-width="0.8"/>
<path d="M277.04 659.96h0.9v0.9h-0.9zM303.87 661.73h0.7v0.7h-0.7zM304.81 651.65h1.1v1.1h-1.1zM287.97 648.48h1.1v1.1h-1.1zM314.51 708.94h0.9v0.9h-0.9zM299.67 684.06h0.7v0.7h-0.7zM296.37 679.88h0.7v0.7h-0.7zM309.84 714.19h0.7v0.7h-0.7zM292.98 668.8h0.7v0.7h-0.7zM315.94 652.5h0.7v0.7h-0.7zM292.66 675.92h0.7v0.7h-0.7zM297.7 660.92h0.9v0.9h-0.9zM287.08 712.38h0.7v0.7h-0.7zM296.8 703.86h0.9v0.9h-0.9zM298.26 686.5h0.7v0.7h-0.7zM299.06 661.11h0.9v0.9h-0.9zM277.1 692.89h0.9v0.9h-0.9zM292.14 649.4h0.9v0.9h-0.9zM274.09 657.5h0.7v0.7h-0.7zM304.04 650.96h0.7v0.7h-0.7zM279.42 663.35h1.1v1.1h-1.1zM286.75 672.49h0.7v0.7h-0.7zM299.16 680.2h1.1v1.1h-1.1zM314.81 694.78h0.9v0.9h-0.9zM294.94 714.26h0.7v0.7h-0.7zM300.4 682.79h1.1v1.1h-1.1zM283.77 672.41h1.1v1.1h-1.1zM304.93 658.61h1.1v1.1h-1.1zM279.26 694.46h0.9v0.9h-0.9zM301.62 654.4h0.7v0.7h-0.7zM315.51 680.89h0.7v0.7h-0.7zM314.8 687.77h0.7v0.7h-0.7zM307.42 667.45h0.9v0.9h-0.9zM313.55 677.75h0.7v0.7h-0.7zM315.96 676.12h0.9v0.9h-0.9zM286.78 711.51h1.1v1.1h-1.1zM316.02 659.75h1.1v1.1h-1.1zM298.95 679.68h0.9v0.9h-0.9zM290 704.49h0.7v0.7h-0.7zM299.95 708.19h0.7v0.7h-0.7zM275.79 688.13h0.7v0.7h-0.7zM302.85 700.44h0.9v0.9h-0.9zM283.23 673.64h0.7v0.7h-0.7zM314.9 716.24h0.7v0.7h-0.7zM300.47 648.55h1.1v1.1h-1.1zM312.76 644.71h0.9v0.9h-0.9zM274.39 649.32h0.9v0.9h-0.9zM277.33 709.03h1.1v1.1h-1.1zM283.3 693.98h0.9v0.9h-0.9zM306.21 649.77h1.1v1.1h-1.1zM281.54 661.3h0.7v0.7h-0.7zM278.05 714.31h0.7v0.7h-0.7zM315.9 662.41h0.9v0.9h-0.9zM289.46 691.66h0.9v0.9h-0.9zM281.71 716.46h1.1v1.1h-1.1zM303.54 645.14h1.1v1.1h-1.1zM295.75 699.42h0.7v0.7h-0.7zM278.35 694.26h1.1v1.1h-1.1zM313.46 671.93h0.9v0.9h-0.9zM276 691.42h0.7v0.7h-0.7zM293.02 695.92h0.7v0.7h-0.7zM286.85 692.49h0.7v0.7h-0.7zM309.99 647.16h0.9v0.9h-0.9zM315.31 703.75h0.9v0.9h-0.9zM301.77 706h0.7v0.7h-0.7zM294.18 683.52h0.7v0.7h-0.7zM274.87 671.44h0.9v0.9h-0.9zM279.67 715.08h0.9v0.9h-0.9zM286.49 717.25h1.1v1.1h-1.1zM283.97 695.36h0.7v0.7h-0.7zM280.14 701.94h0.9v0.9h-0.9zM284.23 688.98h0.7v0.7h-0.7zM308.23 688.85h1.1v1.1h-1.1zM306.84 664.94h0.7v0.7h-0.7zM286.73 682.71h0.9v0.9h-0.9zM289.41 685.91h1.1v1.1h-1.1zM312.29 680.4h0.9v0.9h-0.9zM284.75 696.45h1.1v1.1h-1.1zM280.1 669.7h1.1v1.1h-1.1zM278.23 669.79h1.1v1.1h-1.1zM282.24 694.49h0.7v0.7h-0.7zM300.9 688.34h1.1v1.1h-1.1zM289.43 686.82h1.1v1.1h-1.1zM298.61 664.81h0.7v0.7h-0.7zM300.15 705.94h0.9v0.9h-0.9zM291.79 645.57h0.7v0.7h-0.7zM303.14 708.21h1.1v1.1h-1.1zM276.38 684.74h0.7v0.7h-0.7zM288.75 674.84h1.1v1.1h-1.1zM303.43 653.22h1.1v1.1h-1.1zM314.23 649.9h1.1v1.1h-1.1zM304.28 673.93h0.7v0.7h-0.7zM304.91 705.35h1.1v1.1h-1.1zM300.57 656.59h0.7v0.7h-0.7zM291.37 684.57h0.9v0.9h-0.9zM316.46 657.94h1.1v1.1h-1.1zM280.23 687.9h0.7v0.7h-0.7zM278.81 705.52h1.1v1.1h-1.1zM311.95 668.78h1.1v1.1h-1.1zM305.96 706.85h0.9v0.9h-0.9zM294.63 713.53h0.9v0.9h-0.9zM302.67 670.58h0.9v0.9h-0.9zM304.6 660.53h0.9v0.9h-0.9zM283.31 699.85h0.7v0.7h-0.7zM297.91 665.09h0.7v0.7h-0.7zM288.52 662.73h0.7v0.7h-0.7zM283.8 685.46h0.7v0.7h-0.7zM313.08 678.18h0.7v0.7h-0.7zM293.03 658.23h0.7v0.7h-0.7z" fill="#2c8c2c"/>
<polyline points="278.1,645.3 277.73,648.91 277.37,652.53 277.03,656.14 276.71,659.76 276.43,663.38 276.19,666.99 276,670.6 275.86,674.22 275.77,677.83 275.74,681.45 275.77,685.06 275.86,688.68 276,692.29 276.19,695.91 276.43,699.52 276.71,703.14 277.03,706.75 277.37,710.37 277.73,713.98 278.1,717.6" stroke="#d4d4d4" stroke-width="1.1" fill="none" stroke-dasharray="4.2,3"/>
<polyline points="315.31,645.3 314.95,648.91 314.59,652.53 314.25,656.14 313.93,659.76 313.62,663.38 313.34,666.99 313.1,670.6 312.88,674.22 312.7,677.83 312.56,681.45 312.45,685.06 312.38,688.68 312.35,692.29 312.34,695.91 312.37,699.52 312.43,703.14 312.5,706.75 312.59,710.37 312.7,713.98 312.81,717.6" stroke="#d4d4d4" stroke-width="1.1" fill="none" stroke-dasharray="4.2,3"/>
<line x1="275.3" y1="716.5" x2="282.5" y2="716.5" stroke="#e0e0e0" stroke-width="0.8"/>
<text x="316.3" y="716.8" font-size="7" text-anchor="end" fill="#e8e8e8" stroke="#e8e8e8">Control</text>
<rect x="322.1" y="644.3" width="49.2" height="74.3" fill="#020203" stroke="none" stroke-width="0.8"/>
<rect x="325.6" y="644.3" width="42.2" height="74.3" fill="url(#nz)" stroke="none" stroke-width="0.8"/>
<path d="M349.74 690.64h0.9v0.9h-0.9zM345.79 708.82h1.1v1.1h-1.1zM364.36 657.97h1.1v1.1h-1.1zM364.2 713.46h0.9v0.9h-0.9zM366.84 683.02h0.9v0.9h-0.9zM337.29 693.62h0.7v0.7h-0.7zM338.12 666.97h0.9v0.9h-0.9zM363.93 698.77h1.1v1.1h-1.1zM354.36 704.06h0.9v0.9h-0.9zM365.19 685.03h1.1v1.1h-1.1zM335.71 707.67h0.9v0.9h-0.9zM367.44 665.15h0.7v0.7h-0.7zM367.89 649.15h0.9v0.9h-0.9zM330.42 667.88h0.7v0.7h-0.7zM347.25 667.76h0.9v0.9h-0.9zM347.77 666.61h0.9v0.9h-0.9zM341.91 694.69h0.7v0.7h-0.7zM340.85 690.29h1.1v1.1h-1.1zM349.28 653.38h0.7v0.7h-0.7zM329.13 703.54h0.7v0.7h-0.7zM327.59 664.49h0.7v0.7h-0.7zM362.56 693.91h0.9v0.9h-0.9zM344.88 679.01h0.9v0.9h-0.9zM350.57 677.6h0.9v0.9h-0.9zM346.1 645.01h0.9v0.9h-0.9zM341.48 701.51h0.7v0.7h-0.7zM353.94 662.17h1.1v1.1h-1.1zM352.52 697.3h1.1v1.1h-1.1zM362.39 710.99h1.1v1.1h-1.1zM351.55 646.76h0.7v0.7h-0.7zM363.36 712.49h0.9v0.9h-0.9zM345.09 675.24h1.1v1.1h-1.1zM342.66 678.94h1.1v1.1h-1.1zM366.65 679.62h0.7v0.7h-0.7zM357.89 667.58h0.9v0.9h-0.9zM332.34 714.53h1.1v1.1h-1.1zM338.91 714.11h1.1v1.1h-1.1zM332.55 697.38h0.9v0.9h-0.9zM361.01 676.11h0.9v0.9h-0.9zM365.08 707.99h1.1v1.1h-1.1zM353.48 646.85h1.1v1.1h-1.1z" fill="#2c8c2c"/>
<polyline points="328.66,645.3 328.29,648.91 327.94,652.53 327.6,656.14 327.28,659.76 327,663.38 326.76,666.99 326.57,670.6 326.43,674.22 326.34,677.83 326.31,681.45 326.34,685.06 326.43,688.68 326.57,692.29 326.76,695.91 327,699.52 327.28,703.14 327.6,706.75 327.94,710.37 328.29,713.98 328.66,717.6" stroke="#d4d4d4" stroke-width="1.1" fill="none" stroke-dasharray="4.2,3"/>
<polyline points="367.68,645.3 367.34,648.91 367,652.53 366.68,656.14 366.37,659.76 366.09,663.38 365.83,666.99 365.6,670.6 365.4,674.22 365.24,677.83 365.11,681.45 365.02,685.06 364.97,688.68 364.96,692.29 364.97,695.91 365.02,699.52 365.09,703.14 365.19,706.75 365.3,710.37 365.42,713.98 365.55,717.6" stroke="#d4d4d4" stroke-width="1.1" fill="none" stroke-dasharray="4.2,3"/>
<line x1="326.7" y1="716.5" x2="333.9" y2="716.5" stroke="#e0e0e0" stroke-width="0.8"/>
<text x="367.7" y="716.8" font-size="7" text-anchor="end" fill="#e8e8e8" stroke="#e8e8e8"><tspan font-style="italic">Plp-IL-1β</tspan></text>
<rect x="440.2" y="644.3" width="49.2" height="74.3" fill="#020203" stroke="none" stroke-width="0.8"/>
<rect x="443.7" y="644.3" width="42.2" height="74.3" fill="url(#nz)" stroke="none" stroke-width="0.8"/>
<path d="M459.66 661.21h0.7v0.7h-0.7zM482.17 672.57h1.1v1.1h-1.1zM455.45 664.59h1.1v1.1h-1.1zM476.17 644.98h0.7v0.7h-0.7zM471.78 705.82h0.9v0.9h-0.9zM484.19 716.62h1.1v1.1h-1.1zM456.98 663.18h1.1v1.1h-1.1zM470.02 648.66h1.1v1.1h-1.1zM444.63 707.84h1.1v1.1h-1.1zM452.53 697.53h1.1v1.1h-1.1zM463.73 685h0.7v0.7h-0.7zM448.55 711.24h1.1v1.1h-1.1zM482.12 657.33h0.9v0.9h-0.9zM456.93 689.74h1.1v1.1h-1.1zM468.16 676.18h0.7v0.7h-0.7zM456.22 655h1.1v1.1h-1.1zM447.24 645.88h1.1v1.1h-1.1zM464.51 673.24h0.7v0.7h-0.7zM446.91 650.01h1.1v1.1h-1.1zM460.56 683.32h0.9v0.9h-0.9zM466.52 708.83h1.1v1.1h-1.1zM463.23 657.22h0.7v0.7h-0.7zM474.14 697.09h1.1v1.1h-1.1zM480.98 699.38h0.7v0.7h-0.7zM485.82 695.99h0.9v0.9h-0.9zM471.51 699.25h1.1v1.1h-1.1zM466.05 688.37h0.7v0.7h-0.7zM484.74 662.02h0.9v0.9h-0.9zM458.89 677.99h1.1v1.1h-1.1zM460.94 677.29h1.1v1.1h-1.1zM455.12 659.81h1.1v1.1h-1.1z" fill="#2c8c2c"/>
<polyline points="446.97,656.14 446.65,659.76 446.36,663.38 446.11,666.99 445.91,670.6 445.77,674.22 445.68,677.83 445.65,681.45 445.68,685.06 445.77,688.68 445.91,692.29 446.11,695.91 446.36,699.52 446.65,703.14 446.97,706.75 447.32,710.37 447.69,713.98 448.07,717.6" stroke="#d4d4d4" stroke-width="1.1" fill="none" stroke-dasharray="4.2,3"/>
<polyline points="485.16,645.3 484.86,648.91 484.56,652.53 484.27,656.14 484,659.76 483.75,663.38 483.52,666.99 483.33,670.6 483.17,674.22 483.04,677.83 482.95,681.45 482.9,685.06 482.88,688.68 482.9,692.29 482.96,695.91 483.04,699.52 483.15,703.14 483.28,706.75 483.42,710.37 483.58,713.98 483.75,717.6" stroke="#d4d4d4" stroke-width="1.1" fill="none" stroke-dasharray="4.2,3"/>
<line x1="444.8" y1="716.5" x2="452" y2="716.5" stroke="#e0e0e0" stroke-width="0.8"/>
<text x="485.8" y="716.8" font-size="7" text-anchor="end" fill="#e8e8e8" stroke="#e8e8e8">Sham</text>
<rect x="491.4" y="644.3" width="49.2" height="74.3" fill="#020203" stroke="none" stroke-width="0.8"/>
<rect x="494.9" y="644.3" width="42.2" height="74.3" fill="url(#nz)" stroke="none" stroke-width="0.8"/>
<path d="M522.02 646.13h0.9v0.9h-0.9zM504.98 654.53h0.7v0.7h-0.7zM523.63 709.7h0.7v0.7h-0.7zM519.91 646.63h0.7v0.7h-0.7zM503.85 681.34h0.7v0.7h-0.7zM518.65 696.78h1.1v1.1h-1.1zM517.94 660.46h1.1v1.1h-1.1zM506.42 708.02h0.7v0.7h-0.7zM524.56 669.24h0.7v0.7h-0.7zM503.7 700.26h0.7v0.7h-0.7zM498.41 651.39h0.9v0.9h-0.9zM520.48 703.46h1.1v1.1h-1.1zM514.25 653.45h0.9v0.9h-0.9zM497.8 665.79h1.1v1.1h-1.1zM521.12 707.46h1.1v1.1h-1.1zM502.71 649.4h1.1v1.1h-1.1zM504.25 665.51h0.7v0.7h-0.7zM531.35 707.81h0.9v0.9h-0.9zM506.41 690.9h0.9v0.9h-0.9zM501.43 670.34h1.1v1.1h-1.1zM505.93 712.96h1.1v1.1h-1.1zM497.48 690.84h1.1v1.1h-1.1zM525.9 656.28h0.9v0.9h-0.9zM506.06 712.13h1.1v1.1h-1.1zM518.46 694.48h0.7v0.7h-0.7zM504.29 646.65h0.9v0.9h-0.9zM511.73 649.15h1.1v1.1h-1.1zM532.26 667.37h1.1v1.1h-1.1zM515.97 709.15h1.1v1.1h-1.1zM514.22 663.72h0.7v0.7h-0.7zM526.58 683.81h1.1v1.1h-1.1zM519.65 710.11h0.9v0.9h-0.9zM510.04 717.4h0.7v0.7h-0.7zM516.41 650.96h0.7v0.7h-0.7zM531.6 655.5h0.7v0.7h-0.7zM528.62 675.24h0.7v0.7h-0.7zM511.02 687.98h0.9v0.9h-0.9zM517.26 715.48h0.7v0.7h-0.7zM523.79 652.7h1.1v1.1h-1.1zM526.84 700.64h0.9v0.9h-0.9zM499.22 676.17h0.9v0.9h-0.9zM494.54 697.23h1.1v1.1h-1.1zM505.78 680.99h0.7v0.7h-0.7zM516.33 652.1h1.1v1.1h-1.1zM507.29 691.13h1.1v1.1h-1.1zM502.99 671.71h0.7v0.7h-0.7zM517.7 701.37h1.1v1.1h-1.1zM534.08 688.2h0.9v0.9h-0.9zM495.24 712.4h0.9v0.9h-0.9zM504.74 661.96h1.1v1.1h-1.1zM535.31 650.58h0.9v0.9h-0.9zM529.65 715.99h1.1v1.1h-1.1zM527.48 653.71h0.9v0.9h-0.9zM535.3 656.4h1.1v1.1h-1.1zM532.09 675.32h0.7v0.7h-0.7zM534.53 699.66h1.1v1.1h-1.1zM503.09 667.15h1.1v1.1h-1.1zM522.47 676.41h1.1v1.1h-1.1zM513.9 662.47h0.7v0.7h-0.7zM509.01 687.42h0.7v0.7h-0.7zM519.82 644.83h1.1v1.1h-1.1zM521.66 661.08h0.7v0.7h-0.7zM531.54 649.49h0.7v0.7h-0.7zM506.43 679.88h1.1v1.1h-1.1zM500.12 712.87h1.1v1.1h-1.1zM519.29 662.11h0.9v0.9h-0.9zM529.28 658.26h0.7v0.7h-0.7zM522.87 670.27h0.9v0.9h-0.9zM514.58 697.74h1.1v1.1h-1.1zM522.63 691.66h0.7v0.7h-0.7zM511.79 669.17h0.7v0.7h-0.7zM505.14 658.24h0.9v0.9h-0.9zM500.46 657.75h0.9v0.9h-0.9zM505.19 711.98h0.9v0.9h-0.9zM529.31 707.04h0.7v0.7h-0.7zM496.59 717.55h0.7v0.7h-0.7zM536.26 712.2h0.7v0.7h-0.7zM501.58 679.9h0.7v0.7h-0.7zM531.75 710.45h0.7v0.7h-0.7zM510.77 716.52h0.9v0.9h-0.9zM534.43 701.85h0.9v0.9h-0.9zM512.67 714.47h1.1v1.1h-1.1zM522.99 679.97h0.7v0.7h-0.7zM507.22 715.31h1.1v1.1h-1.1zM526.18 648.77h0.9v0.9h-0.9zM496.87 687.12h1.1v1.1h-1.1zM534.12 683.23h0.7v0.7h-0.7zM535.91 650.17h0.7v0.7h-0.7zM497.36 649.28h0.7v0.7h-0.7zM511.84 713.32h1.1v1.1h-1.1zM505.04 687.88h1.1v1.1h-1.1zM497.94 692.49h1.1v1.1h-1.1zM516.98 712.81h0.7v0.7h-0.7zM523.33 667.33h0.9v0.9h-0.9zM511.5 693.53h0.9v0.9h-0.9zM514.15 712.4h0.7v0.7h-0.7zM494.8 689.83h1.1v1.1h-1.1zM537.43 649.67h0.7v0.7h-0.7zM516.25 654.01h0.9v0.9h-0.9zM532.45 708.75h0.9v0.9h-0.9zM506.71 676.42h1.1v1.1h-1.1zM524.79 689.14h1.1v1.1h-1.1zM517.25 693.25h1.1v1.1h-1.1zM507.33 692.93h0.7v0.7h-0.7zM505.82 709.52h1.1v1.1h-1.1zM518.3 664.26h1.1v1.1h-1.1zM503.5 669.43h1.1v1.1h-1.1zM521.8 663.65h0.9v0.9h-0.9zM505.25 710.87h0.7v0.7h-0.7zM498.39 675.35h0.9v0.9h-0.9zM496.3 668.75h0.7v0.7h-0.7zM521.92 663.5h1.1v1.1h-1.1zM513.49 696.03h1.1v1.1h-1.1zM494.82 649.82h1.1v1.1h-1.1zM533.45 684.29h0.9v0.9h-0.9zM519.56 655.16h0.7v0.7h-0.7zM496.21 671.03h0.7v0.7h-0.7zM533.23 659.7h0.7v0.7h-0.7zM523.21 670.22h1.1v1.1h-1.1zM532.59 674.09h1.1v1.1h-1.1zM526.78 712.16h0.7v0.7h-0.7zM531.75 715.86h0.7v0.7h-0.7zM532.48 646.12h1.1v1.1h-1.1zM534.34 701.65h0.9v0.9h-0.9zM529.06 707.64h0.7v0.7h-0.7zM505.93 702.01h0.7v0.7h-0.7zM510.93 647.14h0.9v0.9h-0.9zM504.01 704.16h0.9v0.9h-0.9zM509.51 704.45h0.7v0.7h-0.7zM504.03 692.68h0.9v0.9h-0.9zM508.58 707.66h0.9v0.9h-0.9zM509.57 681.64h1.1v1.1h-1.1zM536.79 683.6h0.7v0.7h-0.7zM499.38 715.43h0.7v0.7h-0.7zM519.48 716.39h0.7v0.7h-0.7zM499.08 676.15h1.1v1.1h-1.1zM528.37 676.29h1.1v1.1h-1.1z" fill="#2c8c2c"/>
<polyline points="499.12,645.3 498.75,648.91 498.38,652.53 498.02,656.14 497.7,659.76 497.41,663.38 497.16,666.99 496.97,670.6 496.82,674.22 496.73,677.83 496.7,681.45 496.73,685.06 496.82,688.68 496.97,692.29 497.16,695.91 497.41,699.52 497.7,703.14 498.02,706.75 498.38,710.37 498.75,713.98 499.12,717.6" stroke="#d4d4d4" stroke-width="1.1" fill="none" stroke-dasharray="4.2,3"/>
<polyline points="534.94,645.3 534.76,648.91 534.59,652.53 534.43,656.14 534.28,659.76 534.16,663.38 534.06,666.99 533.99,670.6 533.95,674.22 533.95,677.83 533.99,681.45 534.06,685.06 534.17,688.68 534.32,692.29 534.49,695.91 534.7,699.52 534.94,703.14 535.19,706.75 535.46,710.37 535.75,713.98 536.04,717.6" stroke="#d4d4d4" stroke-width="1.1" fill="none" stroke-dasharray="4.2,3"/>
<line x1="496" y1="716.5" x2="503.2" y2="716.5" stroke="#e0e0e0" stroke-width="0.8"/>
<text x="537" y="716.8" font-size="7" text-anchor="end" fill="#e8e8e8" stroke="#e8e8e8">Control</text>
<rect x="542.6" y="644.3" width="49.2" height="74.3" fill="#020203" stroke="none" stroke-width="0.8"/>
<rect x="546.1" y="644.3" width="42.2" height="74.3" fill="url(#nz)" stroke="none" stroke-width="0.8"/>
<path d="M547.27 695.33h0.7v0.7h-0.7zM587.05 671.41h1.1v1.1h-1.1zM579.86 677.52h0.9v0.9h-0.9zM571.91 681.98h1.1v1.1h-1.1zM561.69 706.77h1.1v1.1h-1.1zM583.9 713.99h0.9v0.9h-0.9zM553.21 706.67h0.7v0.7h-0.7zM561.84 651.32h1.1v1.1h-1.1zM581.65 653.73h0.9v0.9h-0.9zM571.4 681.44h1.1v1.1h-1.1zM553.46 648.96h1.1v1.1h-1.1zM548.24 713.34h0.7v0.7h-0.7zM558.39 709.45h1.1v1.1h-1.1zM572.54 716.74h1.1v1.1h-1.1zM573.85 691.93h0.7v0.7h-0.7zM549.67 689.95h1.1v1.1h-1.1zM584.43 668.58h1.1v1.1h-1.1zM574.29 676.46h0.7v0.7h-0.7zM582.25 701.54h0.7v0.7h-0.7zM583.46 663.95h1.1v1.1h-1.1zM553.64 688.61h1.1v1.1h-1.1zM574.23 666.07h1.1v1.1h-1.1zM586.87 696.72h0.7v0.7h-0.7zM566.04 674.71h0.7v0.7h-0.7zM561.07 691.58h1.1v1.1h-1.1zM577.18 686.38h0.9v0.9h-0.9zM550.31 683.53h0.9v0.9h-0.9zM570.96 655.04h0.7v0.7h-0.7zM584.63 715.89h0.7v0.7h-0.7zM551.04 645.55h0.9v0.9h-0.9zM550.72 683.32h0.9v0.9h-0.9zM586.09 695.83h0.9v0.9h-0.9zM582.63 672.56h1.1v1.1h-1.1zM547.04 696.91h1.1v1.1h-1.1zM563.08 694.51h1.1v1.1h-1.1zM563.03 687.86h0.9v0.9h-0.9zM585.02 668.29h0.9v0.9h-0.9zM547.84 683.7h0.7v0.7h-0.7zM576.11 715.03h1.1v1.1h-1.1zM555.68 666.28h0.9v0.9h-0.9zM553.71 660.17h0.9v0.9h-0.9zM581.14 672.82h0.7v0.7h-0.7zM565.4 648.79h0.7v0.7h-0.7zM546.63 707.41h1.1v1.1h-1.1zM583.96 681.22h1.1v1.1h-1.1z" fill="#2c8c2c"/>
<polyline points="550.53,645.3 550.09,648.91 549.66,652.53 549.26,656.14 548.88,659.76 548.54,663.38 548.26,666.99 548.03,670.6 547.86,674.22 547.76,677.83 547.72,681.45 547.76,685.06 547.86,688.68 548.03,692.29 548.26,695.91 548.54,699.52 548.88,703.14 549.26,706.75 549.66,710.37 550.09,713.98 550.53,717.6" stroke="#d4d4d4" stroke-width="1.1" fill="none" stroke-dasharray="4.2,3"/>
<polyline points="587.32,645.3 587.09,648.91 586.87,652.53 586.66,656.14 586.47,659.76 586.3,663.38 586.15,666.99 586.04,670.6 585.95,674.22 585.91,677.83 585.89,681.45 585.92,685.06 585.98,688.68 586.08,692.29 586.21,695.91 586.37,699.52 586.56,703.14 586.77,706.75 586.99,710.37 587.23,713.98 587.47,717.6" stroke="#d4d4d4" stroke-width="1.1" fill="none" stroke-dasharray="4.2,3"/>
<line x1="547.2" y1="716.5" x2="554.4" y2="716.5" stroke="#e0e0e0" stroke-width="0.8"/>
<text x="588.2" y="716.8" font-size="7" text-anchor="end" fill="#e8e8e8" stroke="#e8e8e8"><tspan font-style="italic">Plp-IL-1β</tspan></text>
<text x="223" y="652.3" font-size="8" text-anchor="start" fill="#3ad23a" stroke="#3ad23a">F4/80</text>
<text x="442.8" y="652.3" font-size="8" text-anchor="start" fill="#3ad23a" stroke="#3ad23a">F4/80</text>
<line x1="396.5" y1="619.7" x2="396.5" y2="718.5" stroke="#000" stroke-width="0.8"/>
<line x1="394.4" y1="619.5" x2="396.4" y2="619.5" stroke="#000" stroke-width="0.8"/>
<text x="393.6" y="622.44" font-size="7.6" text-anchor="end" fill="#000" stroke="#000">50</text>
<line x1="394.4" y1="639.5" x2="396.4" y2="639.5" stroke="#000" stroke-width="0.8"/>
<text x="393.6" y="642.2" font-size="7.6" text-anchor="end" fill="#000" stroke="#000">40</text>
<line x1="394.4" y1="659.5" x2="396.4" y2="659.5" stroke="#000" stroke-width="0.8"/>
<text x="393.6" y="661.96" font-size="7.6" text-anchor="end" fill="#000" stroke="#000">30</text>
<line x1="394.4" y1="678.5" x2="396.4" y2="678.5" stroke="#000" stroke-width="0.8"/>
<text x="393.6" y="681.72" font-size="7.6" text-anchor="end" fill="#000" stroke="#000">20</text>
<line x1="394.4" y1="698.5" x2="396.4" y2="698.5" stroke="#000" stroke-width="0.8"/>
<text x="393.6" y="701.48" font-size="7.6" text-anchor="end" fill="#000" stroke="#000">10</text>
<line x1="394.4" y1="718.5" x2="396.4" y2="718.5" stroke="#000" stroke-width="0.8"/>
<text x="393.6" y="721.24" font-size="7.6" text-anchor="end" fill="#000" stroke="#000">0</text>
<rect x="401.5" y="686.09" width="9.1" height="32.41" fill="#fff" stroke="#000" stroke-width="0.6"/>
<line x1="406.5" y1="683.72" x2="406.5" y2="686.09" stroke="#000" stroke-width="0.6"/>
<line x1="404.85" y1="683.5" x2="407.25" y2="683.5" stroke="#000" stroke-width="0.6"/>
<line x1="404.85" y1="686.5" x2="407.25" y2="686.5" stroke="#000" stroke-width="0.6"/>
<circle cx="404.05" cy="683.92" r="1.3" fill="#fff" stroke="#777" stroke-width="0.5"/>
<circle cx="408.05" cy="685.3" r="1.3" fill="#fff" stroke="#777" stroke-width="0.5"/>
<circle cx="406.05" cy="688.86" r="1.3" fill="#fff" stroke="#777" stroke-width="0.5"/>
<rect x="413" y="636.1" width="8.9" height="82.4" fill="#1a1a1a" stroke="#1a1a1a" stroke-width="0.6"/>
<line x1="417.5" y1="633.73" x2="417.5" y2="636.1" stroke="#000" stroke-width="0.6"/>
<line x1="416.25" y1="633.5" x2="418.65" y2="633.5" stroke="#000" stroke-width="0.6"/>
<line x1="416.25" y1="636.5" x2="418.65" y2="636.5" stroke="#000" stroke-width="0.6"/>
<circle cx="415.45" cy="631.56" r="1.3" fill="#fff" stroke="#777" stroke-width="0.5"/>
<circle cx="419.45" cy="631.56" r="1.3" fill="#fff" stroke="#777" stroke-width="0.5"/>
<circle cx="417.45" cy="638.47" r="1.3" fill="#fff" stroke="#777" stroke-width="0.5"/>
<rect x="424.4" y="683.72" width="9.3" height="34.78" fill="#5ea893" stroke="#333" stroke-width="0.6"/>
<line x1="429.5" y1="681.35" x2="429.5" y2="683.72" stroke="#000" stroke-width="0.6"/>
<line x1="427.85" y1="681.5" x2="430.25" y2="681.5" stroke="#000" stroke-width="0.6"/>
<line x1="427.85" y1="683.5" x2="430.25" y2="683.5" stroke="#000" stroke-width="0.6"/>
<circle cx="427.05" cy="679.97" r="1.3" fill="#fff" stroke="#777" stroke-width="0.5"/>
<circle cx="431.05" cy="679.97" r="1.3" fill="#fff" stroke="#777" stroke-width="0.5"/>
<circle cx="429.05" cy="685.9" r="1.3" fill="#fff" stroke="#777" stroke-width="0.5"/>
<text x="384.4" y="669.1" font-size="8.4" stroke="#000" text-anchor="middle" transform="rotate(-90 384.4 669.1)">F4/80<tspan font-size="4.6" dy="-2.8">+</tspan><tspan dy="2.8"> cells in 4.5x10</tspan><tspan font-size="4.6" dy="-2.8">5</tspan><tspan dy="2.8"> μm</tspan><tspan font-size="4.6" dy="-2.8">2</tspan></text>
<text x="424" y="622.6" font-size="8" text-anchor="middle" fill="#000" stroke="#000">Endo</text>
<line x1="418.7" y1="623.5" x2="429.3" y2="623.5" stroke="#000" stroke-width="0.5"/>
<line x1="406.5" y1="633.3" x2="406.5" y2="676" stroke="#000" stroke-width="0.55"/>
<line x1="406.2" y1="633.5" x2="415" y2="633.5" stroke="#000" stroke-width="0.55"/>
<line x1="420.5" y1="633.5" x2="428.7" y2="633.5" stroke="#000" stroke-width="0.55"/>
<line x1="428.5" y1="633.3" x2="428.5" y2="676" stroke="#000" stroke-width="0.55"/>
<text x="0" y="0" font-size="7.2" text-anchor="middle" fill="#000" stroke="#000" transform="translate(404.3 647.3) rotate(-90) scale(0.86 1)">P&lt;0.0001</text>
<text x="0" y="0" font-size="7.2" text-anchor="middle" fill="#000" stroke="#000" transform="translate(435.2 648) rotate(-90) scale(0.86 1)">P&lt;0.0001</text>
<line x1="614.5" y1="619.9" x2="614.5" y2="717.9" stroke="#000" stroke-width="0.8"/>
<line x1="612.9" y1="619.5" x2="614.9" y2="619.5" stroke="#000" stroke-width="0.8"/>
<text x="612.1" y="622.64" font-size="7.6" text-anchor="end" fill="#000" stroke="#000">60</text>
<line x1="612.9" y1="652.5" x2="614.9" y2="652.5" stroke="#000" stroke-width="0.8"/>
<text x="612.1" y="655.3" font-size="7.6" text-anchor="end" fill="#000" stroke="#000">40</text>
<line x1="612.9" y1="685.5" x2="614.9" y2="685.5" stroke="#000" stroke-width="0.8"/>
<text x="612.1" y="687.97" font-size="7.6" text-anchor="end" fill="#000" stroke="#000">20</text>
<line x1="612.9" y1="717.5" x2="614.9" y2="717.5" stroke="#000" stroke-width="0.8"/>
<text x="612.1" y="720.64" font-size="7.6" text-anchor="end" fill="#000" stroke="#000">0</text>
<rect x="619.6" y="680.82" width="9.1" height="37.08" fill="#fff" stroke="#000" stroke-width="0.6"/>
<line x1="624.5" y1="678.86" x2="624.5" y2="680.82" stroke="#000" stroke-width="0.6"/>
<line x1="622.95" y1="678.5" x2="625.35" y2="678.5" stroke="#000" stroke-width="0.6"/>
<line x1="622.95" y1="680.5" x2="625.35" y2="680.5" stroke="#000" stroke-width="0.6"/>
<circle cx="622.15" cy="681.15" r="1.3" fill="#fff" stroke="#777" stroke-width="0.5"/>
<circle cx="626.15" cy="680.33" r="1.3" fill="#fff" stroke="#777" stroke-width="0.5"/>
<circle cx="624.15" cy="681.97" r="1.3" fill="#fff" stroke="#777" stroke-width="0.5"/>
<rect x="630.9" y="640.15" width="9.4" height="77.75" fill="#1a1a1a" stroke="#1a1a1a" stroke-width="0.6"/>
<line x1="635.5" y1="638.19" x2="635.5" y2="640.15" stroke="#000" stroke-width="0.6"/>
<line x1="634.4" y1="638.5" x2="636.8" y2="638.5" stroke="#000" stroke-width="0.6"/>
<line x1="634.4" y1="640.5" x2="636.8" y2="640.5" stroke="#000" stroke-width="0.6"/>
<circle cx="633.6" cy="637.05" r="1.3" fill="#fff" stroke="#777" stroke-width="0.5"/>
<circle cx="637.6" cy="637.05" r="1.3" fill="#fff" stroke="#777" stroke-width="0.5"/>
<circle cx="635.6" cy="646.03" r="1.3" fill="#fff" stroke="#777" stroke-width="0.5"/>
<rect x="642.4" y="680.66" width="9.4" height="37.24" fill="#5ea893" stroke="#333" stroke-width="0.6"/>
<line x1="647.5" y1="678.7" x2="647.5" y2="680.66" stroke="#000" stroke-width="0.6"/>
<line x1="645.9" y1="678.5" x2="648.3" y2="678.5" stroke="#000" stroke-width="0.6"/>
<line x1="645.9" y1="680.5" x2="648.3" y2="680.5" stroke="#000" stroke-width="0.6"/>
<circle cx="645.1" cy="679.35" r="1.3" fill="#fff" stroke="#777" stroke-width="0.5"/>
<circle cx="649.1" cy="678.7" r="1.3" fill="#fff" stroke="#777" stroke-width="0.5"/>
<circle cx="647.1" cy="681.15" r="1.3" fill="#fff" stroke="#777" stroke-width="0.5"/>
<text x="602.9" y="668.9" font-size="8.4" stroke="#000" text-anchor="middle" transform="rotate(-90 602.9 668.9)">F4/80<tspan font-size="4.6" dy="-2.8">+</tspan><tspan dy="2.8"> cells in 4.5x10</tspan><tspan font-size="4.6" dy="-2.8">5</tspan><tspan dy="2.8"> μm</tspan><tspan font-size="4.6" dy="-2.8">2</tspan></text>
<text x="641.3" y="629" font-size="8" text-anchor="middle" fill="#000" stroke="#000">Endo</text>
<line x1="624.5" y1="638" x2="624.5" y2="674.2" stroke="#000" stroke-width="0.55"/>
<line x1="624.3" y1="638.5" x2="633" y2="638.5" stroke="#000" stroke-width="0.55"/>
<line x1="639" y1="638.5" x2="647.6" y2="638.5" stroke="#000" stroke-width="0.55"/>
<line x1="647.5" y1="638" x2="647.5" y2="674.2" stroke="#000" stroke-width="0.55"/>
<text x="0" y="0" font-size="7.2" text-anchor="middle" fill="#000" stroke="#000" transform="translate(623.5 653) rotate(-90) scale(0.86 1)">P&lt;0.0001</text>
<text x="0" y="0" font-size="7.2" text-anchor="middle" fill="#000" stroke="#000" transform="translate(654.1 653) rotate(-90) scale(0.86 1)">P&lt;0.0001</text>
</svg>
</body></html>
